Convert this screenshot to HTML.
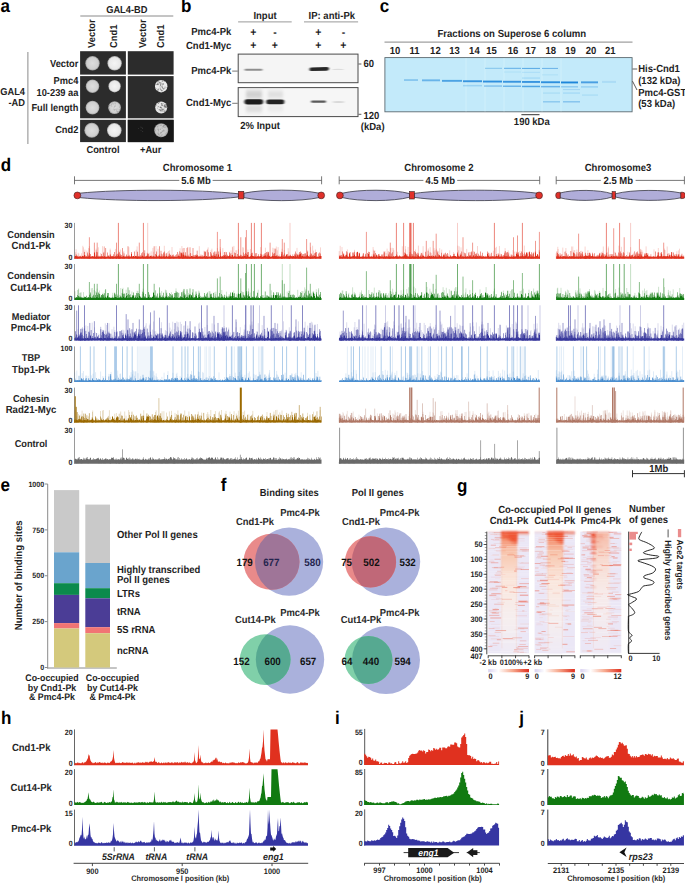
<!DOCTYPE html>
<html><head><meta charset="utf-8"><style>
html,body{margin:0;padding:0;background:#fff;width:685px;height:883px;overflow:hidden}
svg{display:block;text-rendering:geometricPrecision}
</style></head><body>
<svg width="685" height="883" viewBox="0 0 685 883" font-family="'Liberation Sans', sans-serif" font-weight="bold" font-size="9.5" fill="#1e1e1e">
<defs><radialGradient id="col"><stop offset="0" stop-color="#dedede"/><stop offset="0.8" stop-color="#cfcfcf"/><stop offset="1" stop-color="#9a9a9a"/></radialGradient>
<radialGradient id="colw"><stop offset="0" stop-color="#f4f4f4"/><stop offset="0.8" stop-color="#e8e8e8"/><stop offset="1" stop-color="#a8a8a8"/></radialGradient>
<radialGradient id="colg"><stop offset="0" stop-color="#d4d4d4"/><stop offset="0.85" stop-color="#c4c4c4"/><stop offset="1" stop-color="#8a8a8a"/></radialGradient>
<filter id="blur1" x="-20%" y="-200%" width="140%" height="500%"><feGaussianBlur stdDeviation="0.7"/></filter>
<filter id="blur2" x="-20%" y="-200%" width="140%" height="500%"><feGaussianBlur stdDeviation="1.2"/></filter>
<filter id="bb" x="-30%" y="-300%" width="160%" height="700%"><feGaussianBlur stdDeviation="1.2 0.75"/></filter>
<filter id="bb2" x="-30%" y="-100%" width="160%" height="300%"><feGaussianBlur stdDeviation="1.5 2.2"/></filter>
<filter id="blur05" x="-5%" y="-100%" width="110%" height="300%"><feGaussianBlur stdDeviation="0.45"/></filter>
<clipPath id="v1"><circle cx="271.5" cy="561.8" r="28"/></clipPath>
<clipPath id="v2"><circle cx="370.5" cy="561.9" r="25.6"/></clipPath>
<clipPath id="v3"><circle cx="265.2" cy="659.6" r="25.4"/></clipPath>
<clipPath id="v4"><circle cx="368.5" cy="660" r="24"/></clipPath>
<linearGradient id="midg" x1="0" y1="0" x2="0" y2="1"><stop offset="0" stop-color="#f26a4a"/><stop offset="0.06" stop-color="#f4906f"/><stop offset="0.18" stop-color="#f8c8b0"/><stop offset="0.4" stop-color="#fae6dc"/><stop offset="0.7" stop-color="#f6eeee"/><stop offset="1" stop-color="#efeaf5"/></linearGradient>
<linearGradient id="midg3" x1="0" y1="0" x2="0" y2="1"><stop offset="0" stop-color="#f6b8a4"/><stop offset="0.2" stop-color="#f8d8cc"/><stop offset="0.5" stop-color="#f7ebea"/><stop offset="1" stop-color="#efeaf5"/></linearGradient>
<linearGradient id="cbar" x1="0" y1="0" x2="1" y2="0"><stop offset="0" stop-color="#d9d2f0"/><stop offset="0.25" stop-color="#ffffff"/><stop offset="0.6" stop-color="#f7a98e"/><stop offset="1" stop-color="#df2d1c"/></linearGradient>
<filter id="hb" x="-10%" y="-10%" width="120%" height="120%"><feGaussianBlur stdDeviation="1.1 0.9"/></filter>
<filter id="hs" x="-10%" y="-100%" width="120%" height="300%"><feGaussianBlur stdDeviation="0.6 0.3"/></filter>
<linearGradient id="midg" x1="0" y1="0" x2="0" y2="1"><stop offset="0" stop-color="#f6b8a0"/><stop offset="0.08" stop-color="#f8cfbd"/><stop offset="0.18" stop-color="#fadfd3"/><stop offset="0.35" stop-color="#fbf0ec"/><stop offset="0.6" stop-color="#f8f3f5"/><stop offset="0.8" stop-color="#f0edf7"/><stop offset="1" stop-color="#ece9f6"/></linearGradient>
<linearGradient id="midg3" x1="0" y1="0" x2="0" y2="1"><stop offset="0" stop-color="#f9dcd0"/><stop offset="0.3" stop-color="#faeae4"/><stop offset="0.6" stop-color="#f7f0f2"/><stop offset="1" stop-color="#eeebf7"/></linearGradient></defs>
<text transform="translate(0.4,12.2) scale(1,1.08)" font-size="17" fill="#000">a</text>
<text transform="translate(180.9,12.2) scale(1,1.08)" font-size="17" fill="#000">b</text>
<text transform="translate(379.7,12.2) scale(1,1.08)" font-size="17" fill="#000">c</text>
<text transform="translate(0.7,170.7) scale(1,1.08)" font-size="17" fill="#000">d</text>
<text transform="translate(0.6,491.3) scale(1,1.08)" font-size="17" fill="#000">e</text>
<text transform="translate(220.8,491.1) scale(1,1.08)" font-size="17" fill="#000">f</text>
<text transform="translate(457,491.5) scale(1,1.08)" font-size="17" fill="#000">g</text>
<text transform="translate(1,723.9) scale(1,1.08)" font-size="17" fill="#000">h</text>
<text transform="translate(335,723.6) scale(1,1.08)" font-size="17" fill="#000">i</text>
<text transform="translate(519.2,723.6) scale(1,1.08)" font-size="17" fill="#000">j</text>
<text transform="translate(126.8,12.8) scale(1,1.08)" text-anchor="middle" font-size="9.3">GAL4-BD</text>
<line x1="80.3" y1="16" x2="173.3" y2="16" stroke="#8a8a8a" stroke-width="1"/>
<text transform="translate(95,47.9) rotate(-90) scale(1,1.08)" font-size="9.3">Vector</text>
<text transform="translate(117,47.9) rotate(-90) scale(1,1.08)" font-size="9.3">Cnd1</text>
<text transform="translate(145.7,47.9) rotate(-90) scale(1,1.08)" font-size="9.3">Vector</text>
<text transform="translate(163.8,47.9) rotate(-90) scale(1,1.08)" font-size="9.3">Cnd1</text>
<rect x="80.1" y="51.2" width="45.8" height="23.4" fill="#2c2c2c"/>
<rect x="80.1" y="76.1" width="45.8" height="42.2" fill="#2c2c2c"/>
<rect x="80.1" y="119.8" width="45.8" height="22.3" fill="#2c2c2c"/>
<rect x="127.8" y="51.2" width="45.8" height="23.4" fill="#2c2c2c"/>
<rect x="127.8" y="76.1" width="45.8" height="42.2" fill="#2c2c2c"/>
<rect x="127.8" y="119.8" width="45.8" height="22.3" fill="#2c2c2c"/>
<rect x="127.8" y="119.8" width="45.8" height="22.3" fill="#171717"/>
<circle cx="92.5" cy="63.3" r="7.2" fill="url(#col)"/>
<circle cx="114.6" cy="63.3" r="7.2" fill="url(#colw)"/>
<circle cx="92.5" cy="86.2" r="6.7" fill="url(#col)"/>
<circle cx="114.6" cy="86.2" r="6.2" fill="url(#colw)"/>
<circle cx="92.5" cy="107.6" r="6.9" fill="url(#col)"/>
<circle cx="114.6" cy="107.6" r="6.4" fill="url(#col)"/>
<circle cx="91.8" cy="130.3" r="7.5" fill="url(#col)"/>
<circle cx="114.3" cy="130.3" r="7.3" fill="url(#colw)"/>
<circle cx="161.2" cy="130.3" r="7" fill="url(#colg)"/>
<circle cx="161.2" cy="86.2" r="6.2" fill="#ececec"/>
<circle cx="160.21" cy="88.18" r="0.64" fill="#5a5a5a" fill-opacity="0.55"/>
<circle cx="164.95" cy="88.04" r="0.51" fill="#5a5a5a" fill-opacity="0.55"/>
<circle cx="165" cy="87.65" r="0.37" fill="#5a5a5a" fill-opacity="0.55"/>
<circle cx="159.82" cy="86.81" r="0.39" fill="#5a5a5a" fill-opacity="0.55"/>
<circle cx="156.59" cy="88.57" r="0.41" fill="#5a5a5a" fill-opacity="0.55"/>
<circle cx="161.96" cy="90.65" r="0.78" fill="#5a5a5a" fill-opacity="0.55"/>
<circle cx="158.02" cy="84.53" r="0.79" fill="#5a5a5a" fill-opacity="0.55"/>
<circle cx="166.26" cy="87.72" r="0.48" fill="#5a5a5a" fill-opacity="0.55"/>
<circle cx="162.41" cy="87.74" r="0.49" fill="#5a5a5a" fill-opacity="0.55"/>
<circle cx="162.18" cy="83.98" r="0.61" fill="#5a5a5a" fill-opacity="0.55"/>
<circle cx="158.96" cy="83.53" r="0.6" fill="#5a5a5a" fill-opacity="0.55"/>
<circle cx="162.49" cy="86.74" r="0.44" fill="#5a5a5a" fill-opacity="0.55"/>
<circle cx="159.62" cy="82.82" r="0.49" fill="#5a5a5a" fill-opacity="0.55"/>
<circle cx="157.9" cy="84.23" r="0.48" fill="#5a5a5a" fill-opacity="0.55"/>
<circle cx="162.51" cy="81.62" r="0.46" fill="#5a5a5a" fill-opacity="0.55"/>
<circle cx="157.51" cy="84.34" r="0.74" fill="#5a5a5a" fill-opacity="0.55"/>
<circle cx="160.81" cy="83.16" r="0.79" fill="#5a5a5a" fill-opacity="0.55"/>
<circle cx="163.92" cy="88.69" r="0.69" fill="#5a5a5a" fill-opacity="0.55"/>
<circle cx="163.5" cy="89.46" r="0.37" fill="#5a5a5a" fill-opacity="0.55"/>
<circle cx="158.75" cy="81.86" r="0.61" fill="#5a5a5a" fill-opacity="0.55"/>
<circle cx="163.47" cy="83.95" r="0.66" fill="#5a5a5a" fill-opacity="0.55"/>
<circle cx="157.6" cy="83.77" r="0.56" fill="#5a5a5a" fill-opacity="0.55"/>
<circle cx="164.17" cy="81.52" r="0.56" fill="#5a5a5a" fill-opacity="0.55"/>
<circle cx="160.48" cy="84.99" r="0.67" fill="#5a5a5a" fill-opacity="0.55"/>
<circle cx="157.78" cy="81.66" r="0.72" fill="#5a5a5a" fill-opacity="0.55"/>
<circle cx="160.44" cy="89.66" r="0.65" fill="#5a5a5a" fill-opacity="0.55"/>
<circle cx="165.04" cy="86.75" r="0.43" fill="#5a5a5a" fill-opacity="0.55"/>
<circle cx="162.23" cy="87.13" r="0.7" fill="#5a5a5a" fill-opacity="0.55"/>
<circle cx="163.15" cy="88.26" r="0.53" fill="#5a5a5a" fill-opacity="0.55"/>
<circle cx="162.32" cy="85.03" r="0.55" fill="#5a5a5a" fill-opacity="0.55"/>
<circle cx="156.1" cy="84.56" r="0.72" fill="#5a5a5a" fill-opacity="0.55"/>
<circle cx="163.18" cy="83.93" r="0.54" fill="#5a5a5a" fill-opacity="0.55"/>
<circle cx="157.81" cy="90.36" r="0.78" fill="#5a5a5a" fill-opacity="0.55"/>
<circle cx="162.6" cy="88.15" r="0.45" fill="#5a5a5a" fill-opacity="0.55"/>
<circle cx="161.62" cy="90.15" r="0.62" fill="#5a5a5a" fill-opacity="0.55"/>
<circle cx="161.17" cy="86.56" r="0.54" fill="#5a5a5a" fill-opacity="0.55"/>
<circle cx="158.28" cy="89.34" r="0.78" fill="#5a5a5a" fill-opacity="0.55"/>
<circle cx="159.7" cy="82.39" r="0.63" fill="#5a5a5a" fill-opacity="0.55"/>
<circle cx="160.61" cy="85.01" r="0.75" fill="#5a5a5a" fill-opacity="0.55"/>
<circle cx="162.2" cy="80.96" r="0.71" fill="#5a5a5a" fill-opacity="0.55"/>
<circle cx="161.2" cy="107.6" r="6" fill="#e6e6e6"/>
<circle cx="158.48" cy="109.78" r="0.4" fill="#4a4a4a" fill-opacity="0.55"/>
<circle cx="160.28" cy="106.57" r="0.38" fill="#4a4a4a" fill-opacity="0.55"/>
<circle cx="161.77" cy="109.75" r="0.5" fill="#4a4a4a" fill-opacity="0.55"/>
<circle cx="161.28" cy="107.63" r="0.42" fill="#4a4a4a" fill-opacity="0.55"/>
<circle cx="163.87" cy="109.58" r="0.36" fill="#4a4a4a" fill-opacity="0.55"/>
<circle cx="164.25" cy="104.53" r="0.42" fill="#4a4a4a" fill-opacity="0.55"/>
<circle cx="161.15" cy="110.85" r="0.51" fill="#4a4a4a" fill-opacity="0.55"/>
<circle cx="164.84" cy="111.15" r="0.8" fill="#4a4a4a" fill-opacity="0.55"/>
<circle cx="157.45" cy="108.41" r="0.39" fill="#4a4a4a" fill-opacity="0.55"/>
<circle cx="163.79" cy="109.53" r="0.47" fill="#4a4a4a" fill-opacity="0.55"/>
<circle cx="162.25" cy="105.65" r="0.36" fill="#4a4a4a" fill-opacity="0.55"/>
<circle cx="165.02" cy="106.38" r="0.42" fill="#4a4a4a" fill-opacity="0.55"/>
<circle cx="160.33" cy="107.36" r="0.59" fill="#4a4a4a" fill-opacity="0.55"/>
<circle cx="166.28" cy="106.91" r="0.66" fill="#4a4a4a" fill-opacity="0.55"/>
<circle cx="160.97" cy="110.93" r="0.43" fill="#4a4a4a" fill-opacity="0.55"/>
<circle cx="161.75" cy="103.61" r="0.7" fill="#4a4a4a" fill-opacity="0.55"/>
<circle cx="159.95" cy="109.89" r="0.72" fill="#4a4a4a" fill-opacity="0.55"/>
<circle cx="166.27" cy="107.12" r="0.71" fill="#4a4a4a" fill-opacity="0.55"/>
<circle cx="163.18" cy="103.28" r="0.45" fill="#4a4a4a" fill-opacity="0.55"/>
<circle cx="157.93" cy="107.24" r="0.36" fill="#4a4a4a" fill-opacity="0.55"/>
<circle cx="164.07" cy="108.11" r="0.47" fill="#4a4a4a" fill-opacity="0.55"/>
<circle cx="159.29" cy="102.55" r="0.55" fill="#4a4a4a" fill-opacity="0.55"/>
<circle cx="166.26" cy="105.48" r="0.78" fill="#4a4a4a" fill-opacity="0.55"/>
<circle cx="159.49" cy="109.55" r="0.45" fill="#4a4a4a" fill-opacity="0.55"/>
<circle cx="162.02" cy="109.96" r="0.63" fill="#4a4a4a" fill-opacity="0.55"/>
<circle cx="165.3" cy="104.63" r="0.57" fill="#4a4a4a" fill-opacity="0.55"/>
<circle cx="158.37" cy="103.55" r="0.39" fill="#4a4a4a" fill-opacity="0.55"/>
<circle cx="158.39" cy="103.14" r="0.7" fill="#4a4a4a" fill-opacity="0.55"/>
<circle cx="161.2" cy="103.78" r="0.43" fill="#4a4a4a" fill-opacity="0.55"/>
<circle cx="161.97" cy="104.51" r="0.71" fill="#4a4a4a" fill-opacity="0.55"/>
<circle cx="164.62" cy="106.98" r="0.53" fill="#4a4a4a" fill-opacity="0.55"/>
<circle cx="165.64" cy="106.06" r="0.43" fill="#4a4a4a" fill-opacity="0.55"/>
<circle cx="162.7" cy="109.14" r="0.76" fill="#4a4a4a" fill-opacity="0.55"/>
<circle cx="161.93" cy="105.62" r="0.72" fill="#4a4a4a" fill-opacity="0.55"/>
<circle cx="165.64" cy="107.05" r="0.51" fill="#4a4a4a" fill-opacity="0.55"/>
<circle cx="159.29" cy="107" r="0.36" fill="#4a4a4a" fill-opacity="0.55"/>
<circle cx="165.57" cy="106.79" r="0.59" fill="#4a4a4a" fill-opacity="0.55"/>
<circle cx="164.52" cy="106.13" r="0.74" fill="#4a4a4a" fill-opacity="0.55"/>
<circle cx="162.37" cy="105.35" r="0.46" fill="#4a4a4a" fill-opacity="0.55"/>
<circle cx="160.48" cy="110.21" r="0.61" fill="#4a4a4a" fill-opacity="0.55"/>
<circle cx="160.99" cy="111.17" r="0.41" fill="#4a4a4a" fill-opacity="0.55"/>
<circle cx="163.97" cy="105.84" r="0.56" fill="#4a4a4a" fill-opacity="0.55"/>
<circle cx="156.65" cy="104.98" r="0.54" fill="#4a4a4a" fill-opacity="0.55"/>
<circle cx="164.6" cy="105.67" r="0.59" fill="#4a4a4a" fill-opacity="0.55"/>
<circle cx="160.45" cy="107.49" r="0.55" fill="#4a4a4a" fill-opacity="0.55"/>
<circle cx="161.34" cy="107.92" r="0.71" fill="#4a4a4a" fill-opacity="0.55"/>
<circle cx="162.98" cy="110.96" r="0.68" fill="#4a4a4a" fill-opacity="0.55"/>
<circle cx="158.24" cy="106.51" r="0.58" fill="#4a4a4a" fill-opacity="0.55"/>
<circle cx="109.7" cy="105.82" r="0.4" fill="#9a9a9a" fill-opacity="0.55"/>
<circle cx="111.87" cy="106.51" r="0.47" fill="#9a9a9a" fill-opacity="0.55"/>
<circle cx="115.18" cy="103.45" r="0.6" fill="#9a9a9a" fill-opacity="0.55"/>
<circle cx="114.95" cy="101.99" r="0.55" fill="#9a9a9a" fill-opacity="0.55"/>
<circle cx="111.42" cy="104.88" r="0.58" fill="#9a9a9a" fill-opacity="0.55"/>
<circle cx="113.21" cy="103.89" r="0.59" fill="#9a9a9a" fill-opacity="0.55"/>
<circle cx="108.94" cy="108.39" r="0.66" fill="#9a9a9a" fill-opacity="0.55"/>
<circle cx="118.68" cy="103.6" r="0.47" fill="#9a9a9a" fill-opacity="0.55"/>
<circle cx="109.28" cy="105.51" r="0.73" fill="#9a9a9a" fill-opacity="0.55"/>
<circle cx="115.94" cy="109.16" r="0.55" fill="#9a9a9a" fill-opacity="0.55"/>
<circle cx="117.19" cy="108.87" r="0.38" fill="#9a9a9a" fill-opacity="0.55"/>
<circle cx="112.07" cy="103.04" r="0.75" fill="#9a9a9a" fill-opacity="0.55"/>
<circle cx="117.42" cy="111.71" r="0.65" fill="#9a9a9a" fill-opacity="0.55"/>
<circle cx="118.05" cy="111.93" r="0.79" fill="#9a9a9a" fill-opacity="0.55"/>
<circle cx="115.69" cy="113.24" r="0.53" fill="#9a9a9a" fill-opacity="0.55"/>
<circle cx="108.76" cy="108.07" r="0.72" fill="#9a9a9a" fill-opacity="0.55"/>
<circle cx="116.64" cy="110.88" r="0.58" fill="#9a9a9a" fill-opacity="0.55"/>
<circle cx="113.22" cy="109.81" r="0.49" fill="#9a9a9a" fill-opacity="0.55"/>
<circle cx="114.46" cy="106.79" r="0.6" fill="#9a9a9a" fill-opacity="0.55"/>
<circle cx="113.86" cy="107.89" r="0.5" fill="#9a9a9a" fill-opacity="0.55"/>
<circle cx="111.6" cy="104.64" r="0.38" fill="#9a9a9a" fill-opacity="0.55"/>
<circle cx="119.8" cy="107.11" r="0.79" fill="#9a9a9a" fill-opacity="0.55"/>
<circle cx="117" cy="109.46" r="0.37" fill="#9a9a9a" fill-opacity="0.55"/>
<circle cx="115.15" cy="104.59" r="0.41" fill="#9a9a9a" fill-opacity="0.55"/>
<circle cx="109.64" cy="110.24" r="0.72" fill="#9a9a9a" fill-opacity="0.55"/>
<circle cx="114.48" cy="109.87" r="0.76" fill="#9a9a9a" fill-opacity="0.55"/>
<circle cx="110.15" cy="105.49" r="0.39" fill="#9a9a9a" fill-opacity="0.55"/>
<circle cx="119.17" cy="109.33" r="0.54" fill="#9a9a9a" fill-opacity="0.55"/>
<circle cx="119.72" cy="110.11" r="0.64" fill="#9a9a9a" fill-opacity="0.55"/>
<circle cx="115.14" cy="105.98" r="0.74" fill="#9a9a9a" fill-opacity="0.55"/>
<circle cx="166.67" cy="132.73" r="0.55" fill="#8a8a8a" fill-opacity="0.55"/>
<circle cx="158.66" cy="134.36" r="0.77" fill="#8a8a8a" fill-opacity="0.55"/>
<circle cx="160.94" cy="132.6" r="0.59" fill="#8a8a8a" fill-opacity="0.55"/>
<circle cx="161.35" cy="132.42" r="0.42" fill="#8a8a8a" fill-opacity="0.55"/>
<circle cx="163.95" cy="131.2" r="0.49" fill="#8a8a8a" fill-opacity="0.55"/>
<circle cx="159.3" cy="135.58" r="0.48" fill="#8a8a8a" fill-opacity="0.55"/>
<circle cx="158.48" cy="130.3" r="0.51" fill="#8a8a8a" fill-opacity="0.55"/>
<circle cx="164.4" cy="130.67" r="0.36" fill="#8a8a8a" fill-opacity="0.55"/>
<circle cx="160.69" cy="125.55" r="0.44" fill="#8a8a8a" fill-opacity="0.55"/>
<circle cx="155.05" cy="131.28" r="0.4" fill="#8a8a8a" fill-opacity="0.55"/>
<circle cx="162.98" cy="126.46" r="0.57" fill="#8a8a8a" fill-opacity="0.55"/>
<circle cx="163.25" cy="126.82" r="0.58" fill="#8a8a8a" fill-opacity="0.55"/>
<circle cx="158.77" cy="124.4" r="0.5" fill="#8a8a8a" fill-opacity="0.55"/>
<circle cx="163.88" cy="125.59" r="0.64" fill="#8a8a8a" fill-opacity="0.55"/>
<circle cx="158.06" cy="132.44" r="0.37" fill="#8a8a8a" fill-opacity="0.55"/>
<circle cx="162.37" cy="131.55" r="0.68" fill="#8a8a8a" fill-opacity="0.55"/>
<circle cx="161.11" cy="132.9" r="0.39" fill="#8a8a8a" fill-opacity="0.55"/>
<circle cx="164.46" cy="125.25" r="0.65" fill="#8a8a8a" fill-opacity="0.55"/>
<circle cx="160.57" cy="133.41" r="0.48" fill="#8a8a8a" fill-opacity="0.55"/>
<circle cx="158.73" cy="130.94" r="0.55" fill="#8a8a8a" fill-opacity="0.55"/>
<circle cx="160.68" cy="136.59" r="0.79" fill="#8a8a8a" fill-opacity="0.55"/>
<circle cx="158.15" cy="129.37" r="0.78" fill="#8a8a8a" fill-opacity="0.55"/>
<circle cx="159.79" cy="133.88" r="0.35" fill="#8a8a8a" fill-opacity="0.55"/>
<circle cx="157.94" cy="133.3" r="0.58" fill="#8a8a8a" fill-opacity="0.55"/>
<circle cx="162.59" cy="134.66" r="0.35" fill="#8a8a8a" fill-opacity="0.55"/>
<circle cx="161.03" cy="132.22" r="0.53" fill="#8a8a8a" fill-opacity="0.55"/>
<circle cx="162.13" cy="130.55" r="0.49" fill="#8a8a8a" fill-opacity="0.55"/>
<circle cx="161.73" cy="135.2" r="0.59" fill="#8a8a8a" fill-opacity="0.55"/>
<circle cx="161.22" cy="125.08" r="0.67" fill="#8a8a8a" fill-opacity="0.55"/>
<circle cx="164.11" cy="127.53" r="0.5" fill="#8a8a8a" fill-opacity="0.55"/>
<circle cx="163.68" cy="130.06" r="0.68" fill="#8a8a8a" fill-opacity="0.55"/>
<circle cx="160.36" cy="129.24" r="0.73" fill="#8a8a8a" fill-opacity="0.55"/>
<circle cx="165.17" cy="127.1" r="0.68" fill="#8a8a8a" fill-opacity="0.55"/>
<circle cx="162.12" cy="128.08" r="0.59" fill="#8a8a8a" fill-opacity="0.55"/>
<circle cx="155.32" cy="130.14" r="0.71" fill="#8a8a8a" fill-opacity="0.55"/>
<circle cx="163.47" cy="125.93" r="0.75" fill="#8a8a8a" fill-opacity="0.55"/>
<circle cx="159" cy="125.41" r="0.45" fill="#8a8a8a" fill-opacity="0.55"/>
<circle cx="163.5" cy="130.76" r="0.51" fill="#8a8a8a" fill-opacity="0.55"/>
<circle cx="165.85" cy="133.91" r="0.6" fill="#8a8a8a" fill-opacity="0.55"/>
<circle cx="157.66" cy="126.63" r="0.66" fill="#8a8a8a" fill-opacity="0.55"/>
<circle cx="140.94" cy="127.02" r="0.4" fill="#555"/>
<circle cx="142.79" cy="131.49" r="0.4" fill="#555"/>
<circle cx="141.02" cy="130.21" r="0.4" fill="#555"/>
<circle cx="141.96" cy="127.4" r="0.4" fill="#555"/>
<circle cx="142.42" cy="128.51" r="0.4" fill="#555"/>
<circle cx="138.45" cy="128.59" r="0.4" fill="#555"/>
<text transform="translate(78.4,66.8) scale(1,1.08)" text-anchor="end" font-size="9.3">Vector</text>
<text transform="translate(78.4,84.2) scale(1,1.08)" text-anchor="end" font-size="9.3">Pmc4</text>
<text transform="translate(78.4,95.8) scale(1,1.08)" text-anchor="end" font-size="9.3">10-239 aa</text>
<text transform="translate(78.4,111) scale(1,1.08)" text-anchor="end" font-size="9.3">Full length</text>
<text transform="translate(78.4,133.4) scale(1,1.08)" text-anchor="end" font-size="9.3">Cnd2</text>
<text transform="translate(25,94.9) scale(1,1.08)" text-anchor="end" font-size="9.3">GAL4</text>
<text transform="translate(25,106.3) scale(1,1.08)" text-anchor="end" font-size="9.3">-AD</text>
<line x1="27.9" y1="52" x2="27.9" y2="144" stroke="#8a8a8a" stroke-width="1"/>
<text transform="translate(103,152.6) scale(1,1.08)" text-anchor="middle" font-size="9.3">Control</text>
<text transform="translate(150.7,152.6) scale(1,1.08)" text-anchor="middle" font-size="9.3">+Aur</text>
<text transform="translate(265,18.8) scale(1,1.08)" text-anchor="middle">Input</text>
<text transform="translate(331.8,18.9) scale(1,1.08)" text-anchor="middle">IP: anti-Pk</text>
<line x1="238.1" y1="21.9" x2="291.7" y2="21.9" stroke="#999" stroke-width="1"/>
<line x1="304" y1="21.9" x2="358.1" y2="21.9" stroke="#999" stroke-width="1"/>
<text transform="translate(231.4,34.9) scale(1,1.08)" text-anchor="end">Pmc4-Pk</text>
<text transform="translate(231.4,48.9) scale(1,1.08)" text-anchor="end">Cnd1-Myc</text>
<text transform="translate(253.4,35.5) scale(1,1.08)" text-anchor="middle" font-size="10.5">+</text>
<text transform="translate(253.4,49.3) scale(1,1.08)" text-anchor="middle" font-size="10.5">+</text>
<text transform="translate(274.9,35.5) scale(1,1.08)" text-anchor="middle" font-size="10.5">-</text>
<text transform="translate(274.9,49.3) scale(1,1.08)" text-anchor="middle" font-size="10.5">+</text>
<text transform="translate(318.2,35.5) scale(1,1.08)" text-anchor="middle" font-size="10.5">+</text>
<text transform="translate(318.2,49.3) scale(1,1.08)" text-anchor="middle" font-size="10.5">+</text>
<text transform="translate(343.4,35.5) scale(1,1.08)" text-anchor="middle" font-size="10.5">-</text>
<text transform="translate(343.4,49.3) scale(1,1.08)" text-anchor="middle" font-size="10.5">+</text>
<rect x="238.2" y="54.1" width="119.8" height="28.6" fill="#f5f5f5" stroke="#4a4a4a" stroke-width="1"/>
<rect x="238.2" y="87.6" width="119.8" height="29" fill="#f6f6f6" stroke="#4a4a4a" stroke-width="1"/>
<g filter="url(#bb2)">
<rect x="246" y="90.5" width="16" height="8" fill="#cfcfcf"/>
<rect x="246" y="105" width="16" height="7" fill="#dadada"/>
<rect x="268" y="91" width="15" height="7" fill="#dedede"/>
<rect x="268" y="105" width="15" height="6" fill="#e8e8e8"/>
</g>
<g filter="url(#bb)">
<rect x="244.5" y="68.7" width="18" height="2" rx="1" fill="#8e8e8e"/>
<path d="M309.5,68.9 Q309.5,67.6 311,67.5 L327,66.9 Q329,66.9 329,68.6 Q329,70.6 327,70.7 L311,71 Q309.5,71 309.5,69.5Z" fill="#262626"/>
<ellipse cx="338" cy="69.4" rx="6" ry="0.7" fill="#dcdcdc"/>
<rect x="244.4" y="99.3" width="18.8" height="5.2" rx="2.4" fill="#1c1c1c"/>
<rect x="266.2" y="99.4" width="18.2" height="4.8" rx="2.3" fill="#222"/>
<rect x="311" y="100.6" width="15" height="2.1" rx="1" fill="#5a5a5a"/>
<ellipse cx="338.5" cy="102" rx="6.5" ry="0.8" fill="#cfcfcf"/>
</g>
<text transform="translate(231.4,73.9) scale(1,1.08)" text-anchor="end">Pmc4-Pk</text>
<line x1="232.2" y1="71.1" x2="237.7" y2="71.1" stroke="#555" stroke-width="0.8"/>
<text transform="translate(231.4,106.1) scale(1,1.08)" text-anchor="end">Cnd1-Myc</text>
<line x1="232.2" y1="103.3" x2="237.7" y2="103.3" stroke="#555" stroke-width="0.8"/>
<line x1="358.5" y1="64" x2="361.4" y2="64" stroke="#333" stroke-width="0.8"/>
<line x1="358.5" y1="114.3" x2="361.4" y2="114.3" stroke="#333" stroke-width="0.8"/>
<text transform="translate(363.4,67.2) scale(1,1.08)">60</text>
<text transform="translate(363.4,118.6) scale(1,1.08)">120</text>
<text transform="translate(360.8,129.6) scale(1,1.08)">(kDa)</text>
<text transform="translate(240.3,128.5) scale(1,1.08)">2% Input</text>
<text transform="translate(437.4,37.2) scale(1,1.08)" font-size="9.6">Fractions on Superose 6 column</text>
<line x1="384.5" y1="42.1" x2="632.5" y2="42.1" stroke="#888" stroke-width="1"/>
<text transform="translate(395.1,54.2) scale(1,1.08)" text-anchor="middle">10</text>
<text transform="translate(414.4,54.2) scale(1,1.08)" text-anchor="middle">11</text>
<text transform="translate(435.4,54.2) scale(1,1.08)" text-anchor="middle">12</text>
<text transform="translate(454.6,54.2) scale(1,1.08)" text-anchor="middle">13</text>
<text transform="translate(474.4,54.2) scale(1,1.08)" text-anchor="middle">14</text>
<text transform="translate(491.5,54.2) scale(1,1.08)" text-anchor="middle">15</text>
<text transform="translate(513,54.2) scale(1,1.08)" text-anchor="middle">16</text>
<text transform="translate(530.8,54.2) scale(1,1.08)" text-anchor="middle">17</text>
<text transform="translate(550.7,54.2) scale(1,1.08)" text-anchor="middle">18</text>
<text transform="translate(570.5,54.2) scale(1,1.08)" text-anchor="middle">19</text>
<text transform="translate(591.1,54.2) scale(1,1.08)" text-anchor="middle">20</text>
<text transform="translate(610.3,54.2) scale(1,1.08)" text-anchor="middle">21</text>
<rect x="384.9" y="57.6" width="247.2" height="54.2" fill="#c3eafa" stroke="#5d6a70" stroke-width="0.9"/>
<rect x="465.4" y="58" width="1.3" height="53.5" fill="#e2f5fd" opacity="0.35"/>
<rect x="484.4" y="58" width="1.3" height="53.5" fill="#e2f5fd" opacity="0.35"/>
<rect x="503.4" y="58" width="1.3" height="53.5" fill="#e2f5fd" opacity="0.35"/>
<rect x="522.4" y="58" width="1.3" height="53.5" fill="#e2f5fd" opacity="0.35"/>
<rect x="541.4" y="58" width="1.3" height="53.5" fill="#e2f5fd" opacity="0.35"/>
<rect x="560.4" y="58" width="1.3" height="53.5" fill="#e2f5fd" opacity="0.35"/>
<g filter="url(#blur05)">
<rect x="404" y="79.1" width="14" height="1.9" fill="#1f86da" opacity="0.35"/>
<rect x="422" y="79.4" width="18" height="1.9" fill="#1f86da" opacity="0.55"/>
<rect x="442" y="79.9" width="20" height="1.9" fill="#1f86da" opacity="0.7"/>
<rect x="463" y="80.3" width="19" height="1.9" fill="#1f86da" opacity="0.85"/>
<rect x="483" y="80.6" width="19" height="1.9" fill="#1f86da" opacity="0.9"/>
<rect x="503" y="80.8" width="18" height="1.9" fill="#1f86da" opacity="0.85"/>
<rect x="522" y="81" width="18" height="1.9" fill="#1f86da" opacity="0.85"/>
<rect x="541" y="81.3" width="19" height="1.9" fill="#1f86da" opacity="0.9"/>
<rect x="561" y="81.5" width="17" height="1.9" fill="#1f86da" opacity="1"/>
<rect x="581" y="81.4" width="17" height="1.9" fill="#1f86da" opacity="0.75"/>
<rect x="602" y="80.9" width="14" height="1.9" fill="#1f86da" opacity="0.15"/>
<rect x="463" y="84.9" width="19" height="1.5" fill="#1f86da" opacity="0.25"/>
<rect x="484" y="85.3" width="18" height="1.5" fill="#1f86da" opacity="0.4"/>
<rect x="503" y="85.5" width="18" height="1.5" fill="#1f86da" opacity="0.55"/>
<rect x="522" y="85.7" width="18" height="1.5" fill="#1f86da" opacity="0.7"/>
<rect x="541" y="85.9" width="19" height="1.5" fill="#1f86da" opacity="0.55"/>
<rect x="561" y="86" width="17" height="1.5" fill="#1f86da" opacity="0.3"/>
<rect x="581" y="86.1" width="17" height="1.5" fill="#1f86da" opacity="0.25"/>
<rect x="485" y="67.8" width="17" height="1.1" fill="#1f86da" opacity="0.35"/>
<rect x="504" y="67.8" width="17" height="1.1" fill="#1f86da" opacity="0.55"/>
<rect x="522" y="67.9" width="18" height="1.1" fill="#1f86da" opacity="0.6"/>
<rect x="542" y="67.9" width="16" height="1.1" fill="#1f86da" opacity="0.5"/>
<rect x="504" y="71.5" width="17" height="1.1" fill="#1f86da" opacity="0.1"/>
<rect x="522" y="71.8" width="18" height="1.1" fill="#1f86da" opacity="0.12"/>
<rect x="542" y="74.3" width="16" height="1.1" fill="#1f86da" opacity="0.1"/>
<rect x="543" y="101.3" width="17" height="1.1" fill="#1f86da" opacity="0.45"/>
<rect x="563" y="101.3" width="17" height="1.1" fill="#1f86da" opacity="0.5"/>
<rect x="563" y="92.5" width="17" height="1.1" fill="#1f86da" opacity="0.2"/>
<rect x="543" y="92.5" width="17" height="1.1" fill="#1f86da" opacity="0.15"/>
<rect x="582" y="94.5" width="16" height="1.1" fill="#1f86da" opacity="0.15"/>
<rect x="563" y="89" width="17" height="1.1" fill="#1f86da" opacity="0.2"/>
<rect x="522" y="77.5" width="18" height="1.1" fill="#1f86da" opacity="0.2"/>
</g>
<line x1="632.5" y1="69" x2="637.2" y2="69" stroke="#333" stroke-width="0.8"/>
<line x1="632.5" y1="81.2" x2="637" y2="90" stroke="#333" stroke-width="0.8"/>
<text transform="translate(638.2,72.3) scale(1,1.08)">His-Cnd1</text>
<text transform="translate(638.2,83.9) scale(1,1.08)">(132 kDa)</text>
<text transform="translate(638.2,95.6) scale(1,1.08)">Pmc4-GST</text>
<text transform="translate(638.2,107.3) scale(1,1.08)">(53 kDa)</text>
<line x1="521.4" y1="114.7" x2="539.5" y2="114.7" stroke="#333" stroke-width="1"/>
<text transform="translate(531.8,125) scale(1,1.08)" text-anchor="middle">190 kDa</text>
<text transform="translate(197.4,170.5) scale(1,1.08)" text-anchor="middle">Chromosome 1</text>
<text transform="translate(438.9,170.5) scale(1,1.08)" text-anchor="middle">Chromosome 2</text>
<text transform="translate(618,170.5) scale(1,1.08)" text-anchor="middle">Chromosome3</text>
<line x1="74.5" y1="180.4" x2="179.3" y2="180.4" stroke="#555" stroke-width="0.8"/>
<line x1="212.6" y1="180.4" x2="321.6" y2="180.4" stroke="#555" stroke-width="0.8"/>
<line x1="74.5" y1="176.3" x2="74.5" y2="184.3" stroke="#555" stroke-width="0.8"/>
<line x1="321.6" y1="176.3" x2="321.6" y2="184.3" stroke="#555" stroke-width="0.8"/>
<text transform="translate(196,183.7) scale(1,1.08)" text-anchor="middle">5.6 Mb</text>
<line x1="339.2" y1="180.4" x2="423.4" y2="180.4" stroke="#555" stroke-width="0.8"/>
<line x1="457.2" y1="180.4" x2="539.7" y2="180.4" stroke="#555" stroke-width="0.8"/>
<line x1="339.2" y1="176.3" x2="339.2" y2="184.3" stroke="#555" stroke-width="0.8"/>
<line x1="539.7" y1="176.3" x2="539.7" y2="184.3" stroke="#555" stroke-width="0.8"/>
<text transform="translate(440.2,183.7) scale(1,1.08)" text-anchor="middle">4.5 Mb</text>
<line x1="556.2" y1="180.4" x2="600.8" y2="180.4" stroke="#555" stroke-width="0.8"/>
<line x1="635.6" y1="180.4" x2="684.4" y2="180.4" stroke="#555" stroke-width="0.8"/>
<line x1="556.2" y1="176.3" x2="556.2" y2="184.3" stroke="#555" stroke-width="0.8"/>
<line x1="684.4" y1="176.3" x2="684.4" y2="184.3" stroke="#555" stroke-width="0.8"/>
<text transform="translate(618.3,183.7) scale(1,1.08)" text-anchor="middle">2.5 Mb</text>
<path d="M79.5,193.2 C119.22,189.14 198.68,189.14 238.4,193.8 L238.4,197 C198.68,201.66 119.22,201.66 79.5,197.6Z" fill="#b0add9" stroke="#2e2e3a" stroke-width="0.75"/>
<path d="M243.9,193.2 C262.68,189.14 300.23,189.14 319,193.2 L319,197.6 C300.23,201.66 262.68,201.66 243.9,197.6Z" fill="#b0add9" stroke="#2e2e3a" stroke-width="0.75"/>
<circle cx="77.35" cy="195.4" r="3.4" fill="#e0302a" stroke="#3a2020" stroke-width="0.6"/>
<circle cx="321.2" cy="195.4" r="3.4" fill="#e0302a" stroke="#3a2020" stroke-width="0.6"/>
<rect x="238.3" y="191.3" width="5.5" height="7.6" fill="#e0302a" stroke="#3a2020" stroke-width="0.6"/>
<path d="M342.5,193.2 C359.27,189.14 392.83,189.14 409.6,193.6 L409.6,197.2 C392.83,201.66 359.27,201.66 342.5,197.6Z" fill="#b0add9" stroke="#2e2e3a" stroke-width="0.75"/>
<path d="M414.2,193.4 C444.9,189.14 506.3,189.14 537,193.2 L537,197.6 C506.3,201.66 444.9,201.66 414.2,197.4Z" fill="#b0add9" stroke="#2e2e3a" stroke-width="0.75"/>
<circle cx="339.9" cy="195.4" r="3.4" fill="#e0302a" stroke="#3a2020" stroke-width="0.6"/>
<circle cx="539.1" cy="195.4" r="3.4" fill="#e0302a" stroke="#3a2020" stroke-width="0.6"/>
<rect x="409.5" y="191.6" width="4.8" height="7.4" fill="#e0302a" stroke="#3a2020" stroke-width="0.6"/>
<path d="M560,193 C573.05,189.42 599.15,189.42 612.2,193.8 L612.2,197 C599.15,201.38 573.05,201.38 560,197.8Z" fill="#b0add9" stroke="#2e2e3a" stroke-width="0.75"/>
<path d="M615.3,193.8 C631.72,189.42 664.58,189.42 681,193 L681,197.8 C664.58,201.38 631.72,201.38 615.3,197Z" fill="#b0add9" stroke="#2e2e3a" stroke-width="0.75"/>
<path d="M560.2,192.2 L558,192.3 A2.3,3.1 0 0 0 558,198.5 L560.2,198.6Z" fill="#e0302a" stroke="#3a2020" stroke-width="0.6"/>
<path d="M680.8,192.2 L683,192.3 A2.3,3.1 0 0 1 683,198.5 L680.8,198.6Z" fill="#e0302a" stroke="#3a2020" stroke-width="0.6"/>
<rect x="612.1" y="191.6" width="3.3" height="7.4" fill="#e0302a" stroke="#3a2020" stroke-width="0.6"/>
<text transform="translate(31,238.1) scale(1,1.08)" text-anchor="middle" font-size="9.2" fill="#262626">Condensin</text>
<text transform="translate(31,249.3) scale(1,1.08)" text-anchor="middle" font-size="9.6" fill="#262626">Cnd1-Pk</text>
<text transform="translate(72.4,227.9) scale(1,1.08)" text-anchor="end" font-size="7.1">30</text>
<text transform="translate(72.4,259.6) scale(1,1.08)" text-anchor="end" font-size="7.1">0</text>
<text transform="translate(31,279.3) scale(1,1.08)" text-anchor="middle" font-size="9.2" fill="#262626">Condensin</text>
<text transform="translate(31,290.5) scale(1,1.08)" text-anchor="middle" font-size="9.6" fill="#262626">Cut14-Pk</text>
<text transform="translate(72.4,269) scale(1,1.08)" text-anchor="end" font-size="7.1">30</text>
<text transform="translate(72.4,300.8) scale(1,1.08)" text-anchor="end" font-size="7.1">0</text>
<text transform="translate(31,319.9) scale(1,1.08)" text-anchor="middle" font-size="9.2" fill="#262626">Mediator</text>
<text transform="translate(31,331.1) scale(1,1.08)" text-anchor="middle" font-size="9.6" fill="#262626">Pmc4-Pk</text>
<text transform="translate(72.4,310.3) scale(1,1.08)" text-anchor="end" font-size="7.1">30</text>
<text transform="translate(72.4,341.4) scale(1,1.08)" text-anchor="end" font-size="7.1">0</text>
<text transform="translate(31,361.3) scale(1,1.08)" text-anchor="middle" font-size="9.2" fill="#262626">TBP</text>
<text transform="translate(31,372.5) scale(1,1.08)" text-anchor="middle" font-size="9.6" fill="#262626">Tbp1-Pk</text>
<text transform="translate(72.4,351.4) scale(1,1.08)" text-anchor="end" font-size="7.1">100</text>
<text transform="translate(72.4,382.8) scale(1,1.08)" text-anchor="end" font-size="7.1">0</text>
<text transform="translate(31,401.9) scale(1,1.08)" text-anchor="middle" font-size="9.2" fill="#262626">Cohesin</text>
<text transform="translate(31,413.1) scale(1,1.08)" text-anchor="middle" font-size="9.6" fill="#262626">Rad21-Myc</text>
<text transform="translate(72.4,392.6) scale(1,1.08)" text-anchor="end" font-size="7.1">30</text>
<text transform="translate(72.4,423.4) scale(1,1.08)" text-anchor="end" font-size="7.1">0</text>
<text transform="translate(31,446.5) scale(1,1.08)" text-anchor="middle" font-size="9.2" fill="#262626">Control</text>
<text transform="translate(72.4,432.7) scale(1,1.08)" text-anchor="end" font-size="7.1">30</text>
<text transform="translate(72.4,464.5) scale(1,1.08)" text-anchor="end" font-size="7.1">0</text>
<line x1="74.5" y1="222.9" x2="74.5" y2="258.8" stroke="#9a9a9a" stroke-width="1"/>
<path d="M74.5 258.8V256.6h.5V256.0h.5V256.1h.5V254.4h.5V256.3h.5V256.8h.5V256.5h.5V256.6h.5V256.8h.5V256.5h.5V256.2h.5V256.6h.5V255.8h.5V256.7h.5V256.6h.5V256.1h.5V255.8h.5V256.0h.5V256.5h.5V251.9h.5V255.1h.5V255.5h.5V256.7h.5V256.4h.5V256.2h.5V252.5h.5V256.8h.5V255.6h.5V256.4h.5V256.3h.5V253.0h.5V253.9h.5V256.7h.5V256.2h.5V256.6h.5V256.1h.5V256.3h.5V255.9h.5V256.8h.5V253.1h.5V252.0h.5V256.5h.5V256.7h.5V251.8h.5V256.2h.5V252.3h.5V256.4h.5V256.8h.5V256.4h.5V256.3h.5V256.8h.5V256.7h.5V256.3h.5V254.0h.5V256.6h.5V256.6h.5V256.1h.5V256.7h.5V252.4h.5V256.6h.5V256.0h.5V256.7h.5V256.8h.5V256.8h.5V256.5h.5V252.6h.5V256.5h.5V255.5h.5V256.3h.5V256.5h.5V256.7h.5V254.8h.5V256.6h.5V256.5h.5V255.9h.5V256.1h.5V256.8h.5V254.2h.5V256.4h.5V256.8h.5V252.1h.5V256.1h.5V256.6h.5V256.7h.5V254.4h.5V256.2h.5V253.8h.5V255.3h.5V253.6h.5V252.2h.5V256.4h.5V256.5h.5V254.3h.5V256.8h.5V255.1h.5V256.6h.5V256.8h.5V255.8h.5V256.3h.5V256.4h.5V256.5h.5V256.2h.5V256.8h.5V254.5h.5V256.5h.5V256.1h.5V256.8h.5V256.0h.5V256.6h.5V256.2h.5V256.6h.5V256.6h.5V256.6h.5V253.8h.5V251.9h.5V256.7h.5V256.0h.5V256.0h.5V256.1h.5V251.6h.5V256.8h.5V256.1h.5V256.1h.5V256.0h.5V256.5h.5V252.0h.5V256.8h.5V256.5h.5V256.3h.5V256.8h.5V256.2h.5V256.7h.5V256.6h.5V253.2h.5V256.5h.5V255.7h.5V252.2h.5V256.2h.5V256.8h.5V253.3h.5V256.8h.5V256.8h.5V256.6h.5V256.1h.5V256.5h.5V256.3h.5V254.2h.5V256.5h.5V253.8h.5V256.3h.5V256.8h.5V255.7h.5V256.0h.5V256.5h.5V255.6h.5V256.7h.5V256.2h.5V256.2h.5V256.3h.5V256.2h.5V256.7h.5V253.9h.5V256.8h.5V255.3h.5V251.5h.5V256.0h.5V256.8h.5V255.6h.5V256.4h.5V256.0h.5V254.5h.5V256.1h.5V256.7h.5V256.6h.5V256.2h.5V256.6h.5V256.6h.5V252.6h.5V256.3h.5V251.4h.5V256.6h.5V256.3h.5V256.7h.5V253.3h.5V256.1h.5V256.4h.5V256.7h.5V256.3h.5V256.5h.5V256.4h.5V253.6h.5V256.7h.5V254.9h.5V256.2h.5V256.6h.5V255.0h.5V256.6h.5V256.3h.5V256.7h.5V256.6h.5V256.4h.5V256.8h.5V255.3h.5V256.8h.5V254.3h.5V256.5h.5V251.9h.5V255.2h.5V256.0h.5V256.0h.5V256.6h.5V256.6h.5V252.4h.5V253.2h.5V252.6h.5V256.7h.5V255.3h.5V252.3h.5V254.9h.5V255.6h.5V256.5h.5V252.2h.5V255.7h.5V256.0h.5V256.7h.5V256.0h.5V256.8h.5V256.5h.5V256.3h.5V256.7h.5V256.6h.5V253.0h.5V256.7h.5V256.1h.5V256.1h.5V256.5h.5V256.1h.5V255.2h.5V256.8h.5V256.7h.5V255.3h.5V256.4h.5V255.1h.5V254.6h.5V255.9h.5V254.9h.5V256.6h.5V256.2h.5V256.7h.5V256.8h.5V255.9h.5V255.9h.5V256.8h.5V256.8h.5V256.2h.5V256.8h.5V256.2h.5V256.7h.5V256.0h.5V256.1h.5V251.5h.5V251.8h.5V256.7h.5V256.1h.5V256.3h.5V256.7h.5V256.6h.5V256.7h.5V252.2h.5V256.5h.5V256.4h.5V256.7h.5V252.0h.5V256.1h.5V253.6h.5V255.4h.5V256.2h.5V256.4h.5V252.6h.5V251.4h.5V256.1h.5V256.6h.5V256.3h.5V253.8h.5V256.7h.5V256.8h.5V256.6h.5V251.5h.5V254.6h.5V256.8h.5V256.7h.5V255.9h.5V252.5h.5V256.6h.5V256.8h.5V256.2h.5V256.2h.5V255.1h.5V256.6h.5V255.7h.5V252.0h.5V256.7h.5V254.8h.5V256.2h.5V256.5h.5V254.7h.5V256.3h.5V255.9h.5V256.2h.5V252.4h.5V255.4h.5V256.6h.5V253.6h.5V255.3h.5V256.7h.5V255.0h.5V254.7h.5V256.7h.5V256.4h.5V252.6h.5V256.2h.5V253.0h.5V256.4h.5V256.4h.5V256.8h.5V256.8h.5V253.9h.5V256.1h.5V256.6h.5V255.9h.5V256.4h.5V254.7h.5V256.6h.5V256.8h.5V256.6h.5V256.0h.5V256.5h.5V256.5h.5V252.4h.5V254.3h.5V256.0h.5V253.1h.5V256.1h.5V254.1h.5V256.4h.5V254.9h.5V252.3h.5V256.8h.5V252.1h.5V256.7h.5V256.8h.5V256.3h.5V256.2h.5V255.1h.5V253.3h.5V256.1h.5V252.8h.5V256.0h.5V256.6h.5V256.8h.5V256.2h.5V253.2h.5V256.4h.5V256.8h.5V256.6h.5V256.0h.5V256.5h.5V254.2h.5V256.3h.5V256.4h.5V256.3h.5V256.0h.5V253.7h.5V254.3h.5V256.6h.5V256.7h.5V256.7h.5V256.6h.5V256.0h.5V255.7h.5V253.5h.5V255.6h.5V253.1h.5V252.0h.5V256.6h.5V256.4h.5V254.8h.5V253.5h.5V256.2h.5V256.2h.5V256.1h.5V256.7h.5V256.8h.5V256.5h.5V256.4h.5V252.6h.5V255.8h.5V253.8h.5V256.3h.5V256.3h.5V253.0h.5V256.2h.5V255.9h.5V256.3h.5V255.8h.5V256.6h.5V256.4h.5V256.1h.5V256.7h.5V256.3h.5V256.7h.5V256.7h.5V256.2h.5V251.7h.5V256.1h.5V256.2h.5V256.5h.5V254.8h.5V256.6h.5V256.8h.5V253.5h.5V256.4h.5V255.8h.5V255.0h.5V254.0h.5V256.5h.5V253.9h.5V256.6h.5V256.1h.5V256.2h.5V256.3h.5V255.8h.5V254.8h.5V256.0h.5V256.2h.5V256.5h.5V255.8h.5V256.0h.5V256.1h.5V254.6h.5V256.5h.5V251.6h.5V255.4h.5V253.6h.5V256.4h.5V255.2h.5V254.2h.5V254.7h.5V256.4h.5V251.9h.5V254.4h.5V253.8h.5V251.5h.5V256.8h.5V256.1h.5V256.0h.5V254.3h.5V256.5h.5V254.0h.5V256.4h.5V253.4h.5V256.6h.5V253.6h.5V256.3h.5V255.3h.5V251.7h.5V254.7h.5V256.1h.5V256.4h.5V256.7h.5V256.5h.5V256.6h.5V256.5h.5V256.7h.5V254.1h.5V256.6h.5V255.7h.5V254.8h.5V256.5h.5V256.1h.5V253.2h.5V256.2h.5V253.1h.5V256.8h.5V251.9h.5V256.6h.5V256.7h.5V253.6h.5V256.7h.5V256.2h.5V252.5h.5V253.6h.5V256.1h.5V256.1h.5V258.8Z" fill="#e0311f"/>
<path d="M123.2 258.8V252.1M205.3 258.8V251.2M182.6 258.8V248.4M211.3 258.8V256.5M132.2 258.8V256.9M196.0 258.8V257.0M189.6 258.8V256.9M195.6 258.8V254.7M207.5 258.8V248.8M76.1 258.8V249.3M189.9 258.8V253.9M238.5 258.8V249.3M166.9 258.8V255.5M311.3 258.8V257.0M231.5 258.8V252.9M81.5 258.8V253.3M242.8 258.8V247.2M156.0 258.8V246.0M200.4 258.8V254.8M295.7 258.8V257.0M251.5 258.8V253.1M158.0 258.8V248.8M164.8 258.8V254.9M204.0 258.8V250.7M126.4 258.8V255.3M178.6 258.8V254.1M278.3 258.8V256.3M278.5 258.8V255.6M198.7 258.8V256.4M199.3 258.8V246.2M235.8 258.8V250.3M156.1 258.8V256.2M148.3 258.8V253.6M231.0 258.8V250.4M84.4 258.8V251.6M292.8 258.8V254.2M86.8 258.8V256.3M76.0 258.8V256.8M301.6 258.8V253.3M236.7 258.8V250.3M298.8 258.8V253.3M226.5 258.8V253.1M246.2 258.8V253.5M242.4 258.8V256.7M238.9 258.8V255.1M262.5 258.8V256.9M119.2 258.8V257.0M265.4 258.8V247.7M236.1 258.8V255.8M277.3 258.8V250.4M213.1 258.8V256.5M149.0 258.8V255.4M153.0 258.8V255.4M232.7 258.8V247.2M88.0 258.8V253.9M84.2 258.8V256.9M274.2 258.8V253.8M300.9 258.8V255.2M78.0 258.8V255.7M220.4 258.8V247.1M316.3 258.8V254.9M176.2 258.8V256.9M233.4 258.8V256.7M111.9 258.8V257.0M75.7 258.8V252.2M104.5 258.8V246.4M96.2 258.8V248.7M106.3 258.8V257.0M251.8 258.8V256.6M255.3 258.8V256.8M86.9 258.8V250.6M250.4 258.8V249.0M254.4 258.8V257.0M229.5 258.8V251.8M188.0 258.8V247.2M137.1 258.8V246.4M251.3 258.8V257.0M78.1 258.8V252.7M276.0 258.8V257.0M151.2 258.8V251.4M115.4 258.8V248.9M194.4 258.8V257.0M165.1 258.8V253.8M182.6 258.8V252.3M110.2 258.8V250.2M164.0 258.8V252.8M229.7 258.8V255.5M169.6 258.8V250.4M307.4 258.8V250.4M214.2 258.8V256.3M89.4 258.8V246.2M247.9 258.8V249.6M156.3 258.8V253.4M315.4 258.8V249.5M222.7 258.8V256.2M180.1 258.8V248.3M167.4 258.8V252.2M222.8 258.8V248.1M273.5 258.8V256.4M74.9 258.8V256.5M178.6 258.8V253.6M275.6 258.8V248.3M84.9 258.8V249.5M274.6 258.8V248.7M215.5 258.8V256.4M284.3 258.8V250.0M243.3 258.8V247.7M160.0 258.8V257.0M211.0 258.8V250.2M123.9 258.8V251.1M304.2 258.8V256.6M224.1 258.8V252.3M189.2 258.8V256.7M137.3 258.8V251.1M269.6 258.8V255.1M96.1 258.8V250.0M264.8 258.8V256.6M217.4 258.8V248.1M292.7 258.8V254.4M192.0 258.8V253.6M121.1 258.8V256.7M119.0 258.8V251.9M163.9 258.8V253.9M173.7 258.8V254.5M111.2 258.8V257.0M320.3 258.8V255.8M100.7 258.8V253.0M268.6 258.8V256.8M221.7 258.8V256.0M202.5 258.8V257.0M82.8 258.8V245.8M288.0 258.8V254.8M214.3 258.8V256.5M266.6 258.8V255.4M307.8 258.8V250.8M276.3 258.8V246.5M137.1 258.8V257.0M124.0 258.8V256.8M95.1 258.8V257.0M211.9 258.8V248.7M187.5 258.8V246.9M298.8 258.8V257.0M221.9 258.8V255.6M104.1 258.8V246.6M137.9 258.8V253.9M232.4 258.8V246.6M239.6 258.8V255.7M185.0 258.8V256.8M312.6 258.8V245.7M129.2 258.8V257.0M137.6 258.8V256.0M297.0 258.8V247.9M280.9 258.8V257.0M268.3 258.8V251.8M233.9 258.8V245.9M88.2 258.8V256.9M260.6 258.8V247.1M241.4 258.8V256.3M220.3 258.8V250.9M100.5 258.8V256.1M137.9 258.8V256.9M193.1 258.8V256.8M133.3 258.8V256.9M241.5 258.8V257.0M251.3 258.8V256.7M83.4 258.8V247.3M128.9 258.8V247.2M288.2 258.8V248.2M109.0 258.8V255.2M98.4 258.8V247.3M282.1 258.8V253.1M186.0 258.8V256.0M277.4 258.8V254.9M229.3 258.8V256.9M129.1 258.8V257.0M250.4 258.8V254.1M110.2 258.8V248.6M140.2 258.8V255.5M112.9 258.8V256.4M281.5 258.8V256.1M115.9 258.8V254.8M152.9 258.8V247.9M102.6 258.8V246.1M88.5 258.8V248.1M239.2 258.8V256.7M192.2 258.8V256.4M138.0 258.8V256.7M164.3 258.8V245.8M320.5 258.8V247.4M98.5 258.8V256.3M295.4 258.8V257.0M253.6 258.8V256.3M315.7 258.8V257.0M273.4 258.8V256.0M109.0 258.8V257.0M279.6 258.8V254.4M120.3 258.8V255.3M299.3 258.8V256.7M215.3 258.8V256.9M118.9 258.8V250.7M249.9 258.8V256.7M94.0 258.8V257.0M224.5 258.8V254.7M142.0 258.8V256.7M225.5 258.8V251.8M274.6 258.8V253.7M124.4 258.8V257.0M255.1 258.8V255.5M252.4 258.8V257.0M274.3 258.8V256.1M282.0 258.8V248.8M196.0 258.8V257.0M298.9 258.8V254.9M289.5 258.8V256.5M120.4 258.8V249.5M165.0 258.8V256.8M166.0 258.8V253.5M75.6 258.8V254.5M184.4 258.8V254.5M104.3 258.8V251.7M275.8 258.8V248.8M153.6 258.8V251.8M168.5 258.8V251.1M89.6 258.8V248.6M309.7 258.8V254.7M201.0 258.8V254.3M207.0 258.8V257.0M313.0 258.8V256.6M119.5 258.8V256.9M136.2 258.8V249.8M81.9 258.8V257.0M246.8 258.8V256.7M78.9 258.8V253.5M216.6 258.8V254.4M247.7 258.8V256.9M288.8 258.8V251.7M85.6 258.8V256.9M196.2 258.8V254.7M143.4 258.8V256.9M174.5 258.8V256.9M220.4 258.8V248.9M110.8 258.8V253.8M258.5 258.8V256.8M278.1 258.8V247.1M170.3 258.8V255.4M281.5 258.8V254.4M172.0 258.8V247.0M266.0 258.8V256.1M133.8 258.8V256.1M181.9 258.8V246.0M272.8 258.8V247.7M275.4 258.8V249.2M87.7 258.8V254.5M310.6 258.8V247.2M135.9 258.8V255.4M230.5 258.8V255.9M205.3 258.8V257.0M181.2 258.8V254.6M79.6 258.8V256.9M313.5 258.8V250.6M305.5 258.8V253.0M274.0 258.8V248.3M292.6 258.8V257.0M232.6 258.8V256.5M241.7 258.8V256.4M208.2 258.8V247.4M227.6 258.8V256.5M202.8 258.8V255.3M308.9 258.8V256.4M149.8 258.8V252.8M104.2 258.8V253.5" stroke="#e0311f" stroke-width="0.6" stroke-opacity="0.35"/>
<path d="M310.2 258.8V254.9M140.7 258.8V255.2M206.1 258.8V256.5M105.0 258.8V256.5M146.9 258.8V255.6M145.6 258.8V256.3M96.2 258.8V254.7M281.5 258.8V254.2M215.0 258.8V253.9M124.1 258.8V253.4M188.1 258.8V254.7M225.6 258.8V255.2M151.0 258.8V256.3M129.1 258.8V254.9M169.0 258.8V254.4M77.4 258.8V255.8M286.9 258.8V256.3M211.7 258.8V255.1M144.7 258.8V250.3M147.3 258.8V252.8M113.6 258.8V256.6M289.3 258.8V255.4M89.8 258.8V255.7M182.9 258.8V253.2M101.4 258.8V256.3M311.0 258.8V253.1M112.6 258.8V255.9M161.4 258.8V253.7M226.4 258.8V252.0M276.9 258.8V254.9M256.6 258.8V253.1M261.8 258.8V255.2M268.0 258.8V253.4M300.0 258.8V256.5M289.2 258.8V256.6M263.2 258.8V254.4M197.2 258.8V250.7M215.5 258.8V255.5M267.7 258.8V251.7M224.2 258.8V255.7M186.0 258.8V255.3M252.7 258.8V256.1M170.8 258.8V254.7M169.3 258.8V256.0M268.5 258.8V252.0M197.6 258.8V255.4M119.9 258.8V256.0M110.2 258.8V254.5M217.9 258.8V256.6M301.3 258.8V256.0M282.4 258.8V252.1M310.8 258.8V256.4M179.6 258.8V251.3M77.1 258.8V256.6M213.8 258.8V255.0M301.4 258.8V252.8M207.2 258.8V250.2M202.1 258.8V254.9M243.4 258.8V255.7M162.7 258.8V254.4M161.0 258.8V250.8M241.3 258.8V254.9M98.9 258.8V255.7M173.3 258.8V254.6M216.0 258.8V251.6M312.2 258.8V255.1M183.0 258.8V254.1M320.0 258.8V255.9M205.2 258.8V252.3M116.6 258.8V256.0M315.7 258.8V252.2M200.9 258.8V256.6M295.0 258.8V253.6" stroke="#e0311f" stroke-width="0.6" stroke-opacity="0.85"/>
<path d="M118.4 258.8V222.9" stroke="#e0311f" stroke-width="0.7" stroke-opacity="0.85"/>
<path d="M143.4 258.8V222.9" stroke="#e0311f" stroke-width="0.7" stroke-opacity="0.85"/>
<path d="M238.4 258.8V222.9" stroke="#e0311f" stroke-width="0.7" stroke-opacity="0.85"/>
<path d="M251.4 258.8V222.9" stroke="#e0311f" stroke-width="0.7" stroke-opacity="0.85"/>
<path d="M254.4 258.8V222.9" stroke="#e0311f" stroke-width="0.7" stroke-opacity="0.85"/>
<path d="M261.4 258.8V222.9" stroke="#e0311f" stroke-width="0.7" stroke-opacity="0.85"/>
<path d="M147.7 258.8V222.9" stroke="#e0311f" stroke-width="0.7" stroke-opacity="0.35"/>
<path d="M290 258.8V222.9" stroke="#e0311f" stroke-width="0.7" stroke-opacity="0.35"/>
<path d="M89.4 258.8V237.26" stroke="#e0311f" stroke-width="0.7" stroke-opacity="0.7"/>
<path d="M94.4 258.8V242.65" stroke="#e0311f" stroke-width="0.7" stroke-opacity="0.7"/>
<path d="M97.2 258.8V242.65" stroke="#e0311f" stroke-width="0.7" stroke-opacity="0.7"/>
<path d="M105.6 258.8V248.03" stroke="#e0311f" stroke-width="0.7" stroke-opacity="0.7"/>
<path d="M116.5 258.8V242.65" stroke="#e0311f" stroke-width="0.7" stroke-opacity="0.7"/>
<path d="M122.5 258.8V248.03" stroke="#e0311f" stroke-width="0.7" stroke-opacity="0.7"/>
<path d="M128 258.8V246.24" stroke="#e0311f" stroke-width="0.7" stroke-opacity="0.7"/>
<path d="M139.3 258.8V242.65" stroke="#e0311f" stroke-width="0.7" stroke-opacity="0.7"/>
<path d="M154.2 258.8V246.24" stroke="#e0311f" stroke-width="0.7" stroke-opacity="0.7"/>
<path d="M159.5 258.8V246.24" stroke="#e0311f" stroke-width="0.7" stroke-opacity="0.7"/>
<path d="M184 258.8V248.03" stroke="#e0311f" stroke-width="0.7" stroke-opacity="0.7"/>
<path d="M187 258.8V248.03" stroke="#e0311f" stroke-width="0.7" stroke-opacity="0.7"/>
<path d="M190 258.8V247.31" stroke="#e0311f" stroke-width="0.7" stroke-opacity="0.7"/>
<path d="M193 258.8V248.03" stroke="#e0311f" stroke-width="0.7" stroke-opacity="0.7"/>
<path d="M217.4 258.8V231.88" stroke="#e0311f" stroke-width="0.7" stroke-opacity="0.7"/>
<path d="M220.2 258.8V239.06" stroke="#e0311f" stroke-width="0.7" stroke-opacity="0.7"/>
<path d="M240.8 258.8V237.26" stroke="#e0311f" stroke-width="0.7" stroke-opacity="0.7"/>
<path d="M245.5 258.8V237.26" stroke="#e0311f" stroke-width="0.7" stroke-opacity="0.7"/>
<path d="M246.4 258.8V230.08" stroke="#e0311f" stroke-width="0.7" stroke-opacity="0.7"/>
<path d="M270.1 258.8V242.65" stroke="#e0311f" stroke-width="0.7" stroke-opacity="0.7"/>
<path d="M282.3 258.8V239.06" stroke="#e0311f" stroke-width="0.7" stroke-opacity="0.7"/>
<path d="M284.3 258.8V242.65" stroke="#e0311f" stroke-width="0.7" stroke-opacity="0.7"/>
<path d="M306.6 258.8V239.06" stroke="#e0311f" stroke-width="0.7" stroke-opacity="0.7"/>
<path d="M310.3 258.8V242.65" stroke="#e0311f" stroke-width="0.7" stroke-opacity="0.7"/>
<path d="M339 258.8V256.0h.5V256.5h.5V256.4h.5V255.6h.5V256.7h.5V255.0h.5V251.4h.5V256.8h.5V253.5h.5V254.4h.5V256.4h.5V256.3h.5V256.6h.5V255.3h.5V254.7h.5V251.3h.5V256.0h.5V256.7h.5V256.7h.5V256.7h.5V253.2h.5V253.4h.5V256.8h.5V256.5h.5V256.5h.5V256.5h.5V252.4h.5V256.3h.5V256.1h.5V252.5h.5V251.8h.5V254.9h.5V256.8h.5V256.1h.5V252.4h.5V256.6h.5V251.8h.5V251.9h.5V256.1h.5V256.6h.5V252.7h.5V253.5h.5V256.7h.5V256.7h.5V256.6h.5V256.8h.5V256.1h.5V256.8h.5V253.2h.5V256.6h.5V256.5h.5V256.8h.5V256.5h.5V254.2h.5V256.5h.5V256.7h.5V253.1h.5V256.7h.5V254.1h.5V251.8h.5V251.9h.5V256.6h.5V256.7h.5V256.6h.5V256.3h.5V256.5h.5V256.6h.5V256.7h.5V255.4h.5V253.7h.5V254.6h.5V256.4h.5V256.8h.5V252.9h.5V254.6h.5V255.3h.5V255.6h.5V256.8h.5V256.6h.5V254.2h.5V256.1h.5V256.2h.5V256.1h.5V256.5h.5V254.4h.5V256.5h.5V254.6h.5V256.6h.5V256.5h.5V256.7h.5V252.3h.5V256.2h.5V256.8h.5V256.6h.5V256.1h.5V256.4h.5V256.7h.5V256.3h.5V256.6h.5V254.4h.5V256.8h.5V256.2h.5V256.8h.5V256.3h.5V256.6h.5V253.5h.5V252.3h.5V256.7h.5V256.5h.5V256.1h.5V256.8h.5V256.5h.5V256.2h.5V256.1h.5V255.8h.5V254.3h.5V255.5h.5V256.7h.5V256.8h.5V256.2h.5V255.3h.5V256.3h.5V256.5h.5V256.2h.5V256.6h.5V256.7h.5V256.3h.5V256.6h.5V255.9h.5V256.5h.5V252.6h.5V255.2h.5V253.3h.5V253.8h.5V254.5h.5V255.8h.5V256.1h.5V256.4h.5V256.6h.5V256.5h.5V254.3h.5V256.8h.5V255.8h.5V256.7h.5V256.8h.5V256.2h.5V254.2h.5V256.3h.5V255.7h.5V256.7h.5V256.8h.5V256.3h.5V252.1h.5V256.6h.5V256.7h.5V253.7h.5V256.6h.5V254.8h.5V256.1h.5V253.6h.5V256.2h.5V256.7h.5V256.5h.5V255.3h.5V253.1h.5V256.8h.5V254.8h.5V256.2h.5V256.0h.5V255.6h.5V256.4h.5V256.8h.5V256.7h.5V251.7h.5V256.8h.5V256.7h.5V256.8h.5V256.1h.5V256.5h.5V254.6h.5V256.0h.5V255.9h.5V256.1h.5V256.7h.5V255.9h.5V256.3h.5V256.8h.5V255.8h.5V256.1h.5V256.0h.5V256.3h.5V256.8h.5V256.3h.5V255.2h.5V256.4h.5V256.4h.5V252.6h.5V256.7h.5V256.4h.5V254.6h.5V255.1h.5V255.4h.5V256.1h.5V256.7h.5V256.4h.5V252.8h.5V256.8h.5V256.5h.5V255.3h.5V255.2h.5V255.5h.5V256.8h.5V256.8h.5V252.8h.5V254.2h.5V256.7h.5V256.2h.5V253.1h.5V256.7h.5V256.3h.5V256.7h.5V256.8h.5V256.2h.5V255.0h.5V256.4h.5V256.5h.5V256.3h.5V256.3h.5V256.1h.5V253.9h.5V253.8h.5V256.1h.5V256.2h.5V256.0h.5V256.8h.5V256.8h.5V253.4h.5V252.2h.5V256.6h.5V255.9h.5V256.3h.5V256.8h.5V253.4h.5V255.3h.5V254.4h.5V256.7h.5V256.4h.5V256.2h.5V256.8h.5V256.7h.5V252.7h.5V256.8h.5V253.3h.5V256.5h.5V256.7h.5V256.5h.5V256.3h.5V256.3h.5V252.5h.5V256.8h.5V256.2h.5V255.2h.5V256.2h.5V255.1h.5V256.8h.5V251.5h.5V256.7h.5V256.6h.5V255.6h.5V255.2h.5V251.8h.5V256.8h.5V253.7h.5V256.2h.5V254.8h.5V256.5h.5V256.1h.5V256.3h.5V253.8h.5V256.4h.5V256.3h.5V256.0h.5V256.3h.5V251.4h.5V256.2h.5V256.6h.5V256.7h.5V252.7h.5V255.9h.5V256.4h.5V256.8h.5V256.4h.5V256.4h.5V256.5h.5V256.3h.5V256.7h.5V251.5h.5V253.7h.5V252.8h.5V255.7h.5V256.6h.5V256.8h.5V256.5h.5V256.6h.5V256.6h.5V252.8h.5V256.6h.5V256.0h.5V256.8h.5V256.1h.5V256.7h.5V255.4h.5V256.3h.5V256.6h.5V253.9h.5V256.0h.5V256.5h.5V256.0h.5V254.8h.5V255.6h.5V256.5h.5V256.8h.5V256.3h.5V256.8h.5V254.1h.5V256.8h.5V256.7h.5V256.7h.5V256.5h.5V255.1h.5V254.6h.5V256.3h.5V256.6h.5V256.2h.5V256.6h.5V256.0h.5V256.5h.5V252.0h.5V256.8h.5V254.6h.5V256.5h.5V256.6h.5V256.7h.5V256.7h.5V255.6h.5V256.7h.5V256.5h.5V256.7h.5V256.1h.5V256.8h.5V256.6h.5V256.4h.5V256.3h.5V256.4h.5V252.4h.5V254.0h.5V254.7h.5V252.8h.5V255.2h.5V252.2h.5V256.3h.5V256.5h.5V255.9h.5V256.6h.5V256.3h.5V251.4h.5V255.2h.5V252.8h.5V256.6h.5V256.1h.5V256.3h.5V252.5h.5V254.4h.5V255.8h.5V252.6h.5V252.6h.5V253.6h.5V256.7h.5V256.0h.5V256.8h.5V251.6h.5V252.3h.5V254.0h.5V256.7h.5V256.7h.5V252.2h.5V256.1h.5V256.8h.5V253.5h.5V256.8h.5V256.6h.5V256.8h.5V251.4h.5V252.7h.5V255.7h.5V255.9h.5V254.4h.5V254.0h.5V256.8h.5V255.6h.5V256.5h.5V251.7h.5V258.8Z" fill="#e0311f"/>
<path d="M516.2 258.8V251.4M393.8 258.8V256.8M392.1 258.8V257.0M347.7 258.8V254.6M420.9 258.8V254.0M411.8 258.8V257.0M477.1 258.8V252.7M448.2 258.8V254.1M477.5 258.8V246.0M514.4 258.8V251.6M419.1 258.8V256.2M423.1 258.8V246.2M416.7 258.8V255.7M421.3 258.8V256.9M539.4 258.8V257.0M461.0 258.8V247.4M390.1 258.8V253.3M414.7 258.8V256.6M378.8 258.8V256.9M508.2 258.8V250.4M521.3 258.8V257.0M478.3 258.8V256.1M468.7 258.8V254.1M402.3 258.8V246.3M339.2 258.8V251.1M510.3 258.8V254.6M457.9 258.8V245.7M386.1 258.8V253.0M488.2 258.8V255.8M481.9 258.8V255.7M444.6 258.8V253.3M474.9 258.8V256.2M465.2 258.8V254.2M383.8 258.8V253.3M392.2 258.8V247.8M434.0 258.8V251.6M443.8 258.8V254.9M383.4 258.8V256.9M525.1 258.8V254.4M444.2 258.8V254.4M502.2 258.8V256.6M373.6 258.8V249.7M431.4 258.8V252.9M505.1 258.8V248.1M513.2 258.8V257.0M415.5 258.8V249.5M503.1 258.8V256.9M369.9 258.8V256.5M359.6 258.8V255.9M500.2 258.8V254.4M429.9 258.8V257.0M418.4 258.8V245.6M478.5 258.8V255.2M435.0 258.8V250.2M491.3 258.8V256.9M475.5 258.8V255.9M443.5 258.8V256.6M413.4 258.8V256.0M415.5 258.8V257.0M379.3 258.8V253.8M350.6 258.8V256.8M483.1 258.8V256.4M404.0 258.8V256.6M506.4 258.8V257.0M466.7 258.8V248.9M379.5 258.8V255.4M498.0 258.8V253.2M413.6 258.8V257.0M427.8 258.8V255.9M482.0 258.8V256.3M420.9 258.8V252.8M501.7 258.8V256.0M416.3 258.8V253.7M524.6 258.8V256.7M534.0 258.8V251.7M413.7 258.8V252.5M405.1 258.8V257.0M490.7 258.8V255.8M444.5 258.8V254.7M519.9 258.8V250.9M344.1 258.8V253.6M431.8 258.8V255.1M507.5 258.8V255.5M434.1 258.8V248.2M427.3 258.8V254.8M441.7 258.8V249.6M473.5 258.8V251.2M419.6 258.8V257.0M475.4 258.8V254.1M493.4 258.8V250.7M362.7 258.8V256.6M354.5 258.8V249.8M359.4 258.8V257.0M490.2 258.8V253.9M350.0 258.8V252.3M481.7 258.8V254.9M350.0 258.8V252.1M422.9 258.8V253.7M539.3 258.8V249.8M514.0 258.8V256.9M406.1 258.8V254.5M340.2 258.8V245.8M394.1 258.8V256.5M401.8 258.8V256.5M511.4 258.8V254.0M441.6 258.8V255.4M349.3 258.8V256.3M513.0 258.8V250.1M510.9 258.8V256.5M379.5 258.8V257.0M446.7 258.8V255.8M432.2 258.8V254.8M456.2 258.8V255.9M499.9 258.8V256.7M523.5 258.8V254.0M349.3 258.8V256.2M446.0 258.8V255.5M452.4 258.8V256.1M393.9 258.8V250.2M397.5 258.8V251.8M500.1 258.8V253.6M430.2 258.8V247.2M428.3 258.8V248.5M350.6 258.8V255.3M467.3 258.8V257.0M512.1 258.8V257.0M458.7 258.8V256.8M524.1 258.8V254.0M499.7 258.8V254.7M474.2 258.8V252.4M398.2 258.8V256.7M507.2 258.8V256.9M523.2 258.8V256.7M359.2 258.8V257.0M496.4 258.8V246.8M422.2 258.8V252.6M390.7 258.8V247.9M476.7 258.8V256.8M350.4 258.8V252.0M347.4 258.8V249.4M397.9 258.8V256.6M455.8 258.8V256.2M451.5 258.8V256.8M522.0 258.8V256.1M507.8 258.8V256.9M499.4 258.8V246.0M417.6 258.8V257.0M415.3 258.8V252.9M383.8 258.8V254.2M357.8 258.8V255.0M485.2 258.8V255.4M475.3 258.8V256.9M505.3 258.8V256.9M524.3 258.8V245.6M527.5 258.8V254.4M397.4 258.8V256.0M489.6 258.8V254.7M525.6 258.8V257.0M436.3 258.8V248.8M459.0 258.8V254.2M356.7 258.8V256.9M393.4 258.8V248.1M508.7 258.8V256.6M524.6 258.8V257.0M459.2 258.8V246.4M408.1 258.8V246.9M470.8 258.8V257.0M405.9 258.8V255.2M388.7 258.8V251.2M374.9 258.8V250.4M398.9 258.8V257.0M451.2 258.8V257.0M449.7 258.8V250.4M458.5 258.8V255.1M345.8 258.8V254.5M358.5 258.8V252.8M365.5 258.8V253.7M409.8 258.8V255.8M472.1 258.8V256.8M373.1 258.8V247.0M405.6 258.8V249.3M514.3 258.8V254.9M368.9 258.8V257.0M515.4 258.8V256.9M438.6 258.8V254.3M362.6 258.8V255.0M371.9 258.8V254.3M440.7 258.8V255.9M378.7 258.8V255.6M379.8 258.8V256.9M387.1 258.8V248.6M439.7 258.8V248.2M342.0 258.8V247.0M437.0 258.8V250.3M453.5 258.8V252.1M385.0 258.8V251.1M369.8 258.8V256.5M345.2 258.8V255.7M443.0 258.8V256.3M517.7 258.8V257.0M455.1 258.8V256.6M458.5 258.8V250.4M481.7 258.8V257.0M388.3 258.8V253.5M536.3 258.8V257.0M463.1 258.8V252.1M502.5 258.8V256.0M501.7 258.8V255.1M523.8 258.8V257.0M527.7 258.8V255.5M420.7 258.8V257.0M388.1 258.8V251.4M475.2 258.8V256.9M408.1 258.8V256.9M378.8 258.8V256.7M405.4 258.8V246.1M539.2 258.8V250.3M435.3 258.8V254.7M495.4 258.8V247.8M489.8 258.8V252.9" stroke="#e0311f" stroke-width="0.6" stroke-opacity="0.35"/>
<path d="M378.9 258.8V254.1M508.7 258.8V252.6M357.5 258.8V253.3M409.1 258.8V256.5M532.8 258.8V253.7M488.6 258.8V256.5M505.3 258.8V251.0M520.6 258.8V253.1M506.1 258.8V252.5M457.5 258.8V255.4M504.6 258.8V252.7M513.8 258.8V256.1M531.9 258.8V254.8M528.8 258.8V256.6M533.4 258.8V252.6M389.6 258.8V252.1M385.6 258.8V256.4M430.9 258.8V256.3M437.9 258.8V251.3M476.5 258.8V253.4M417.7 258.8V252.7M498.3 258.8V253.6M528.0 258.8V252.2M420.5 258.8V256.6M470.0 258.8V252.1M407.2 258.8V254.4M506.8 258.8V252.6M339.9 258.8V255.1M342.3 258.8V256.6M502.0 258.8V255.5M460.4 258.8V255.3M406.3 258.8V256.4M410.0 258.8V252.0M463.3 258.8V256.1M356.7 258.8V256.2M479.7 258.8V255.4M471.7 258.8V252.4M363.2 258.8V253.6M347.3 258.8V252.3M376.0 258.8V256.2M531.2 258.8V255.8M384.0 258.8V251.5M461.5 258.8V251.5M418.1 258.8V255.0M530.8 258.8V255.0M537.4 258.8V256.4M505.7 258.8V256.5M444.8 258.8V256.6M374.2 258.8V250.9M430.2 258.8V252.4M389.3 258.8V255.8M359.3 258.8V254.7M512.1 258.8V254.9M414.6 258.8V251.1M518.4 258.8V253.8M354.2 258.8V254.1M428.1 258.8V250.7M411.6 258.8V253.8M465.8 258.8V255.7M443.8 258.8V253.7" stroke="#e0311f" stroke-width="0.6" stroke-opacity="0.85"/>
<path d="M396.4 258.8V222.9" stroke="#e0311f" stroke-width="0.7" stroke-opacity="0.85"/>
<path d="M403.6 258.8V222.9" stroke="#e0311f" stroke-width="0.7" stroke-opacity="0.85"/>
<path d="M409.6 258.8V222.9" stroke="#e0311f" stroke-width="0.7" stroke-opacity="0.85"/>
<path d="M410.5 258.8V222.9" stroke="#e0311f" stroke-width="0.7" stroke-opacity="0.85"/>
<path d="M411.1 258.8V222.9" stroke="#e0311f" stroke-width="0.7" stroke-opacity="0.85"/>
<path d="M413.4 258.8V222.9" stroke="#e0311f" stroke-width="0.7" stroke-opacity="0.85"/>
<path d="M494.4 258.8V222.9" stroke="#e0311f" stroke-width="0.7" stroke-opacity="0.85"/>
<path d="M522.4 258.8V222.9" stroke="#e0311f" stroke-width="0.7" stroke-opacity="0.85"/>
<path d="M457.5 258.8V222.9" stroke="#e0311f" stroke-width="0.7" stroke-opacity="0.35"/>
<path d="M366.4 258.8V231.88" stroke="#e0311f" stroke-width="0.7" stroke-opacity="0.7"/>
<path d="M390.3 258.8V242.65" stroke="#e0311f" stroke-width="0.7" stroke-opacity="0.7"/>
<path d="M426.3 258.8V240.85" stroke="#e0311f" stroke-width="0.7" stroke-opacity="0.7"/>
<path d="M433.2 258.8V240.85" stroke="#e0311f" stroke-width="0.7" stroke-opacity="0.7"/>
<path d="M436.2 258.8V233.67" stroke="#e0311f" stroke-width="0.7" stroke-opacity="0.7"/>
<path d="M463 258.8V237.26" stroke="#e0311f" stroke-width="0.7" stroke-opacity="0.7"/>
<path d="M472.6 258.8V242.65" stroke="#e0311f" stroke-width="0.7" stroke-opacity="0.7"/>
<path d="M513.5 258.8V237.26" stroke="#e0311f" stroke-width="0.7" stroke-opacity="0.7"/>
<path d="M517.5 258.8V235.47" stroke="#e0311f" stroke-width="0.7" stroke-opacity="0.7"/>
<path d="M535.5 258.8V240.85" stroke="#e0311f" stroke-width="0.7" stroke-opacity="0.7"/>
<path d="M539.4 258.8V231.88" stroke="#e0311f" stroke-width="0.7" stroke-opacity="0.7"/>
<path d="M556.2 258.8V256.4h.5V251.6h.5V253.1h.5V256.4h.5V253.9h.5V256.2h.5V256.8h.5V256.7h.5V256.1h.5V255.1h.5V256.8h.5V253.9h.5V256.5h.5V256.6h.5V256.0h.5V256.3h.5V256.3h.5V251.7h.5V256.2h.5V256.7h.5V253.2h.5V256.5h.5V255.5h.5V256.7h.5V256.7h.5V256.8h.5V256.1h.5V256.0h.5V256.4h.5V256.6h.5V255.9h.5V256.5h.5V256.1h.5V256.6h.5V252.3h.5V253.1h.5V253.6h.5V256.7h.5V256.4h.5V254.5h.5V256.6h.5V252.2h.5V256.4h.5V256.5h.5V256.8h.5V256.3h.5V252.0h.5V256.6h.5V255.3h.5V256.3h.5V253.4h.5V256.4h.5V251.7h.5V254.4h.5V256.5h.5V256.2h.5V256.1h.5V256.5h.5V252.7h.5V255.5h.5V256.1h.5V256.3h.5V256.0h.5V252.9h.5V256.3h.5V255.2h.5V253.0h.5V256.1h.5V254.5h.5V256.4h.5V256.1h.5V256.1h.5V252.7h.5V254.3h.5V256.3h.5V256.8h.5V253.2h.5V256.6h.5V256.8h.5V256.0h.5V256.5h.5V256.7h.5V256.5h.5V254.8h.5V256.5h.5V255.9h.5V253.4h.5V253.2h.5V256.6h.5V256.3h.5V255.2h.5V253.5h.5V253.1h.5V256.4h.5V253.6h.5V255.6h.5V256.8h.5V254.1h.5V256.1h.5V255.1h.5V252.8h.5V256.2h.5V256.5h.5V256.7h.5V256.7h.5V254.4h.5V256.4h.5V256.7h.5V256.5h.5V254.0h.5V255.9h.5V254.3h.5V256.5h.5V254.3h.5V256.2h.5V256.1h.5V256.2h.5V256.6h.5V252.8h.5V256.3h.5V256.2h.5V254.8h.5V256.6h.5V256.7h.5V252.4h.5V256.4h.5V256.8h.5V253.6h.5V251.4h.5V256.2h.5V253.2h.5V256.8h.5V255.6h.5V256.5h.5V252.3h.5V256.0h.5V256.5h.5V256.5h.5V256.1h.5V256.8h.5V255.1h.5V256.8h.5V256.2h.5V256.8h.5V256.4h.5V256.3h.5V252.6h.5V254.7h.5V256.6h.5V256.5h.5V255.1h.5V256.6h.5V255.1h.5V254.2h.5V256.8h.5V256.8h.5V256.1h.5V256.2h.5V254.7h.5V256.4h.5V252.3h.5V256.8h.5V251.5h.5V256.1h.5V256.1h.5V254.0h.5V256.8h.5V256.2h.5V256.8h.5V252.1h.5V254.5h.5V256.3h.5V256.6h.5V256.8h.5V256.7h.5V256.2h.5V253.4h.5V255.5h.5V253.6h.5V256.1h.5V252.9h.5V253.2h.5V254.9h.5V253.4h.5V256.8h.5V256.4h.5V256.8h.5V256.8h.5V256.2h.5V256.7h.5V256.6h.5V256.8h.5V256.4h.5V256.8h.5V256.1h.5V256.7h.5V256.4h.5V256.7h.5V251.6h.5V256.8h.5V256.8h.5V256.3h.5V255.8h.5V254.9h.5V252.3h.5V256.2h.5V256.1h.5V256.8h.5V256.1h.5V252.7h.5V252.0h.5V254.2h.5V256.4h.5V256.3h.5V255.9h.5V256.3h.5V256.2h.5V256.0h.5V256.6h.5V256.0h.5V256.6h.5V256.1h.5V253.7h.5V256.1h.5V256.4h.5V253.2h.5V254.8h.5V255.4h.5V256.7h.5V254.7h.5V252.0h.5V252.3h.5V256.0h.5V256.6h.5V252.4h.5V256.5h.5V256.0h.5V255.9h.5V256.2h.5V256.2h.5V256.5h.5V254.4h.5V256.5h.5V256.3h.5V254.6h.5V254.3h.5V256.8h.5V256.8h.5V256.7h.5V255.6h.5V256.2h.5V253.7h.5V256.8h.5V256.0h.5V256.4h.5V256.7h.5V258.8Z" fill="#e0311f"/>
<path d="M675.1 258.8V256.0M662.3 258.8V257.0M661.9 258.8V256.6M665.2 258.8V250.1M641.7 258.8V256.4M557.5 258.8V256.8M671.6 258.8V256.8M640.3 258.8V253.6M640.5 258.8V256.8M574.5 258.8V257.0M681.5 258.8V255.7M639.4 258.8V253.9M584.7 258.8V257.0M558.1 258.8V249.0M572.8 258.8V246.5M602.6 258.8V251.6M573.8 258.8V250.4M588.3 258.8V255.9M622.9 258.8V256.9M587.9 258.8V250.2M592.6 258.8V255.8M653.7 258.8V256.6M580.9 258.8V256.7M605.2 258.8V255.9M638.0 258.8V255.0M667.1 258.8V257.0M640.8 258.8V249.4M586.1 258.8V257.0M612.1 258.8V256.9M614.8 258.8V251.8M568.2 258.8V256.9M617.3 258.8V256.8M585.6 258.8V255.3M571.3 258.8V257.0M602.2 258.8V255.0M675.6 258.8V254.0M565.3 258.8V256.6M651.1 258.8V253.9M667.2 258.8V246.5M665.6 258.8V256.9M676.5 258.8V254.4M586.8 258.8V256.8M666.4 258.8V256.7M566.8 258.8V256.5M674.0 258.8V255.1M649.4 258.8V257.0M614.0 258.8V256.2M582.4 258.8V252.5M602.3 258.8V256.9M681.7 258.8V254.9M579.1 258.8V257.0M639.5 258.8V254.5M559.3 258.8V255.0M650.6 258.8V254.3M586.0 258.8V254.7M633.3 258.8V252.7M574.7 258.8V250.1M676.8 258.8V251.3M665.5 258.8V255.9M671.3 258.8V256.8M585.1 258.8V253.5M671.2 258.8V257.0M583.9 258.8V257.0M612.2 258.8V256.9M580.6 258.8V251.1M630.6 258.8V247.1M607.5 258.8V252.3M557.8 258.8V246.8M585.9 258.8V254.9M621.4 258.8V246.8M618.9 258.8V245.7M635.4 258.8V256.7M662.5 258.8V256.7M683.6 258.8V255.1M585.1 258.8V246.5M597.2 258.8V255.6M600.0 258.8V252.5M559.1 258.8V255.8M576.9 258.8V249.6M556.2 258.8V253.4M589.1 258.8V255.1M627.8 258.8V251.7M573.8 258.8V256.6M571.6 258.8V246.5M575.2 258.8V256.9M622.8 258.8V253.7M669.2 258.8V257.0M586.1 258.8V256.8M630.9 258.8V255.2M608.3 258.8V248.3M640.6 258.8V248.9M678.2 258.8V256.4M676.3 258.8V255.5M562.8 258.8V247.6M569.5 258.8V257.0M593.1 258.8V256.3M679.5 258.8V248.7M609.8 258.8V254.3M664.4 258.8V250.0M639.5 258.8V254.5M571.1 258.8V256.6M640.1 258.8V253.6M658.3 258.8V248.0M678.9 258.8V256.7M565.9 258.8V248.0M628.9 258.8V256.8M644.4 258.8V256.5M586.4 258.8V255.9M623.0 258.8V252.3M565.6 258.8V251.2M635.8 258.8V255.0M641.9 258.8V250.1M557.4 258.8V254.9M642.6 258.8V251.8M638.8 258.8V256.8M678.4 258.8V250.4M585.9 258.8V255.4M678.3 258.8V256.7M608.4 258.8V246.5M671.0 258.8V256.6M649.9 258.8V255.9M640.8 258.8V250.8M572.5 258.8V256.6M583.6 258.8V256.5M560.7 258.8V256.9M608.0 258.8V255.4M566.1 258.8V253.7M676.4 258.8V253.8M601.5 258.8V251.9M611.9 258.8V256.8M617.6 258.8V257.0M642.4 258.8V256.8M603.3 258.8V246.5M654.0 258.8V249.4M638.1 258.8V253.0M646.1 258.8V246.4M581.2 258.8V250.8M594.6 258.8V256.5M661.0 258.8V253.4M664.5 258.8V248.6" stroke="#e0311f" stroke-width="0.6" stroke-opacity="0.35"/>
<path d="M631.3 258.8V256.4M558.1 258.8V254.8M648.7 258.8V256.2M565.1 258.8V256.6M578.3 258.8V253.5M556.7 258.8V256.3M590.0 258.8V253.4M682.1 258.8V256.6M570.8 258.8V251.0M679.9 258.8V256.5M599.0 258.8V254.9M597.0 258.8V255.5M617.3 258.8V256.2M563.2 258.8V256.6M576.9 258.8V256.6M635.8 258.8V253.5M589.7 258.8V252.6M649.1 258.8V255.9M618.9 258.8V256.4M674.6 258.8V254.6M562.7 258.8V256.5M644.5 258.8V255.7M647.6 258.8V256.3M657.8 258.8V252.5M568.2 258.8V254.4M580.6 258.8V253.4M658.7 258.8V252.6M585.7 258.8V256.6M640.8 258.8V254.6M573.8 258.8V256.4M630.5 258.8V256.6M637.0 258.8V256.3M589.2 258.8V255.5M624.2 258.8V253.3M560.1 258.8V253.3M584.4 258.8V256.1M637.8 258.8V253.6M634.6 258.8V251.4" stroke="#e0311f" stroke-width="0.6" stroke-opacity="0.85"/>
<path d="M606.4 258.8V222.9" stroke="#e0311f" stroke-width="0.7" stroke-opacity="0.85"/>
<path d="M619.6 258.8V222.9" stroke="#e0311f" stroke-width="0.7" stroke-opacity="0.85"/>
<path d="M630.6 258.8V222.9" stroke="#e0311f" stroke-width="0.7" stroke-opacity="0.35"/>
<path d="M613.7 258.8V228.28" stroke="#e0311f" stroke-width="0.7" stroke-opacity="0.7"/>
<path d="M578.6 258.8V233.67" stroke="#e0311f" stroke-width="0.7" stroke-opacity="0.7"/>
<path d="M624.2 258.8V237.26" stroke="#e0311f" stroke-width="0.7" stroke-opacity="0.7"/>
<path d="M639.4 258.8V239.06" stroke="#e0311f" stroke-width="0.7" stroke-opacity="0.7"/>
<path d="M663.7 258.8V242.65" stroke="#e0311f" stroke-width="0.7" stroke-opacity="0.7"/>
<line x1="74.5" y1="264" x2="74.5" y2="300" stroke="#9a9a9a" stroke-width="1"/>
<path d="M74.5 300V297.5h.5V297.8h.5V297.8h.5V297.3h.5V297.2h.5V297.8h.5V295.1h.5V296.0h.5V298.0h.5V297.9h.5V297.3h.5V297.8h.5V296.7h.5V297.4h.5V297.6h.5V297.9h.5V297.3h.5V297.7h.5V297.8h.5V296.8h.5V297.4h.5V297.0h.5V297.3h.5V298.0h.5V295.8h.5V298.0h.5V297.3h.5V296.9h.5V297.6h.5V294.8h.5V297.7h.5V297.2h.5V292.5h.5V297.6h.5V297.9h.5V298.0h.5V296.5h.5V297.9h.5V294.7h.5V297.4h.5V297.7h.5V297.9h.5V294.9h.5V297.3h.5V292.6h.5V297.6h.5V295.1h.5V297.9h.5V292.5h.5V294.2h.5V297.7h.5V296.9h.5V297.9h.5V297.7h.5V294.9h.5V297.8h.5V294.1h.5V297.5h.5V294.7h.5V293.2h.5V297.7h.5V297.3h.5V297.3h.5V297.4h.5V298.0h.5V293.1h.5V295.8h.5V297.4h.5V293.0h.5V297.2h.5V297.4h.5V297.8h.5V297.7h.5V297.9h.5V297.5h.5V297.7h.5V297.3h.5V297.9h.5V297.4h.5V297.5h.5V293.6h.5V296.9h.5V294.5h.5V297.3h.5V297.4h.5V298.0h.5V298.0h.5V297.8h.5V298.0h.5V297.8h.5V297.2h.5V297.2h.5V295.8h.5V297.6h.5V297.4h.5V293.5h.5V298.0h.5V294.0h.5V296.8h.5V293.5h.5V297.8h.5V297.4h.5V297.4h.5V293.1h.5V296.1h.5V295.1h.5V298.0h.5V294.1h.5V297.7h.5V294.9h.5V297.8h.5V297.2h.5V297.3h.5V297.3h.5V297.6h.5V295.0h.5V296.4h.5V295.5h.5V292.6h.5V297.6h.5V297.9h.5V297.6h.5V297.3h.5V293.0h.5V298.0h.5V293.3h.5V297.2h.5V292.9h.5V297.9h.5V294.3h.5V296.0h.5V297.6h.5V296.6h.5V298.0h.5V297.4h.5V297.4h.5V297.7h.5V297.9h.5V293.2h.5V296.2h.5V297.4h.5V297.4h.5V293.9h.5V298.0h.5V297.6h.5V298.0h.5V297.5h.5V296.9h.5V292.0h.5V294.7h.5V297.8h.5V297.2h.5V297.6h.5V297.8h.5V297.8h.5V296.7h.5V296.8h.5V292.4h.5V292.7h.5V297.8h.5V297.9h.5V298.0h.5V297.2h.5V297.4h.5V297.4h.5V297.7h.5V293.6h.5V298.0h.5V297.4h.5V295.8h.5V297.7h.5V297.6h.5V295.6h.5V297.2h.5V297.3h.5V297.4h.5V295.5h.5V292.7h.5V297.2h.5V297.9h.5V297.4h.5V297.5h.5V296.7h.5V293.3h.5V296.5h.5V297.5h.5V297.5h.5V296.0h.5V297.8h.5V297.3h.5V293.1h.5V297.6h.5V294.1h.5V295.3h.5V297.8h.5V294.3h.5V297.8h.5V297.7h.5V297.4h.5V297.2h.5V293.0h.5V292.9h.5V297.8h.5V297.3h.5V298.0h.5V297.4h.5V292.3h.5V298.0h.5V298.0h.5V297.5h.5V297.9h.5V296.0h.5V297.2h.5V292.3h.5V297.2h.5V297.8h.5V297.2h.5V297.9h.5V297.9h.5V294.9h.5V296.5h.5V298.0h.5V294.4h.5V297.0h.5V297.5h.5V297.2h.5V297.3h.5V297.6h.5V297.9h.5V295.3h.5V294.3h.5V297.6h.5V294.3h.5V295.5h.5V295.0h.5V292.5h.5V297.3h.5V297.5h.5V297.7h.5V297.4h.5V297.3h.5V297.4h.5V294.7h.5V296.0h.5V293.7h.5V297.6h.5V297.9h.5V297.4h.5V294.7h.5V293.2h.5V297.1h.5V297.9h.5V297.9h.5V297.9h.5V297.6h.5V297.8h.5V297.5h.5V296.7h.5V297.8h.5V297.8h.5V293.0h.5V297.2h.5V296.2h.5V297.4h.5V293.7h.5V292.6h.5V297.9h.5V297.9h.5V298.0h.5V297.6h.5V297.9h.5V297.3h.5V294.2h.5V296.8h.5V293.8h.5V298.0h.5V296.9h.5V297.4h.5V292.9h.5V297.9h.5V297.9h.5V296.7h.5V297.9h.5V297.6h.5V297.8h.5V297.8h.5V297.5h.5V297.4h.5V296.5h.5V297.6h.5V293.1h.5V297.5h.5V297.8h.5V294.1h.5V297.3h.5V295.4h.5V297.2h.5V297.9h.5V296.7h.5V297.3h.5V294.7h.5V297.9h.5V297.7h.5V297.2h.5V296.2h.5V297.7h.5V297.5h.5V297.8h.5V297.6h.5V296.3h.5V297.5h.5V292.6h.5V296.4h.5V297.5h.5V296.0h.5V292.4h.5V292.4h.5V298.0h.5V297.8h.5V297.9h.5V297.5h.5V297.3h.5V297.5h.5V298.0h.5V297.1h.5V297.7h.5V298.0h.5V293.2h.5V294.1h.5V297.8h.5V294.0h.5V292.9h.5V293.5h.5V297.5h.5V297.7h.5V297.9h.5V297.2h.5V294.8h.5V297.9h.5V295.6h.5V297.2h.5V297.5h.5V297.9h.5V297.6h.5V293.2h.5V297.9h.5V297.9h.5V294.3h.5V296.7h.5V296.3h.5V296.4h.5V298.0h.5V297.7h.5V297.8h.5V297.8h.5V296.8h.5V297.5h.5V297.8h.5V297.3h.5V296.7h.5V297.5h.5V298.0h.5V297.5h.5V295.7h.5V297.5h.5V292.8h.5V297.9h.5V297.5h.5V297.4h.5V297.9h.5V297.9h.5V297.5h.5V295.9h.5V296.7h.5V298.0h.5V297.4h.5V297.9h.5V297.7h.5V297.9h.5V298.0h.5V297.2h.5V298.0h.5V297.2h.5V297.7h.5V297.8h.5V295.4h.5V297.9h.5V296.4h.5V297.3h.5V296.7h.5V297.8h.5V297.6h.5V297.8h.5V297.3h.5V297.9h.5V297.9h.5V297.4h.5V292.3h.5V295.1h.5V297.9h.5V298.0h.5V295.1h.5V295.3h.5V295.2h.5V292.3h.5V298.0h.5V295.0h.5V297.5h.5V293.6h.5V297.9h.5V295.5h.5V298.0h.5V293.5h.5V297.7h.5V297.4h.5V297.5h.5V297.5h.5V297.5h.5V296.6h.5V297.5h.5V296.6h.5V297.8h.5V296.7h.5V297.1h.5V297.9h.5V297.6h.5V297.4h.5V297.6h.5V292.9h.5V297.3h.5V297.2h.5V297.3h.5V295.0h.5V297.0h.5V297.6h.5V294.8h.5V297.8h.5V294.5h.5V297.5h.5V295.3h.5V298.0h.5V298.0h.5V297.6h.5V297.2h.5V297.8h.5V298.0h.5V297.4h.5V297.3h.5V296.8h.5V297.3h.5V297.3h.5V297.1h.5V292.3h.5V297.9h.5V293.0h.5V297.7h.5V297.3h.5V297.8h.5V297.7h.5V293.2h.5V297.2h.5V297.7h.5V297.2h.5V298.0h.5V294.7h.5V295.4h.5V297.8h.5V295.5h.5V297.6h.5V293.7h.5V297.8h.5V296.2h.5V298.0h.5V295.7h.5V296.6h.5V297.8h.5V297.1h.5V293.2h.5V292.2h.5V293.7h.5V296.1h.5V298.0h.5V297.4h.5V294.6h.5V292.2h.5V297.3h.5V295.9h.5V297.3h.5V297.3h.5V297.9h.5V294.8h.5V292.1h.5V296.9h.5V298.0h.5V300Z" fill="#117a11"/>
<path d="M97.5 300.0V298.2M165.4 300.0V296.5M199.7 300.0V297.5M247.5 300.0V295.7M316.5 300.0V298.0M200.4 300.0V295.9M166.2 300.0V290.0M126.1 300.0V289.7M162.7 300.0V297.3M226.1 300.0V295.1M144.5 300.0V298.2M310.0 300.0V297.0M102.7 300.0V293.8M205.6 300.0V297.3M155.5 300.0V290.4M158.0 300.0V296.7M310.4 300.0V297.1M173.6 300.0V298.0M237.8 300.0V293.7M184.5 300.0V296.8M131.9 300.0V291.5M187.2 300.0V290.7M166.9 300.0V292.6M81.6 300.0V297.8M311.3 300.0V293.4M241.1 300.0V295.9M190.9 300.0V297.9M117.1 300.0V294.0M245.5 300.0V297.7M233.4 300.0V298.1M225.6 300.0V298.0M200.1 300.0V297.4M210.2 300.0V298.1M193.7 300.0V294.4M107.7 300.0V297.4M241.8 300.0V295.3M226.5 300.0V291.7M215.4 300.0V297.8M183.6 300.0V290.7M214.2 300.0V292.2M164.2 300.0V296.4M313.6 300.0V290.9M235.4 300.0V298.1M225.3 300.0V298.2M304.7 300.0V287.4M254.0 300.0V297.6M283.0 300.0V298.0M278.6 300.0V295.6M78.4 300.0V289.4M183.0 300.0V290.7M244.2 300.0V295.5M287.1 300.0V297.9M296.0 300.0V297.2M80.9 300.0V297.3M90.8 300.0V298.2M228.4 300.0V298.1M113.9 300.0V297.5M143.2 300.0V288.7M297.7 300.0V289.8M318.5 300.0V296.5M270.7 300.0V297.6M302.9 300.0V291.1M255.0 300.0V297.8M97.1 300.0V288.6M210.6 300.0V294.5M287.0 300.0V298.1M246.9 300.0V296.2M268.3 300.0V296.3M123.0 300.0V287.8M143.8 300.0V292.3M279.4 300.0V297.7M245.8 300.0V296.8M129.7 300.0V297.9M309.7 300.0V297.0M200.2 300.0V295.8M81.0 300.0V292.2M258.2 300.0V289.7M162.5 300.0V297.9M160.1 300.0V292.6M236.7 300.0V296.8M203.8 300.0V298.0M300.9 300.0V296.2M199.4 300.0V291.6M123.3 300.0V292.7M161.6 300.0V291.1M97.8 300.0V297.6M231.2 300.0V296.0M167.4 300.0V294.9M128.2 300.0V296.5M75.0 300.0V291.3M137.1 300.0V290.7M210.6 300.0V294.6M228.8 300.0V298.1M266.1 300.0V297.5M287.2 300.0V291.6M241.7 300.0V291.0M182.1 300.0V293.6M309.4 300.0V298.0M99.3 300.0V296.7M200.1 300.0V298.1M129.0 300.0V289.9M170.1 300.0V298.1M119.6 300.0V294.9M121.3 300.0V296.1M207.0 300.0V296.5M198.7 300.0V290.6M78.6 300.0V288.5M123.6 300.0V298.2M263.7 300.0V295.0M207.1 300.0V297.9M267.0 300.0V297.4M253.7 300.0V297.8M215.7 300.0V293.9M166.1 300.0V296.1M90.6 300.0V294.0M244.9 300.0V298.0M210.2 300.0V292.6M99.4 300.0V290.5M289.1 300.0V298.2M135.7 300.0V298.2M136.8 300.0V298.2M195.1 300.0V297.7M148.5 300.0V296.3M166.1 300.0V291.5M252.6 300.0V298.1M129.6 300.0V298.2M155.7 300.0V298.1M246.4 300.0V291.7M320.0 300.0V297.9M83.5 300.0V292.1M176.0 300.0V288.4M171.2 300.0V297.4M92.4 300.0V288.0M200.7 300.0V296.5M182.2 300.0V291.9M279.3 300.0V296.1M118.4 300.0V296.7M294.2 300.0V296.7M237.4 300.0V295.2M188.2 300.0V295.0M134.9 300.0V295.2M287.7 300.0V298.2M165.4 300.0V289.6M315.6 300.0V298.2M229.1 300.0V294.2M282.3 300.0V296.2M106.8 300.0V297.5M250.2 300.0V292.6M124.9 300.0V294.0M236.4 300.0V293.8M79.9 300.0V296.4M154.6 300.0V294.7M157.5 300.0V298.1M239.7 300.0V297.5M269.4 300.0V297.4M209.1 300.0V291.1M103.0 300.0V292.6M91.3 300.0V288.3M80.7 300.0V292.7M165.4 300.0V298.0M171.9 300.0V295.8M176.8 300.0V298.1M203.4 300.0V297.5M312.9 300.0V296.9M181.8 300.0V297.8M313.3 300.0V297.4M233.8 300.0V290.6M171.4 300.0V292.2M143.2 300.0V298.1M84.9 300.0V296.4M289.9 300.0V297.9M183.1 300.0V292.0M142.6 300.0V298.0M202.5 300.0V296.6M305.8 300.0V289.2M133.2 300.0V295.2M177.1 300.0V298.2M184.0 300.0V288.8M149.1 300.0V294.8M249.6 300.0V298.2M302.3 300.0V298.1M148.8 300.0V292.9M79.3 300.0V297.0M105.7 300.0V296.1M78.4 300.0V298.1M129.3 300.0V298.2M96.8 300.0V297.9M202.1 300.0V298.1M276.9 300.0V296.7M136.6 300.0V297.8M281.5 300.0V298.2M257.5 300.0V298.1M307.3 300.0V296.7M221.8 300.0V290.0M99.3 300.0V298.2M245.5 300.0V294.8M252.2 300.0V297.6M197.0 300.0V298.0M182.2 300.0V297.6M218.9 300.0V297.5M142.2 300.0V294.0M95.6 300.0V291.3M196.7 300.0V297.8M102.8 300.0V295.8M198.7 300.0V292.8M166.7 300.0V296.7M294.5 300.0V297.6M316.3 300.0V289.3M318.6 300.0V288.1M137.9 300.0V291.0M225.3 300.0V297.9M320.4 300.0V294.0M274.1 300.0V295.2M94.1 300.0V290.0M117.7 300.0V297.7M226.4 300.0V297.9M188.5 300.0V292.9M98.2 300.0V293.8M100.3 300.0V296.1M234.6 300.0V293.3M85.1 300.0V297.9M311.2 300.0V296.9M179.2 300.0V297.0M246.1 300.0V292.4M234.8 300.0V296.8M214.9 300.0V295.7M120.8 300.0V288.0M312.3 300.0V291.7M319.2 300.0V296.2M281.3 300.0V297.8M257.6 300.0V292.9M305.9 300.0V290.6M291.3 300.0V297.6M268.6 300.0V296.1M151.5 300.0V297.0M271.4 300.0V290.4M282.7 300.0V293.6M116.5 300.0V298.0M214.5 300.0V297.9M157.5 300.0V298.1M112.7 300.0V292.8M129.6 300.0V290.3M155.6 300.0V290.3M149.1 300.0V297.6M171.8 300.0V298.2M181.9 300.0V297.0M77.6 300.0V290.0M167.0 300.0V298.2M311.2 300.0V297.8M136.9 300.0V298.2M99.0 300.0V293.0M218.0 300.0V295.8M135.2 300.0V297.5M313.6 300.0V297.0M318.4 300.0V289.5M105.2 300.0V290.3M79.7 300.0V292.9M274.1 300.0V293.2M210.0 300.0V291.0M112.6 300.0V295.4M140.0 300.0V296.8M121.7 300.0V293.0M215.8 300.0V291.7M229.4 300.0V294.7M301.8 300.0V291.1M214.2 300.0V297.3M303.2 300.0V297.0M99.7 300.0V297.3M248.6 300.0V288.4M233.7 300.0V293.7M305.5 300.0V291.7" stroke="#117a11" stroke-width="0.6" stroke-opacity="0.35"/>
<path d="M184.3 300.0V296.3M261.8 300.0V297.1M101.6 300.0V295.1M273.9 300.0V297.4M243.0 300.0V292.1M106.0 300.0V297.7M196.0 300.0V297.0M308.5 300.0V290.7M184.3 300.0V293.3M230.2 300.0V297.6M314.0 300.0V297.6M93.2 300.0V296.4M78.9 300.0V296.2M176.1 300.0V291.3M176.5 300.0V292.6M266.7 300.0V295.4M133.1 300.0V297.2M195.7 300.0V296.7M233.6 300.0V296.0M154.1 300.0V295.2M320.1 300.0V297.5M157.2 300.0V297.8M97.6 300.0V297.8M178.7 300.0V292.8M246.5 300.0V291.1M280.8 300.0V295.4M217.6 300.0V297.8M169.0 300.0V297.3M227.5 300.0V297.8M208.2 300.0V296.8M195.8 300.0V296.7M99.7 300.0V294.0M271.8 300.0V295.3M103.0 300.0V295.3M289.2 300.0V290.8M261.5 300.0V297.8M291.0 300.0V294.7M142.7 300.0V291.7M278.1 300.0V292.1M135.5 300.0V295.4M167.9 300.0V297.2M262.1 300.0V295.1M156.3 300.0V295.7M303.3 300.0V295.5M299.7 300.0V295.5M319.1 300.0V297.8M187.9 300.0V295.6M253.7 300.0V291.1M228.1 300.0V296.2M230.8 300.0V295.8M248.3 300.0V291.4M77.9 300.0V297.1M290.5 300.0V297.8M269.3 300.0V297.8M234.3 300.0V293.2M133.2 300.0V296.8M130.3 300.0V294.3M204.8 300.0V295.2M154.7 300.0V295.4M309.8 300.0V293.5M309.1 300.0V297.4M201.7 300.0V296.8M159.8 300.0V293.2M117.6 300.0V295.6M265.3 300.0V291.5M79.1 300.0V297.3M196.0 300.0V291.5M114.7 300.0V292.7M172.4 300.0V295.7M303.3 300.0V297.8M155.7 300.0V297.7M107.5 300.0V297.2M247.2 300.0V295.4" stroke="#117a11" stroke-width="0.6" stroke-opacity="0.85"/>
<path d="M118.4 300V264" stroke="#117a11" stroke-width="0.7" stroke-opacity="0.85"/>
<path d="M143.4 300V264" stroke="#117a11" stroke-width="0.7" stroke-opacity="0.85"/>
<path d="M147.7 300V264" stroke="#117a11" stroke-width="0.7" stroke-opacity="0.85"/>
<path d="M238.4 300V264" stroke="#117a11" stroke-width="0.7" stroke-opacity="0.85"/>
<path d="M246.4 300V264" stroke="#117a11" stroke-width="0.7" stroke-opacity="0.85"/>
<path d="M251.4 300V264" stroke="#117a11" stroke-width="0.7" stroke-opacity="0.85"/>
<path d="M254.4 300V264" stroke="#117a11" stroke-width="0.7" stroke-opacity="0.85"/>
<path d="M261.4 300V264" stroke="#117a11" stroke-width="0.7" stroke-opacity="0.85"/>
<path d="M290 300V264" stroke="#117a11" stroke-width="0.7" stroke-opacity="0.35"/>
<path d="M282.3 300V264" stroke="#117a11" stroke-width="0.7" stroke-opacity="0.35"/>
<path d="M89.4 300V282" stroke="#117a11" stroke-width="0.7" stroke-opacity="0.7"/>
<path d="M94.4 300V283.8" stroke="#117a11" stroke-width="0.7" stroke-opacity="0.7"/>
<path d="M97.2 300V283.8" stroke="#117a11" stroke-width="0.7" stroke-opacity="0.7"/>
<path d="M105.6 300V289.2" stroke="#117a11" stroke-width="0.7" stroke-opacity="0.7"/>
<path d="M116.5 300V283.8" stroke="#117a11" stroke-width="0.7" stroke-opacity="0.7"/>
<path d="M122.5 300V289.2" stroke="#117a11" stroke-width="0.7" stroke-opacity="0.7"/>
<path d="M128 300V287.4" stroke="#117a11" stroke-width="0.7" stroke-opacity="0.7"/>
<path d="M139.3 300V283.8" stroke="#117a11" stroke-width="0.7" stroke-opacity="0.7"/>
<path d="M154.2 300V283.8" stroke="#117a11" stroke-width="0.7" stroke-opacity="0.7"/>
<path d="M159.5 300V287.4" stroke="#117a11" stroke-width="0.7" stroke-opacity="0.7"/>
<path d="M184 300V289.2" stroke="#117a11" stroke-width="0.7" stroke-opacity="0.7"/>
<path d="M187 300V289.2" stroke="#117a11" stroke-width="0.7" stroke-opacity="0.7"/>
<path d="M190 300V288.48" stroke="#117a11" stroke-width="0.7" stroke-opacity="0.7"/>
<path d="M193 300V289.2" stroke="#117a11" stroke-width="0.7" stroke-opacity="0.7"/>
<path d="M217.4 300V278.4" stroke="#117a11" stroke-width="0.7" stroke-opacity="0.7"/>
<path d="M220.2 300V276.6" stroke="#117a11" stroke-width="0.7" stroke-opacity="0.7"/>
<path d="M240.8 300V278.4" stroke="#117a11" stroke-width="0.7" stroke-opacity="0.7"/>
<path d="M245.5 300V273" stroke="#117a11" stroke-width="0.7" stroke-opacity="0.7"/>
<path d="M270.1 300V283.8" stroke="#117a11" stroke-width="0.7" stroke-opacity="0.7"/>
<path d="M282.3 300V280.2" stroke="#117a11" stroke-width="0.7" stroke-opacity="0.7"/>
<path d="M284.3 300V283.8" stroke="#117a11" stroke-width="0.7" stroke-opacity="0.7"/>
<path d="M306.6 300V267.6" stroke="#117a11" stroke-width="0.7" stroke-opacity="0.7"/>
<path d="M310.3 300V283.8" stroke="#117a11" stroke-width="0.7" stroke-opacity="0.7"/>
<path d="M339 300V294.3h.5V297.9h.5V297.3h.5V292.8h.5V297.8h.5V293.6h.5V297.9h.5V297.4h.5V294.0h.5V297.7h.5V297.3h.5V295.4h.5V297.3h.5V297.6h.5V296.4h.5V293.7h.5V297.8h.5V297.5h.5V294.5h.5V297.8h.5V297.6h.5V297.6h.5V297.9h.5V297.4h.5V297.9h.5V294.8h.5V295.5h.5V297.7h.5V297.3h.5V297.0h.5V297.4h.5V294.4h.5V297.4h.5V295.3h.5V297.3h.5V297.6h.5V297.8h.5V297.6h.5V297.5h.5V297.3h.5V297.2h.5V296.3h.5V297.8h.5V298.0h.5V294.6h.5V297.1h.5V297.6h.5V293.9h.5V297.7h.5V295.8h.5V297.3h.5V297.8h.5V297.6h.5V296.9h.5V297.3h.5V297.6h.5V297.9h.5V297.5h.5V297.7h.5V298.0h.5V297.3h.5V294.0h.5V294.8h.5V297.2h.5V294.3h.5V297.9h.5V297.8h.5V297.1h.5V293.4h.5V297.5h.5V298.0h.5V296.6h.5V297.0h.5V297.7h.5V297.1h.5V292.8h.5V296.4h.5V297.7h.5V296.7h.5V292.3h.5V297.8h.5V297.9h.5V294.5h.5V297.8h.5V297.6h.5V296.5h.5V298.0h.5V297.4h.5V293.0h.5V297.8h.5V296.4h.5V297.8h.5V296.8h.5V294.9h.5V297.6h.5V297.8h.5V297.9h.5V297.6h.5V297.7h.5V297.5h.5V297.7h.5V297.8h.5V297.5h.5V295.8h.5V297.5h.5V293.9h.5V297.0h.5V297.4h.5V297.8h.5V295.2h.5V295.1h.5V294.7h.5V294.2h.5V297.7h.5V298.0h.5V298.0h.5V297.3h.5V297.7h.5V294.5h.5V294.8h.5V298.0h.5V297.8h.5V298.0h.5V295.5h.5V297.5h.5V295.0h.5V297.8h.5V296.1h.5V297.8h.5V297.4h.5V297.4h.5V297.5h.5V295.0h.5V294.8h.5V298.0h.5V296.6h.5V293.4h.5V297.8h.5V297.4h.5V297.7h.5V297.2h.5V297.5h.5V297.8h.5V293.3h.5V294.0h.5V298.0h.5V297.8h.5V297.9h.5V297.9h.5V297.7h.5V297.0h.5V296.5h.5V297.4h.5V293.0h.5V297.6h.5V297.5h.5V293.4h.5V298.0h.5V297.3h.5V295.3h.5V296.5h.5V297.7h.5V295.6h.5V295.9h.5V292.2h.5V295.2h.5V297.7h.5V297.9h.5V297.9h.5V297.9h.5V293.7h.5V297.8h.5V297.6h.5V297.7h.5V292.5h.5V292.4h.5V297.8h.5V292.7h.5V293.8h.5V297.4h.5V298.0h.5V297.9h.5V297.4h.5V295.4h.5V294.8h.5V292.8h.5V294.3h.5V294.2h.5V296.4h.5V296.8h.5V293.7h.5V297.7h.5V297.2h.5V297.9h.5V297.4h.5V298.0h.5V297.6h.5V294.2h.5V298.0h.5V297.8h.5V297.9h.5V297.4h.5V297.9h.5V297.5h.5V297.9h.5V292.7h.5V297.1h.5V292.0h.5V292.6h.5V297.4h.5V295.3h.5V296.7h.5V296.6h.5V297.9h.5V297.7h.5V297.7h.5V295.7h.5V293.4h.5V296.6h.5V297.8h.5V297.5h.5V297.9h.5V298.0h.5V297.6h.5V297.4h.5V297.4h.5V295.0h.5V296.4h.5V294.6h.5V297.4h.5V297.4h.5V297.9h.5V298.0h.5V297.4h.5V294.5h.5V296.3h.5V297.5h.5V297.5h.5V294.7h.5V297.9h.5V297.1h.5V296.3h.5V297.2h.5V297.3h.5V297.9h.5V295.1h.5V297.0h.5V297.3h.5V298.0h.5V297.2h.5V296.9h.5V298.0h.5V297.3h.5V297.7h.5V297.4h.5V297.3h.5V294.3h.5V297.3h.5V296.1h.5V297.4h.5V297.9h.5V295.0h.5V294.2h.5V297.6h.5V297.3h.5V298.0h.5V297.1h.5V292.9h.5V297.9h.5V297.4h.5V297.5h.5V294.2h.5V295.1h.5V292.7h.5V297.7h.5V298.0h.5V295.9h.5V297.4h.5V297.9h.5V297.9h.5V295.9h.5V297.6h.5V296.1h.5V294.5h.5V297.7h.5V293.1h.5V297.8h.5V297.8h.5V297.2h.5V297.7h.5V297.2h.5V297.3h.5V293.0h.5V292.3h.5V295.4h.5V297.7h.5V293.4h.5V295.3h.5V296.5h.5V297.9h.5V295.4h.5V298.0h.5V297.7h.5V297.7h.5V294.1h.5V297.5h.5V297.6h.5V297.4h.5V297.4h.5V297.3h.5V297.9h.5V297.9h.5V296.5h.5V297.5h.5V297.7h.5V297.4h.5V298.0h.5V297.8h.5V297.9h.5V297.7h.5V297.8h.5V297.8h.5V297.2h.5V295.4h.5V297.7h.5V292.2h.5V296.0h.5V297.9h.5V292.9h.5V297.9h.5V295.6h.5V297.9h.5V297.9h.5V297.7h.5V296.8h.5V295.0h.5V297.6h.5V294.0h.5V297.5h.5V296.0h.5V297.9h.5V293.8h.5V297.9h.5V297.4h.5V297.9h.5V297.7h.5V297.9h.5V297.9h.5V296.4h.5V297.2h.5V297.9h.5V292.8h.5V297.3h.5V297.6h.5V297.5h.5V297.7h.5V293.5h.5V297.2h.5V298.0h.5V297.4h.5V297.3h.5V297.9h.5V297.4h.5V297.4h.5V294.0h.5V294.2h.5V297.5h.5V294.9h.5V297.7h.5V297.7h.5V297.4h.5V297.4h.5V293.4h.5V297.8h.5V297.8h.5V298.0h.5V297.6h.5V296.5h.5V296.3h.5V293.0h.5V297.9h.5V297.5h.5V297.4h.5V298.0h.5V297.7h.5V297.9h.5V294.6h.5V296.5h.5V297.4h.5V296.8h.5V292.5h.5V297.5h.5V295.0h.5V294.3h.5V293.5h.5V297.6h.5V294.3h.5V292.5h.5V293.3h.5V297.6h.5V297.9h.5V295.1h.5V300Z" fill="#117a11"/>
<path d="M504.3 300.0V297.0M538.5 300.0V293.9M348.1 300.0V298.1M354.3 300.0V295.0M403.6 300.0V297.7M428.8 300.0V298.2M521.4 300.0V290.5M451.1 300.0V296.4M400.9 300.0V294.6M408.6 300.0V287.3M530.9 300.0V292.7M504.8 300.0V298.2M363.8 300.0V297.2M364.3 300.0V296.6M536.9 300.0V290.6M531.4 300.0V297.8M383.5 300.0V298.2M393.9 300.0V298.2M445.0 300.0V297.5M474.2 300.0V295.2M458.9 300.0V297.5M486.5 300.0V293.3M482.4 300.0V296.2M432.1 300.0V297.6M347.0 300.0V296.2M462.7 300.0V298.0M511.6 300.0V289.6M510.3 300.0V291.0M437.0 300.0V298.0M393.4 300.0V292.5M536.6 300.0V298.1M340.3 300.0V297.1M409.1 300.0V294.7M361.5 300.0V290.4M406.8 300.0V289.0M405.1 300.0V297.4M374.3 300.0V287.6M457.3 300.0V290.8M351.7 300.0V295.4M486.1 300.0V287.1M527.0 300.0V298.1M413.9 300.0V286.7M446.3 300.0V287.8M389.9 300.0V298.2M528.9 300.0V297.7M451.5 300.0V297.1M454.9 300.0V288.4M529.0 300.0V289.7M390.5 300.0V290.9M342.7 300.0V296.7M528.5 300.0V297.7M412.7 300.0V294.9M386.5 300.0V293.0M470.0 300.0V298.1M523.7 300.0V298.2M478.8 300.0V297.2M367.8 300.0V298.2M539.2 300.0V291.3M431.1 300.0V291.4M533.6 300.0V288.5M445.9 300.0V297.6M443.1 300.0V287.2M485.6 300.0V293.6M508.2 300.0V296.7M451.2 300.0V290.3M379.0 300.0V290.1M343.9 300.0V295.4M454.4 300.0V298.1M524.0 300.0V296.5M376.1 300.0V296.7M457.7 300.0V296.6M339.6 300.0V298.2M482.1 300.0V298.1M390.3 300.0V291.2M511.9 300.0V289.6M374.0 300.0V298.2M490.4 300.0V294.7M412.2 300.0V298.2M425.6 300.0V297.8M457.0 300.0V287.2M381.0 300.0V298.2M478.4 300.0V298.1M383.7 300.0V296.5M536.9 300.0V297.3M402.4 300.0V296.1M371.6 300.0V296.8M479.5 300.0V297.3M498.8 300.0V298.0M359.4 300.0V294.3M429.9 300.0V288.7M360.1 300.0V292.3M473.4 300.0V297.0M364.8 300.0V294.5M491.2 300.0V296.1M433.8 300.0V293.4M461.3 300.0V296.6M376.3 300.0V296.2M449.3 300.0V289.2M538.7 300.0V295.2M404.9 300.0V297.8M465.5 300.0V292.5M388.7 300.0V293.3M539.5 300.0V296.9M527.4 300.0V296.5M469.9 300.0V289.9M379.8 300.0V297.2M536.5 300.0V298.2M400.5 300.0V296.1M488.5 300.0V294.2M525.6 300.0V293.6M339.3 300.0V298.2M346.3 300.0V296.5M344.4 300.0V295.6M466.0 300.0V297.9M510.8 300.0V296.7M531.7 300.0V297.1M463.4 300.0V295.4M391.8 300.0V291.7M339.8 300.0V297.7M403.4 300.0V289.6M439.5 300.0V298.2M399.0 300.0V294.5M501.3 300.0V298.1M495.4 300.0V296.9M444.2 300.0V296.6M427.0 300.0V286.9M523.5 300.0V288.7M486.7 300.0V293.1M367.4 300.0V298.2M505.8 300.0V293.6M465.6 300.0V297.4M392.6 300.0V288.7M445.8 300.0V298.2M407.3 300.0V297.2M352.6 300.0V287.3M520.2 300.0V291.0M339.9 300.0V296.7M361.4 300.0V292.7M501.4 300.0V291.5M497.9 300.0V298.1M341.7 300.0V298.2M508.1 300.0V290.7M442.6 300.0V297.8M511.0 300.0V298.1M404.2 300.0V298.2M536.3 300.0V296.7M493.8 300.0V291.3M455.6 300.0V287.0M494.4 300.0V288.5M532.4 300.0V298.2M489.6 300.0V297.8M404.1 300.0V297.2M537.4 300.0V298.2M426.3 300.0V298.1M539.2 300.0V295.9M479.9 300.0V295.6M493.0 300.0V297.3M422.0 300.0V292.4M480.0 300.0V289.4M401.1 300.0V290.3M487.0 300.0V295.0M420.9 300.0V295.1M354.4 300.0V298.1M401.5 300.0V298.1M348.8 300.0V292.8M485.8 300.0V294.4M380.3 300.0V292.8M504.7 300.0V294.4M384.6 300.0V295.1M418.2 300.0V297.6M368.8 300.0V290.0M465.9 300.0V288.4M373.5 300.0V297.7M441.2 300.0V298.2M399.7 300.0V295.4M435.7 300.0V288.9M454.9 300.0V294.1M456.4 300.0V291.6M412.5 300.0V298.2M535.8 300.0V291.5M364.4 300.0V298.1M383.6 300.0V293.8M365.3 300.0V298.2M438.2 300.0V298.2M391.0 300.0V296.9M380.2 300.0V298.2M391.2 300.0V297.8M404.1 300.0V296.7M411.2 300.0V297.3M342.8 300.0V290.5M487.2 300.0V295.9M339.6 300.0V297.8M519.7 300.0V296.3M380.2 300.0V290.9M517.9 300.0V298.1M439.6 300.0V295.1M362.5 300.0V297.4M463.1 300.0V293.6M465.1 300.0V294.4M414.9 300.0V298.2M342.2 300.0V290.5M512.6 300.0V289.0M354.3 300.0V291.9M373.5 300.0V297.2M379.2 300.0V290.1M503.4 300.0V290.6M415.6 300.0V288.3M391.2 300.0V295.0M474.1 300.0V297.8M415.6 300.0V298.1M498.9 300.0V298.0M366.3 300.0V297.6M467.5 300.0V294.1M444.3 300.0V290.2M490.0 300.0V297.9M446.3 300.0V298.0M387.5 300.0V298.1M354.5 300.0V297.2M516.9 300.0V293.8M356.6 300.0V297.8" stroke="#117a11" stroke-width="0.6" stroke-opacity="0.35"/>
<path d="M457.7 300.0V295.8M344.3 300.0V297.8M452.6 300.0V295.2M355.1 300.0V293.5M387.2 300.0V295.3M445.3 300.0V297.0M528.9 300.0V296.7M423.9 300.0V295.7M507.5 300.0V290.8M493.5 300.0V295.8M482.9 300.0V294.9M531.5 300.0V291.1M491.5 300.0V297.5M453.1 300.0V296.4M385.4 300.0V293.4M383.4 300.0V294.2M437.2 300.0V296.5M480.8 300.0V294.1M537.6 300.0V290.7M499.5 300.0V297.3M473.3 300.0V296.1M527.7 300.0V296.4M410.7 300.0V297.8M433.4 300.0V295.8M400.9 300.0V297.8M436.1 300.0V297.8M373.5 300.0V296.4M408.9 300.0V296.0M445.4 300.0V296.8M365.8 300.0V297.8M451.3 300.0V291.1M395.5 300.0V296.9M403.1 300.0V293.9M438.0 300.0V293.3M340.0 300.0V297.7M380.4 300.0V296.9M419.2 300.0V296.8M532.8 300.0V296.5M454.5 300.0V291.2M467.8 300.0V295.3M505.2 300.0V297.0M346.2 300.0V291.2M446.2 300.0V295.4M352.4 300.0V293.8M414.0 300.0V294.9M395.9 300.0V291.8M413.0 300.0V297.3M518.4 300.0V297.5M393.4 300.0V296.1M535.9 300.0V297.7M381.2 300.0V293.3M354.1 300.0V296.6M496.2 300.0V294.2M498.2 300.0V297.7M517.6 300.0V296.9M502.4 300.0V296.2M517.9 300.0V296.2M390.7 300.0V297.7M438.6 300.0V297.8M371.9 300.0V292.3" stroke="#117a11" stroke-width="0.6" stroke-opacity="0.85"/>
<path d="M396.4 300V264" stroke="#117a11" stroke-width="0.7" stroke-opacity="0.85"/>
<path d="M403.6 300V264" stroke="#117a11" stroke-width="0.7" stroke-opacity="0.85"/>
<path d="M409.6 300V264" stroke="#117a11" stroke-width="0.7" stroke-opacity="0.85"/>
<path d="M410.5 300V264" stroke="#117a11" stroke-width="0.7" stroke-opacity="0.85"/>
<path d="M411.1 300V264" stroke="#117a11" stroke-width="0.7" stroke-opacity="0.85"/>
<path d="M413.4 300V264" stroke="#117a11" stroke-width="0.7" stroke-opacity="0.85"/>
<path d="M457.5 300V264" stroke="#117a11" stroke-width="0.7" stroke-opacity="0.85"/>
<path d="M494.4 300V264" stroke="#117a11" stroke-width="0.7" stroke-opacity="0.85"/>
<path d="M539.4 300V264" stroke="#117a11" stroke-width="0.7" stroke-opacity="0.85"/>
<path d="M366.4 300V271.2" stroke="#117a11" stroke-width="0.7" stroke-opacity="0.7"/>
<path d="M390.3 300V280.2" stroke="#117a11" stroke-width="0.7" stroke-opacity="0.7"/>
<path d="M426.3 300V282" stroke="#117a11" stroke-width="0.7" stroke-opacity="0.7"/>
<path d="M433.2 300V283.8" stroke="#117a11" stroke-width="0.7" stroke-opacity="0.7"/>
<path d="M436.2 300V274.8" stroke="#117a11" stroke-width="0.7" stroke-opacity="0.7"/>
<path d="M463 300V276.6" stroke="#117a11" stroke-width="0.7" stroke-opacity="0.7"/>
<path d="M472.6 300V280.2" stroke="#117a11" stroke-width="0.7" stroke-opacity="0.7"/>
<path d="M513.5 300V280.2" stroke="#117a11" stroke-width="0.7" stroke-opacity="0.7"/>
<path d="M522.4 300V273" stroke="#117a11" stroke-width="0.7" stroke-opacity="0.7"/>
<path d="M556.2 300V293.7h.5V296.8h.5V298.0h.5V293.0h.5V297.6h.5V293.7h.5V297.5h.5V293.6h.5V297.7h.5V296.6h.5V296.9h.5V297.9h.5V297.6h.5V294.0h.5V297.3h.5V297.9h.5V297.0h.5V294.9h.5V297.9h.5V292.4h.5V297.6h.5V296.9h.5V294.5h.5V297.6h.5V298.0h.5V298.0h.5V297.7h.5V297.8h.5V297.8h.5V298.0h.5V297.2h.5V297.7h.5V298.0h.5V296.5h.5V296.2h.5V297.5h.5V297.4h.5V298.0h.5V297.7h.5V292.4h.5V297.3h.5V294.4h.5V297.6h.5V297.5h.5V297.8h.5V296.0h.5V293.7h.5V298.0h.5V297.8h.5V293.6h.5V294.4h.5V297.6h.5V298.0h.5V295.9h.5V297.6h.5V297.8h.5V297.9h.5V297.7h.5V297.6h.5V292.5h.5V297.7h.5V293.7h.5V297.0h.5V292.2h.5V297.9h.5V297.5h.5V295.1h.5V296.7h.5V296.1h.5V297.6h.5V297.6h.5V296.6h.5V297.8h.5V297.6h.5V297.7h.5V297.3h.5V297.8h.5V295.8h.5V293.7h.5V297.7h.5V295.4h.5V297.3h.5V297.5h.5V298.0h.5V297.7h.5V295.8h.5V293.0h.5V293.0h.5V296.6h.5V296.9h.5V297.6h.5V297.4h.5V295.9h.5V296.8h.5V297.4h.5V298.0h.5V297.5h.5V297.6h.5V297.0h.5V297.5h.5V297.9h.5V297.6h.5V295.2h.5V297.3h.5V294.3h.5V296.9h.5V297.7h.5V293.6h.5V298.0h.5V296.3h.5V297.5h.5V297.9h.5V297.9h.5V297.9h.5V298.0h.5V297.5h.5V297.4h.5V293.6h.5V292.8h.5V298.0h.5V297.9h.5V297.6h.5V297.6h.5V295.6h.5V297.6h.5V297.1h.5V297.8h.5V296.8h.5V297.9h.5V292.4h.5V294.6h.5V298.0h.5V293.6h.5V298.0h.5V297.5h.5V295.6h.5V297.9h.5V297.9h.5V293.8h.5V296.6h.5V297.6h.5V296.4h.5V297.4h.5V292.1h.5V297.5h.5V293.7h.5V294.3h.5V297.5h.5V297.8h.5V297.6h.5V297.3h.5V297.2h.5V298.0h.5V297.5h.5V296.4h.5V297.9h.5V295.4h.5V296.7h.5V297.8h.5V297.7h.5V297.3h.5V297.8h.5V298.0h.5V298.0h.5V292.6h.5V297.7h.5V292.9h.5V293.9h.5V297.9h.5V297.5h.5V297.1h.5V296.5h.5V297.3h.5V298.0h.5V297.5h.5V297.9h.5V293.3h.5V296.8h.5V297.8h.5V298.0h.5V294.9h.5V294.7h.5V297.3h.5V297.2h.5V297.6h.5V297.4h.5V295.5h.5V297.4h.5V293.7h.5V297.8h.5V298.0h.5V297.5h.5V292.6h.5V297.3h.5V297.6h.5V297.0h.5V292.6h.5V296.5h.5V297.9h.5V296.7h.5V297.7h.5V292.8h.5V293.4h.5V295.7h.5V297.7h.5V294.8h.5V297.1h.5V296.6h.5V292.6h.5V297.9h.5V297.4h.5V298.0h.5V297.7h.5V297.8h.5V297.5h.5V297.6h.5V297.7h.5V297.8h.5V296.3h.5V297.5h.5V298.0h.5V297.9h.5V297.9h.5V297.7h.5V297.8h.5V297.9h.5V295.4h.5V297.7h.5V297.5h.5V296.0h.5V297.6h.5V297.3h.5V297.7h.5V298.0h.5V297.3h.5V297.3h.5V297.7h.5V297.9h.5V297.6h.5V297.2h.5V297.2h.5V298.0h.5V292.3h.5V297.5h.5V297.0h.5V297.9h.5V297.7h.5V293.6h.5V293.5h.5V296.2h.5V294.0h.5V295.7h.5V297.5h.5V296.8h.5V294.1h.5V297.9h.5V300Z" fill="#117a11"/>
<path d="M595.1 300.0V291.3M585.8 300.0V294.2M560.3 300.0V298.2M646.5 300.0V295.9M570.6 300.0V296.1M676.1 300.0V296.9M627.2 300.0V296.6M620.6 300.0V298.2M668.8 300.0V294.9M600.5 300.0V297.6M580.0 300.0V288.4M663.4 300.0V297.0M633.1 300.0V295.3M581.7 300.0V298.2M650.0 300.0V298.0M628.2 300.0V298.2M559.0 300.0V298.0M639.5 300.0V294.5M682.6 300.0V293.8M622.8 300.0V298.2M678.3 300.0V296.0M665.6 300.0V298.2M662.7 300.0V296.1M583.8 300.0V296.8M565.8 300.0V294.9M584.1 300.0V293.1M578.3 300.0V293.3M634.9 300.0V292.9M677.4 300.0V297.5M643.3 300.0V296.8M670.2 300.0V290.8M653.6 300.0V294.6M589.5 300.0V289.0M679.7 300.0V288.0M599.3 300.0V290.9M642.8 300.0V290.5M658.5 300.0V296.3M606.6 300.0V291.4M639.7 300.0V295.4M667.6 300.0V298.2M557.9 300.0V296.2M568.6 300.0V290.4M567.4 300.0V289.6M584.9 300.0V298.1M652.3 300.0V293.5M608.5 300.0V294.7M626.7 300.0V288.0M620.9 300.0V295.4M615.1 300.0V296.7M644.2 300.0V298.1M644.5 300.0V288.5M653.2 300.0V295.4M601.3 300.0V298.1M568.0 300.0V295.4M668.4 300.0V289.9M579.6 300.0V292.3M659.1 300.0V296.1M665.6 300.0V298.0M599.0 300.0V295.7M648.9 300.0V296.4M594.7 300.0V289.9M606.2 300.0V296.6M584.7 300.0V296.0M646.2 300.0V297.1M640.6 300.0V295.9M557.7 300.0V287.7M592.9 300.0V295.3M678.5 300.0V297.9M564.4 300.0V297.9M575.7 300.0V290.2M622.1 300.0V298.2M590.8 300.0V295.7M578.4 300.0V297.4M671.5 300.0V296.4M585.9 300.0V294.7M570.6 300.0V295.6M638.8 300.0V298.2M626.1 300.0V297.4M651.1 300.0V294.4M672.2 300.0V294.5M579.5 300.0V298.0M645.9 300.0V291.1M564.2 300.0V296.7M592.3 300.0V296.2M667.4 300.0V295.2M651.1 300.0V292.0M591.6 300.0V294.4M604.0 300.0V296.1M623.8 300.0V293.7M577.7 300.0V290.5M576.7 300.0V297.4M664.5 300.0V287.1M603.0 300.0V287.9M561.0 300.0V287.8M581.8 300.0V298.2M653.4 300.0V298.0M652.1 300.0V298.2M572.0 300.0V297.1M567.0 300.0V296.2M600.3 300.0V292.5M619.0 300.0V287.6M663.7 300.0V298.0M673.2 300.0V289.3M628.2 300.0V295.6M577.9 300.0V297.4M584.3 300.0V297.9M634.5 300.0V297.3M654.1 300.0V295.0M661.7 300.0V298.2M664.2 300.0V295.8M636.8 300.0V297.8M644.9 300.0V296.8M648.2 300.0V294.9M574.1 300.0V297.5M652.1 300.0V298.2M636.8 300.0V295.3M647.3 300.0V297.3M617.0 300.0V296.1M651.7 300.0V298.2M621.3 300.0V297.7M631.3 300.0V297.7M582.5 300.0V297.8M670.3 300.0V297.1M668.4 300.0V292.5M590.5 300.0V295.2M557.3 300.0V288.4M636.6 300.0V298.1M622.4 300.0V295.9M641.7 300.0V297.5M672.2 300.0V294.3M565.5 300.0V290.9M669.0 300.0V297.5M646.9 300.0V290.1M668.6 300.0V298.2M662.9 300.0V297.7M658.4 300.0V293.3M615.6 300.0V289.1M658.6 300.0V286.8M678.4 300.0V295.0M649.9 300.0V293.6" stroke="#117a11" stroke-width="0.6" stroke-opacity="0.35"/>
<path d="M607.2 300.0V296.0M620.9 300.0V297.5M589.5 300.0V292.7M664.1 300.0V294.3M644.0 300.0V296.0M629.3 300.0V294.6M557.1 300.0V296.4M679.8 300.0V297.5M615.8 300.0V297.8M588.7 300.0V293.0M560.4 300.0V293.2M657.9 300.0V292.4M589.0 300.0V291.6M603.6 300.0V296.4M677.4 300.0V295.7M643.0 300.0V297.8M556.8 300.0V297.3M569.7 300.0V293.0M588.0 300.0V291.2M642.7 300.0V297.6M646.8 300.0V297.1M623.4 300.0V297.8M662.4 300.0V293.4M630.3 300.0V294.4M599.5 300.0V297.7M597.7 300.0V293.9M628.0 300.0V297.7M586.9 300.0V296.2M558.0 300.0V297.8M613.6 300.0V297.7M669.5 300.0V297.7M651.7 300.0V293.3M596.4 300.0V295.7M682.7 300.0V295.1M605.6 300.0V291.0M589.3 300.0V291.3M595.7 300.0V296.6M596.4 300.0V294.8" stroke="#117a11" stroke-width="0.6" stroke-opacity="0.85"/>
<path d="M606.4 300V264" stroke="#117a11" stroke-width="0.7" stroke-opacity="0.85"/>
<path d="M613.7 300V264" stroke="#117a11" stroke-width="0.7" stroke-opacity="0.85"/>
<path d="M619.6 300V264" stroke="#117a11" stroke-width="0.7" stroke-opacity="0.85"/>
<path d="M624.2 300V264" stroke="#117a11" stroke-width="0.7" stroke-opacity="0.85"/>
<path d="M630.6 300V264" stroke="#117a11" stroke-width="0.7" stroke-opacity="0.35"/>
<path d="M578.6 300V276.6" stroke="#117a11" stroke-width="0.7" stroke-opacity="0.7"/>
<path d="M639.4 300V282" stroke="#117a11" stroke-width="0.7" stroke-opacity="0.7"/>
<path d="M663.7 300V278.4" stroke="#117a11" stroke-width="0.7" stroke-opacity="0.7"/>
<line x1="74.5" y1="305.3" x2="74.5" y2="340.6" stroke="#9a9a9a" stroke-width="1"/>
<path d="M74.5 340.6V338.0h.5V331.3h.5V338.2h.5V338.5h.5V334.2h.5V338.1h.5V337.1h.5V336.1h.5V337.3h.5V336.3h.5V338.4h.5V338.4h.5V333.4h.5V338.5h.5V332.6h.5V337.8h.5V338.4h.5V338.2h.5V338.6h.5V337.2h.5V338.5h.5V337.9h.5V338.5h.5V334.0h.5V338.6h.5V337.9h.5V338.1h.5V338.5h.5V331.8h.5V332.4h.5V338.6h.5V335.7h.5V335.5h.5V338.3h.5V338.4h.5V338.1h.5V336.0h.5V332.9h.5V338.2h.5V337.0h.5V338.2h.5V336.8h.5V338.6h.5V333.1h.5V338.4h.5V336.3h.5V337.2h.5V335.3h.5V338.2h.5V338.1h.5V338.2h.5V337.8h.5V338.1h.5V338.0h.5V335.2h.5V338.5h.5V331.8h.5V333.0h.5V338.3h.5V333.9h.5V337.9h.5V334.9h.5V337.9h.5V338.5h.5V338.6h.5V337.9h.5V337.1h.5V335.7h.5V338.3h.5V338.0h.5V333.5h.5V337.9h.5V338.2h.5V338.5h.5V338.1h.5V338.6h.5V337.5h.5V338.5h.5V338.6h.5V338.0h.5V338.0h.5V338.3h.5V336.6h.5V338.4h.5V332.4h.5V338.4h.5V338.5h.5V337.7h.5V338.5h.5V338.2h.5V338.3h.5V338.6h.5V338.2h.5V338.4h.5V338.4h.5V338.0h.5V334.9h.5V337.2h.5V334.4h.5V338.1h.5V338.6h.5V335.2h.5V333.5h.5V338.3h.5V335.7h.5V338.1h.5V334.4h.5V338.6h.5V337.5h.5V337.6h.5V338.0h.5V337.9h.5V333.4h.5V336.9h.5V338.0h.5V338.5h.5V338.1h.5V337.9h.5V336.4h.5V332.8h.5V334.6h.5V334.6h.5V331.2h.5V336.2h.5V338.6h.5V338.0h.5V338.2h.5V334.4h.5V332.5h.5V334.3h.5V335.9h.5V338.6h.5V335.5h.5V338.5h.5V334.1h.5V332.8h.5V338.3h.5V338.5h.5V337.5h.5V337.9h.5V331.9h.5V335.6h.5V337.5h.5V338.5h.5V338.5h.5V336.8h.5V338.6h.5V335.4h.5V338.6h.5V337.7h.5V338.6h.5V338.6h.5V331.7h.5V338.5h.5V337.8h.5V338.0h.5V338.2h.5V336.8h.5V336.5h.5V337.5h.5V338.3h.5V334.6h.5V338.0h.5V335.1h.5V336.0h.5V338.4h.5V337.8h.5V338.6h.5V338.5h.5V337.8h.5V333.5h.5V338.2h.5V338.6h.5V338.1h.5V338.5h.5V336.8h.5V335.3h.5V336.4h.5V338.4h.5V337.8h.5V337.4h.5V337.2h.5V338.6h.5V338.4h.5V338.3h.5V338.1h.5V337.9h.5V338.2h.5V336.5h.5V333.6h.5V335.8h.5V337.5h.5V331.4h.5V338.3h.5V337.8h.5V336.5h.5V334.1h.5V334.5h.5V338.1h.5V336.6h.5V337.2h.5V338.4h.5V338.3h.5V337.4h.5V336.1h.5V338.3h.5V332.3h.5V335.0h.5V337.1h.5V338.6h.5V336.8h.5V331.2h.5V333.4h.5V338.0h.5V337.0h.5V338.5h.5V338.6h.5V337.3h.5V337.9h.5V337.0h.5V334.6h.5V338.5h.5V338.6h.5V337.1h.5V338.5h.5V334.1h.5V332.2h.5V338.3h.5V333.4h.5V335.5h.5V337.8h.5V338.6h.5V338.3h.5V338.3h.5V338.1h.5V338.1h.5V332.3h.5V338.2h.5V337.8h.5V338.2h.5V335.9h.5V336.8h.5V338.2h.5V335.5h.5V338.6h.5V338.5h.5V338.3h.5V338.1h.5V338.1h.5V331.5h.5V338.3h.5V332.3h.5V332.3h.5V338.1h.5V338.1h.5V338.1h.5V338.6h.5V338.2h.5V336.5h.5V338.2h.5V338.1h.5V337.9h.5V337.3h.5V337.8h.5V337.9h.5V335.1h.5V338.6h.5V334.3h.5V331.2h.5V338.3h.5V337.9h.5V332.5h.5V338.2h.5V336.8h.5V338.1h.5V335.9h.5V338.0h.5V333.2h.5V338.5h.5V336.6h.5V338.3h.5V338.6h.5V331.7h.5V338.5h.5V336.9h.5V333.5h.5V332.0h.5V332.4h.5V333.7h.5V332.3h.5V337.8h.5V338.3h.5V334.2h.5V336.7h.5V335.0h.5V336.1h.5V338.3h.5V332.6h.5V336.8h.5V333.5h.5V338.1h.5V335.7h.5V331.5h.5V334.8h.5V338.6h.5V336.4h.5V331.4h.5V337.2h.5V338.3h.5V335.7h.5V337.1h.5V336.5h.5V336.8h.5V338.1h.5V335.6h.5V334.5h.5V338.3h.5V338.4h.5V338.6h.5V338.2h.5V337.0h.5V338.3h.5V335.9h.5V338.2h.5V338.4h.5V336.4h.5V331.9h.5V338.5h.5V338.4h.5V338.1h.5V332.9h.5V338.6h.5V338.0h.5V337.4h.5V334.9h.5V337.8h.5V335.8h.5V336.1h.5V337.9h.5V338.5h.5V338.0h.5V338.5h.5V338.6h.5V338.0h.5V338.6h.5V337.8h.5V337.8h.5V333.9h.5V338.3h.5V331.2h.5V337.4h.5V334.9h.5V338.2h.5V338.3h.5V334.0h.5V338.0h.5V337.9h.5V337.8h.5V337.7h.5V336.8h.5V338.6h.5V338.4h.5V338.6h.5V334.2h.5V335.5h.5V338.6h.5V338.0h.5V336.5h.5V338.2h.5V337.1h.5V338.0h.5V334.3h.5V335.5h.5V332.7h.5V338.0h.5V337.8h.5V336.1h.5V336.6h.5V338.5h.5V338.1h.5V338.0h.5V338.0h.5V338.5h.5V337.9h.5V338.4h.5V336.9h.5V337.0h.5V331.4h.5V331.5h.5V338.5h.5V338.3h.5V336.5h.5V338.4h.5V337.8h.5V338.2h.5V331.2h.5V338.6h.5V338.2h.5V333.6h.5V338.3h.5V338.3h.5V337.9h.5V337.5h.5V337.9h.5V333.4h.5V331.3h.5V338.2h.5V338.1h.5V337.9h.5V337.0h.5V338.2h.5V338.1h.5V335.8h.5V338.6h.5V336.4h.5V336.7h.5V338.2h.5V338.3h.5V338.0h.5V338.6h.5V338.2h.5V335.3h.5V332.5h.5V331.6h.5V337.6h.5V337.9h.5V338.6h.5V337.5h.5V333.6h.5V333.4h.5V338.2h.5V338.5h.5V336.8h.5V338.5h.5V337.7h.5V337.8h.5V338.5h.5V336.3h.5V338.5h.5V335.5h.5V332.3h.5V338.5h.5V338.6h.5V337.8h.5V337.9h.5V338.1h.5V336.9h.5V337.0h.5V333.5h.5V337.6h.5V331.7h.5V337.4h.5V338.4h.5V334.1h.5V337.1h.5V336.4h.5V338.5h.5V338.4h.5V335.4h.5V338.3h.5V338.0h.5V337.9h.5V338.3h.5V338.4h.5V331.9h.5V337.6h.5V333.4h.5V337.1h.5V335.3h.5V334.0h.5V338.0h.5V338.2h.5V338.6h.5V338.0h.5V337.8h.5V336.6h.5V338.5h.5V335.3h.5V334.1h.5V331.4h.5V338.3h.5V336.3h.5V333.8h.5V337.9h.5V336.9h.5V336.3h.5V333.9h.5V338.5h.5V338.2h.5V338.0h.5V332.4h.5V337.9h.5V335.8h.5V338.6h.5V340.6Z" fill="#37379d"/>
<path d="M108.1 340.6V338.5M207.7 340.6V335.9M189.0 340.6V338.8M204.7 340.6V338.1M97.0 340.6V338.8M111.7 340.6V336.7M115.6 340.6V335.8M114.8 340.6V330.1M290.4 340.6V337.5M92.2 340.6V322.6M95.2 340.6V332.3M261.0 340.6V335.5M294.2 340.6V338.6M252.1 340.6V324.7M295.6 340.6V326.7M182.1 340.6V335.1M283.7 340.6V336.9M137.4 340.6V338.8M124.8 340.6V338.6M303.6 340.6V337.6M161.4 340.6V322.2M244.8 340.6V336.2M100.5 340.6V337.1M146.2 340.6V323.2M178.2 340.6V322.3M141.1 340.6V338.8M296.2 340.6V338.8M268.8 340.6V333.5M144.5 340.6V327.2M180.3 340.6V321.8M212.1 340.6V323.4M303.9 340.6V337.0M244.9 340.6V330.3M236.0 340.6V338.8M244.1 340.6V329.4M122.2 340.6V338.8M91.1 340.6V334.5M100.7 340.6V326.8M176.9 340.6V321.4M255.4 340.6V336.3M119.5 340.6V336.3M224.2 340.6V326.3M294.4 340.6V337.5M80.3 340.6V331.9M243.9 340.6V332.3M272.5 340.6V327.9M228.7 340.6V327.6M105.3 340.6V323.3M238.8 340.6V338.8M116.0 340.6V332.5M149.9 340.6V323.6M143.3 340.6V335.5M198.6 340.6V323.5M149.4 340.6V325.3M252.8 340.6V334.0M307.7 340.6V325.6M259.2 340.6V334.5M85.3 340.6V338.3M234.9 340.6V338.7M233.0 340.6V337.3M170.0 340.6V327.6M281.7 340.6V329.8M184.6 340.6V334.6M317.4 340.6V324.0M224.3 340.6V338.8M296.8 340.6V338.8M103.4 340.6V332.1M122.9 340.6V329.6M243.7 340.6V338.6M298.4 340.6V321.3M236.4 340.6V321.9M272.0 340.6V335.7M277.7 340.6V323.6M246.1 340.6V338.8M166.3 340.6V331.0M164.7 340.6V338.5M187.0 340.6V338.6M191.4 340.6V338.7M253.6 340.6V338.3M305.2 340.6V338.7M230.1 340.6V332.4M123.5 340.6V332.8M209.9 340.6V333.0M120.1 340.6V335.6M280.6 340.6V333.0M134.6 340.6V337.4M291.2 340.6V338.8M192.3 340.6V335.0M180.5 340.6V338.8M100.7 340.6V326.9M186.7 340.6V337.8M185.8 340.6V338.8M94.5 340.6V327.4M261.8 340.6V338.4M152.8 340.6V338.8M152.9 340.6V334.9M260.0 340.6V335.2M283.5 340.6V321.3M214.4 340.6V338.8M107.6 340.6V331.7M106.6 340.6V325.0M87.9 340.6V338.8M320.0 340.6V336.6M211.3 340.6V333.5M103.7 340.6V337.4M165.4 340.6V330.1M267.3 340.6V331.2M119.1 340.6V335.9M300.2 340.6V338.5M160.5 340.6V333.0M319.8 340.6V338.8M244.9 340.6V335.9M204.9 340.6V327.0M98.1 340.6V333.4M152.6 340.6V329.6M250.6 340.6V336.5M112.0 340.6V329.3M247.3 340.6V334.1M258.3 340.6V323.2M134.8 340.6V331.3M273.4 340.6V338.0M297.1 340.6V337.6M310.2 340.6V333.7M314.3 340.6V325.5M267.2 340.6V337.0M187.5 340.6V333.6M273.0 340.6V336.5M296.1 340.6V338.3M202.9 340.6V338.6M116.6 340.6V337.8M86.2 340.6V334.0M227.4 340.6V336.7M271.1 340.6V334.5M242.9 340.6V338.8M155.8 340.6V338.8M113.9 340.6V326.7M107.9 340.6V333.5M167.6 340.6V331.7M289.3 340.6V327.3M312.3 340.6V322.5M172.7 340.6V321.7M262.5 340.6V337.9M155.4 340.6V334.9M282.9 340.6V338.7M294.2 340.6V331.8M220.7 340.6V336.6M168.6 340.6V336.6M250.9 340.6V336.1M250.4 340.6V325.8M95.9 340.6V338.8M306.5 340.6V338.4M275.2 340.6V336.6M129.9 340.6V338.8M180.1 340.6V333.4M87.9 340.6V338.8M145.3 340.6V325.6M259.4 340.6V338.1M173.9 340.6V336.5M249.2 340.6V337.9M162.0 340.6V335.2M132.9 340.6V336.3M258.8 340.6V335.2M88.3 340.6V337.3M215.1 340.6V338.2M170.1 340.6V334.2M164.3 340.6V338.5M290.2 340.6V338.8M297.9 340.6V338.8M211.1 340.6V334.5M175.4 340.6V332.8M292.3 340.6V337.6M89.3 340.6V338.4M291.0 340.6V333.4M260.4 340.6V336.8M154.3 340.6V331.3M214.5 340.6V324.5M114.1 340.6V337.3M244.9 340.6V324.7M189.5 340.6V328.6M101.5 340.6V332.5M155.7 340.6V331.2M147.8 340.6V338.5M140.8 340.6V330.4M250.1 340.6V324.5M176.5 340.6V338.8M273.8 340.6V338.1M251.5 340.6V335.4M184.0 340.6V338.8M130.4 340.6V329.8M187.8 340.6V325.6M273.4 340.6V334.7M316.8 340.6V338.8M173.3 340.6V334.7M87.8 340.6V326.0M111.4 340.6V333.8M141.3 340.6V336.9M189.2 340.6V337.8M116.7 340.6V331.9M228.9 340.6V338.8M314.4 340.6V338.7M129.5 340.6V337.9M164.3 340.6V335.4M297.1 340.6V338.7M216.0 340.6V332.9M138.0 340.6V337.2M184.2 340.6V325.4M266.0 340.6V335.6M91.5 340.6V337.2M275.8 340.6V336.2M170.8 340.6V332.5M84.5 340.6V332.3M243.5 340.6V338.7M177.3 340.6V326.5M139.2 340.6V334.7M159.7 340.6V334.3M170.9 340.6V337.3M302.4 340.6V331.2M320.7 340.6V337.4M189.5 340.6V337.1M288.2 340.6V337.1M242.1 340.6V338.5M208.2 340.6V338.0M299.7 340.6V337.1M309.4 340.6V334.1M158.6 340.6V334.4M304.0 340.6V331.2M277.7 340.6V334.1M226.9 340.6V338.6M279.5 340.6V332.5M234.3 340.6V337.7M262.6 340.6V334.8M153.5 340.6V321.5M264.9 340.6V331.6M281.5 340.6V331.2M169.3 340.6V322.9M297.8 340.6V331.8M181.7 340.6V335.2M85.8 340.6V325.4M279.3 340.6V333.5M189.4 340.6V328.2M79.8 340.6V336.7M136.3 340.6V333.2M161.8 340.6V333.2M295.7 340.6V336.6M102.8 340.6V338.8M280.4 340.6V335.8M183.3 340.6V338.8M99.9 340.6V338.8M295.3 340.6V338.8M153.8 340.6V335.7M215.8 340.6V338.3M233.7 340.6V332.5M317.2 340.6V338.8M147.4 340.6V338.7M145.9 340.6V338.3M82.0 340.6V328.0M142.4 340.6V329.9M275.1 340.6V328.4M80.7 340.6V333.7M284.3 340.6V332.7M223.4 340.6V336.4M277.3 340.6V334.7M161.2 340.6V335.3M190.7 340.6V338.5M240.3 340.6V327.2M235.6 340.6V338.8M174.3 340.6V329.3M106.8 340.6V335.2M242.9 340.6V334.7M156.0 340.6V338.8M248.0 340.6V338.5M222.7 340.6V334.8M252.7 340.6V338.7M314.5 340.6V329.8M289.6 340.6V338.5M252.0 340.6V336.9M247.1 340.6V331.1M175.3 340.6V323.2M182.5 340.6V335.8M250.8 340.6V338.6M295.3 340.6V337.4M293.3 340.6V338.6M105.0 340.6V333.6M133.8 340.6V336.2M123.9 340.6V330.4M256.3 340.6V331.4M107.6 340.6V338.8M218.2 340.6V338.8M251.0 340.6V334.4M304.3 340.6V327.7M236.0 340.6V327.4M199.6 340.6V337.8M89.6 340.6V331.0M238.6 340.6V332.7M200.7 340.6V335.9M301.1 340.6V337.0M109.0 340.6V323.1M262.2 340.6V325.1M317.4 340.6V336.2M112.8 340.6V335.4M195.3 340.6V336.8M268.3 340.6V338.1M313.7 340.6V338.3M144.5 340.6V327.3M132.2 340.6V330.4M142.0 340.6V336.6M190.3 340.6V338.1M277.4 340.6V323.5M302.5 340.6V338.6M80.8 340.6V336.2M257.0 340.6V334.4M311.3 340.6V321.7M242.8 340.6V338.0M173.5 340.6V338.8M171.6 340.6V329.7M152.5 340.6V338.5M207.3 340.6V325.1M233.7 340.6V338.7M180.9 340.6V338.2M274.7 340.6V336.5M183.8 340.6V325.8M147.7 340.6V336.0M316.2 340.6V337.7M207.5 340.6V332.3M157.0 340.6V332.8M178.4 340.6V327.3M211.7 340.6V330.4M215.8 340.6V331.1M170.6 340.6V338.6M164.1 340.6V337.5M78.0 340.6V329.2M203.9 340.6V335.6M248.1 340.6V338.8M105.5 340.6V330.6M84.5 340.6V326.1M199.7 340.6V322.5M286.3 340.6V336.6M159.2 340.6V336.2M264.2 340.6V335.8M252.0 340.6V321.5M259.1 340.6V335.0M257.4 340.6V335.3M217.7 340.6V336.4M305.1 340.6V321.7M214.5 340.6V334.2M99.9 340.6V334.1M303.6 340.6V338.2M265.5 340.6V338.1M250.4 340.6V337.9M221.3 340.6V329.0M82.5 340.6V327.0M203.6 340.6V338.1M150.2 340.6V334.3M257.2 340.6V338.5M91.8 340.6V338.2M230.9 340.6V336.7M262.5 340.6V330.4M165.2 340.6V333.6M110.4 340.6V333.2M234.0 340.6V338.2M238.8 340.6V338.6M314.1 340.6V334.4M301.8 340.6V331.8M127.4 340.6V330.2M226.0 340.6V336.9M245.3 340.6V329.4M242.1 340.6V338.3M312.5 340.6V324.6M181.5 340.6V324.0" stroke="#37379d" stroke-width="0.6" stroke-opacity="0.3"/>
<path d="M319.4 340.6V337.1M121.6 340.6V337.8M195.2 340.6V338.2M133.0 340.6V332.4M79.1 340.6V334.3M175.0 340.6V332.8M138.3 340.6V335.9M127.0 340.6V338.5M287.6 340.6V337.0M147.3 340.6V328.6M165.7 340.6V335.2M109.2 340.6V336.6M290.3 340.6V330.8M276.1 340.6V329.0M131.4 340.6V338.5M106.6 340.6V333.7M209.0 340.6V336.9M250.0 340.6V337.9M224.4 340.6V336.5M108.9 340.6V331.7M119.9 340.6V331.2M262.1 340.6V336.3M186.3 340.6V338.0M108.9 340.6V333.0M165.9 340.6V334.9M165.2 340.6V337.7M114.7 340.6V331.9M181.2 340.6V338.2M289.8 340.6V338.2M131.0 340.6V338.2M212.4 340.6V331.7M82.1 340.6V328.8M247.7 340.6V330.7M178.5 340.6V336.3M97.6 340.6V337.7M289.2 340.6V337.6M296.6 340.6V330.6M301.4 340.6V338.3M178.7 340.6V330.6M151.2 340.6V337.8M79.6 340.6V335.3M210.1 340.6V338.0M138.3 340.6V334.0M117.1 340.6V331.5M289.5 340.6V336.5M106.6 340.6V334.8M147.3 340.6V338.4M249.3 340.6V334.9M141.4 340.6V337.8M252.9 340.6V329.0M161.2 340.6V334.6M128.9 340.6V336.0M217.6 340.6V337.4M223.6 340.6V335.2M85.2 340.6V338.3M176.6 340.6V338.2M209.2 340.6V334.5M228.6 340.6V329.6M224.4 340.6V331.8M103.0 340.6V329.9M303.7 340.6V334.5M278.5 340.6V335.1M181.6 340.6V338.2M193.0 340.6V332.7M270.3 340.6V329.5M202.2 340.6V328.4M166.2 340.6V338.5M179.6 340.6V335.2M265.0 340.6V337.9M80.7 340.6V332.6M121.6 340.6V330.3M214.0 340.6V338.3M202.9 340.6V331.7M129.6 340.6V328.2M88.4 340.6V338.2M221.0 340.6V333.3M222.9 340.6V328.9M124.1 340.6V338.5M207.0 340.6V337.1M172.2 340.6V336.7M292.0 340.6V337.6M245.1 340.6V334.8M144.6 340.6V329.1M137.5 340.6V337.5M122.0 340.6V332.9M245.4 340.6V337.0M103.5 340.6V334.5M157.7 340.6V335.1M236.1 340.6V338.5M85.8 340.6V330.9M288.4 340.6V338.4M129.5 340.6V336.4M279.8 340.6V337.4M310.3 340.6V338.4M297.7 340.6V338.4M222.8 340.6V327.8M252.4 340.6V329.1M161.1 340.6V328.2M297.2 340.6V337.6M264.7 340.6V329.0M127.2 340.6V336.8M264.4 340.6V334.8M300.7 340.6V336.4M184.9 340.6V338.2M142.1 340.6V329.8M138.9 340.6V329.4M272.4 340.6V334.8M148.9 340.6V338.5M103.6 340.6V330.7M310.8 340.6V328.0M143.6 340.6V328.6M183.0 340.6V337.0M298.5 340.6V330.9M241.8 340.6V337.6M100.9 340.6V338.1M139.4 340.6V338.1M215.2 340.6V337.4M127.6 340.6V329.8M165.3 340.6V338.5M76.8 340.6V335.0M81.8 340.6V335.0M80.8 340.6V336.0M227.0 340.6V335.2M127.8 340.6V330.5M314.2 340.6V331.0M304.2 340.6V327.8M165.2 340.6V335.1M176.5 340.6V331.5M115.9 340.6V337.9M185.7 340.6V335.1M318.7 340.6V337.2M75.5 340.6V336.8M290.6 340.6V338.4M202.3 340.6V334.4M281.3 340.6V337.3M224.2 340.6V328.2M314.2 340.6V334.9M157.9 340.6V333.7M254.5 340.6V333.3M240.9 340.6V336.8M251.0 340.6V337.1M131.8 340.6V338.4M210.9 340.6V338.2M144.0 340.6V337.5M166.2 340.6V336.5M314.8 340.6V335.4M209.9 340.6V336.7M209.5 340.6V331.0M203.3 340.6V335.5M161.0 340.6V338.1M127.0 340.6V338.4M144.6 340.6V338.5M177.0 340.6V334.8M102.8 340.6V332.0M185.9 340.6V334.1M180.5 340.6V331.4M242.0 340.6V338.3M209.8 340.6V337.7M258.6 340.6V336.9M129.7 340.6V338.5M317.6 340.6V338.3M136.5 340.6V328.7M87.0 340.6V336.6M181.2 340.6V333.3M267.4 340.6V327.8M153.1 340.6V338.4M127.6 340.6V338.5M140.8 340.6V334.1M294.9 340.6V338.4M140.6 340.6V329.5M219.2 340.6V336.7M92.3 340.6V338.4M128.1 340.6V334.2M88.8 340.6V335.6M276.1 340.6V338.5M145.4 340.6V336.6M224.8 340.6V332.4M241.8 340.6V336.4M157.8 340.6V334.1M187.8 340.6V328.7M204.9 340.6V334.6M238.7 340.6V335.9M195.8 340.6V333.5M222.3 340.6V327.2M149.7 340.6V335.7M314.7 340.6V331.0M211.1 340.6V337.4M118.5 340.6V336.5M179.6 340.6V336.4M137.6 340.6V335.9M215.9 340.6V338.4M236.9 340.6V332.8M122.6 340.6V337.8M83.9 340.6V336.0M240.9 340.6V336.6M219.7 340.6V334.3M85.4 340.6V338.4M199.5 340.6V328.8M248.5 340.6V336.2M138.5 340.6V338.3M233.8 340.6V331.9M171.3 340.6V338.4M142.8 340.6V332.8M264.5 340.6V336.7M293.2 340.6V336.8M80.3 340.6V338.0M293.9 340.6V332.9M95.9 340.6V337.6M171.8 340.6V335.9M80.7 340.6V328.9M205.4 340.6V337.7M82.3 340.6V334.8M304.4 340.6V332.6M286.2 340.6V329.9M238.5 340.6V338.4M151.2 340.6V334.7M177.1 340.6V337.9M91.2 340.6V330.0M238.9 340.6V337.5M190.4 340.6V329.9M110.0 340.6V334.0M131.9 340.6V329.2M271.8 340.6V328.3M168.9 340.6V335.6M153.7 340.6V337.1M309.5 340.6V327.9M319.6 340.6V329.2M195.1 340.6V333.6M298.3 340.6V336.4M301.0 340.6V331.3M144.5 340.6V337.0M244.7 340.6V338.2M137.6 340.6V338.1M100.8 340.6V329.2M320.4 340.6V330.9M198.7 340.6V332.2M243.9 340.6V336.3M202.8 340.6V338.3M134.1 340.6V337.1M162.5 340.6V333.6M134.1 340.6V337.8M290.1 340.6V331.6M304.3 340.6V331.6M122.6 340.6V335.8M280.1 340.6V331.1M130.7 340.6V335.9M219.7 340.6V338.5M134.5 340.6V332.3M238.8 340.6V336.2M215.3 340.6V335.3M159.7 340.6V338.4M257.4 340.6V331.7M181.7 340.6V331.8M278.5 340.6V333.1M273.7 340.6V327.9M84.3 340.6V328.5M186.0 340.6V331.6M256.2 340.6V338.4M219.1 340.6V338.4M254.9 340.6V337.2M167.3 340.6V337.6M274.1 340.6V333.8M148.1 340.6V332.3M120.2 340.6V331.2M223.5 340.6V331.9M226.4 340.6V327.5M245.8 340.6V336.1M220.1 340.6V334.9M144.8 340.6V337.4M271.4 340.6V330.9M312.4 340.6V333.2" stroke="#37379d" stroke-width="0.6" stroke-opacity="0.85"/>
<path d="M78.5 340.6V305.3" stroke="#37379d" stroke-width="0.7" stroke-opacity="0.85"/>
<path d="M84.5 340.6V305.3" stroke="#37379d" stroke-width="0.7" stroke-opacity="0.85"/>
<path d="M116.5 340.6V305.3" stroke="#37379d" stroke-width="0.7" stroke-opacity="0.85"/>
<path d="M143.4 340.6V305.3" stroke="#37379d" stroke-width="0.7" stroke-opacity="0.85"/>
<path d="M167.3 340.6V305.3" stroke="#37379d" stroke-width="0.7" stroke-opacity="0.85"/>
<path d="M201.5 340.6V305.3" stroke="#37379d" stroke-width="0.7" stroke-opacity="0.85"/>
<path d="M207.1 340.6V305.3" stroke="#37379d" stroke-width="0.7" stroke-opacity="0.85"/>
<path d="M232.4 340.6V305.3" stroke="#37379d" stroke-width="0.7" stroke-opacity="0.85"/>
<path d="M245.5 340.6V305.3" stroke="#37379d" stroke-width="0.7" stroke-opacity="0.85"/>
<path d="M251 340.6V305.3" stroke="#37379d" stroke-width="0.7" stroke-opacity="0.85"/>
<path d="M253.3 340.6V305.3" stroke="#37379d" stroke-width="0.7" stroke-opacity="0.85"/>
<path d="M271.3 340.6V305.3" stroke="#37379d" stroke-width="0.7" stroke-opacity="0.85"/>
<path d="M291.3 340.6V305.3" stroke="#37379d" stroke-width="0.7" stroke-opacity="0.85"/>
<path d="M302.5 340.6V305.3" stroke="#37379d" stroke-width="0.7" stroke-opacity="0.85"/>
<path d="M224 340.6V305.3" stroke="#37379d" stroke-width="0.7" stroke-opacity="0.35"/>
<path d="M246.4 340.6V305.3" stroke="#37379d" stroke-width="0.7" stroke-opacity="0.35"/>
<path d="M259.5 340.6V305.3" stroke="#37379d" stroke-width="0.7" stroke-opacity="0.35"/>
<path d="M282.5 340.6V305.3" stroke="#37379d" stroke-width="0.7" stroke-opacity="0.35"/>
<path d="M76.7 340.6V310.6" stroke="#37379d" stroke-width="0.7" stroke-opacity="0.7"/>
<path d="M89.8 340.6V322.95" stroke="#37379d" stroke-width="0.7" stroke-opacity="0.7"/>
<path d="M94.4 340.6V321.19" stroke="#37379d" stroke-width="0.7" stroke-opacity="0.7"/>
<path d="M107.5 340.6V322.95" stroke="#37379d" stroke-width="0.7" stroke-opacity="0.7"/>
<path d="M126.2 340.6V314.12" stroke="#37379d" stroke-width="0.7" stroke-opacity="0.7"/>
<path d="M128 340.6V319.42" stroke="#37379d" stroke-width="0.7" stroke-opacity="0.7"/>
<path d="M133 340.6V322.95" stroke="#37379d" stroke-width="0.7" stroke-opacity="0.7"/>
<path d="M139.3 340.6V319.42" stroke="#37379d" stroke-width="0.7" stroke-opacity="0.7"/>
<path d="M150.5 340.6V312.36" stroke="#37379d" stroke-width="0.7" stroke-opacity="0.7"/>
<path d="M154.2 340.6V310.6" stroke="#37379d" stroke-width="0.7" stroke-opacity="0.7"/>
<path d="M159.5 340.6V317.66" stroke="#37379d" stroke-width="0.7" stroke-opacity="0.7"/>
<path d="M175 340.6V322.95" stroke="#37379d" stroke-width="0.7" stroke-opacity="0.7"/>
<path d="M185.6 340.6V321.19" stroke="#37379d" stroke-width="0.7" stroke-opacity="0.7"/>
<path d="M190.1 340.6V321.19" stroke="#37379d" stroke-width="0.7" stroke-opacity="0.7"/>
<path d="M195 340.6V326.48" stroke="#37379d" stroke-width="0.7" stroke-opacity="0.7"/>
<path d="M214 340.6V315.89" stroke="#37379d" stroke-width="0.7" stroke-opacity="0.7"/>
<path d="M218 340.6V322.95" stroke="#37379d" stroke-width="0.7" stroke-opacity="0.7"/>
<path d="M236 340.6V319.42" stroke="#37379d" stroke-width="0.7" stroke-opacity="0.7"/>
<path d="M264 340.6V315.89" stroke="#37379d" stroke-width="0.7" stroke-opacity="0.7"/>
<path d="M275 340.6V322.95" stroke="#37379d" stroke-width="0.7" stroke-opacity="0.7"/>
<path d="M296 340.6V319.42" stroke="#37379d" stroke-width="0.7" stroke-opacity="0.7"/>
<path d="M310 340.6V322.95" stroke="#37379d" stroke-width="0.7" stroke-opacity="0.7"/>
<path d="M315 340.6V324.72" stroke="#37379d" stroke-width="0.7" stroke-opacity="0.7"/>
<path d="M339 340.6V337.6h.5V338.1h.5V338.0h.5V338.1h.5V334.3h.5V337.6h.5V337.0h.5V338.4h.5V338.0h.5V336.2h.5V335.4h.5V331.6h.5V337.8h.5V338.1h.5V335.7h.5V338.4h.5V338.2h.5V338.4h.5V338.3h.5V338.1h.5V337.7h.5V338.4h.5V338.0h.5V337.7h.5V331.3h.5V337.6h.5V338.0h.5V337.6h.5V338.5h.5V335.8h.5V337.1h.5V336.1h.5V335.5h.5V338.3h.5V338.6h.5V336.0h.5V338.5h.5V337.9h.5V336.7h.5V337.9h.5V334.9h.5V337.4h.5V338.5h.5V338.1h.5V336.8h.5V338.2h.5V335.5h.5V331.4h.5V338.6h.5V335.2h.5V337.6h.5V338.3h.5V337.9h.5V336.5h.5V338.5h.5V338.2h.5V337.9h.5V338.4h.5V333.9h.5V335.3h.5V335.1h.5V338.6h.5V338.2h.5V331.6h.5V338.4h.5V338.3h.5V338.0h.5V338.1h.5V338.4h.5V338.3h.5V333.9h.5V338.5h.5V337.9h.5V338.3h.5V338.1h.5V337.7h.5V336.6h.5V338.0h.5V337.8h.5V332.5h.5V334.0h.5V337.0h.5V338.6h.5V334.2h.5V338.3h.5V338.2h.5V338.0h.5V338.4h.5V337.3h.5V338.0h.5V335.5h.5V338.6h.5V335.8h.5V338.6h.5V338.5h.5V338.6h.5V338.1h.5V335.6h.5V336.9h.5V336.3h.5V335.9h.5V332.3h.5V336.6h.5V337.3h.5V335.8h.5V337.9h.5V338.2h.5V337.8h.5V336.9h.5V338.6h.5V338.3h.5V338.2h.5V338.2h.5V337.3h.5V338.6h.5V338.5h.5V335.5h.5V332.2h.5V331.7h.5V336.3h.5V338.6h.5V334.6h.5V338.0h.5V338.5h.5V336.9h.5V334.4h.5V336.5h.5V338.5h.5V338.1h.5V338.1h.5V333.0h.5V337.7h.5V336.2h.5V332.3h.5V338.2h.5V338.0h.5V337.7h.5V338.5h.5V338.4h.5V338.5h.5V337.9h.5V338.5h.5V337.9h.5V334.0h.5V338.3h.5V337.5h.5V333.3h.5V338.4h.5V335.4h.5V338.2h.5V331.9h.5V338.2h.5V331.3h.5V338.6h.5V338.5h.5V338.5h.5V331.2h.5V338.3h.5V338.0h.5V332.6h.5V331.4h.5V332.7h.5V336.9h.5V337.1h.5V338.2h.5V338.2h.5V338.5h.5V338.1h.5V338.3h.5V333.8h.5V337.8h.5V338.1h.5V338.6h.5V338.3h.5V337.7h.5V333.5h.5V337.8h.5V338.5h.5V331.2h.5V337.9h.5V338.4h.5V336.0h.5V333.1h.5V338.4h.5V336.8h.5V337.0h.5V337.8h.5V338.6h.5V333.5h.5V338.5h.5V338.6h.5V338.6h.5V338.4h.5V338.5h.5V338.5h.5V333.9h.5V336.3h.5V333.8h.5V338.6h.5V338.5h.5V338.4h.5V335.6h.5V338.3h.5V337.3h.5V338.2h.5V334.4h.5V331.9h.5V338.0h.5V338.5h.5V335.1h.5V333.2h.5V338.3h.5V335.6h.5V337.0h.5V337.6h.5V335.9h.5V338.6h.5V338.0h.5V338.1h.5V332.8h.5V338.1h.5V338.6h.5V337.9h.5V338.4h.5V333.5h.5V338.5h.5V338.4h.5V338.4h.5V338.3h.5V337.5h.5V332.9h.5V337.5h.5V338.6h.5V331.3h.5V338.3h.5V337.9h.5V338.0h.5V336.9h.5V338.1h.5V338.5h.5V338.0h.5V333.4h.5V337.6h.5V331.6h.5V333.4h.5V332.4h.5V335.6h.5V337.9h.5V333.5h.5V336.6h.5V336.8h.5V337.8h.5V338.1h.5V333.5h.5V334.4h.5V337.9h.5V338.5h.5V338.2h.5V338.5h.5V338.2h.5V338.3h.5V338.6h.5V338.1h.5V338.0h.5V334.7h.5V338.4h.5V338.1h.5V338.6h.5V338.6h.5V338.6h.5V334.6h.5V331.3h.5V334.0h.5V338.1h.5V338.5h.5V337.9h.5V338.4h.5V338.2h.5V338.3h.5V336.8h.5V334.1h.5V338.4h.5V332.7h.5V338.0h.5V331.8h.5V338.6h.5V338.0h.5V332.8h.5V335.8h.5V338.3h.5V338.6h.5V338.6h.5V338.5h.5V338.2h.5V337.9h.5V338.4h.5V334.1h.5V332.1h.5V335.9h.5V334.9h.5V337.5h.5V337.9h.5V338.4h.5V334.4h.5V335.0h.5V338.4h.5V338.6h.5V336.2h.5V334.1h.5V337.4h.5V338.3h.5V337.6h.5V338.5h.5V333.7h.5V333.2h.5V334.3h.5V338.1h.5V338.5h.5V338.6h.5V337.6h.5V336.5h.5V338.4h.5V337.9h.5V336.3h.5V338.6h.5V338.4h.5V338.6h.5V337.9h.5V338.5h.5V333.3h.5V337.9h.5V338.2h.5V338.5h.5V335.0h.5V338.6h.5V336.8h.5V337.0h.5V338.2h.5V337.5h.5V338.5h.5V333.9h.5V337.9h.5V338.0h.5V338.4h.5V337.3h.5V338.1h.5V336.9h.5V338.3h.5V338.4h.5V338.6h.5V338.2h.5V338.2h.5V338.3h.5V338.3h.5V334.7h.5V337.8h.5V337.5h.5V338.3h.5V337.1h.5V338.2h.5V338.3h.5V338.1h.5V334.2h.5V338.0h.5V338.4h.5V333.6h.5V338.1h.5V338.4h.5V333.4h.5V338.2h.5V335.2h.5V333.1h.5V338.4h.5V338.5h.5V338.5h.5V338.1h.5V338.6h.5V338.4h.5V338.4h.5V338.5h.5V338.1h.5V335.0h.5V338.5h.5V337.6h.5V337.8h.5V338.5h.5V338.1h.5V335.8h.5V338.4h.5V338.2h.5V338.2h.5V331.4h.5V334.0h.5V336.2h.5V338.3h.5V337.6h.5V337.6h.5V338.5h.5V338.3h.5V338.3h.5V332.7h.5V334.9h.5V340.6Z" fill="#37379d"/>
<path d="M443.9 340.6V330.8M531.0 340.6V330.0M533.5 340.6V337.3M398.8 340.6V325.6M506.4 340.6V325.4M426.4 340.6V336.5M529.1 340.6V338.4M372.4 340.6V338.5M399.7 340.6V336.5M415.9 340.6V335.9M346.1 340.6V337.3M441.0 340.6V338.8M435.6 340.6V324.8M470.1 340.6V323.3M511.6 340.6V335.4M343.2 340.6V338.8M454.6 340.6V326.9M405.6 340.6V338.7M491.3 340.6V334.6M432.9 340.6V338.7M450.2 340.6V333.9M481.6 340.6V324.9M354.2 340.6V327.3M403.5 340.6V336.5M408.0 340.6V328.0M427.5 340.6V338.8M434.1 340.6V338.6M342.2 340.6V338.8M415.4 340.6V336.0M339.1 340.6V338.7M520.0 340.6V334.5M535.7 340.6V334.5M530.5 340.6V331.3M416.7 340.6V338.8M368.6 340.6V328.5M471.9 340.6V337.8M371.8 340.6V332.5M525.6 340.6V338.1M539.1 340.6V334.7M380.8 340.6V338.5M481.8 340.6V324.0M379.8 340.6V338.2M367.7 340.6V338.4M384.3 340.6V336.5M386.7 340.6V332.0M387.1 340.6V338.0M423.0 340.6V338.5M349.3 340.6V338.8M340.0 340.6V331.7M348.9 340.6V335.6M517.4 340.6V333.1M400.5 340.6V336.7M424.8 340.6V337.5M349.8 340.6V338.6M367.7 340.6V338.4M405.4 340.6V338.7M462.6 340.6V338.4M441.4 340.6V331.2M438.8 340.6V330.0M495.6 340.6V336.1M381.6 340.6V338.8M478.1 340.6V337.1M397.4 340.6V338.8M375.1 340.6V325.3M433.7 340.6V326.8M508.5 340.6V338.1M384.4 340.6V325.4M386.5 340.6V333.4M527.0 340.6V335.8M424.2 340.6V322.9M512.2 340.6V324.0M480.9 340.6V338.3M348.6 340.6V338.8M524.3 340.6V334.5M516.3 340.6V322.9M386.6 340.6V322.4M394.0 340.6V338.5M393.6 340.6V321.4M527.6 340.6V337.2M435.7 340.6V327.5M500.4 340.6V325.1M411.7 340.6V338.2M441.9 340.6V323.7M462.1 340.6V326.0M378.4 340.6V335.1M523.1 340.6V334.0M498.3 340.6V328.0M427.9 340.6V331.3M477.9 340.6V336.2M443.4 340.6V328.0M515.9 340.6V321.7M412.7 340.6V331.7M449.5 340.6V326.6M387.2 340.6V335.8M390.4 340.6V328.2M481.6 340.6V338.8M360.8 340.6V338.6M457.7 340.6V329.0M408.0 340.6V338.8M456.5 340.6V333.1M425.4 340.6V338.0M408.6 340.6V338.2M502.1 340.6V336.9M482.2 340.6V334.4M385.0 340.6V337.9M473.6 340.6V326.3M523.1 340.6V338.6M391.0 340.6V338.7M377.0 340.6V336.9M483.1 340.6V324.4M457.6 340.6V338.6M414.5 340.6V338.6M395.1 340.6V333.9M439.7 340.6V338.5M394.4 340.6V325.1M465.5 340.6V333.4M403.6 340.6V337.7M491.8 340.6V338.8M470.2 340.6V322.9M466.5 340.6V338.8M345.8 340.6V328.7M376.2 340.6V336.4M469.8 340.6V331.7M396.8 340.6V331.5M522.4 340.6V335.8M418.5 340.6V331.4M514.3 340.6V331.4M525.1 340.6V328.8M531.0 340.6V338.1M474.1 340.6V338.4M362.6 340.6V337.3M528.8 340.6V337.8M401.0 340.6V324.0M536.1 340.6V329.5M409.8 340.6V327.5M352.1 340.6V338.8M351.7 340.6V337.4M387.4 340.6V326.4M428.7 340.6V326.7M436.9 340.6V337.0M407.1 340.6V338.8M430.3 340.6V323.1M534.0 340.6V323.8M358.6 340.6V336.1M506.4 340.6V338.6M352.1 340.6V338.4M355.9 340.6V330.0M482.0 340.6V321.7M349.1 340.6V331.0M498.3 340.6V338.5M354.9 340.6V322.0M497.7 340.6V338.8M376.6 340.6V332.1M373.3 340.6V336.2M369.1 340.6V338.8M436.2 340.6V334.5M509.0 340.6V338.8M410.2 340.6V338.8M449.9 340.6V338.6M405.5 340.6V322.4M469.3 340.6V331.8M460.6 340.6V338.4M476.4 340.6V322.4M356.9 340.6V327.0M408.0 340.6V338.4M470.5 340.6V326.7M372.5 340.6V338.4M439.5 340.6V338.4M440.7 340.6V321.6M344.2 340.6V336.3M379.6 340.6V338.5M457.2 340.6V323.2M433.3 340.6V334.2M479.3 340.6V326.4M533.0 340.6V337.4M374.6 340.6V324.4M460.5 340.6V325.6M368.4 340.6V328.6M362.7 340.6V338.7M363.3 340.6V337.1M422.4 340.6V332.1M527.2 340.6V336.3M455.1 340.6V336.6M415.8 340.6V338.0M340.0 340.6V338.1M484.1 340.6V328.3M476.7 340.6V336.2M421.5 340.6V338.5M387.7 340.6V321.3M456.9 340.6V336.6M446.4 340.6V335.4M398.0 340.6V336.5M425.4 340.6V325.0M517.8 340.6V337.8M430.4 340.6V338.3M530.2 340.6V338.7M435.6 340.6V338.8M431.5 340.6V335.9M341.9 340.6V338.6M439.3 340.6V335.7M399.9 340.6V338.8M404.1 340.6V337.3M359.8 340.6V333.4M383.1 340.6V334.7M481.5 340.6V338.8M438.9 340.6V332.6M518.5 340.6V331.3M507.1 340.6V332.0M384.0 340.6V327.9M490.7 340.6V335.5M524.7 340.6V338.8M521.2 340.6V337.2M447.9 340.6V328.4M372.5 340.6V335.3M342.0 340.6V338.8M530.9 340.6V338.3M424.7 340.6V338.7M526.1 340.6V335.1M510.6 340.6V338.0M432.0 340.6V338.1M457.3 340.6V330.9M454.1 340.6V333.7M401.2 340.6V323.1M342.9 340.6V338.5M472.9 340.6V322.3M509.1 340.6V338.1M528.3 340.6V335.9M453.6 340.6V332.3M462.9 340.6V325.7M519.4 340.6V337.6M518.1 340.6V337.6M476.2 340.6V338.6M467.0 340.6V337.7M538.6 340.6V331.9M416.7 340.6V322.7M362.2 340.6V329.8M469.2 340.6V338.8M431.3 340.6V338.7M539.7 340.6V338.7M466.6 340.6V334.5M364.1 340.6V323.7M454.2 340.6V333.0M391.9 340.6V338.6M404.4 340.6V338.8M379.4 340.6V335.3M417.4 340.6V329.4M367.5 340.6V338.4M444.0 340.6V331.4M402.1 340.6V338.4M364.1 340.6V337.1M415.1 340.6V328.4M387.2 340.6V337.4M488.6 340.6V338.4M346.7 340.6V322.3M522.5 340.6V337.6M395.9 340.6V335.9M381.2 340.6V328.7M516.6 340.6V330.8M419.2 340.6V327.0M526.9 340.6V338.5M473.1 340.6V338.5M536.9 340.6V328.4M421.2 340.6V330.0M397.8 340.6V338.8M442.1 340.6V338.8M430.7 340.6V326.6M454.8 340.6V338.0M381.6 340.6V334.2M441.2 340.6V324.9M373.4 340.6V335.8M428.9 340.6V337.0M376.4 340.6V336.9M448.0 340.6V338.4M403.3 340.6V334.8M527.7 340.6V335.5M408.5 340.6V338.8M443.0 340.6V337.3M362.2 340.6V335.7M462.7 340.6V337.2M486.5 340.6V332.7M351.6 340.6V338.8M444.5 340.6V333.3M450.8 340.6V338.2M408.1 340.6V330.6M418.6 340.6V334.8M384.8 340.6V332.8M435.2 340.6V338.8M490.4 340.6V328.2M537.1 340.6V323.4M479.9 340.6V335.8M392.3 340.6V331.0M423.1 340.6V337.5M362.5 340.6V333.3M481.6 340.6V329.2M369.6 340.6V338.4M466.9 340.6V338.7M516.9 340.6V324.0M465.6 340.6V338.0M451.9 340.6V329.3M408.2 340.6V332.3M459.7 340.6V324.7" stroke="#37379d" stroke-width="0.6" stroke-opacity="0.3"/>
<path d="M494.8 340.6V333.4M448.4 340.6V329.5M460.0 340.6V333.1M401.3 340.6V338.4M451.0 340.6V337.9M533.6 340.6V337.9M518.7 340.6V337.2M377.5 340.6V334.7M403.7 340.6V327.3M463.0 340.6V338.4M401.2 340.6V338.3M438.1 340.6V335.3M402.4 340.6V333.4M428.3 340.6V330.9M475.3 340.6V337.7M505.6 340.6V338.5M386.2 340.6V338.5M530.0 340.6V335.2M507.9 340.6V327.4M357.4 340.6V329.3M343.2 340.6V332.9M498.2 340.6V336.8M517.6 340.6V331.8M438.9 340.6V337.6M371.0 340.6V338.4M447.7 340.6V335.4M376.7 340.6V335.3M354.9 340.6V337.5M473.3 340.6V338.2M444.0 340.6V338.3M516.0 340.6V338.0M525.9 340.6V329.0M532.6 340.6V337.6M475.8 340.6V338.4M534.1 340.6V333.1M346.4 340.6V338.3M360.2 340.6V337.1M527.1 340.6V331.4M404.4 340.6V331.1M341.1 340.6V335.1M417.1 340.6V338.4M523.5 340.6V333.6M538.8 340.6V333.9M463.6 340.6V338.3M434.6 340.6V329.4M451.1 340.6V333.9M431.3 340.6V337.0M341.4 340.6V337.9M376.4 340.6V338.4M349.9 340.6V332.0M538.8 340.6V333.0M505.7 340.6V338.0M509.5 340.6V336.8M510.5 340.6V337.8M399.0 340.6V335.3M383.9 340.6V337.7M484.8 340.6V331.4M536.3 340.6V333.6M409.4 340.6V336.0M456.6 340.6V334.5M523.1 340.6V334.8M532.0 340.6V335.9M428.6 340.6V338.5M404.1 340.6V335.8M341.3 340.6V336.3M362.3 340.6V337.7M516.4 340.6V329.0M362.0 340.6V334.6M436.6 340.6V338.4M398.7 340.6V335.3M424.4 340.6V334.8M352.3 340.6V334.2M461.7 340.6V338.1M452.8 340.6V328.6M517.8 340.6V334.2M443.5 340.6V332.1M430.1 340.6V332.8M413.8 340.6V335.0M486.3 340.6V334.6M460.0 340.6V336.8M409.3 340.6V333.6M428.5 340.6V336.3M415.0 340.6V337.5M464.6 340.6V329.8M378.1 340.6V333.7M445.7 340.6V333.9M472.1 340.6V336.7M341.1 340.6V337.0M443.6 340.6V334.0M525.0 340.6V333.6M470.1 340.6V337.1M498.4 340.6V338.3M516.7 340.6V335.8M430.0 340.6V333.1M447.9 340.6V327.3M363.2 340.6V338.4M458.4 340.6V337.9M384.6 340.6V327.2M445.2 340.6V337.5M412.2 340.6V337.9M389.6 340.6V338.3M535.0 340.6V332.4M411.2 340.6V338.3M534.8 340.6V329.5M358.1 340.6V329.9M449.7 340.6V327.5M427.4 340.6V336.3M340.7 340.6V334.7M386.9 340.6V329.7M383.9 340.6V329.7M405.9 340.6V331.1M482.3 340.6V328.6M454.4 340.6V337.0M391.8 340.6V337.9M359.7 340.6V337.5M402.6 340.6V330.8M340.4 340.6V335.6M440.9 340.6V338.2M478.2 340.6V338.0M488.1 340.6V338.2M515.3 340.6V337.4M357.9 340.6V338.2M380.0 340.6V338.3M402.0 340.6V327.8M414.2 340.6V336.7M490.1 340.6V338.4M356.6 340.6V329.9M404.6 340.6V338.1M375.9 340.6V332.2M535.2 340.6V336.7M481.8 340.6V336.1M379.9 340.6V337.4M407.1 340.6V337.8M498.3 340.6V338.4M416.5 340.6V332.4M345.6 340.6V328.0M462.4 340.6V333.7M377.6 340.6V338.0M508.2 340.6V327.7M342.0 340.6V330.9M379.1 340.6V338.4M458.8 340.6V338.4M507.7 340.6V330.4M396.4 340.6V338.2M442.0 340.6V332.1M346.6 340.6V332.9M363.8 340.6V336.9M372.1 340.6V338.4M446.3 340.6V337.5M521.9 340.6V329.3M484.8 340.6V335.5M468.8 340.6V337.2M433.1 340.6V335.1M423.5 340.6V336.2M510.0 340.6V327.4M486.7 340.6V330.2M400.2 340.6V338.4M383.7 340.6V335.7M492.5 340.6V332.4M522.6 340.6V331.6M399.0 340.6V338.4M435.8 340.6V337.3M513.6 340.6V329.2M447.0 340.6V331.7M484.9 340.6V335.4M427.7 340.6V328.2M499.1 340.6V334.8M537.1 340.6V338.2M493.4 340.6V335.1M403.5 340.6V338.3M455.6 340.6V330.0M374.3 340.6V329.4M537.1 340.6V338.1M449.9 340.6V335.8M406.4 340.6V338.3M392.7 340.6V328.5M507.6 340.6V328.3M439.1 340.6V335.7M351.4 340.6V336.4M455.7 340.6V327.3M351.9 340.6V333.6M348.4 340.6V327.8M379.5 340.6V333.0M466.3 340.6V338.0M431.7 340.6V336.5M374.9 340.6V336.7M351.7 340.6V332.8M533.9 340.6V335.2M419.2 340.6V335.5M367.9 340.6V332.3M477.7 340.6V338.4M414.8 340.6V338.3M479.7 340.6V338.5M513.7 340.6V338.4M506.7 340.6V338.1M445.2 340.6V332.8M527.4 340.6V329.8M369.6 340.6V332.7M425.3 340.6V338.2M431.7 340.6V328.5M342.9 340.6V333.0M447.9 340.6V329.7M434.4 340.6V337.8M509.8 340.6V338.3M477.2 340.6V337.5M349.8 340.6V338.2M509.6 340.6V338.2M523.3 340.6V338.2M525.3 340.6V338.5M471.3 340.6V335.3M458.7 340.6V328.8M384.5 340.6V327.3M453.4 340.6V331.1M389.3 340.6V327.2M483.6 340.6V336.0M382.6 340.6V329.8M451.4 340.6V327.4M516.4 340.6V332.1M483.9 340.6V338.2M505.6 340.6V332.7" stroke="#37379d" stroke-width="0.6" stroke-opacity="0.85"/>
<path d="M362.6 340.6V305.3" stroke="#37379d" stroke-width="0.7" stroke-opacity="0.85"/>
<path d="M375.8 340.6V305.3" stroke="#37379d" stroke-width="0.7" stroke-opacity="0.85"/>
<path d="M394.4 340.6V305.3" stroke="#37379d" stroke-width="0.7" stroke-opacity="0.85"/>
<path d="M399 340.6V305.3" stroke="#37379d" stroke-width="0.7" stroke-opacity="0.85"/>
<path d="M403.6 340.6V305.3" stroke="#37379d" stroke-width="0.7" stroke-opacity="0.85"/>
<path d="M413.4 340.6V305.3" stroke="#37379d" stroke-width="0.7" stroke-opacity="0.85"/>
<path d="M436.2 340.6V305.3" stroke="#37379d" stroke-width="0.7" stroke-opacity="0.85"/>
<path d="M463 340.6V305.3" stroke="#37379d" stroke-width="0.7" stroke-opacity="0.85"/>
<path d="M472.6 340.6V305.3" stroke="#37379d" stroke-width="0.7" stroke-opacity="0.85"/>
<path d="M482.1 340.6V305.3" stroke="#37379d" stroke-width="0.7" stroke-opacity="0.85"/>
<path d="M494.4 340.6V305.3" stroke="#37379d" stroke-width="0.7" stroke-opacity="0.85"/>
<path d="M509.5 340.6V305.3" stroke="#37379d" stroke-width="0.7" stroke-opacity="0.85"/>
<path d="M513.7 340.6V305.3" stroke="#37379d" stroke-width="0.7" stroke-opacity="0.85"/>
<path d="M517.5 340.6V305.3" stroke="#37379d" stroke-width="0.7" stroke-opacity="0.85"/>
<path d="M522 340.6V305.3" stroke="#37379d" stroke-width="0.7" stroke-opacity="0.85"/>
<path d="M366.4 340.6V305.3" stroke="#37379d" stroke-width="0.7" stroke-opacity="0.35"/>
<path d="M385.5 340.6V305.3" stroke="#37379d" stroke-width="0.7" stroke-opacity="0.35"/>
<path d="M415 340.6V305.3" stroke="#37379d" stroke-width="0.7" stroke-opacity="0.35"/>
<path d="M455 340.6V305.3" stroke="#37379d" stroke-width="0.7" stroke-opacity="0.35"/>
<path d="M528 340.6V305.3" stroke="#37379d" stroke-width="0.7" stroke-opacity="0.35"/>
<path d="M540 340.6V305.3" stroke="#37379d" stroke-width="0.7" stroke-opacity="0.35"/>
<path d="M343.3 340.6V310.6" stroke="#37379d" stroke-width="0.7" stroke-opacity="0.7"/>
<path d="M440 340.6V310.6" stroke="#37379d" stroke-width="0.7" stroke-opacity="0.7"/>
<path d="M450.6 340.6V315.89" stroke="#37379d" stroke-width="0.7" stroke-opacity="0.7"/>
<path d="M535.5 340.6V315.89" stroke="#37379d" stroke-width="0.7" stroke-opacity="0.7"/>
<path d="M359 340.6V319.42" stroke="#37379d" stroke-width="0.7" stroke-opacity="0.7"/>
<path d="M385 340.6V322.95" stroke="#37379d" stroke-width="0.7" stroke-opacity="0.7"/>
<path d="M406 340.6V315.89" stroke="#37379d" stroke-width="0.7" stroke-opacity="0.7"/>
<path d="M409 340.6V319.42" stroke="#37379d" stroke-width="0.7" stroke-opacity="0.7"/>
<path d="M420 340.6V322.95" stroke="#37379d" stroke-width="0.7" stroke-opacity="0.7"/>
<path d="M430 340.6V326.48" stroke="#37379d" stroke-width="0.7" stroke-opacity="0.7"/>
<path d="M488 340.6V322.95" stroke="#37379d" stroke-width="0.7" stroke-opacity="0.7"/>
<path d="M500 340.6V324.72" stroke="#37379d" stroke-width="0.7" stroke-opacity="0.7"/>
<path d="M556.2 340.6V338.6h.5V338.3h.5V338.0h.5V337.8h.5V338.5h.5V337.4h.5V334.8h.5V338.0h.5V336.3h.5V336.6h.5V338.5h.5V338.0h.5V338.5h.5V334.6h.5V338.1h.5V338.3h.5V337.1h.5V337.7h.5V338.3h.5V338.1h.5V336.9h.5V338.1h.5V338.1h.5V338.6h.5V338.4h.5V338.4h.5V335.6h.5V336.0h.5V338.2h.5V335.9h.5V335.1h.5V338.6h.5V337.9h.5V337.8h.5V338.1h.5V336.7h.5V337.8h.5V338.4h.5V337.5h.5V337.9h.5V338.6h.5V338.5h.5V333.8h.5V337.2h.5V332.2h.5V338.2h.5V335.4h.5V337.6h.5V338.2h.5V335.7h.5V337.4h.5V338.2h.5V338.2h.5V335.5h.5V334.7h.5V334.4h.5V338.2h.5V335.9h.5V337.8h.5V337.9h.5V338.3h.5V333.2h.5V337.1h.5V338.6h.5V338.4h.5V338.0h.5V338.5h.5V338.5h.5V338.1h.5V338.0h.5V334.4h.5V338.6h.5V338.4h.5V336.8h.5V336.4h.5V333.3h.5V338.6h.5V338.4h.5V335.0h.5V338.5h.5V331.6h.5V338.4h.5V338.3h.5V335.6h.5V338.5h.5V331.6h.5V334.6h.5V338.6h.5V338.6h.5V337.9h.5V338.5h.5V337.6h.5V338.4h.5V338.5h.5V338.5h.5V338.5h.5V331.3h.5V337.3h.5V331.1h.5V338.5h.5V335.4h.5V337.7h.5V338.5h.5V336.6h.5V338.0h.5V337.7h.5V337.7h.5V331.2h.5V338.5h.5V338.6h.5V338.5h.5V332.0h.5V338.1h.5V335.5h.5V338.4h.5V337.5h.5V332.8h.5V338.2h.5V338.5h.5V338.6h.5V336.4h.5V336.6h.5V338.4h.5V337.6h.5V332.4h.5V334.7h.5V337.0h.5V338.4h.5V337.7h.5V332.1h.5V338.1h.5V337.8h.5V338.2h.5V338.1h.5V337.4h.5V338.2h.5V338.3h.5V338.6h.5V335.9h.5V337.2h.5V337.5h.5V338.6h.5V331.5h.5V337.9h.5V331.5h.5V337.5h.5V337.9h.5V335.5h.5V337.8h.5V338.3h.5V338.2h.5V338.5h.5V338.6h.5V337.9h.5V337.2h.5V338.3h.5V338.5h.5V338.0h.5V334.9h.5V338.1h.5V335.7h.5V338.2h.5V335.7h.5V338.3h.5V331.2h.5V335.5h.5V338.6h.5V338.0h.5V338.5h.5V336.0h.5V337.8h.5V338.4h.5V336.1h.5V336.2h.5V338.3h.5V333.0h.5V335.6h.5V338.4h.5V333.7h.5V338.6h.5V333.8h.5V337.6h.5V338.2h.5V336.2h.5V338.2h.5V338.0h.5V336.0h.5V338.6h.5V338.6h.5V333.4h.5V338.4h.5V337.8h.5V338.5h.5V338.5h.5V338.2h.5V338.5h.5V333.4h.5V338.4h.5V333.5h.5V338.3h.5V338.5h.5V334.8h.5V338.6h.5V338.4h.5V337.9h.5V338.6h.5V338.4h.5V337.9h.5V338.0h.5V337.9h.5V334.9h.5V335.2h.5V331.4h.5V338.2h.5V338.1h.5V338.6h.5V338.2h.5V337.9h.5V334.5h.5V338.5h.5V336.3h.5V338.3h.5V337.9h.5V338.5h.5V336.3h.5V332.2h.5V334.8h.5V332.1h.5V338.6h.5V337.7h.5V338.1h.5V335.6h.5V338.0h.5V335.7h.5V338.6h.5V337.4h.5V336.8h.5V338.1h.5V338.0h.5V336.2h.5V338.1h.5V338.4h.5V338.0h.5V338.5h.5V337.0h.5V338.0h.5V334.4h.5V338.2h.5V333.2h.5V338.2h.5V334.1h.5V337.9h.5V337.9h.5V338.6h.5V338.5h.5V338.5h.5V340.6Z" fill="#37379d"/>
<path d="M596.9 340.6V338.8M593.8 340.6V326.5M587.0 340.6V335.1M664.7 340.6V338.8M648.9 340.6V334.5M560.1 340.6V325.3M657.6 340.6V338.7M678.8 340.6V333.9M637.2 340.6V338.3M560.1 340.6V330.9M647.1 340.6V338.5M560.5 340.6V333.9M595.5 340.6V337.3M666.9 340.6V334.1M571.2 340.6V331.1M648.1 340.6V334.0M677.8 340.6V335.6M639.1 340.6V338.8M594.6 340.6V337.7M611.0 340.6V335.1M570.8 340.6V331.3M563.1 340.6V338.1M630.8 340.6V338.8M598.1 340.6V328.0M649.5 340.6V337.0M577.5 340.6V329.7M667.0 340.6V338.8M609.5 340.6V334.4M644.6 340.6V338.4M661.0 340.6V333.2M658.0 340.6V323.2M643.3 340.6V331.8M594.1 340.6V337.9M603.8 340.6V327.9M632.2 340.6V337.9M671.3 340.6V335.0M681.0 340.6V332.2M649.9 340.6V337.3M682.6 340.6V335.6M642.1 340.6V336.6M622.9 340.6V338.5M603.2 340.6V336.5M650.9 340.6V338.6M581.4 340.6V332.4M616.6 340.6V325.6M558.7 340.6V336.1M662.2 340.6V329.6M601.2 340.6V335.0M606.8 340.6V338.8M566.6 340.6V338.2M667.4 340.6V338.4M592.6 340.6V334.2M645.1 340.6V332.3M595.6 340.6V337.3M557.8 340.6V328.4M604.3 340.6V337.8M582.6 340.6V335.4M575.3 340.6V337.5M569.6 340.6V338.4M623.4 340.6V337.5M569.9 340.6V326.0M563.8 340.6V336.5M593.6 340.6V338.8M593.9 340.6V336.1M644.1 340.6V338.0M604.6 340.6V325.0M637.1 340.6V336.1M583.3 340.6V328.7M674.8 340.6V338.2M664.7 340.6V337.0M617.2 340.6V338.8M587.1 340.6V338.2M582.0 340.6V327.5M677.4 340.6V337.6M658.5 340.6V337.7M630.3 340.6V338.4M672.1 340.6V335.0M631.5 340.6V328.4M623.0 340.6V335.4M646.9 340.6V335.7M629.7 340.6V337.7M575.7 340.6V338.3M680.0 340.6V333.6M558.5 340.6V338.5M630.6 340.6V335.1M682.3 340.6V324.9M565.3 340.6V328.1M681.5 340.6V329.8M677.7 340.6V336.9M636.4 340.6V331.4M657.8 340.6V330.6M660.8 340.6V337.4M657.6 340.6V333.4M678.7 340.6V337.5M635.2 340.6V326.3M653.1 340.6V331.1M574.8 340.6V338.6M596.7 340.6V332.2M560.4 340.6V332.1M571.5 340.6V338.4M591.6 340.6V334.4M647.8 340.6V323.3M585.3 340.6V338.8M665.6 340.6V333.6M673.4 340.6V330.7M572.8 340.6V337.1M584.2 340.6V336.0M592.6 340.6V326.3M670.4 340.6V338.5M683.7 340.6V322.7M605.3 340.6V325.9M676.8 340.6V330.2M602.5 340.6V332.7M654.0 340.6V337.4M616.8 340.6V338.8M576.1 340.6V328.4M595.5 340.6V331.0M610.9 340.6V330.8M592.6 340.6V338.8M641.3 340.6V338.1M582.3 340.6V335.8M619.5 340.6V325.3M645.1 340.6V336.2M612.4 340.6V333.4M572.7 340.6V337.7M633.2 340.6V323.5M632.8 340.6V338.3M679.6 340.6V328.4M584.6 340.6V337.1M560.5 340.6V329.4M584.0 340.6V327.4M647.7 340.6V329.0M628.2 340.6V338.2M560.8 340.6V333.5M557.9 340.6V334.9M654.9 340.6V338.6M611.9 340.6V334.5M575.4 340.6V338.4M634.0 340.6V338.5M575.6 340.6V338.3M675.7 340.6V325.1M570.4 340.6V333.9M608.6 340.6V338.8M588.2 340.6V332.3M558.7 340.6V322.8M592.6 340.6V337.3M677.2 340.6V338.6M572.9 340.6V335.7M596.1 340.6V337.6M630.5 340.6V323.1M609.1 340.6V338.8M603.8 340.6V326.6M611.4 340.6V338.8M588.0 340.6V338.3M600.9 340.6V337.6M641.7 340.6V330.6M561.9 340.6V338.6M661.0 340.6V325.8M656.7 340.6V338.5M644.5 340.6V338.8M642.3 340.6V338.3M663.3 340.6V326.9M615.8 340.6V330.4M676.6 340.6V325.2M638.7 340.6V333.0M601.7 340.6V331.5M574.1 340.6V335.9M567.1 340.6V338.8M641.3 340.6V336.4M582.7 340.6V323.2M593.2 340.6V334.6M618.7 340.6V338.5M682.9 340.6V329.5M669.9 340.6V337.7M672.3 340.6V324.6M676.3 340.6V338.5M576.1 340.6V338.8M567.7 340.6V331.0M562.7 340.6V335.8M601.5 340.6V330.3M562.1 340.6V330.5M678.4 340.6V337.8M607.7 340.6V330.0M595.1 340.6V326.8M683.2 340.6V338.3M616.2 340.6V338.6M627.3 340.6V336.8M680.2 340.6V330.4M682.7 340.6V328.0M661.4 340.6V336.9M641.0 340.6V338.7" stroke="#37379d" stroke-width="0.6" stroke-opacity="0.3"/>
<path d="M600.6 340.6V328.9M681.1 340.6V338.1M619.3 340.6V336.6M635.3 340.6V334.5M589.5 340.6V329.7M613.6 340.6V331.7M648.3 340.6V327.6M621.9 340.6V334.6M654.6 340.6V337.9M561.9 340.6V331.0M644.7 340.6V332.1M658.2 340.6V338.0M668.1 340.6V333.9M676.6 340.6V335.0M666.5 340.6V338.4M577.3 340.6V335.0M641.3 340.6V336.8M565.4 340.6V329.6M565.3 340.6V329.6M585.9 340.6V332.9M631.8 340.6V337.9M598.1 340.6V337.8M624.2 340.6V337.6M625.5 340.6V337.6M571.5 340.6V333.0M589.6 340.6V328.3M607.9 340.6V337.7M647.8 340.6V329.3M603.4 340.6V332.4M598.5 340.6V327.3M594.5 340.6V338.5M556.7 340.6V335.2M635.8 340.6V337.6M609.0 340.6V336.6M602.5 340.6V338.1M625.6 340.6V333.5M559.7 340.6V329.7M589.3 340.6V335.9M584.0 340.6V333.4M608.0 340.6V334.7M608.2 340.6V335.6M567.2 340.6V327.6M610.5 340.6V337.2M664.2 340.6V337.5M657.1 340.6V336.4M571.1 340.6V334.8M591.9 340.6V338.0M682.4 340.6V328.6M616.3 340.6V331.1M641.6 340.6V337.4M572.7 340.6V334.7M580.5 340.6V332.0M632.0 340.6V337.9M655.2 340.6V327.9M617.4 340.6V327.9M613.5 340.6V338.5M615.1 340.6V337.1M673.2 340.6V335.4M678.7 340.6V338.2M605.1 340.6V338.5M562.8 340.6V332.8M560.4 340.6V337.9M611.6 340.6V328.9M586.3 340.6V338.5M645.6 340.6V333.0M573.9 340.6V328.8M666.5 340.6V328.6M661.2 340.6V335.1M645.6 340.6V338.3M638.3 340.6V337.1M599.0 340.6V337.4M566.5 340.6V331.1M653.7 340.6V338.5M621.6 340.6V338.5M625.7 340.6V338.2M678.7 340.6V337.3M622.9 340.6V337.7M671.5 340.6V338.5M594.8 340.6V337.9M651.4 340.6V336.9M666.1 340.6V337.3M572.3 340.6V336.1M567.2 340.6V338.2M622.9 340.6V334.8M583.4 340.6V338.1M622.7 340.6V336.2M617.6 340.6V333.4M574.2 340.6V338.5M564.5 340.6V331.3M645.8 340.6V338.2M598.3 340.6V337.4M673.9 340.6V336.6M647.3 340.6V338.4M561.5 340.6V337.9M638.0 340.6V336.2M667.4 340.6V330.8M640.9 340.6V327.2M678.6 340.6V329.7M567.6 340.6V336.7M574.7 340.6V334.3M620.6 340.6V338.4M566.3 340.6V336.0M635.9 340.6V336.6M616.4 340.6V333.9M645.2 340.6V332.8M609.1 340.6V338.1M667.1 340.6V338.5M582.4 340.6V338.1M632.0 340.6V334.1M568.9 340.6V335.5M629.5 340.6V333.2M565.6 340.6V332.5M590.6 340.6V336.8M572.1 340.6V330.5M635.0 340.6V331.0M621.8 340.6V338.3M607.4 340.6V338.4M568.8 340.6V331.1M556.2 340.6V336.8M561.5 340.6V331.9M682.5 340.6V338.5M602.6 340.6V327.7M588.2 340.6V337.4M682.1 340.6V328.9M605.5 340.6V333.4M657.4 340.6V337.1M556.5 340.6V336.9M644.5 340.6V328.0M612.5 340.6V336.6M604.7 340.6V334.3M559.0 340.6V329.1M677.8 340.6V338.5M557.0 340.6V337.4M574.8 340.6V331.8M667.1 340.6V335.1M676.6 340.6V337.9M581.2 340.6V336.8M613.7 340.6V338.0M673.6 340.6V332.1M592.9 340.6V337.9" stroke="#37379d" stroke-width="0.6" stroke-opacity="0.85"/>
<path d="M568.5 340.6V305.3" stroke="#37379d" stroke-width="0.7" stroke-opacity="0.85"/>
<path d="M570.4 340.6V305.3" stroke="#37379d" stroke-width="0.7" stroke-opacity="0.85"/>
<path d="M585.4 340.6V305.3" stroke="#37379d" stroke-width="0.7" stroke-opacity="0.85"/>
<path d="M629.7 340.6V305.3" stroke="#37379d" stroke-width="0.7" stroke-opacity="0.85"/>
<path d="M663.7 340.6V305.3" stroke="#37379d" stroke-width="0.7" stroke-opacity="0.85"/>
<path d="M578 340.6V305.3" stroke="#37379d" stroke-width="0.7" stroke-opacity="0.35"/>
<path d="M620 340.6V305.3" stroke="#37379d" stroke-width="0.7" stroke-opacity="0.35"/>
<path d="M640.5 340.6V305.3" stroke="#37379d" stroke-width="0.7" stroke-opacity="0.35"/>
<path d="M563 340.6V322.95" stroke="#37379d" stroke-width="0.7" stroke-opacity="0.7"/>
<path d="M575 340.6V319.42" stroke="#37379d" stroke-width="0.7" stroke-opacity="0.7"/>
<path d="M590 340.6V322.95" stroke="#37379d" stroke-width="0.7" stroke-opacity="0.7"/>
<path d="M596 340.6V324.72" stroke="#37379d" stroke-width="0.7" stroke-opacity="0.7"/>
<path d="M600 340.6V321.19" stroke="#37379d" stroke-width="0.7" stroke-opacity="0.7"/>
<path d="M604 340.6V319.42" stroke="#37379d" stroke-width="0.7" stroke-opacity="0.7"/>
<path d="M610 340.6V322.95" stroke="#37379d" stroke-width="0.7" stroke-opacity="0.7"/>
<path d="M622 340.6V322.95" stroke="#37379d" stroke-width="0.7" stroke-opacity="0.7"/>
<path d="M640 340.6V326.48" stroke="#37379d" stroke-width="0.7" stroke-opacity="0.7"/>
<path d="M650 340.6V328.25" stroke="#37379d" stroke-width="0.7" stroke-opacity="0.7"/>
<path d="M675 340.6V326.48" stroke="#37379d" stroke-width="0.7" stroke-opacity="0.7"/>
<line x1="74.5" y1="346.4" x2="74.5" y2="382" stroke="#9a9a9a" stroke-width="1"/>
<path d="M74.5 382V380.1h.5V380.0h.5V380.5h.5V380.2h.5V380.2h.5V379.9h.5V380.2h.5V380.1h.5V380.4h.5V380.2h.5V380.1h.5V379.9h.5V380.4h.5V378.3h.5V378.6h.5V380.3h.5V378.9h.5V378.2h.5V380.3h.5V380.2h.5V380.4h.5V380.4h.5V378.4h.5V380.4h.5V377.9h.5V380.4h.5V380.6h.5V380.3h.5V380.6h.5V379.9h.5V380.1h.5V380.5h.5V379.9h.5V380.3h.5V380.4h.5V378.0h.5V379.3h.5V379.9h.5V380.0h.5V380.6h.5V380.0h.5V380.5h.5V379.9h.5V377.9h.5V380.4h.5V380.0h.5V379.6h.5V378.8h.5V380.3h.5V380.0h.5V378.9h.5V379.8h.5V380.3h.5V380.6h.5V380.2h.5V379.8h.5V379.9h.5V380.6h.5V377.9h.5V380.0h.5V380.3h.5V380.6h.5V378.6h.5V380.0h.5V380.5h.5V380.1h.5V380.3h.5V380.6h.5V380.6h.5V380.6h.5V380.0h.5V380.2h.5V380.5h.5V379.8h.5V380.4h.5V380.0h.5V380.4h.5V380.6h.5V379.8h.5V380.3h.5V380.4h.5V380.6h.5V378.5h.5V380.5h.5V379.7h.5V380.0h.5V380.2h.5V380.0h.5V377.7h.5V380.2h.5V379.2h.5V380.0h.5V380.1h.5V380.1h.5V379.4h.5V380.1h.5V380.5h.5V379.9h.5V380.2h.5V379.5h.5V379.8h.5V379.8h.5V380.5h.5V379.4h.5V380.5h.5V379.9h.5V380.6h.5V378.9h.5V380.5h.5V378.7h.5V379.7h.5V380.0h.5V380.2h.5V380.5h.5V380.2h.5V380.4h.5V380.4h.5V380.6h.5V379.9h.5V380.5h.5V380.6h.5V378.2h.5V380.2h.5V380.4h.5V380.4h.5V380.2h.5V379.9h.5V379.9h.5V379.9h.5V379.8h.5V380.4h.5V380.2h.5V379.8h.5V379.3h.5V380.0h.5V379.7h.5V378.3h.5V378.4h.5V377.4h.5V380.6h.5V380.4h.5V380.2h.5V379.5h.5V380.4h.5V380.5h.5V380.5h.5V380.0h.5V380.2h.5V380.1h.5V378.1h.5V380.4h.5V377.8h.5V380.3h.5V380.2h.5V379.9h.5V380.4h.5V377.4h.5V380.2h.5V380.2h.5V380.3h.5V379.9h.5V380.0h.5V380.4h.5V380.0h.5V380.6h.5V380.0h.5V380.3h.5V380.4h.5V380.5h.5V380.6h.5V380.3h.5V380.4h.5V379.5h.5V380.3h.5V380.1h.5V380.0h.5V380.6h.5V380.6h.5V380.5h.5V380.3h.5V379.0h.5V380.2h.5V379.3h.5V379.2h.5V379.8h.5V380.3h.5V380.3h.5V380.2h.5V379.9h.5V379.9h.5V379.0h.5V380.2h.5V380.4h.5V378.1h.5V379.8h.5V380.4h.5V377.8h.5V380.5h.5V378.9h.5V380.6h.5V380.1h.5V377.7h.5V378.6h.5V380.3h.5V380.1h.5V380.0h.5V378.1h.5V380.4h.5V379.8h.5V380.1h.5V380.3h.5V380.6h.5V380.6h.5V377.9h.5V377.5h.5V379.8h.5V380.1h.5V380.3h.5V380.2h.5V378.2h.5V380.6h.5V380.0h.5V380.1h.5V380.5h.5V380.5h.5V380.0h.5V378.5h.5V379.2h.5V378.6h.5V379.8h.5V380.1h.5V380.4h.5V379.9h.5V378.9h.5V380.4h.5V378.6h.5V380.3h.5V380.0h.5V378.1h.5V379.3h.5V380.4h.5V379.0h.5V380.2h.5V380.0h.5V378.2h.5V378.9h.5V380.6h.5V380.6h.5V380.5h.5V380.6h.5V380.4h.5V379.4h.5V380.5h.5V380.3h.5V380.1h.5V380.3h.5V380.4h.5V379.9h.5V380.6h.5V379.7h.5V380.5h.5V380.5h.5V380.1h.5V380.3h.5V380.1h.5V379.9h.5V380.0h.5V378.5h.5V380.6h.5V380.6h.5V380.5h.5V380.3h.5V378.2h.5V377.8h.5V379.6h.5V378.7h.5V379.8h.5V380.3h.5V380.4h.5V379.1h.5V380.5h.5V380.1h.5V378.1h.5V380.1h.5V380.2h.5V380.6h.5V380.0h.5V379.9h.5V380.6h.5V380.2h.5V380.0h.5V379.5h.5V380.5h.5V380.4h.5V380.5h.5V379.5h.5V380.0h.5V380.6h.5V380.3h.5V380.1h.5V380.1h.5V380.6h.5V379.0h.5V380.0h.5V377.2h.5V378.6h.5V377.6h.5V380.0h.5V379.3h.5V380.1h.5V380.3h.5V379.7h.5V380.4h.5V380.4h.5V379.9h.5V379.9h.5V380.4h.5V377.1h.5V380.3h.5V380.5h.5V378.1h.5V378.1h.5V378.6h.5V379.8h.5V380.2h.5V380.6h.5V379.9h.5V380.5h.5V380.3h.5V378.6h.5V379.9h.5V380.6h.5V379.7h.5V379.4h.5V378.6h.5V379.1h.5V377.1h.5V379.8h.5V380.4h.5V380.4h.5V380.4h.5V379.5h.5V377.8h.5V380.0h.5V380.6h.5V379.9h.5V380.1h.5V377.6h.5V378.3h.5V379.5h.5V380.3h.5V380.6h.5V380.3h.5V380.3h.5V380.6h.5V380.5h.5V380.2h.5V380.0h.5V378.2h.5V380.3h.5V380.1h.5V379.9h.5V380.1h.5V380.2h.5V380.6h.5V380.2h.5V379.8h.5V380.5h.5V380.6h.5V380.6h.5V380.0h.5V379.1h.5V379.9h.5V378.7h.5V380.0h.5V379.6h.5V380.4h.5V380.6h.5V380.5h.5V380.5h.5V377.9h.5V377.4h.5V380.1h.5V379.2h.5V380.4h.5V380.4h.5V380.5h.5V379.9h.5V380.5h.5V380.3h.5V377.9h.5V379.9h.5V380.5h.5V380.0h.5V380.3h.5V380.1h.5V380.6h.5V380.5h.5V377.4h.5V379.9h.5V378.6h.5V380.1h.5V380.4h.5V380.0h.5V380.5h.5V380.6h.5V380.6h.5V380.6h.5V380.4h.5V379.6h.5V379.7h.5V380.4h.5V380.0h.5V380.3h.5V379.2h.5V378.8h.5V380.0h.5V380.5h.5V380.4h.5V380.6h.5V380.5h.5V380.5h.5V380.5h.5V378.8h.5V380.3h.5V379.9h.5V380.3h.5V379.1h.5V379.2h.5V380.5h.5V380.3h.5V380.5h.5V380.3h.5V380.1h.5V380.3h.5V380.4h.5V377.1h.5V379.2h.5V377.2h.5V380.6h.5V380.0h.5V380.5h.5V379.9h.5V380.6h.5V380.6h.5V380.6h.5V380.6h.5V380.1h.5V378.4h.5V380.1h.5V380.6h.5V379.9h.5V380.6h.5V380.0h.5V380.3h.5V380.2h.5V380.3h.5V380.2h.5V379.5h.5V380.2h.5V379.7h.5V380.5h.5V380.3h.5V379.8h.5V380.5h.5V379.9h.5V380.0h.5V380.5h.5V377.9h.5V380.4h.5V380.2h.5V380.0h.5V380.0h.5V380.6h.5V380.2h.5V378.3h.5V379.7h.5V379.9h.5V380.2h.5V380.2h.5V378.6h.5V380.5h.5V379.9h.5V380.3h.5V379.7h.5V377.3h.5V379.9h.5V380.5h.5V380.3h.5V379.5h.5V380.5h.5V380.5h.5V380.2h.5V380.0h.5V382Z" fill="#4b8fd0"/>
<path d="M186.4 382.0V378.9M108.9 382.0V373.9M261.3 382.0V379.9M239.4 382.0V372.0M163.1 382.0V379.9M258.0 382.0V376.6M171.8 382.0V380.2M154.3 382.0V375.4M120.6 382.0V378.2M264.4 382.0V379.3M105.4 382.0V375.9M243.4 382.0V376.8M298.2 382.0V379.1M200.2 382.0V378.5M285.4 382.0V379.4M133.9 382.0V379.1M277.6 382.0V374.8M120.6 382.0V373.5M317.9 382.0V379.3M269.1 382.0V375.6M226.4 382.0V379.8M74.7 382.0V372.5M156.2 382.0V373.4M285.1 382.0V372.7M255.2 382.0V375.1M276.6 382.0V370.9M301.2 382.0V372.3M153.8 382.0V371.4M97.1 382.0V380.0M288.2 382.0V377.6M309.6 382.0V379.4M90.8 382.0V380.1M292.2 382.0V373.7M180.1 382.0V376.2M83.4 382.0V371.0M144.3 382.0V380.0M194.4 382.0V378.3M194.7 382.0V375.2M119.9 382.0V373.9M154.7 382.0V378.9M295.6 382.0V374.9M254.0 382.0V373.9M178.8 382.0V379.3M203.3 382.0V372.9M117.4 382.0V375.5M191.5 382.0V370.9M249.4 382.0V371.4M176.4 382.0V378.4M136.0 382.0V379.9M151.6 382.0V379.9M228.8 382.0V377.3M256.2 382.0V374.7M313.7 382.0V377.8M226.3 382.0V377.7M192.2 382.0V379.3M150.9 382.0V379.4M199.9 382.0V378.6M209.4 382.0V376.0M317.9 382.0V377.1M318.8 382.0V379.5M224.5 382.0V377.1M185.6 382.0V378.4M132.8 382.0V370.0M93.0 382.0V373.7M192.6 382.0V379.3M150.2 382.0V370.8M157.2 382.0V377.2M177.0 382.0V376.1M211.9 382.0V377.7M100.6 382.0V380.2M234.8 382.0V380.2M202.4 382.0V379.7M257.2 382.0V379.4M86.5 382.0V380.1M156.1 382.0V376.3M248.2 382.0V373.2M310.1 382.0V377.4M85.9 382.0V376.0M161.9 382.0V376.8M117.6 382.0V378.9M134.6 382.0V375.8M308.0 382.0V379.1M198.7 382.0V376.4M262.8 382.0V379.2M140.6 382.0V376.2M151.0 382.0V378.1M229.6 382.0V377.5M314.4 382.0V379.3M127.4 382.0V378.9M295.8 382.0V372.8M89.3 382.0V380.0M132.6 382.0V374.2M245.0 382.0V380.0M269.3 382.0V372.6M275.4 382.0V379.3M276.4 382.0V379.7M304.2 382.0V380.1M171.5 382.0V379.5M276.8 382.0V374.5M205.5 382.0V377.7M146.6 382.0V377.1M86.1 382.0V375.2M310.0 382.0V378.5M188.8 382.0V377.1M168.0 382.0V371.2M127.3 382.0V378.2M244.9 382.0V374.8M150.1 382.0V380.1M244.5 382.0V380.1M277.7 382.0V380.2M291.6 382.0V373.5M199.3 382.0V372.0M266.6 382.0V375.9M138.5 382.0V380.2M103.2 382.0V380.2M240.9 382.0V375.5M307.6 382.0V379.0M164.1 382.0V372.7M269.6 382.0V370.0M76.8 382.0V370.6M176.3 382.0V373.9M125.7 382.0V377.6M260.0 382.0V375.2M245.8 382.0V380.2M300.0 382.0V380.2M276.6 382.0V377.3M227.8 382.0V379.9M268.9 382.0V374.5M135.9 382.0V371.2M177.0 382.0V372.7M131.8 382.0V379.1M126.8 382.0V380.2M109.5 382.0V380.1M201.9 382.0V378.2M100.6 382.0V371.5M231.0 382.0V377.9M142.0 382.0V378.8M298.9 382.0V378.7M198.4 382.0V371.3M172.9 382.0V372.8M91.3 382.0V375.4M104.3 382.0V379.7M95.6 382.0V372.2M294.7 382.0V373.9M197.5 382.0V380.2M202.7 382.0V371.9M252.3 382.0V380.2M317.9 382.0V370.8M219.5 382.0V380.2M250.4 382.0V376.6M75.5 382.0V378.6M78.8 382.0V380.2M241.8 382.0V374.4M154.7 382.0V380.1M142.0 382.0V379.9M211.7 382.0V379.7M299.4 382.0V380.2M131.2 382.0V376.6M184.9 382.0V380.2M169.9 382.0V379.6M271.3 382.0V379.8M232.1 382.0V375.9M177.3 382.0V380.2M206.4 382.0V380.2M133.8 382.0V371.3M117.7 382.0V370.6M113.8 382.0V380.2M82.2 382.0V373.1M295.4 382.0V379.7M159.6 382.0V379.3M230.7 382.0V379.5M189.9 382.0V376.2M142.3 382.0V380.1M235.6 382.0V376.2M75.4 382.0V378.7M283.1 382.0V377.0M240.9 382.0V370.1M124.5 382.0V379.0M111.0 382.0V371.9M219.0 382.0V372.4M236.5 382.0V379.3M249.5 382.0V379.7M198.8 382.0V376.6M265.9 382.0V379.8M260.5 382.0V377.6M229.2 382.0V380.2M204.2 382.0V380.2M229.8 382.0V374.0M169.1 382.0V378.7M228.4 382.0V377.4M316.0 382.0V373.0M243.5 382.0V379.3M88.1 382.0V375.9M129.7 382.0V375.5M235.3 382.0V372.7M89.2 382.0V378.2M158.4 382.0V379.3M138.0 382.0V373.2M186.8 382.0V377.5M103.5 382.0V377.5M230.6 382.0V380.1M158.0 382.0V379.7M210.7 382.0V380.2M316.8 382.0V379.0M302.7 382.0V380.2M259.6 382.0V371.8M182.9 382.0V379.1M227.9 382.0V379.5M135.2 382.0V371.5M233.1 382.0V378.1M187.8 382.0V373.9M256.8 382.0V379.6M151.5 382.0V378.8M88.2 382.0V378.8M102.9 382.0V376.0M156.5 382.0V379.4M128.3 382.0V379.8M131.1 382.0V372.1M186.6 382.0V377.6M153.2 382.0V370.7M222.1 382.0V380.0" stroke="#4b8fd0" stroke-width="0.6" stroke-opacity="0.3"/>
<path d="M242.2 382.0V379.9M319.8 382.0V376.7M127.2 382.0V378.8M298.7 382.0V376.5M268.2 382.0V377.9M123.1 382.0V377.4M217.1 382.0V379.7M88.5 382.0V378.3M300.6 382.0V379.3M231.7 382.0V379.8M291.0 382.0V375.4M148.6 382.0V376.9M256.9 382.0V378.8M291.6 382.0V379.9M145.5 382.0V379.8M278.3 382.0V376.8M131.0 382.0V377.4M200.6 382.0V378.0M177.2 382.0V378.0M212.6 382.0V379.3M164.9 382.0V379.7M230.0 382.0V376.0M130.8 382.0V377.9M170.7 382.0V379.7M90.0 382.0V379.9M257.8 382.0V379.8M144.0 382.0V378.4M123.2 382.0V377.9M191.3 382.0V379.6M241.8 382.0V377.5M308.9 382.0V379.2M265.8 382.0V377.6M215.4 382.0V379.9M150.4 382.0V378.8M85.8 382.0V379.8M277.6 382.0V379.8M212.6 382.0V379.5M204.3 382.0V379.0M140.1 382.0V378.7M143.0 382.0V374.8M187.9 382.0V379.8M257.4 382.0V379.7M257.9 382.0V376.4M302.0 382.0V378.3M258.7 382.0V376.3M275.4 382.0V377.8M294.9 382.0V376.7M168.7 382.0V379.1M281.5 382.0V375.0M167.5 382.0V375.0M270.2 382.0V377.1M157.9 382.0V379.4M146.0 382.0V377.2M188.6 382.0V379.6M110.6 382.0V376.1M121.5 382.0V379.7M205.5 382.0V379.8M174.2 382.0V379.6M286.2 382.0V378.1M196.2 382.0V378.6M79.0 382.0V375.8M307.4 382.0V379.9M213.8 382.0V376.3M283.3 382.0V374.6M297.4 382.0V375.4M110.7 382.0V374.2M317.2 382.0V377.5M290.9 382.0V379.5M181.0 382.0V379.8M190.7 382.0V374.3M248.4 382.0V378.7M152.2 382.0V379.6M180.5 382.0V379.4M195.0 382.0V378.0M174.4 382.0V377.9M176.5 382.0V378.5M194.3 382.0V375.8M295.0 382.0V377.9M261.4 382.0V379.3M114.6 382.0V379.3M108.8 382.0V376.5M300.4 382.0V377.5M128.4 382.0V379.8M264.6 382.0V378.0M110.4 382.0V374.2M260.1 382.0V374.6M316.9 382.0V376.4M303.5 382.0V374.8M113.8 382.0V379.2M206.9 382.0V377.5M111.8 382.0V379.4M264.9 382.0V374.5M191.7 382.0V374.9M290.2 382.0V375.2M121.1 382.0V379.0M238.1 382.0V376.1M279.5 382.0V379.8M241.5 382.0V379.9" stroke="#4b8fd0" stroke-width="0.6" stroke-opacity="0.85"/>
<path d="M80.4 382V346.4" stroke="#4b8fd0" stroke-width="0.6" stroke-opacity="0.75"/>
<path d="M90.3 382V346.4" stroke="#4b8fd0" stroke-width="0.6" stroke-opacity="0.75"/>
<path d="M94 382V346.4" stroke="#4b8fd0" stroke-width="0.6" stroke-opacity="0.75"/>
<path d="M105.6 382V346.4" stroke="#4b8fd0" stroke-width="0.6" stroke-opacity="0.75"/>
<path d="M114.6 382V346.4" stroke="#4b8fd0" stroke-width="0.6" stroke-opacity="0.75"/>
<path d="M115.5 382V346.4" stroke="#4b8fd0" stroke-width="0.6" stroke-opacity="0.75"/>
<path d="M116.5 382V346.4" stroke="#4b8fd0" stroke-width="0.6" stroke-opacity="0.75"/>
<path d="M122.5 382V346.4" stroke="#4b8fd0" stroke-width="0.6" stroke-opacity="0.75"/>
<path d="M127.1 382V346.4" stroke="#4b8fd0" stroke-width="0.6" stroke-opacity="0.75"/>
<path d="M132.2 382V346.4" stroke="#4b8fd0" stroke-width="0.6" stroke-opacity="0.75"/>
<path d="M150.5 382V346.4" stroke="#4b8fd0" stroke-width="0.6" stroke-opacity="0.75"/>
<path d="M151.5 382V346.4" stroke="#4b8fd0" stroke-width="0.6" stroke-opacity="0.75"/>
<path d="M152.4 382V346.4" stroke="#4b8fd0" stroke-width="0.6" stroke-opacity="0.75"/>
<path d="M173 382V346.4" stroke="#4b8fd0" stroke-width="0.6" stroke-opacity="0.75"/>
<path d="M181.9 382V346.4" stroke="#4b8fd0" stroke-width="0.6" stroke-opacity="0.75"/>
<path d="M185.1 382V346.4" stroke="#4b8fd0" stroke-width="0.6" stroke-opacity="0.75"/>
<path d="M187.9 382V346.4" stroke="#4b8fd0" stroke-width="0.6" stroke-opacity="0.75"/>
<path d="M193.5 382V346.4" stroke="#4b8fd0" stroke-width="0.6" stroke-opacity="0.75"/>
<path d="M198.4 382V346.4" stroke="#4b8fd0" stroke-width="0.6" stroke-opacity="0.75"/>
<path d="M200.2 382V346.4" stroke="#4b8fd0" stroke-width="0.6" stroke-opacity="0.75"/>
<path d="M214.3 382V346.4" stroke="#4b8fd0" stroke-width="0.6" stroke-opacity="0.75"/>
<path d="M226.4 382V346.4" stroke="#4b8fd0" stroke-width="0.6" stroke-opacity="0.75"/>
<path d="M231.4 382V346.4" stroke="#4b8fd0" stroke-width="0.6" stroke-opacity="0.75"/>
<path d="M238 382V346.4" stroke="#4b8fd0" stroke-width="0.6" stroke-opacity="0.75"/>
<path d="M239 382V346.4" stroke="#4b8fd0" stroke-width="0.6" stroke-opacity="0.75"/>
<path d="M240 382V346.4" stroke="#4b8fd0" stroke-width="0.6" stroke-opacity="0.75"/>
<path d="M241 382V346.4" stroke="#4b8fd0" stroke-width="0.6" stroke-opacity="0.75"/>
<path d="M241.7 382V346.4" stroke="#4b8fd0" stroke-width="0.6" stroke-opacity="0.75"/>
<path d="M246.4 382V346.4" stroke="#4b8fd0" stroke-width="0.6" stroke-opacity="0.75"/>
<path d="M253.3 382V346.4" stroke="#4b8fd0" stroke-width="0.6" stroke-opacity="0.75"/>
<path d="M262 382V346.4" stroke="#4b8fd0" stroke-width="0.6" stroke-opacity="0.75"/>
<path d="M274.4 382V346.4" stroke="#4b8fd0" stroke-width="0.6" stroke-opacity="0.75"/>
<path d="M282.5 382V346.4" stroke="#4b8fd0" stroke-width="0.6" stroke-opacity="0.75"/>
<path d="M286.6 382V346.4" stroke="#4b8fd0" stroke-width="0.6" stroke-opacity="0.75"/>
<path d="M297.4 382V346.4" stroke="#4b8fd0" stroke-width="0.6" stroke-opacity="0.75"/>
<path d="M305.7 382V346.4" stroke="#4b8fd0" stroke-width="0.6" stroke-opacity="0.75"/>
<path d="M314.6 382V346.4" stroke="#4b8fd0" stroke-width="0.6" stroke-opacity="0.75"/>
<path d="M137.4 382V346.4" stroke="#4b8fd0" stroke-width="0.5" stroke-opacity="0.3"/>
<path d="M139 382V346.4" stroke="#4b8fd0" stroke-width="0.5" stroke-opacity="0.3"/>
<path d="M141 382V346.4" stroke="#4b8fd0" stroke-width="0.5" stroke-opacity="0.3"/>
<path d="M143 382V346.4" stroke="#4b8fd0" stroke-width="0.5" stroke-opacity="0.3"/>
<path d="M145 382V346.4" stroke="#4b8fd0" stroke-width="0.5" stroke-opacity="0.3"/>
<path d="M147 382V346.4" stroke="#4b8fd0" stroke-width="0.5" stroke-opacity="0.3"/>
<path d="M149 382V346.4" stroke="#4b8fd0" stroke-width="0.5" stroke-opacity="0.3"/>
<path d="M205 382V346.4" stroke="#4b8fd0" stroke-width="0.5" stroke-opacity="0.3"/>
<path d="M206.6 382V346.4" stroke="#4b8fd0" stroke-width="0.5" stroke-opacity="0.3"/>
<path d="M209 382V346.4" stroke="#4b8fd0" stroke-width="0.5" stroke-opacity="0.3"/>
<path d="M210.3 382V346.4" stroke="#4b8fd0" stroke-width="0.5" stroke-opacity="0.3"/>
<path d="M232.5 382V346.4" stroke="#4b8fd0" stroke-width="0.5" stroke-opacity="0.3"/>
<path d="M234.3 382V346.4" stroke="#4b8fd0" stroke-width="0.5" stroke-opacity="0.3"/>
<path d="M258.6 382V346.4" stroke="#4b8fd0" stroke-width="0.5" stroke-opacity="0.3"/>
<path d="M260 382V346.4" stroke="#4b8fd0" stroke-width="0.5" stroke-opacity="0.3"/>
<path d="M263.2 382V346.4" stroke="#4b8fd0" stroke-width="0.5" stroke-opacity="0.3"/>
<path d="M339 382V380.6h.5V380.6h.5V380.3h.5V380.3h.5V380.5h.5V379.8h.5V378.2h.5V380.5h.5V380.0h.5V380.1h.5V380.2h.5V380.2h.5V380.2h.5V380.0h.5V380.4h.5V378.1h.5V380.6h.5V380.1h.5V377.6h.5V380.4h.5V379.7h.5V380.4h.5V380.3h.5V379.8h.5V378.4h.5V380.3h.5V377.8h.5V379.6h.5V380.6h.5V380.5h.5V380.6h.5V380.4h.5V380.1h.5V379.9h.5V380.5h.5V379.9h.5V380.3h.5V379.8h.5V380.6h.5V380.2h.5V380.5h.5V380.6h.5V380.2h.5V380.6h.5V380.2h.5V380.4h.5V380.3h.5V379.9h.5V380.6h.5V377.7h.5V380.1h.5V380.5h.5V380.6h.5V380.4h.5V378.2h.5V379.8h.5V380.6h.5V380.0h.5V380.3h.5V380.5h.5V380.0h.5V380.1h.5V380.1h.5V379.4h.5V380.3h.5V380.3h.5V379.0h.5V378.0h.5V380.5h.5V380.3h.5V379.9h.5V380.1h.5V377.5h.5V380.6h.5V380.0h.5V380.3h.5V380.4h.5V377.5h.5V379.8h.5V380.0h.5V380.1h.5V380.0h.5V380.5h.5V377.7h.5V379.9h.5V380.4h.5V380.5h.5V380.6h.5V380.5h.5V379.1h.5V379.9h.5V380.4h.5V380.1h.5V378.2h.5V380.1h.5V380.4h.5V378.7h.5V377.2h.5V380.5h.5V379.9h.5V377.5h.5V380.6h.5V380.5h.5V380.1h.5V379.9h.5V380.1h.5V379.9h.5V380.2h.5V379.8h.5V380.5h.5V380.2h.5V379.8h.5V380.1h.5V380.0h.5V380.5h.5V379.9h.5V380.4h.5V380.4h.5V378.2h.5V378.2h.5V380.6h.5V379.7h.5V380.2h.5V379.9h.5V380.3h.5V380.4h.5V380.5h.5V380.0h.5V380.6h.5V380.5h.5V380.4h.5V380.5h.5V380.2h.5V377.7h.5V380.0h.5V380.5h.5V379.9h.5V380.0h.5V380.0h.5V379.7h.5V380.1h.5V380.3h.5V380.1h.5V380.5h.5V379.9h.5V380.4h.5V380.1h.5V379.9h.5V379.9h.5V379.3h.5V380.5h.5V379.3h.5V380.6h.5V379.9h.5V380.5h.5V379.7h.5V380.5h.5V380.2h.5V380.1h.5V380.5h.5V380.0h.5V380.6h.5V380.0h.5V377.6h.5V380.2h.5V379.9h.5V380.0h.5V378.2h.5V380.6h.5V378.2h.5V380.3h.5V379.8h.5V380.6h.5V380.6h.5V380.0h.5V379.2h.5V379.8h.5V380.0h.5V380.2h.5V380.0h.5V379.6h.5V380.4h.5V378.6h.5V379.9h.5V377.6h.5V380.3h.5V380.0h.5V378.8h.5V380.6h.5V380.6h.5V380.1h.5V379.9h.5V380.1h.5V379.9h.5V379.2h.5V380.5h.5V380.1h.5V379.5h.5V380.3h.5V380.0h.5V380.3h.5V380.6h.5V380.1h.5V380.5h.5V380.4h.5V380.0h.5V377.3h.5V380.6h.5V380.2h.5V380.6h.5V380.0h.5V380.5h.5V380.6h.5V380.6h.5V377.2h.5V380.2h.5V380.1h.5V379.9h.5V379.8h.5V377.5h.5V380.6h.5V380.6h.5V379.8h.5V380.4h.5V380.6h.5V378.3h.5V380.5h.5V380.2h.5V380.3h.5V379.3h.5V379.4h.5V377.8h.5V380.2h.5V378.1h.5V380.1h.5V380.6h.5V380.6h.5V380.0h.5V380.5h.5V380.2h.5V380.1h.5V380.1h.5V380.6h.5V380.6h.5V380.5h.5V379.5h.5V380.0h.5V380.2h.5V380.1h.5V380.2h.5V379.1h.5V380.0h.5V377.3h.5V380.6h.5V380.3h.5V379.0h.5V380.6h.5V380.5h.5V379.8h.5V378.7h.5V380.5h.5V380.0h.5V380.4h.5V378.5h.5V380.3h.5V380.2h.5V379.7h.5V378.9h.5V380.5h.5V379.5h.5V380.0h.5V378.7h.5V378.6h.5V379.6h.5V380.5h.5V380.3h.5V378.6h.5V380.5h.5V378.6h.5V380.3h.5V380.2h.5V380.6h.5V377.4h.5V379.0h.5V380.2h.5V380.0h.5V380.0h.5V380.5h.5V378.5h.5V380.6h.5V377.9h.5V379.6h.5V379.7h.5V380.3h.5V380.0h.5V380.6h.5V380.5h.5V378.5h.5V380.1h.5V379.7h.5V380.3h.5V377.3h.5V377.4h.5V380.3h.5V377.6h.5V380.1h.5V380.3h.5V380.6h.5V379.9h.5V379.8h.5V379.9h.5V380.4h.5V379.9h.5V380.4h.5V378.1h.5V379.8h.5V380.1h.5V380.3h.5V380.1h.5V380.0h.5V380.5h.5V380.3h.5V377.4h.5V377.9h.5V379.9h.5V380.6h.5V379.0h.5V380.4h.5V380.0h.5V380.0h.5V378.6h.5V379.9h.5V380.5h.5V380.2h.5V379.9h.5V380.6h.5V379.9h.5V380.0h.5V380.1h.5V377.1h.5V380.2h.5V377.4h.5V380.4h.5V379.9h.5V377.5h.5V379.0h.5V380.4h.5V379.9h.5V380.4h.5V380.6h.5V378.1h.5V378.0h.5V379.9h.5V380.0h.5V380.3h.5V378.7h.5V380.0h.5V378.1h.5V380.1h.5V378.9h.5V378.8h.5V378.7h.5V380.3h.5V379.8h.5V380.4h.5V380.4h.5V380.2h.5V380.5h.5V380.1h.5V380.3h.5V379.9h.5V379.8h.5V379.8h.5V380.3h.5V379.2h.5V379.8h.5V380.2h.5V379.8h.5V379.9h.5V380.2h.5V380.3h.5V380.3h.5V378.3h.5V380.1h.5V380.4h.5V380.1h.5V379.9h.5V378.5h.5V380.5h.5V378.1h.5V379.7h.5V380.4h.5V380.6h.5V379.9h.5V378.5h.5V378.4h.5V380.0h.5V380.4h.5V379.9h.5V379.1h.5V379.5h.5V380.5h.5V382Z" fill="#4b8fd0"/>
<path d="M513.8 382.0V377.5M403.5 382.0V379.6M406.6 382.0V377.9M370.6 382.0V378.5M409.3 382.0V379.0M412.4 382.0V380.2M516.6 382.0V379.5M489.1 382.0V370.8M415.4 382.0V379.3M474.8 382.0V370.9M446.0 382.0V376.3M360.7 382.0V379.5M430.2 382.0V376.2M415.6 382.0V374.9M507.2 382.0V379.8M444.7 382.0V380.2M403.3 382.0V377.2M505.3 382.0V380.0M499.6 382.0V376.1M504.1 382.0V380.2M442.7 382.0V380.1M494.5 382.0V375.9M385.3 382.0V369.8M518.9 382.0V379.0M382.5 382.0V374.3M407.0 382.0V372.6M394.8 382.0V372.8M409.9 382.0V377.1M402.2 382.0V376.7M350.8 382.0V379.2M409.9 382.0V377.0M500.0 382.0V378.1M530.1 382.0V380.1M486.1 382.0V378.9M381.6 382.0V379.4M414.1 382.0V378.2M437.3 382.0V374.0M498.1 382.0V378.9M493.3 382.0V377.0M345.9 382.0V373.3M516.5 382.0V376.4M440.6 382.0V371.6M535.7 382.0V377.1M350.0 382.0V377.9M379.7 382.0V378.4M459.8 382.0V379.9M352.1 382.0V378.1M475.6 382.0V377.8M502.7 382.0V369.6M534.3 382.0V379.4M429.1 382.0V377.2M382.8 382.0V371.0M493.1 382.0V370.4M416.5 382.0V378.0M443.6 382.0V380.2M390.8 382.0V376.2M524.9 382.0V380.2M406.3 382.0V378.0M421.2 382.0V379.7M373.5 382.0V379.5M350.5 382.0V379.6M351.7 382.0V372.3M468.5 382.0V378.1M403.7 382.0V375.8M407.7 382.0V373.1M508.8 382.0V379.8M442.8 382.0V379.2M536.3 382.0V379.8M346.8 382.0V379.9M528.0 382.0V376.7M486.2 382.0V378.2M480.5 382.0V378.7M444.4 382.0V376.2M498.4 382.0V370.9M467.1 382.0V373.4M371.4 382.0V379.9M522.1 382.0V380.2M431.2 382.0V379.8M448.4 382.0V379.5M520.7 382.0V380.2M504.7 382.0V370.6M420.3 382.0V373.7M462.9 382.0V379.9M443.3 382.0V380.1M401.0 382.0V380.2M375.2 382.0V372.2M441.2 382.0V372.6M431.3 382.0V379.5M437.1 382.0V379.2M534.7 382.0V380.2M378.8 382.0V379.9M441.0 382.0V379.0M363.3 382.0V376.8M516.1 382.0V377.6M406.9 382.0V378.1M388.4 382.0V380.2M400.0 382.0V379.0M494.8 382.0V378.9M514.4 382.0V380.1M401.9 382.0V380.0M497.2 382.0V380.0M452.0 382.0V378.0M486.3 382.0V377.8M396.8 382.0V370.8M436.1 382.0V380.1M448.3 382.0V377.9M358.2 382.0V380.2M438.7 382.0V375.3M411.3 382.0V376.3M391.0 382.0V375.1M498.5 382.0V377.7M523.5 382.0V378.9M414.8 382.0V380.2M414.6 382.0V374.5M493.9 382.0V378.7M428.2 382.0V376.8M350.0 382.0V377.8M508.9 382.0V380.1M354.6 382.0V378.1M461.5 382.0V379.1M422.6 382.0V371.1M538.3 382.0V370.0M373.5 382.0V379.4M392.1 382.0V371.7M462.7 382.0V377.4M356.5 382.0V373.9M534.9 382.0V379.9M397.4 382.0V380.2M508.2 382.0V379.8M373.0 382.0V372.5M474.4 382.0V378.6M387.6 382.0V370.6M407.8 382.0V374.9M467.5 382.0V379.0M534.4 382.0V378.8M390.8 382.0V379.9M346.1 382.0V378.5M525.8 382.0V375.1M408.7 382.0V379.5M500.3 382.0V373.4M401.7 382.0V379.8M391.7 382.0V373.6M434.9 382.0V375.9M474.9 382.0V373.8M447.7 382.0V380.2M471.9 382.0V379.8M510.5 382.0V377.1M477.0 382.0V375.7M509.9 382.0V373.5M523.2 382.0V373.4M390.0 382.0V374.8M409.6 382.0V374.7M450.8 382.0V377.2M357.7 382.0V380.0M364.7 382.0V380.2M513.2 382.0V371.6M409.2 382.0V378.5M454.2 382.0V375.6M356.1 382.0V370.2M345.1 382.0V380.1M484.0 382.0V379.4M467.3 382.0V377.4M435.5 382.0V377.9M502.5 382.0V378.9M492.6 382.0V377.1M516.6 382.0V380.2M398.5 382.0V380.2M344.8 382.0V377.6M430.5 382.0V380.0M370.2 382.0V380.0M517.8 382.0V377.4M422.7 382.0V377.3M426.0 382.0V378.1M353.7 382.0V369.9M456.4 382.0V375.1M519.6 382.0V380.2M351.1 382.0V379.9M373.2 382.0V380.0M417.9 382.0V373.3M457.9 382.0V375.2" stroke="#4b8fd0" stroke-width="0.6" stroke-opacity="0.3"/>
<path d="M439.1 382.0V375.0M515.5 382.0V379.8M474.3 382.0V374.7M503.4 382.0V378.1M418.6 382.0V379.8M393.6 382.0V379.8M353.0 382.0V376.4M440.2 382.0V379.1M481.7 382.0V379.3M522.5 382.0V379.6M378.8 382.0V379.6M530.4 382.0V375.4M379.5 382.0V374.9M345.8 382.0V377.1M431.1 382.0V379.6M458.6 382.0V379.6M444.6 382.0V376.7M423.6 382.0V375.2M518.5 382.0V379.7M381.2 382.0V379.9M409.7 382.0V379.8M399.7 382.0V379.8M435.5 382.0V379.5M524.9 382.0V376.2M410.3 382.0V378.2M356.0 382.0V379.8M503.4 382.0V379.8M412.8 382.0V379.5M381.2 382.0V379.6M383.2 382.0V374.9M387.2 382.0V377.5M387.1 382.0V374.9M518.4 382.0V378.4M528.7 382.0V376.9M519.0 382.0V378.3M354.8 382.0V379.8M507.6 382.0V374.6M423.0 382.0V375.4M520.9 382.0V379.3M491.4 382.0V376.4M473.2 382.0V379.6M349.5 382.0V379.2M392.9 382.0V378.3M409.9 382.0V378.9M402.1 382.0V379.8M395.1 382.0V377.3M395.4 382.0V375.3M513.9 382.0V378.7M398.4 382.0V377.4M517.4 382.0V376.1M381.4 382.0V379.6M348.8 382.0V374.8M395.0 382.0V379.0M492.8 382.0V379.4M483.9 382.0V379.9M420.6 382.0V379.9M503.6 382.0V379.4M502.3 382.0V376.6M361.3 382.0V379.4M498.3 382.0V377.2M423.3 382.0V379.8M372.8 382.0V379.2M437.8 382.0V377.4M513.4 382.0V377.1M450.5 382.0V378.3M462.0 382.0V379.8M347.7 382.0V378.2M425.4 382.0V375.6M385.6 382.0V379.2M389.5 382.0V377.4M500.0 382.0V379.8M416.4 382.0V377.2M487.2 382.0V376.5M372.0 382.0V376.9M429.5 382.0V375.4M378.3 382.0V375.9M522.8 382.0V377.8M373.0 382.0V379.2M413.0 382.0V375.4M373.6 382.0V378.9" stroke="#4b8fd0" stroke-width="0.6" stroke-opacity="0.85"/>
<path d="M351.2 382V346.4" stroke="#4b8fd0" stroke-width="0.6" stroke-opacity="0.75"/>
<path d="M353.5 382V346.4" stroke="#4b8fd0" stroke-width="0.6" stroke-opacity="0.75"/>
<path d="M359.5 382V346.4" stroke="#4b8fd0" stroke-width="0.6" stroke-opacity="0.75"/>
<path d="M381.2 382V346.4" stroke="#4b8fd0" stroke-width="0.6" stroke-opacity="0.75"/>
<path d="M390.3 382V346.4" stroke="#4b8fd0" stroke-width="0.6" stroke-opacity="0.75"/>
<path d="M401.3 382V346.4" stroke="#4b8fd0" stroke-width="0.6" stroke-opacity="0.75"/>
<path d="M405.5 382V346.4" stroke="#4b8fd0" stroke-width="0.6" stroke-opacity="0.75"/>
<path d="M409.6 382V346.4" stroke="#4b8fd0" stroke-width="0.6" stroke-opacity="0.75"/>
<path d="M410.6 382V346.4" stroke="#4b8fd0" stroke-width="0.6" stroke-opacity="0.75"/>
<path d="M411.6 382V346.4" stroke="#4b8fd0" stroke-width="0.6" stroke-opacity="0.75"/>
<path d="M417.2 382V346.4" stroke="#4b8fd0" stroke-width="0.6" stroke-opacity="0.75"/>
<path d="M421.8 382V346.4" stroke="#4b8fd0" stroke-width="0.6" stroke-opacity="0.75"/>
<path d="M430.4 382V346.4" stroke="#4b8fd0" stroke-width="0.6" stroke-opacity="0.75"/>
<path d="M441.6 382V346.4" stroke="#4b8fd0" stroke-width="0.6" stroke-opacity="0.75"/>
<path d="M446.3 382V346.4" stroke="#4b8fd0" stroke-width="0.6" stroke-opacity="0.75"/>
<path d="M452.4 382V346.4" stroke="#4b8fd0" stroke-width="0.6" stroke-opacity="0.75"/>
<path d="M461.5 382V346.4" stroke="#4b8fd0" stroke-width="0.6" stroke-opacity="0.75"/>
<path d="M462.3 382V346.4" stroke="#4b8fd0" stroke-width="0.6" stroke-opacity="0.75"/>
<path d="M468.6 382V346.4" stroke="#4b8fd0" stroke-width="0.6" stroke-opacity="0.75"/>
<path d="M480.6 382V346.4" stroke="#4b8fd0" stroke-width="0.6" stroke-opacity="0.75"/>
<path d="M487.2 382V346.4" stroke="#4b8fd0" stroke-width="0.6" stroke-opacity="0.75"/>
<path d="M507.3 382V346.4" stroke="#4b8fd0" stroke-width="0.6" stroke-opacity="0.75"/>
<path d="M512 382V346.4" stroke="#4b8fd0" stroke-width="0.6" stroke-opacity="0.75"/>
<path d="M513.7 382V346.4" stroke="#4b8fd0" stroke-width="0.6" stroke-opacity="0.75"/>
<path d="M520.3 382V346.4" stroke="#4b8fd0" stroke-width="0.6" stroke-opacity="0.75"/>
<path d="M525.1 382V346.4" stroke="#4b8fd0" stroke-width="0.6" stroke-opacity="0.75"/>
<path d="M347.4 382V346.4" stroke="#4b8fd0" stroke-width="0.5" stroke-opacity="0.3"/>
<path d="M362.6 382V346.4" stroke="#4b8fd0" stroke-width="0.5" stroke-opacity="0.3"/>
<path d="M365 382V346.4" stroke="#4b8fd0" stroke-width="0.5" stroke-opacity="0.3"/>
<path d="M368 382V346.4" stroke="#4b8fd0" stroke-width="0.5" stroke-opacity="0.3"/>
<path d="M371 382V346.4" stroke="#4b8fd0" stroke-width="0.5" stroke-opacity="0.3"/>
<path d="M373 382V346.4" stroke="#4b8fd0" stroke-width="0.5" stroke-opacity="0.3"/>
<path d="M375.5 382V346.4" stroke="#4b8fd0" stroke-width="0.5" stroke-opacity="0.3"/>
<path d="M392.5 382V346.4" stroke="#4b8fd0" stroke-width="0.5" stroke-opacity="0.3"/>
<path d="M419 382V346.4" stroke="#4b8fd0" stroke-width="0.5" stroke-opacity="0.3"/>
<path d="M428.3 382V346.4" stroke="#4b8fd0" stroke-width="0.5" stroke-opacity="0.3"/>
<path d="M438.4 382V346.4" stroke="#4b8fd0" stroke-width="0.5" stroke-opacity="0.3"/>
<path d="M517.2 382V346.4" stroke="#4b8fd0" stroke-width="0.5" stroke-opacity="0.3"/>
<path d="M522 382V346.4" stroke="#4b8fd0" stroke-width="0.5" stroke-opacity="0.3"/>
<path d="M524 382V346.4" stroke="#4b8fd0" stroke-width="0.5" stroke-opacity="0.3"/>
<path d="M556.2 382V379.7h.5V380.6h.5V380.6h.5V379.3h.5V380.0h.5V377.2h.5V380.5h.5V380.1h.5V379.1h.5V380.3h.5V380.1h.5V378.9h.5V379.5h.5V379.9h.5V380.5h.5V380.6h.5V380.4h.5V379.8h.5V379.8h.5V378.9h.5V377.8h.5V380.5h.5V380.0h.5V379.9h.5V380.1h.5V380.2h.5V379.4h.5V378.7h.5V380.0h.5V379.7h.5V380.6h.5V380.6h.5V380.4h.5V378.1h.5V379.1h.5V380.1h.5V380.5h.5V380.3h.5V379.9h.5V378.9h.5V379.8h.5V379.1h.5V379.9h.5V377.4h.5V379.6h.5V380.5h.5V379.8h.5V380.2h.5V377.3h.5V380.5h.5V377.3h.5V380.1h.5V380.4h.5V380.5h.5V379.8h.5V380.4h.5V378.4h.5V377.6h.5V380.6h.5V380.0h.5V380.6h.5V379.9h.5V380.5h.5V380.3h.5V380.2h.5V379.9h.5V380.6h.5V380.4h.5V380.2h.5V380.2h.5V380.4h.5V380.5h.5V378.9h.5V380.4h.5V378.9h.5V378.4h.5V380.5h.5V380.4h.5V379.9h.5V379.9h.5V380.4h.5V380.2h.5V380.4h.5V379.4h.5V380.5h.5V379.1h.5V380.4h.5V380.2h.5V380.3h.5V378.6h.5V380.6h.5V379.0h.5V377.6h.5V378.9h.5V380.4h.5V380.3h.5V380.0h.5V380.6h.5V380.3h.5V380.6h.5V380.5h.5V379.7h.5V379.9h.5V378.4h.5V380.6h.5V380.5h.5V380.0h.5V380.4h.5V379.3h.5V377.5h.5V380.4h.5V379.8h.5V378.5h.5V378.0h.5V380.3h.5V380.3h.5V379.8h.5V379.8h.5V378.6h.5V380.4h.5V377.7h.5V380.4h.5V380.5h.5V379.6h.5V380.6h.5V380.1h.5V380.5h.5V380.6h.5V380.6h.5V379.8h.5V379.1h.5V379.8h.5V380.5h.5V379.9h.5V380.4h.5V379.0h.5V380.3h.5V378.4h.5V380.1h.5V380.2h.5V380.2h.5V380.6h.5V377.8h.5V379.0h.5V377.6h.5V380.4h.5V378.0h.5V380.4h.5V380.4h.5V380.0h.5V378.3h.5V379.8h.5V380.0h.5V380.6h.5V380.4h.5V377.3h.5V380.6h.5V380.3h.5V380.4h.5V380.5h.5V380.2h.5V380.0h.5V380.1h.5V380.5h.5V378.2h.5V378.6h.5V380.0h.5V380.6h.5V380.4h.5V379.5h.5V379.9h.5V380.1h.5V377.6h.5V380.0h.5V379.6h.5V380.2h.5V380.6h.5V380.6h.5V380.1h.5V380.1h.5V380.4h.5V380.1h.5V380.2h.5V380.1h.5V380.1h.5V379.8h.5V377.4h.5V380.0h.5V379.9h.5V380.3h.5V379.9h.5V380.4h.5V377.6h.5V377.7h.5V380.5h.5V380.2h.5V380.6h.5V380.2h.5V379.8h.5V379.9h.5V380.5h.5V379.5h.5V377.1h.5V380.6h.5V379.0h.5V380.4h.5V378.2h.5V380.4h.5V380.4h.5V378.3h.5V380.3h.5V377.6h.5V379.0h.5V380.4h.5V380.3h.5V380.5h.5V379.0h.5V380.0h.5V380.5h.5V379.4h.5V380.0h.5V379.3h.5V380.6h.5V379.9h.5V378.5h.5V377.8h.5V380.0h.5V380.3h.5V377.9h.5V380.0h.5V380.3h.5V379.9h.5V380.1h.5V380.1h.5V379.9h.5V380.2h.5V379.9h.5V380.0h.5V379.3h.5V380.5h.5V380.5h.5V380.6h.5V378.8h.5V377.5h.5V380.5h.5V380.4h.5V380.6h.5V380.3h.5V380.5h.5V380.2h.5V380.1h.5V380.6h.5V380.3h.5V379.9h.5V380.1h.5V380.2h.5V382Z" fill="#4b8fd0"/>
<path d="M659.2 382.0V378.2M597.5 382.0V369.6M574.1 382.0V370.7M651.0 382.0V380.0M669.5 382.0V380.2M647.9 382.0V370.4M653.5 382.0V371.4M645.1 382.0V375.0M671.8 382.0V371.2M603.1 382.0V380.0M604.6 382.0V380.2M671.5 382.0V378.7M680.8 382.0V380.2M614.5 382.0V376.9M603.4 382.0V375.4M589.9 382.0V380.2M669.4 382.0V377.7M597.7 382.0V374.1M569.3 382.0V379.5M619.1 382.0V372.7M630.9 382.0V378.4M636.1 382.0V371.1M603.9 382.0V380.0M624.9 382.0V380.1M587.4 382.0V376.1M613.6 382.0V380.0M556.4 382.0V370.2M663.6 382.0V376.4M627.4 382.0V378.3M679.7 382.0V369.8M677.0 382.0V376.3M640.0 382.0V371.3M585.7 382.0V378.1M628.7 382.0V379.4M631.4 382.0V377.1M674.0 382.0V378.4M608.2 382.0V377.5M556.6 382.0V380.2M559.8 382.0V372.3M666.8 382.0V374.6M589.3 382.0V376.7M575.4 382.0V377.6M623.2 382.0V375.9M571.7 382.0V371.3M631.3 382.0V369.6M568.0 382.0V375.1M660.5 382.0V369.7M586.3 382.0V379.4M670.0 382.0V375.5M570.4 382.0V376.8M594.2 382.0V373.8M569.6 382.0V375.2M607.3 382.0V380.1M588.5 382.0V373.8M676.9 382.0V370.4M561.2 382.0V372.2M636.1 382.0V379.0M561.1 382.0V375.3M624.5 382.0V379.9M624.4 382.0V380.2M676.5 382.0V372.9M649.7 382.0V369.7M578.9 382.0V378.2M677.9 382.0V371.8M637.9 382.0V380.2M619.3 382.0V377.5M624.7 382.0V379.6M584.5 382.0V379.5M587.6 382.0V370.4M577.7 382.0V379.9M681.4 382.0V380.1M560.4 382.0V379.0M627.2 382.0V376.1M666.9 382.0V371.5M558.0 382.0V373.8M584.2 382.0V376.8M661.3 382.0V380.1M625.3 382.0V371.2M608.4 382.0V376.4M653.9 382.0V379.2M570.0 382.0V375.6M559.0 382.0V371.2M617.6 382.0V377.5M574.3 382.0V377.7M612.3 382.0V376.2M568.0 382.0V379.6M625.2 382.0V374.3M640.6 382.0V380.2M676.1 382.0V379.0M637.4 382.0V369.9M662.9 382.0V379.2M588.8 382.0V378.0M620.0 382.0V380.1M634.0 382.0V373.0M579.0 382.0V376.7M624.8 382.0V379.9M665.4 382.0V380.1M655.7 382.0V380.2M669.7 382.0V379.7M645.0 382.0V376.1M642.1 382.0V374.3M590.8 382.0V378.6M631.7 382.0V375.3M608.3 382.0V379.2M635.9 382.0V380.2M625.1 382.0V378.9M643.4 382.0V379.4M563.4 382.0V375.6M597.0 382.0V380.2M561.8 382.0V370.7M620.3 382.0V380.1M564.3 382.0V377.4M611.6 382.0V380.2M625.4 382.0V378.0" stroke="#4b8fd0" stroke-width="0.6" stroke-opacity="0.3"/>
<path d="M630.2 382.0V379.8M557.0 382.0V377.6M556.5 382.0V378.4M605.9 382.0V375.6M623.7 382.0V379.7M574.7 382.0V376.0M585.6 382.0V377.8M601.0 382.0V379.3M603.0 382.0V377.7M602.2 382.0V379.2M602.0 382.0V375.8M680.7 382.0V376.6M653.2 382.0V379.0M649.1 382.0V377.3M682.1 382.0V379.5M556.5 382.0V378.4M646.4 382.0V379.3M680.2 382.0V379.6M638.1 382.0V375.7M681.8 382.0V379.0M649.3 382.0V379.7M620.0 382.0V379.8M655.2 382.0V378.2M563.5 382.0V374.4M619.1 382.0V375.7M673.2 382.0V377.9M612.1 382.0V377.2M619.7 382.0V379.7M556.4 382.0V376.5M673.0 382.0V377.0M624.1 382.0V375.9M598.4 382.0V379.4M656.3 382.0V375.4M627.4 382.0V378.3M634.6 382.0V379.0M610.4 382.0V379.8M631.1 382.0V376.2M601.2 382.0V377.1M649.5 382.0V377.2M578.4 382.0V378.7M633.0 382.0V375.4M558.9 382.0V379.8M580.7 382.0V376.3M576.2 382.0V378.2M594.8 382.0V377.1M610.6 382.0V379.4M623.9 382.0V375.3M666.2 382.0V378.2M647.5 382.0V375.0M646.6 382.0V377.7M654.4 382.0V379.8" stroke="#4b8fd0" stroke-width="0.6" stroke-opacity="0.85"/>
<path d="M556.9 382V346.4" stroke="#4b8fd0" stroke-width="0.6" stroke-opacity="0.75"/>
<path d="M573.4 382V346.4" stroke="#4b8fd0" stroke-width="0.6" stroke-opacity="0.75"/>
<path d="M583.5 382V346.4" stroke="#4b8fd0" stroke-width="0.6" stroke-opacity="0.75"/>
<path d="M586.6 382V346.4" stroke="#4b8fd0" stroke-width="0.6" stroke-opacity="0.75"/>
<path d="M598.6 382V346.4" stroke="#4b8fd0" stroke-width="0.6" stroke-opacity="0.75"/>
<path d="M604.8 382V346.4" stroke="#4b8fd0" stroke-width="0.6" stroke-opacity="0.75"/>
<path d="M612.5 382V346.4" stroke="#4b8fd0" stroke-width="0.6" stroke-opacity="0.75"/>
<path d="M613.5 382V346.4" stroke="#4b8fd0" stroke-width="0.6" stroke-opacity="0.75"/>
<path d="M614.1 382V346.4" stroke="#4b8fd0" stroke-width="0.6" stroke-opacity="0.75"/>
<path d="M619 382V346.4" stroke="#4b8fd0" stroke-width="0.6" stroke-opacity="0.75"/>
<path d="M622 382V346.4" stroke="#4b8fd0" stroke-width="0.6" stroke-opacity="0.75"/>
<path d="M627.3 382V346.4" stroke="#4b8fd0" stroke-width="0.6" stroke-opacity="0.75"/>
<path d="M644.2 382V346.4" stroke="#4b8fd0" stroke-width="0.6" stroke-opacity="0.75"/>
<path d="M663.5 382V346.4" stroke="#4b8fd0" stroke-width="0.6" stroke-opacity="0.75"/>
<path d="M664.6 382V346.4" stroke="#4b8fd0" stroke-width="0.6" stroke-opacity="0.75"/>
<path d="M676.3 382V346.4" stroke="#4b8fd0" stroke-width="0.6" stroke-opacity="0.75"/>
<path d="M559.8 382V346.4" stroke="#4b8fd0" stroke-width="0.5" stroke-opacity="0.3"/>
<path d="M561.5 382V346.4" stroke="#4b8fd0" stroke-width="0.5" stroke-opacity="0.3"/>
<path d="M563.6 382V346.4" stroke="#4b8fd0" stroke-width="0.5" stroke-opacity="0.3"/>
<path d="M580.7 382V346.4" stroke="#4b8fd0" stroke-width="0.5" stroke-opacity="0.3"/>
<path d="M582 382V346.4" stroke="#4b8fd0" stroke-width="0.5" stroke-opacity="0.3"/>
<path d="M600.5 382V346.4" stroke="#4b8fd0" stroke-width="0.5" stroke-opacity="0.3"/>
<path d="M611.2 382V346.4" stroke="#4b8fd0" stroke-width="0.5" stroke-opacity="0.3"/>
<path d="M620.5 382V346.4" stroke="#4b8fd0" stroke-width="0.5" stroke-opacity="0.3"/>
<path d="M633.2 382V346.4" stroke="#4b8fd0" stroke-width="0.5" stroke-opacity="0.3"/>
<path d="M649.1 382V346.4" stroke="#4b8fd0" stroke-width="0.5" stroke-opacity="0.3"/>
<path d="M662.7 382V346.4" stroke="#4b8fd0" stroke-width="0.5" stroke-opacity="0.3"/>
<path d="M682.5 382V346.4" stroke="#4b8fd0" stroke-width="0.5" stroke-opacity="0.3"/>
<line x1="74.5" y1="387.6" x2="74.5" y2="422.6" stroke="#9a9a9a" stroke-width="1"/>
<path d="M74.5 422.6V420.3h.5V420.6h.5V419.2h.5V419.8h.5V420.1h.5V420.3h.5V420.2h.5V418.9h.5V420.4h.5V415.4h.5V419.2h.5V420.0h.5V419.0h.5V420.3h.5V416.8h.5V420.6h.5V420.2h.5V420.6h.5V416.9h.5V420.1h.5V420.0h.5V419.8h.5V420.3h.5V420.0h.5V420.5h.5V419.5h.5V418.9h.5V419.3h.5V420.5h.5V420.0h.5V420.6h.5V419.7h.5V420.2h.5V420.0h.5V419.8h.5V419.3h.5V417.6h.5V420.1h.5V420.6h.5V420.3h.5V420.5h.5V416.3h.5V419.8h.5V420.6h.5V420.3h.5V420.6h.5V420.2h.5V420.4h.5V419.5h.5V420.1h.5V420.6h.5V420.5h.5V416.6h.5V418.9h.5V420.1h.5V419.9h.5V420.3h.5V420.3h.5V419.1h.5V420.6h.5V420.2h.5V420.1h.5V419.3h.5V420.0h.5V418.8h.5V417.5h.5V420.5h.5V418.4h.5V419.9h.5V420.1h.5V420.3h.5V419.9h.5V420.4h.5V419.8h.5V419.2h.5V416.6h.5V416.4h.5V419.2h.5V418.7h.5V420.0h.5V419.8h.5V419.5h.5V420.6h.5V417.9h.5V416.9h.5V416.0h.5V417.2h.5V420.3h.5V417.2h.5V420.1h.5V419.9h.5V420.4h.5V418.5h.5V420.6h.5V415.6h.5V420.5h.5V415.7h.5V420.6h.5V418.8h.5V419.3h.5V418.2h.5V420.4h.5V420.5h.5V419.8h.5V420.5h.5V420.2h.5V420.5h.5V419.2h.5V418.0h.5V415.0h.5V420.4h.5V417.0h.5V418.3h.5V415.1h.5V419.3h.5V420.5h.5V420.0h.5V414.7h.5V420.2h.5V420.3h.5V420.6h.5V419.9h.5V420.1h.5V420.2h.5V415.5h.5V417.7h.5V420.0h.5V420.5h.5V419.4h.5V419.3h.5V420.1h.5V420.6h.5V420.5h.5V416.1h.5V419.2h.5V420.6h.5V415.8h.5V415.6h.5V418.0h.5V420.5h.5V420.4h.5V420.5h.5V420.4h.5V416.4h.5V418.8h.5V417.0h.5V416.0h.5V414.7h.5V416.8h.5V416.1h.5V420.6h.5V420.3h.5V416.4h.5V420.4h.5V418.7h.5V419.2h.5V420.5h.5V420.3h.5V420.1h.5V414.9h.5V419.5h.5V419.8h.5V415.1h.5V420.5h.5V419.9h.5V415.4h.5V415.7h.5V420.1h.5V417.6h.5V420.5h.5V418.4h.5V415.9h.5V419.8h.5V419.7h.5V417.8h.5V420.6h.5V420.5h.5V419.9h.5V420.0h.5V420.4h.5V420.6h.5V420.2h.5V420.6h.5V419.3h.5V420.6h.5V416.4h.5V420.0h.5V420.5h.5V420.5h.5V420.0h.5V420.6h.5V418.8h.5V416.8h.5V415.1h.5V420.2h.5V420.5h.5V419.3h.5V420.2h.5V420.0h.5V420.2h.5V418.7h.5V420.3h.5V420.2h.5V420.0h.5V418.7h.5V420.5h.5V415.2h.5V420.5h.5V419.4h.5V420.5h.5V419.6h.5V419.4h.5V414.7h.5V420.6h.5V420.5h.5V417.4h.5V420.6h.5V420.4h.5V414.7h.5V419.8h.5V420.4h.5V417.8h.5V417.0h.5V420.1h.5V420.6h.5V417.0h.5V420.1h.5V420.6h.5V420.6h.5V417.3h.5V415.9h.5V420.0h.5V420.5h.5V420.1h.5V420.5h.5V415.8h.5V419.9h.5V420.5h.5V416.5h.5V420.2h.5V419.8h.5V420.0h.5V418.7h.5V420.5h.5V418.8h.5V419.2h.5V414.6h.5V419.1h.5V418.6h.5V419.7h.5V420.0h.5V418.5h.5V420.6h.5V420.3h.5V415.8h.5V420.0h.5V420.2h.5V420.5h.5V420.4h.5V420.4h.5V419.8h.5V420.2h.5V420.4h.5V419.1h.5V419.7h.5V420.5h.5V418.0h.5V417.7h.5V420.4h.5V420.5h.5V419.0h.5V416.2h.5V420.1h.5V419.6h.5V420.5h.5V417.3h.5V420.6h.5V419.9h.5V420.5h.5V420.5h.5V417.9h.5V417.1h.5V420.6h.5V418.3h.5V420.3h.5V420.3h.5V418.0h.5V418.3h.5V418.0h.5V420.0h.5V418.7h.5V414.7h.5V420.4h.5V417.4h.5V420.2h.5V420.5h.5V420.2h.5V420.4h.5V420.1h.5V420.6h.5V419.3h.5V418.4h.5V415.6h.5V420.6h.5V420.1h.5V419.9h.5V415.9h.5V416.8h.5V419.8h.5V416.7h.5V417.7h.5V420.3h.5V420.3h.5V420.3h.5V418.5h.5V420.6h.5V419.7h.5V415.1h.5V420.5h.5V420.5h.5V420.6h.5V420.0h.5V418.8h.5V420.6h.5V415.7h.5V417.8h.5V419.1h.5V420.6h.5V419.7h.5V420.5h.5V420.2h.5V420.4h.5V414.9h.5V416.6h.5V420.2h.5V419.0h.5V420.6h.5V419.9h.5V415.0h.5V418.6h.5V420.5h.5V416.7h.5V419.9h.5V419.9h.5V420.3h.5V420.0h.5V414.7h.5V420.1h.5V420.6h.5V419.8h.5V420.6h.5V416.2h.5V420.3h.5V415.5h.5V420.0h.5V418.0h.5V418.9h.5V420.1h.5V420.6h.5V420.2h.5V417.1h.5V418.1h.5V420.5h.5V420.6h.5V420.0h.5V420.0h.5V416.8h.5V420.3h.5V415.5h.5V420.3h.5V419.9h.5V417.8h.5V416.4h.5V415.9h.5V420.2h.5V417.0h.5V420.5h.5V420.5h.5V420.2h.5V418.3h.5V420.2h.5V420.4h.5V420.2h.5V420.3h.5V416.2h.5V419.8h.5V420.5h.5V418.5h.5V418.0h.5V420.1h.5V417.7h.5V420.6h.5V419.9h.5V420.5h.5V419.9h.5V420.2h.5V420.0h.5V418.2h.5V415.7h.5V419.9h.5V420.4h.5V420.5h.5V420.6h.5V416.2h.5V416.6h.5V420.1h.5V420.4h.5V418.3h.5V414.8h.5V419.2h.5V420.2h.5V414.7h.5V420.2h.5V420.6h.5V414.9h.5V420.5h.5V420.6h.5V415.2h.5V419.3h.5V420.5h.5V416.9h.5V420.2h.5V419.0h.5V414.9h.5V420.4h.5V419.3h.5V417.0h.5V420.4h.5V417.3h.5V420.6h.5V416.9h.5V420.4h.5V420.6h.5V420.4h.5V420.0h.5V417.2h.5V415.0h.5V420.3h.5V420.4h.5V417.3h.5V414.7h.5V420.3h.5V420.1h.5V420.2h.5V420.1h.5V420.1h.5V420.1h.5V420.1h.5V417.5h.5V418.6h.5V420.5h.5V420.2h.5V414.9h.5V416.7h.5V420.6h.5V419.3h.5V417.8h.5V419.4h.5V417.1h.5V419.9h.5V420.2h.5V420.5h.5V417.9h.5V420.6h.5V417.6h.5V420.2h.5V416.2h.5V419.9h.5V420.1h.5V419.9h.5V420.4h.5V420.6h.5V419.8h.5V420.6h.5V420.6h.5V419.6h.5V420.4h.5V420.6h.5V420.2h.5V416.9h.5V416.6h.5V418.9h.5V415.4h.5V418.3h.5V420.3h.5V417.3h.5V419.9h.5V420.0h.5V418.7h.5V416.6h.5V420.3h.5V420.0h.5V420.5h.5V416.4h.5V422.6Z" fill="#9c6a00"/>
<path d="M171.0 422.6V420.7M83.8 422.6V415.8M81.9 422.6V419.9M187.7 422.6V420.7M187.1 422.6V415.3M92.2 422.6V420.0M239.1 422.6V417.1M213.2 422.6V420.2M162.1 422.6V411.3M193.4 422.6V420.2M190.6 422.6V420.8M215.4 422.6V411.1M234.8 422.6V420.8M282.3 422.6V420.6M83.4 422.6V420.3M205.8 422.6V420.8M318.5 422.6V419.4M76.8 422.6V416.2M315.5 422.6V420.8M113.8 422.6V420.8M164.3 422.6V419.6M82.1 422.6V410.6M263.6 422.6V420.2M229.7 422.6V418.8M271.9 422.6V420.4M310.0 422.6V415.4M228.7 422.6V417.8M235.0 422.6V420.8M293.9 422.6V418.7M123.3 422.6V419.8M252.4 422.6V414.4M127.8 422.6V419.6M318.2 422.6V420.8M171.5 422.6V410.8M252.4 422.6V418.4M185.3 422.6V420.8M260.0 422.6V419.9M92.7 422.6V410.5M96.0 422.6V418.9M245.8 422.6V418.1M171.8 422.6V415.3M134.9 422.6V415.9M177.9 422.6V410.5M284.8 422.6V420.5M294.4 422.6V419.1M158.5 422.6V420.7M117.6 422.6V420.8M128.9 422.6V419.6M243.1 422.6V411.9M244.6 422.6V410.6M307.5 422.6V412.8M145.8 422.6V420.8M220.3 422.6V419.7M316.4 422.6V420.8M307.6 422.6V420.2M241.8 422.6V415.5M192.7 422.6V414.7M281.6 422.6V420.8M275.6 422.6V410.0M277.7 422.6V417.5M221.9 422.6V420.8M212.7 422.6V420.2M132.0 422.6V411.4M138.2 422.6V420.6M286.2 422.6V418.2M290.7 422.6V420.6M296.9 422.6V419.3M292.6 422.6V417.2M158.3 422.6V419.8M101.7 422.6V418.0M92.5 422.6V412.0M138.0 422.6V420.0M169.5 422.6V418.8M302.6 422.6V420.8M161.5 422.6V418.1M201.6 422.6V412.6M207.7 422.6V416.4M239.3 422.6V419.7M183.6 422.6V420.5M102.5 422.6V410.6M241.0 422.6V420.8M282.5 422.6V419.4M176.4 422.6V414.3M147.7 422.6V416.2M267.3 422.6V416.4M115.5 422.6V420.8M260.1 422.6V417.3M163.9 422.6V411.2M210.8 422.6V410.0M119.8 422.6V413.6M317.1 422.6V420.7M124.1 422.6V418.8M153.2 422.6V417.5M100.6 422.6V420.8M97.9 422.6V420.8M158.5 422.6V414.4M218.1 422.6V420.7M221.5 422.6V410.0M311.6 422.6V420.7M246.4 422.6V420.8M287.3 422.6V420.0M230.0 422.6V411.7M185.3 422.6V420.0M88.5 422.6V416.4M240.1 422.6V416.2M95.1 422.6V419.9M142.3 422.6V420.7M101.9 422.6V420.5M286.6 422.6V412.8M224.7 422.6V420.0M155.5 422.6V412.0M108.5 422.6V420.8M307.7 422.6V420.3M309.8 422.6V420.2M99.0 422.6V420.0M286.5 422.6V413.0M224.7 422.6V418.3M182.9 422.6V419.9M305.8 422.6V419.5M101.2 422.6V417.6M167.0 422.6V420.1M307.4 422.6V416.5M188.9 422.6V411.5M119.9 422.6V420.6M314.4 422.6V420.8M257.3 422.6V420.2M100.5 422.6V411.0M251.9 422.6V420.0M126.1 422.6V415.6M260.1 422.6V420.2M83.9 422.6V419.8M209.1 422.6V420.1M264.1 422.6V418.9M128.0 422.6V418.1M108.4 422.6V415.8M314.9 422.6V420.5M118.0 422.6V417.7M134.6 422.6V420.8M198.6 422.6V420.6M242.2 422.6V418.5M129.4 422.6V411.9M208.9 422.6V414.3M268.3 422.6V420.4M129.3 422.6V420.2M200.6 422.6V415.3M104.6 422.6V420.3M78.5 422.6V414.1M303.7 422.6V417.5M218.9 422.6V419.2M155.0 422.6V419.7M74.7 422.6V420.5M192.3 422.6V419.9M226.5 422.6V420.7M169.4 422.6V411.4M128.6 422.6V410.0M75.1 422.6V410.4M313.5 422.6V411.7M320.1 422.6V410.2M198.2 422.6V413.9M119.0 422.6V413.8M116.4 422.6V413.0M263.9 422.6V416.2M265.8 422.6V420.0M273.9 422.6V411.6M231.8 422.6V416.2M132.3 422.6V419.5M250.2 422.6V417.5M209.7 422.6V420.7M78.2 422.6V418.8M277.0 422.6V409.8M109.4 422.6V410.2M143.7 422.6V410.3M176.7 422.6V414.1M215.1 422.6V416.8M90.8 422.6V420.7M297.7 422.6V420.8M226.0 422.6V410.9M231.6 422.6V417.7M248.8 422.6V414.4M146.3 422.6V420.8M150.4 422.6V417.0M127.8 422.6V419.8M189.2 422.6V419.9M234.1 422.6V411.2M206.8 422.6V414.1M131.9 422.6V412.2M286.1 422.6V420.8M78.4 422.6V419.3M135.8 422.6V420.8M114.7 422.6V413.7M195.3 422.6V416.9M197.0 422.6V420.8M317.1 422.6V411.2M184.7 422.6V410.5M240.5 422.6V419.3M103.4 422.6V410.0M83.8 422.6V419.3M154.5 422.6V415.4M169.3 422.6V420.8M170.7 422.6V420.8M219.4 422.6V411.3M238.4 422.6V410.7M213.7 422.6V417.9M215.2 422.6V420.8M152.0 422.6V418.9M207.7 422.6V412.1M248.6 422.6V419.9M317.3 422.6V417.3M92.4 422.6V418.4M147.2 422.6V419.5M225.1 422.6V413.3M252.8 422.6V410.9M215.4 422.6V420.8M218.9 422.6V412.6M156.2 422.6V410.3M91.9 422.6V417.2M130.1 422.6V417.6M133.1 422.6V418.3M120.7 422.6V411.5M301.4 422.6V418.4M116.5 422.6V418.0M124.7 422.6V411.5M282.3 422.6V420.8M110.3 422.6V416.8M137.6 422.6V420.8M117.2 422.6V420.8M287.6 422.6V420.7M92.2 422.6V420.2M81.0 422.6V414.5M262.8 422.6V418.2M316.8 422.6V411.5M217.6 422.6V420.7M259.3 422.6V420.8M309.9 422.6V414.4M240.8 422.6V420.8M273.1 422.6V414.4M306.7 422.6V419.2M166.5 422.6V412.6M179.0 422.6V416.4M260.1 422.6V420.6M213.9 422.6V414.0M316.5 422.6V420.4M157.7 422.6V419.0M115.3 422.6V420.8M237.4 422.6V415.2M177.3 422.6V420.7M174.2 422.6V420.8M228.5 422.6V420.8M142.2 422.6V420.8M198.3 422.6V411.6M243.0 422.6V420.8M108.3 422.6V416.4M96.2 422.6V417.5M83.6 422.6V420.8M292.1 422.6V419.5M153.6 422.6V420.8M254.6 422.6V418.0M250.6 422.6V420.8M168.9 422.6V420.0M76.6 422.6V419.2M204.5 422.6V418.6M252.3 422.6V419.1M190.8 422.6V420.6M174.3 422.6V420.5M180.6 422.6V416.6M192.8 422.6V420.5M259.9 422.6V420.7M279.8 422.6V412.4M124.4 422.6V420.6M212.2 422.6V420.8M200.5 422.6V418.7M268.7 422.6V420.6M259.2 422.6V420.8M202.3 422.6V419.3M166.3 422.6V418.8M157.3 422.6V415.8M239.4 422.6V420.8M179.3 422.6V420.2M236.3 422.6V413.5M267.0 422.6V412.1M302.6 422.6V418.0M79.3 422.6V415.8M291.9 422.6V411.8M180.6 422.6V420.8M196.4 422.6V420.7M147.4 422.6V420.6M282.0 422.6V410.5M278.1 422.6V417.5M291.7 422.6V411.8M178.7 422.6V419.7M147.8 422.6V420.6M275.6 422.6V420.0M175.0 422.6V412.9M220.8 422.6V420.8M227.2 422.6V420.8" stroke="#9c6a00" stroke-width="0.6" stroke-opacity="0.35"/>
<path d="M197.6 422.6V420.0M266.5 422.6V418.0M186.1 422.6V416.1M297.6 422.6V419.2M246.5 422.6V420.3M308.8 422.6V420.5M234.9 422.6V419.3M99.0 422.6V420.4M172.6 422.6V420.3M203.7 422.6V412.9M262.4 422.6V414.6M186.5 422.6V420.2M84.6 422.6V418.0M175.2 422.6V417.0M150.9 422.6V419.9M231.5 422.6V414.1M185.5 422.6V415.9M80.7 422.6V418.5M289.6 422.6V420.5M265.9 422.6V419.0M95.6 422.6V417.4M315.6 422.6V419.4M107.0 422.6V418.3M89.4 422.6V413.2M230.0 422.6V418.7M92.8 422.6V419.4M74.5 422.6V420.4M193.6 422.6V419.8M191.9 422.6V416.9M85.5 422.6V413.7M229.0 422.6V418.2M83.8 422.6V413.5M167.9 422.6V420.0M247.2 422.6V418.7M125.1 422.6V420.4M290.5 422.6V415.4M313.4 422.6V416.9M181.2 422.6V414.0M91.9 422.6V418.9M287.9 422.6V418.3M271.0 422.6V415.9M146.9 422.6V413.4M82.2 422.6V416.0M77.3 422.6V420.4M83.6 422.6V420.2M213.1 422.6V419.2M214.6 422.6V414.2M156.6 422.6V420.5M296.4 422.6V413.1M312.5 422.6V414.2M208.9 422.6V420.4M302.8 422.6V413.5M163.0 422.6V420.3M87.6 422.6V419.2M131.5 422.6V419.6M159.5 422.6V415.6M175.7 422.6V420.3M221.2 422.6V418.7M92.9 422.6V418.8M146.4 422.6V420.0M295.9 422.6V412.8M195.3 422.6V414.4M178.4 422.6V414.8M200.1 422.6V419.8M152.3 422.6V414.3M288.3 422.6V413.8M302.3 422.6V420.0M81.8 422.6V416.9M219.3 422.6V419.6M135.1 422.6V416.4M265.6 422.6V420.3M155.3 422.6V419.7M143.6 422.6V416.0M78.9 422.6V419.6M270.1 422.6V420.5M181.0 422.6V413.2M314.9 422.6V416.7M267.4 422.6V417.5M175.5 422.6V420.5M194.1 422.6V420.5M97.0 422.6V418.5M295.5 422.6V419.3M200.7 422.6V420.4M226.1 422.6V414.1M317.0 422.6V420.5M133.4 422.6V418.8M191.5 422.6V414.0M252.2 422.6V417.8M117.7 422.6V417.0M197.7 422.6V416.9M74.6 422.6V419.4M154.7 422.6V419.2M199.6 422.6V415.7M204.3 422.6V420.2M193.8 422.6V418.0M86.5 422.6V417.9M213.0 422.6V417.3M240.4 422.6V416.1M95.7 422.6V419.7M141.4 422.6V417.4M293.7 422.6V419.5M267.5 422.6V420.5M136.6 422.6V418.2M295.5 422.6V416.4M294.5 422.6V413.4M140.7 422.6V413.7M114.1 422.6V417.9M124.6 422.6V420.4M153.7 422.6V416.7M245.1 422.6V420.3M160.7 422.6V413.3M221.0 422.6V415.4M320.9 422.6V420.4M86.9 422.6V415.3M275.3 422.6V419.7M273.9 422.6V416.8M157.0 422.6V416.8M268.7 422.6V418.5M207.3 422.6V420.2M92.9 422.6V420.5M270.3 422.6V412.9M274.3 422.6V414.7M189.5 422.6V420.4" stroke="#9c6a00" stroke-width="0.6" stroke-opacity="0.85"/>
<path d="M75.2 422.6V396.35" stroke="#9c6a00" stroke-width="1.2" stroke-opacity="0.9"/>
<path d="M76.2 422.6V406.85" stroke="#9c6a00" stroke-width="1" stroke-opacity="0.9"/>
<path d="M77.2 422.6V412.1" stroke="#9c6a00" stroke-width="0.7" stroke-opacity="0.9"/>
<path d="M158.9 422.6V398.1" stroke="#9c6a00" stroke-width="1" stroke-opacity="0.35"/>
<path d="M240.8 422.6V387.6" stroke="#9c6a00" stroke-width="2" stroke-opacity="1"/>
<path d="M299.3 422.6V405.1" stroke="#9c6a00" stroke-width="0.7" stroke-opacity="0.7"/>
<path d="M320.2 422.6V406.85" stroke="#9c6a00" stroke-width="0.7" stroke-opacity="0.7"/>
<path d="M339 422.6V420.2h.5V417.7h.5V415.4h.5V418.6h.5V418.9h.5V420.5h.5V417.9h.5V420.2h.5V420.2h.5V420.1h.5V419.9h.5V415.8h.5V420.4h.5V419.4h.5V419.6h.5V419.4h.5V420.3h.5V420.6h.5V416.7h.5V420.5h.5V418.9h.5V419.9h.5V420.5h.5V418.8h.5V420.4h.5V417.4h.5V420.4h.5V420.4h.5V418.3h.5V418.5h.5V420.6h.5V420.6h.5V417.1h.5V420.3h.5V419.0h.5V420.6h.5V420.0h.5V420.5h.5V420.5h.5V420.5h.5V419.2h.5V419.6h.5V420.2h.5V416.1h.5V419.1h.5V417.0h.5V418.9h.5V420.5h.5V419.3h.5V420.4h.5V415.3h.5V420.5h.5V420.3h.5V420.6h.5V419.8h.5V417.6h.5V420.5h.5V419.9h.5V420.3h.5V420.3h.5V420.6h.5V419.8h.5V417.5h.5V414.7h.5V419.4h.5V415.4h.5V420.0h.5V420.0h.5V420.0h.5V420.4h.5V419.5h.5V416.0h.5V417.6h.5V415.8h.5V420.4h.5V419.9h.5V420.1h.5V420.5h.5V420.0h.5V416.1h.5V417.8h.5V415.8h.5V420.6h.5V420.4h.5V420.5h.5V420.6h.5V420.6h.5V418.8h.5V420.6h.5V419.9h.5V416.4h.5V416.1h.5V420.6h.5V420.2h.5V417.5h.5V420.2h.5V420.3h.5V419.2h.5V419.0h.5V420.5h.5V420.2h.5V420.3h.5V415.6h.5V415.1h.5V420.0h.5V416.9h.5V420.5h.5V420.6h.5V420.2h.5V418.2h.5V420.4h.5V419.7h.5V420.1h.5V420.2h.5V420.2h.5V420.6h.5V415.6h.5V418.8h.5V420.5h.5V416.2h.5V420.6h.5V414.7h.5V420.2h.5V420.1h.5V420.4h.5V420.3h.5V419.8h.5V420.2h.5V420.5h.5V420.0h.5V416.4h.5V420.0h.5V419.5h.5V419.9h.5V420.2h.5V419.5h.5V420.0h.5V420.2h.5V420.6h.5V420.1h.5V416.5h.5V418.6h.5V418.3h.5V420.0h.5V417.0h.5V420.6h.5V419.1h.5V420.1h.5V416.4h.5V420.3h.5V419.8h.5V420.5h.5V420.5h.5V414.6h.5V420.4h.5V414.7h.5V417.2h.5V419.7h.5V420.1h.5V415.1h.5V419.8h.5V420.5h.5V420.5h.5V420.5h.5V417.2h.5V416.8h.5V420.2h.5V420.5h.5V420.5h.5V417.3h.5V420.5h.5V420.0h.5V420.3h.5V414.9h.5V420.6h.5V418.9h.5V419.1h.5V418.0h.5V418.1h.5V419.9h.5V417.3h.5V420.0h.5V417.1h.5V416.6h.5V416.7h.5V420.5h.5V420.0h.5V417.1h.5V420.6h.5V420.6h.5V415.5h.5V420.0h.5V420.5h.5V420.6h.5V420.0h.5V420.1h.5V419.9h.5V420.6h.5V420.1h.5V420.6h.5V420.5h.5V420.5h.5V419.9h.5V420.6h.5V420.1h.5V420.2h.5V419.7h.5V420.5h.5V418.4h.5V419.9h.5V420.1h.5V415.9h.5V418.6h.5V420.6h.5V415.8h.5V419.8h.5V420.2h.5V419.8h.5V418.5h.5V420.6h.5V420.0h.5V420.3h.5V414.9h.5V416.5h.5V420.0h.5V419.2h.5V420.3h.5V414.8h.5V418.6h.5V420.3h.5V420.5h.5V418.5h.5V420.5h.5V420.1h.5V420.1h.5V416.1h.5V416.0h.5V419.6h.5V420.5h.5V418.5h.5V420.4h.5V420.6h.5V418.3h.5V420.5h.5V418.4h.5V416.0h.5V418.5h.5V419.9h.5V419.8h.5V420.2h.5V419.9h.5V415.9h.5V419.6h.5V420.3h.5V420.4h.5V420.3h.5V420.4h.5V420.1h.5V419.7h.5V420.5h.5V420.5h.5V419.2h.5V420.5h.5V418.9h.5V420.3h.5V417.3h.5V420.5h.5V420.5h.5V420.3h.5V419.4h.5V420.5h.5V420.5h.5V416.9h.5V418.2h.5V418.3h.5V415.1h.5V419.8h.5V419.5h.5V416.9h.5V420.2h.5V420.4h.5V417.8h.5V418.6h.5V417.1h.5V419.6h.5V420.0h.5V418.1h.5V414.8h.5V418.5h.5V419.3h.5V419.7h.5V420.1h.5V420.4h.5V419.0h.5V419.7h.5V420.3h.5V418.5h.5V420.0h.5V420.6h.5V420.0h.5V420.6h.5V418.6h.5V417.7h.5V418.4h.5V418.4h.5V419.9h.5V420.6h.5V417.3h.5V418.5h.5V419.6h.5V417.4h.5V419.2h.5V419.0h.5V416.6h.5V420.2h.5V420.0h.5V420.5h.5V420.2h.5V417.4h.5V418.5h.5V418.1h.5V420.0h.5V417.1h.5V419.4h.5V420.2h.5V419.9h.5V420.6h.5V417.6h.5V417.7h.5V417.0h.5V419.8h.5V417.5h.5V420.4h.5V420.5h.5V420.6h.5V420.0h.5V420.1h.5V420.4h.5V420.1h.5V419.3h.5V420.2h.5V420.6h.5V420.4h.5V418.3h.5V415.3h.5V420.6h.5V418.7h.5V417.3h.5V420.4h.5V419.8h.5V420.5h.5V420.2h.5V420.5h.5V419.8h.5V420.3h.5V420.6h.5V419.9h.5V417.6h.5V419.1h.5V420.6h.5V418.0h.5V415.3h.5V420.6h.5V420.4h.5V420.5h.5V420.3h.5V419.9h.5V417.2h.5V420.1h.5V418.6h.5V418.4h.5V416.0h.5V420.2h.5V420.2h.5V420.5h.5V420.2h.5V417.6h.5V420.5h.5V420.3h.5V418.0h.5V419.9h.5V420.1h.5V420.6h.5V420.6h.5V420.4h.5V420.6h.5V420.4h.5V420.2h.5V418.7h.5V419.7h.5V420.5h.5V415.1h.5V418.2h.5V420.6h.5V420.0h.5V420.5h.5V418.2h.5V420.0h.5V418.1h.5V420.4h.5V417.9h.5V420.3h.5V422.6Z" fill="#b07866"/>
<path d="M488.1 422.6V419.9M414.2 422.6V420.8M394.7 422.6V415.0M342.0 422.6V418.4M397.0 422.6V416.7M387.9 422.6V418.8M469.8 422.6V411.3M366.7 422.6V418.5M463.0 422.6V420.8M366.0 422.6V420.5M421.8 422.6V420.8M382.0 422.6V419.1M498.5 422.6V410.6M519.1 422.6V420.8M357.7 422.6V417.8M443.2 422.6V420.8M440.7 422.6V411.4M435.3 422.6V419.1M406.0 422.6V417.1M531.8 422.6V417.6M408.4 422.6V416.0M446.8 422.6V417.3M420.0 422.6V420.8M491.8 422.6V420.1M352.1 422.6V419.7M382.4 422.6V415.7M343.5 422.6V413.5M457.0 422.6V420.8M486.1 422.6V419.4M458.6 422.6V420.2M369.3 422.6V419.9M457.2 422.6V410.1M472.4 422.6V418.5M489.1 422.6V415.0M415.4 422.6V420.8M514.5 422.6V420.7M372.6 422.6V420.1M479.0 422.6V419.3M422.2 422.6V420.7M495.1 422.6V415.3M465.0 422.6V412.1M346.4 422.6V413.8M494.7 422.6V418.8M415.3 422.6V410.1M497.7 422.6V410.9M346.6 422.6V415.2M394.1 422.6V420.8M503.6 422.6V412.3M496.9 422.6V418.1M453.3 422.6V420.8M472.4 422.6V420.2M503.6 422.6V420.8M378.0 422.6V420.3M445.8 422.6V420.1M415.2 422.6V418.7M369.1 422.6V418.2M342.9 422.6V419.2M459.4 422.6V418.3M342.6 422.6V418.3M520.6 422.6V419.7M392.9 422.6V413.6M507.9 422.6V414.1M432.5 422.6V420.5M362.4 422.6V417.0M369.4 422.6V416.6M366.9 422.6V419.1M469.0 422.6V416.7M401.5 422.6V417.5M518.9 422.6V414.9M429.5 422.6V420.8M355.7 422.6V420.6M344.7 422.6V416.3M465.5 422.6V420.8M533.0 422.6V419.0M519.5 422.6V420.6M473.1 422.6V411.2M478.0 422.6V420.3M526.7 422.6V420.0M418.3 422.6V418.7M395.7 422.6V412.5M433.3 422.6V420.8M404.4 422.6V415.0M519.8 422.6V420.8M488.1 422.6V412.9M339.5 422.6V418.1M520.5 422.6V417.0M526.7 422.6V415.8M388.6 422.6V413.1M437.1 422.6V420.8M418.0 422.6V420.8M516.8 422.6V420.8M515.8 422.6V420.7M354.0 422.6V416.4M452.6 422.6V418.2M399.7 422.6V419.6M423.0 422.6V411.8M448.7 422.6V412.7M450.9 422.6V419.9M366.3 422.6V418.5M473.2 422.6V420.8M411.6 422.6V416.4M395.0 422.6V410.4M451.6 422.6V415.0M377.4 422.6V413.4M408.8 422.6V420.7M428.2 422.6V420.6M430.0 422.6V411.8M417.7 422.6V420.6M485.1 422.6V419.8M456.8 422.6V414.1M391.1 422.6V420.5M361.5 422.6V416.6M353.2 422.6V411.5M352.1 422.6V413.1M495.7 422.6V415.0M535.7 422.6V419.7M480.2 422.6V417.6M339.1 422.6V418.1M472.9 422.6V420.1M395.3 422.6V420.8M345.3 422.6V420.7M349.7 422.6V420.8M400.6 422.6V418.5M481.8 422.6V420.7M524.3 422.6V413.2M430.6 422.6V420.8M451.7 422.6V420.8M364.5 422.6V417.3M409.3 422.6V411.6M461.6 422.6V416.1M509.2 422.6V418.6M420.2 422.6V416.7M359.7 422.6V420.6M359.0 422.6V414.6M463.8 422.6V420.6M515.6 422.6V420.7M379.7 422.6V420.0M495.7 422.6V417.3M538.7 422.6V415.3M496.5 422.6V415.6M488.6 422.6V418.3M530.9 422.6V415.3M441.8 422.6V417.2M436.8 422.6V419.9M473.0 422.6V413.5M470.3 422.6V420.8M417.0 422.6V419.4M536.7 422.6V420.2M396.5 422.6V420.8M345.4 422.6V419.8M423.0 422.6V417.9M347.3 422.6V410.9M507.0 422.6V420.7M429.2 422.6V415.5M360.0 422.6V420.5M385.2 422.6V418.1M487.6 422.6V414.1M410.5 422.6V420.8M358.9 422.6V419.7M357.5 422.6V420.2M497.9 422.6V418.8M399.1 422.6V419.4M507.7 422.6V409.9M478.5 422.6V420.8M503.2 422.6V412.5M428.9 422.6V420.7M475.1 422.6V413.9M535.8 422.6V413.7M385.9 422.6V420.7M528.9 422.6V412.8M475.0 422.6V420.8M363.5 422.6V417.7M531.5 422.6V415.4M454.0 422.6V417.5M433.6 422.6V413.3M432.9 422.6V412.3M427.2 422.6V418.9M537.5 422.6V416.5M428.6 422.6V420.8M423.4 422.6V420.5M421.4 422.6V420.8M421.2 422.6V419.7M501.7 422.6V420.0M487.7 422.6V417.6M459.8 422.6V414.3M515.7 422.6V420.7M395.4 422.6V420.8M455.9 422.6V420.8M397.7 422.6V412.0M419.4 422.6V419.5M393.8 422.6V414.4M441.6 422.6V418.7M511.7 422.6V420.7M342.9 422.6V412.2M497.3 422.6V415.2M500.4 422.6V418.3M357.8 422.6V420.6M481.6 422.6V420.7M459.6 422.6V419.5M524.9 422.6V414.8M410.4 422.6V420.8M448.3 422.6V416.9M346.0 422.6V418.8M368.0 422.6V420.0M488.9 422.6V411.6M359.4 422.6V419.9M442.0 422.6V411.1M518.3 422.6V414.2M370.5 422.6V415.0M474.7 422.6V420.8M421.8 422.6V418.5M376.5 422.6V420.7M421.0 422.6V420.8M406.2 422.6V418.4M393.3 422.6V418.4M518.2 422.6V418.9M416.2 422.6V416.2M516.5 422.6V420.8M505.1 422.6V411.9M522.5 422.6V420.6M518.9 422.6V420.0M409.4 422.6V420.2M497.6 422.6V416.9M368.6 422.6V420.1M455.4 422.6V413.5M461.1 422.6V416.5M400.9 422.6V413.1M462.6 422.6V417.4M395.8 422.6V417.8M402.9 422.6V419.5M528.0 422.6V419.1M377.2 422.6V419.4M384.8 422.6V415.8M381.5 422.6V415.8M432.1 422.6V419.4M455.8 422.6V410.2M458.1 422.6V420.5M403.3 422.6V420.7M466.2 422.6V411.9M351.3 422.6V420.3" stroke="#b07866" stroke-width="0.6" stroke-opacity="0.35"/>
<path d="M361.9 422.6V418.3M506.9 422.6V420.3M505.2 422.6V419.3M446.8 422.6V417.7M527.1 422.6V413.7M535.7 422.6V417.9M531.0 422.6V415.7M454.5 422.6V417.8M401.2 422.6V420.3M430.8 422.6V420.0M339.4 422.6V413.8M381.3 422.6V413.3M439.6 422.6V420.0M419.0 422.6V420.4M450.0 422.6V419.8M339.5 422.6V420.1M422.9 422.6V414.0M383.2 422.6V415.2M427.1 422.6V419.6M417.5 422.6V418.5M403.4 422.6V417.6M490.8 422.6V414.5M423.1 422.6V417.9M368.8 422.6V418.4M516.0 422.6V420.2M354.1 422.6V420.5M389.6 422.6V419.4M448.9 422.6V419.3M536.6 422.6V418.0M515.1 422.6V420.1M388.4 422.6V418.3M339.9 422.6V416.6M402.9 422.6V416.6M442.3 422.6V415.0M379.7 422.6V413.7M535.8 422.6V419.2M454.9 422.6V420.5M451.5 422.6V419.1M495.2 422.6V416.3M480.5 422.6V413.0M343.0 422.6V419.6M461.9 422.6V414.1M403.0 422.6V415.8M502.3 422.6V418.7M479.1 422.6V416.2M472.4 422.6V415.0M350.6 422.6V415.2M349.6 422.6V417.8M411.1 422.6V418.4M508.0 422.6V419.9M440.0 422.6V416.1M446.4 422.6V418.1M462.0 422.6V413.2M355.3 422.6V419.1M502.4 422.6V420.5M495.1 422.6V419.5M374.7 422.6V416.0M476.6 422.6V416.4M489.2 422.6V416.2M538.0 422.6V414.9M352.2 422.6V420.4M469.1 422.6V419.6M406.0 422.6V414.1M387.8 422.6V419.2M533.5 422.6V417.0M459.3 422.6V420.2M500.3 422.6V419.2M531.3 422.6V419.5M417.1 422.6V419.2M522.0 422.6V416.3M460.9 422.6V420.5M370.5 422.6V419.6M484.1 422.6V419.6M409.9 422.6V419.1M341.9 422.6V415.4M400.0 422.6V413.3M521.5 422.6V417.8M458.7 422.6V416.6M351.4 422.6V412.9M459.7 422.6V418.1M479.7 422.6V417.9M504.8 422.6V418.4M403.8 422.6V420.3M398.5 422.6V419.4M403.9 422.6V418.2M461.6 422.6V419.6M432.8 422.6V416.8M539.5 422.6V420.2M352.0 422.6V416.8M495.7 422.6V416.2M407.1 422.6V420.5M412.1 422.6V415.2M382.7 422.6V417.1M409.5 422.6V414.2M341.9 422.6V417.7M396.8 422.6V416.4M446.3 422.6V419.1M537.0 422.6V418.9M469.0 422.6V417.4M402.2 422.6V417.9" stroke="#b07866" stroke-width="0.6" stroke-opacity="0.85"/>
<path d="M409.8 422.6V387.6" stroke="#b07866" stroke-width="1.3" stroke-opacity="1"/>
<path d="M411.7 422.6V387.6" stroke="#b07866" stroke-width="1.3" stroke-opacity="1"/>
<path d="M410.75 422.6V387.6" stroke="#b07866" stroke-width="0.8" stroke-opacity="0.45"/>
<path d="M365.6 422.6V408.6" stroke="#b07866" stroke-width="0.7" stroke-opacity="0.5"/>
<path d="M374.7 422.6V408.6" stroke="#b07866" stroke-width="0.7" stroke-opacity="0.5"/>
<path d="M417.2 422.6V399.85" stroke="#b07866" stroke-width="0.7" stroke-opacity="0.6"/>
<path d="M422.5 422.6V403.35" stroke="#b07866" stroke-width="0.7" stroke-opacity="0.6"/>
<path d="M433.2 422.6V398.1" stroke="#b07866" stroke-width="0.7" stroke-opacity="0.6"/>
<path d="M435.4 422.6V401.6" stroke="#b07866" stroke-width="0.7" stroke-opacity="0.6"/>
<path d="M468.6 422.6V401.6" stroke="#b07866" stroke-width="0.7" stroke-opacity="0.5"/>
<path d="M487.2 422.6V403.35" stroke="#b07866" stroke-width="0.7" stroke-opacity="0.6"/>
<path d="M507.6 422.6V405.1" stroke="#b07866" stroke-width="0.7" stroke-opacity="0.5"/>
<path d="M539.2 422.6V387.6" stroke="#b07866" stroke-width="1" stroke-opacity="1"/>
<path d="M390 422.6V410.35" stroke="#b07866" stroke-width="0.7" stroke-opacity="0.6"/>
<path d="M340 422.6V413.85" stroke="#b07866" stroke-width="0.7" stroke-opacity="0.8"/>
<path d="M556.2 422.6V419.8h.5V418.5h.5V420.6h.5V418.8h.5V420.3h.5V420.1h.5V419.9h.5V419.9h.5V417.0h.5V416.1h.5V419.6h.5V420.4h.5V416.1h.5V420.4h.5V419.9h.5V420.6h.5V420.2h.5V420.1h.5V420.0h.5V420.2h.5V420.0h.5V417.3h.5V420.6h.5V420.5h.5V416.8h.5V416.7h.5V416.5h.5V420.2h.5V419.7h.5V418.7h.5V420.6h.5V420.3h.5V418.6h.5V420.0h.5V417.7h.5V419.8h.5V419.8h.5V418.5h.5V420.6h.5V415.6h.5V418.6h.5V420.5h.5V420.3h.5V420.1h.5V419.6h.5V418.9h.5V417.7h.5V420.6h.5V415.4h.5V419.9h.5V420.5h.5V420.4h.5V420.6h.5V420.6h.5V415.2h.5V419.9h.5V420.5h.5V420.0h.5V417.8h.5V420.6h.5V420.5h.5V420.1h.5V417.0h.5V420.2h.5V420.1h.5V416.4h.5V420.1h.5V418.2h.5V417.8h.5V415.5h.5V420.0h.5V418.7h.5V418.2h.5V419.3h.5V416.1h.5V416.2h.5V419.8h.5V420.2h.5V417.0h.5V420.4h.5V420.4h.5V420.6h.5V420.3h.5V420.2h.5V417.2h.5V420.6h.5V420.5h.5V419.0h.5V415.6h.5V419.0h.5V415.1h.5V420.2h.5V420.6h.5V420.4h.5V418.6h.5V419.2h.5V419.9h.5V419.9h.5V419.3h.5V415.0h.5V420.6h.5V420.0h.5V420.4h.5V418.8h.5V419.1h.5V420.3h.5V419.9h.5V420.6h.5V417.5h.5V417.6h.5V419.3h.5V420.3h.5V419.0h.5V419.2h.5V419.8h.5V420.0h.5V418.3h.5V419.8h.5V419.5h.5V417.6h.5V420.0h.5V420.0h.5V419.0h.5V420.6h.5V420.4h.5V420.3h.5V419.9h.5V420.5h.5V420.6h.5V419.7h.5V415.5h.5V420.6h.5V417.6h.5V420.6h.5V417.3h.5V420.5h.5V420.2h.5V420.6h.5V419.9h.5V419.7h.5V420.0h.5V420.1h.5V418.7h.5V415.8h.5V418.6h.5V420.0h.5V420.6h.5V419.1h.5V420.3h.5V420.5h.5V419.5h.5V416.7h.5V415.8h.5V419.2h.5V416.5h.5V418.4h.5V420.2h.5V417.8h.5V418.3h.5V419.9h.5V420.6h.5V420.3h.5V419.2h.5V418.8h.5V417.2h.5V419.9h.5V420.4h.5V419.7h.5V419.2h.5V416.3h.5V420.4h.5V417.7h.5V420.2h.5V418.8h.5V420.5h.5V420.3h.5V415.4h.5V420.4h.5V420.5h.5V420.3h.5V419.9h.5V420.4h.5V420.1h.5V415.6h.5V416.2h.5V415.4h.5V416.2h.5V420.6h.5V419.5h.5V420.0h.5V419.8h.5V420.0h.5V420.3h.5V420.5h.5V419.5h.5V416.5h.5V420.1h.5V420.0h.5V420.6h.5V420.0h.5V419.0h.5V420.1h.5V417.6h.5V420.6h.5V420.1h.5V420.4h.5V415.1h.5V420.2h.5V420.2h.5V419.3h.5V420.6h.5V420.2h.5V416.8h.5V420.6h.5V420.0h.5V417.1h.5V420.5h.5V414.7h.5V418.9h.5V419.8h.5V420.4h.5V419.8h.5V420.6h.5V420.4h.5V419.3h.5V420.5h.5V416.5h.5V415.5h.5V420.5h.5V417.6h.5V419.3h.5V420.6h.5V416.1h.5V420.2h.5V420.5h.5V418.1h.5V420.3h.5V414.6h.5V419.1h.5V420.4h.5V417.1h.5V415.4h.5V419.9h.5V420.0h.5V414.8h.5V419.5h.5V415.3h.5V418.0h.5V419.1h.5V416.2h.5V418.6h.5V417.2h.5V419.3h.5V420.4h.5V420.6h.5V416.8h.5V422.6Z" fill="#b07866"/>
<path d="M583.7 422.6V416.7M581.4 422.6V410.6M642.9 422.6V411.2M591.2 422.6V420.8M643.2 422.6V412.5M664.6 422.6V411.3M576.9 422.6V419.5M683.0 422.6V417.5M678.7 422.6V419.6M577.7 422.6V416.0M651.5 422.6V414.6M654.8 422.6V409.9M675.4 422.6V416.0M598.3 422.6V418.8M566.6 422.6V419.4M601.7 422.6V419.8M659.9 422.6V420.8M608.9 422.6V419.8M598.7 422.6V416.2M630.2 422.6V412.4M654.1 422.6V414.7M670.8 422.6V411.2M631.9 422.6V420.4M585.5 422.6V417.0M637.5 422.6V420.6M683.5 422.6V417.7M557.6 422.6V420.3M637.6 422.6V420.3M633.5 422.6V417.9M678.7 422.6V420.8M559.0 422.6V420.2M660.9 422.6V419.7M608.8 422.6V413.2M680.5 422.6V413.8M667.8 422.6V418.1M611.8 422.6V419.5M568.1 422.6V419.3M557.8 422.6V418.8M608.2 422.6V420.8M627.7 422.6V419.7M632.3 422.6V412.5M671.4 422.6V419.7M629.3 422.6V410.5M682.0 422.6V420.3M591.0 422.6V420.7M678.5 422.6V418.3M585.6 422.6V412.7M669.0 422.6V420.2M630.1 422.6V419.7M662.4 422.6V411.1M671.8 422.6V420.4M562.0 422.6V420.6M626.0 422.6V415.0M621.4 422.6V412.7M602.4 422.6V418.4M616.9 422.6V413.6M629.4 422.6V419.0M603.3 422.6V410.7M613.3 422.6V420.8M670.7 422.6V410.0M649.7 422.6V419.8M639.8 422.6V420.8M575.8 422.6V419.9M586.9 422.6V418.5M646.7 422.6V417.6M610.7 422.6V413.2M601.1 422.6V420.7M665.5 422.6V418.6M566.6 422.6V416.2M564.4 422.6V414.0M610.6 422.6V417.7M653.7 422.6V416.7M678.0 422.6V419.9M583.0 422.6V414.8M677.6 422.6V417.1M575.4 422.6V417.9M585.1 422.6V419.0M670.6 422.6V420.4M680.3 422.6V416.7M633.4 422.6V420.7M609.2 422.6V412.2M639.8 422.6V411.8M654.9 422.6V411.7M595.6 422.6V420.3M572.9 422.6V420.8M645.8 422.6V419.5M580.8 422.6V420.2M589.3 422.6V419.6M627.2 422.6V410.5M623.2 422.6V410.3M654.5 422.6V417.9M623.1 422.6V420.7M625.4 422.6V420.1M556.4 422.6V419.6M564.2 422.6V418.7M617.0 422.6V420.7M672.7 422.6V419.1M598.2 422.6V417.0M569.4 422.6V419.2M626.5 422.6V420.7M572.5 422.6V420.7M665.6 422.6V416.9M666.8 422.6V417.4M629.3 422.6V419.1M597.7 422.6V418.5M577.4 422.6V410.9M615.5 422.6V420.5M665.2 422.6V411.9M579.8 422.6V412.5M670.8 422.6V418.2M598.5 422.6V420.8M639.9 422.6V418.1M670.8 422.6V416.6M667.8 422.6V416.1M645.0 422.6V410.9M607.1 422.6V409.8M630.8 422.6V420.4M662.8 422.6V414.9M588.0 422.6V418.8M577.8 422.6V414.8M650.1 422.6V416.1M587.3 422.6V420.7M625.9 422.6V419.1M588.3 422.6V411.8M637.6 422.6V419.4M645.9 422.6V420.6M653.8 422.6V420.7M630.3 422.6V416.7M605.4 422.6V410.5M682.0 422.6V417.0M581.8 422.6V420.5M659.1 422.6V419.7M604.9 422.6V418.4M599.3 422.6V420.8M596.7 422.6V419.7M598.9 422.6V420.8M657.6 422.6V412.2M575.7 422.6V415.3M646.0 422.6V414.8M660.5 422.6V419.7M599.6 422.6V413.7M649.8 422.6V419.1M614.0 422.6V417.3M573.6 422.6V420.7M630.9 422.6V417.5M651.0 422.6V420.8M656.2 422.6V420.8M593.2 422.6V420.8M578.5 422.6V416.6M651.4 422.6V412.5M667.3 422.6V412.2M583.8 422.6V418.2M579.0 422.6V416.5" stroke="#b07866" stroke-width="0.6" stroke-opacity="0.35"/>
<path d="M587.9 422.6V414.0M658.3 422.6V415.8M675.4 422.6V419.9M672.1 422.6V417.9M663.8 422.6V416.7M627.4 422.6V420.5M671.3 422.6V417.4M582.2 422.6V418.6M605.6 422.6V413.6M595.9 422.6V420.5M683.1 422.6V414.8M577.4 422.6V417.1M570.2 422.6V415.0M608.5 422.6V420.1M634.3 422.6V415.1M636.2 422.6V420.4M639.0 422.6V419.5M670.4 422.6V414.2M660.0 422.6V417.6M659.3 422.6V419.6M637.6 422.6V413.2M572.6 422.6V415.9M631.4 422.6V420.5M656.3 422.6V416.4M583.8 422.6V412.9M646.5 422.6V415.8M619.8 422.6V420.3M591.7 422.6V415.6M668.7 422.6V419.7M661.7 422.6V420.4M597.7 422.6V415.8M646.0 422.6V420.3M679.7 422.6V417.1M659.2 422.6V413.0M663.0 422.6V417.8M596.3 422.6V419.3M665.1 422.6V413.0M679.1 422.6V417.5M596.8 422.6V418.6M647.4 422.6V420.3M636.3 422.6V420.5M597.0 422.6V418.4M673.5 422.6V415.0M624.1 422.6V420.2M617.5 422.6V420.0M682.5 422.6V420.5M612.0 422.6V419.9M626.0 422.6V417.8M614.3 422.6V420.5M679.1 422.6V419.7M612.0 422.6V418.9M591.7 422.6V419.9M571.3 422.6V413.9M651.4 422.6V419.3M669.3 422.6V420.5M642.7 422.6V415.9M669.3 422.6V416.8M572.5 422.6V417.0M611.7 422.6V419.2M650.7 422.6V417.1M615.8 422.6V420.2M670.4 422.6V418.4M592.2 422.6V419.0" stroke="#b07866" stroke-width="0.6" stroke-opacity="0.85"/>
<path d="M612.6 422.6V387.6" stroke="#b07866" stroke-width="1.2" stroke-opacity="1"/>
<path d="M614.4 422.6V387.6" stroke="#b07866" stroke-width="1.1" stroke-opacity="0.9"/>
<path d="M615.6 422.6V391.1" stroke="#b07866" stroke-width="0.9" stroke-opacity="0.8"/>
<path d="M613.5 422.6V387.6" stroke="#b07866" stroke-width="0.8" stroke-opacity="0.45"/>
<path d="M556.8 422.6V387.6" stroke="#b07866" stroke-width="1" stroke-opacity="1"/>
<path d="M683.2 422.6V387.6" stroke="#b07866" stroke-width="1" stroke-opacity="1"/>
<path d="M575 422.6V396.35" stroke="#b07866" stroke-width="0.7" stroke-opacity="0.35"/>
<path d="M592.4 422.6V405.1" stroke="#b07866" stroke-width="0.7" stroke-opacity="0.5"/>
<path d="M605 422.6V410.35" stroke="#b07866" stroke-width="0.7" stroke-opacity="0.6"/>
<path d="M664 422.6V412.1" stroke="#b07866" stroke-width="0.7" stroke-opacity="0.6"/>
<line x1="74.5" y1="427.7" x2="74.5" y2="463.7" stroke="#9a9a9a" stroke-width="1"/>
<path d="M74.5 463.7V459.5h.5V458.4h.5V459.1h.5V459.5h.5V458.9h.5V458.6h.5V459.4h.5V457.5h.5V458.6h.5V457.1h.5V459.6h.5V459.5h.5V459.0h.5V459.1h.5V459.1h.5V459.7h.5V459.4h.5V459.6h.5V457.7h.5V458.3h.5V459.4h.5V459.7h.5V458.5h.5V457.5h.5V458.4h.5V459.0h.5V457.1h.5V459.6h.5V458.9h.5V458.8h.5V459.4h.5V457.9h.5V457.5h.5V459.7h.5V459.7h.5V459.4h.5V459.4h.5V458.0h.5V459.5h.5V459.4h.5V458.9h.5V459.0h.5V459.6h.5V458.9h.5V458.5h.5V458.4h.5V457.9h.5V458.6h.5V457.7h.5V459.5h.5V459.4h.5V457.9h.5V459.1h.5V459.7h.5V459.4h.5V457.9h.5V459.7h.5V459.7h.5V459.6h.5V459.5h.5V459.1h.5V459.1h.5V458.1h.5V459.6h.5V458.4h.5V459.3h.5V459.1h.5V459.7h.5V459.6h.5V459.5h.5V459.1h.5V459.3h.5V459.3h.5V457.6h.5V458.3h.5V457.9h.5V457.8h.5V458.6h.5V457.1h.5V459.4h.5V459.6h.5V458.7h.5V459.7h.5V459.7h.5V458.4h.5V459.5h.5V459.4h.5V459.0h.5V459.6h.5V459.6h.5V459.6h.5V459.2h.5V457.7h.5V459.6h.5V457.4h.5V457.5h.5V459.1h.5V457.6h.5V458.1h.5V459.6h.5V457.9h.5V459.7h.5V459.7h.5V457.6h.5V457.9h.5V459.1h.5V458.7h.5V459.5h.5V458.3h.5V459.5h.5V457.6h.5V458.6h.5V459.7h.5V459.7h.5V458.9h.5V459.3h.5V458.1h.5V459.7h.5V458.8h.5V459.6h.5V459.4h.5V458.5h.5V459.0h.5V458.8h.5V459.4h.5V458.6h.5V459.5h.5V459.1h.5V459.6h.5V458.7h.5V459.7h.5V459.7h.5V459.6h.5V459.7h.5V459.7h.5V459.7h.5V458.8h.5V459.0h.5V457.3h.5V459.7h.5V459.7h.5V459.2h.5V458.8h.5V459.5h.5V459.4h.5V459.6h.5V459.7h.5V458.6h.5V459.4h.5V458.3h.5V459.7h.5V457.8h.5V457.2h.5V459.7h.5V459.3h.5V457.5h.5V459.5h.5V458.6h.5V459.1h.5V459.7h.5V459.4h.5V459.3h.5V459.6h.5V459.2h.5V459.7h.5V459.7h.5V459.2h.5V459.5h.5V458.5h.5V459.6h.5V458.0h.5V459.7h.5V459.3h.5V459.6h.5V459.3h.5V459.2h.5V459.3h.5V459.3h.5V458.9h.5V457.2h.5V459.1h.5V458.5h.5V459.7h.5V459.0h.5V458.6h.5V459.6h.5V459.5h.5V459.0h.5V458.7h.5V458.1h.5V459.4h.5V457.1h.5V457.3h.5V458.6h.5V457.3h.5V459.3h.5V459.4h.5V458.5h.5V457.1h.5V457.9h.5V458.6h.5V458.6h.5V459.5h.5V459.0h.5V459.7h.5V457.6h.5V459.6h.5V459.7h.5V457.1h.5V458.0h.5V459.7h.5V459.5h.5V459.7h.5V459.6h.5V458.3h.5V459.6h.5V459.5h.5V459.4h.5V459.2h.5V459.7h.5V458.1h.5V459.5h.5V459.3h.5V458.5h.5V458.4h.5V459.7h.5V459.4h.5V459.4h.5V459.6h.5V458.9h.5V459.6h.5V459.7h.5V459.4h.5V459.0h.5V457.4h.5V459.7h.5V457.6h.5V458.2h.5V459.5h.5V459.6h.5V459.4h.5V459.7h.5V459.0h.5V458.1h.5V459.4h.5V459.5h.5V457.8h.5V459.0h.5V459.7h.5V459.0h.5V458.1h.5V457.3h.5V458.6h.5V457.9h.5V458.2h.5V459.0h.5V458.6h.5V459.5h.5V459.6h.5V459.7h.5V459.6h.5V459.7h.5V459.6h.5V458.9h.5V457.7h.5V459.5h.5V458.0h.5V457.4h.5V458.1h.5V457.2h.5V457.6h.5V458.9h.5V458.3h.5V458.1h.5V457.2h.5V458.1h.5V457.5h.5V459.3h.5V459.2h.5V459.6h.5V458.8h.5V457.3h.5V457.7h.5V459.6h.5V459.2h.5V459.7h.5V457.2h.5V459.7h.5V458.8h.5V459.7h.5V459.3h.5V457.6h.5V458.7h.5V458.1h.5V457.3h.5V457.7h.5V459.5h.5V457.7h.5V458.4h.5V459.5h.5V458.9h.5V459.6h.5V459.3h.5V458.9h.5V458.3h.5V458.1h.5V458.5h.5V459.4h.5V458.1h.5V459.6h.5V459.6h.5V457.9h.5V459.3h.5V458.1h.5V459.7h.5V458.8h.5V459.7h.5V459.1h.5V459.6h.5V458.9h.5V458.6h.5V457.2h.5V459.2h.5V459.4h.5V459.4h.5V457.6h.5V459.7h.5V459.5h.5V459.7h.5V458.9h.5V459.2h.5V459.6h.5V459.1h.5V457.1h.5V458.8h.5V459.6h.5V459.6h.5V458.3h.5V459.4h.5V459.1h.5V459.4h.5V458.0h.5V459.3h.5V458.0h.5V457.3h.5V459.7h.5V459.7h.5V459.7h.5V459.4h.5V457.6h.5V458.0h.5V459.6h.5V458.1h.5V458.2h.5V457.9h.5V459.3h.5V457.8h.5V459.7h.5V459.6h.5V459.0h.5V459.3h.5V459.3h.5V459.7h.5V458.2h.5V459.5h.5V459.4h.5V459.6h.5V457.9h.5V457.4h.5V458.7h.5V459.2h.5V459.4h.5V457.4h.5V458.7h.5V459.4h.5V459.7h.5V459.4h.5V459.1h.5V458.2h.5V459.2h.5V459.1h.5V458.1h.5V459.7h.5V459.3h.5V459.6h.5V459.0h.5V458.9h.5V458.4h.5V459.6h.5V459.5h.5V458.1h.5V458.1h.5V457.7h.5V459.6h.5V459.6h.5V459.0h.5V459.7h.5V457.5h.5V457.6h.5V459.7h.5V457.8h.5V457.9h.5V459.7h.5V459.7h.5V458.1h.5V459.7h.5V459.7h.5V458.7h.5V459.4h.5V459.4h.5V457.2h.5V458.0h.5V458.7h.5V458.8h.5V459.7h.5V458.4h.5V459.6h.5V459.2h.5V459.1h.5V459.7h.5V458.9h.5V459.6h.5V459.0h.5V459.2h.5V458.6h.5V459.7h.5V459.6h.5V458.9h.5V459.4h.5V458.7h.5V459.6h.5V457.6h.5V459.4h.5V457.2h.5V459.3h.5V458.0h.5V459.5h.5V459.0h.5V457.2h.5V457.2h.5V459.5h.5V459.6h.5V459.6h.5V459.5h.5V458.7h.5V458.0h.5V458.2h.5V457.3h.5V458.8h.5V457.9h.5V458.0h.5V459.3h.5V459.7h.5V459.2h.5V459.6h.5V459.2h.5V459.6h.5V459.7h.5V459.6h.5V459.4h.5V459.6h.5V459.5h.5V459.7h.5V459.3h.5V459.6h.5V459.6h.5V457.7h.5V459.7h.5V458.2h.5V458.8h.5V459.5h.5V459.6h.5V459.7h.5V459.6h.5V457.8h.5V459.7h.5V459.5h.5V459.7h.5V459.7h.5V458.7h.5V459.3h.5V459.7h.5V459.7h.5V457.3h.5V459.3h.5V459.0h.5V459.4h.5V459.6h.5V457.1h.5V458.8h.5V457.8h.5V459.7h.5V457.4h.5V459.6h.5V463.7Z" fill="#6a6a6a"/>
<path d="M135.4 463.7V460.4M213.9 463.7V461.7M121.3 463.7V461.8M135.9 463.7V461.5M88.2 463.7V461.4M221.8 463.7V460.8M209.1 463.7V460.7M116.3 463.7V460.5M127.0 463.7V461.7M223.3 463.7V461.9M275.8 463.7V460.6M251.2 463.7V461.7M119.7 463.7V461.9M130.2 463.7V461.2M132.9 463.7V461.3M264.1 463.7V460.3M258.6 463.7V461.7M253.6 463.7V460.0M235.5 463.7V461.9M205.8 463.7V461.5M78.2 463.7V461.8M285.1 463.7V461.5M301.7 463.7V460.4M191.2 463.7V461.4M119.5 463.7V461.1M110.5 463.7V461.4M192.7 463.7V461.0M248.9 463.7V460.1M294.6 463.7V460.5M110.6 463.7V461.6M247.9 463.7V461.6M74.7 463.7V461.3M101.2 463.7V461.9M116.4 463.7V461.8M129.1 463.7V461.6M258.5 463.7V461.2M173.1 463.7V461.7M187.7 463.7V461.7M293.1 463.7V461.6M258.6 463.7V461.3M182.7 463.7V461.3M267.1 463.7V461.5M237.9 463.7V461.8M241.0 463.7V461.8M144.6 463.7V460.1M245.4 463.7V461.1M148.4 463.7V461.3M147.9 463.7V461.8M233.0 463.7V461.9M81.8 463.7V461.1M162.4 463.7V461.7M230.2 463.7V460.3M235.9 463.7V461.9M262.2 463.7V461.4M303.7 463.7V461.9M161.6 463.7V461.9M148.8 463.7V461.5M184.6 463.7V461.7M256.7 463.7V460.1M216.5 463.7V461.5M271.9 463.7V461.2M225.8 463.7V461.8M212.0 463.7V461.0M105.3 463.7V461.3M223.1 463.7V461.3M246.7 463.7V460.1M308.0 463.7V460.0M279.5 463.7V461.9M251.6 463.7V460.9M204.3 463.7V461.6M167.9 463.7V461.7M174.2 463.7V461.8M274.1 463.7V461.3M313.8 463.7V461.4M311.8 463.7V460.0M98.9 463.7V461.4M229.5 463.7V460.1M177.8 463.7V460.7M136.6 463.7V461.7M174.3 463.7V461.2M139.6 463.7V461.9M81.1 463.7V461.9M288.9 463.7V460.4M150.5 463.7V461.5M173.9 463.7V461.3M133.4 463.7V461.9M211.7 463.7V459.9M279.0 463.7V461.2M103.9 463.7V461.6M196.3 463.7V459.8M227.4 463.7V460.9M190.8 463.7V460.8M118.5 463.7V459.8M308.0 463.7V461.0M175.3 463.7V460.4M76.9 463.7V461.8M226.0 463.7V460.5M143.0 463.7V461.0M298.4 463.7V460.6M200.5 463.7V460.6M290.2 463.7V461.5M132.5 463.7V461.7M165.5 463.7V459.9M76.4 463.7V461.2M118.9 463.7V461.9M166.7 463.7V461.6M262.3 463.7V461.8M244.0 463.7V461.9M160.2 463.7V461.7M109.8 463.7V461.4" stroke="#6a6a6a" stroke-width="0.6" stroke-opacity="0.5"/>
<path d="M122.5 463.7V449.3" stroke="#6a6a6a" stroke-width="0.7" stroke-opacity="0.85"/>
<path d="M192.6 463.7V458.3" stroke="#6a6a6a" stroke-width="0.7" stroke-opacity="0.8"/>
<path d="M240.4 463.7V454.7" stroke="#6a6a6a" stroke-width="0.7" stroke-opacity="0.85"/>
<path d="M339 463.7V459.5h.5V458.2h.5V458.6h.5V458.0h.5V458.6h.5V459.5h.5V459.6h.5V459.7h.5V457.7h.5V458.6h.5V459.6h.5V459.5h.5V457.7h.5V459.1h.5V459.7h.5V459.1h.5V458.0h.5V458.2h.5V459.4h.5V459.7h.5V459.7h.5V458.4h.5V458.1h.5V459.7h.5V459.3h.5V459.5h.5V459.0h.5V459.6h.5V459.7h.5V458.3h.5V459.4h.5V459.4h.5V458.6h.5V459.7h.5V457.1h.5V459.3h.5V459.2h.5V458.4h.5V459.6h.5V459.2h.5V459.5h.5V459.7h.5V459.4h.5V459.0h.5V459.6h.5V459.6h.5V459.2h.5V459.7h.5V459.7h.5V459.7h.5V459.7h.5V458.8h.5V458.5h.5V459.0h.5V459.6h.5V457.9h.5V458.9h.5V459.7h.5V459.7h.5V458.4h.5V457.8h.5V458.6h.5V457.4h.5V459.4h.5V459.2h.5V459.6h.5V459.2h.5V458.1h.5V458.9h.5V458.2h.5V458.7h.5V458.8h.5V459.3h.5V458.1h.5V459.7h.5V458.3h.5V458.5h.5V459.1h.5V459.7h.5V459.7h.5V459.3h.5V457.9h.5V458.9h.5V458.6h.5V459.6h.5V459.7h.5V459.3h.5V457.7h.5V459.3h.5V459.2h.5V459.0h.5V459.0h.5V457.8h.5V459.6h.5V459.3h.5V458.9h.5V458.9h.5V459.5h.5V459.7h.5V458.3h.5V458.9h.5V459.4h.5V459.1h.5V458.7h.5V459.6h.5V459.3h.5V457.3h.5V458.9h.5V458.0h.5V457.5h.5V457.2h.5V459.5h.5V458.7h.5V458.8h.5V459.5h.5V458.3h.5V458.5h.5V458.6h.5V459.5h.5V457.8h.5V459.5h.5V459.4h.5V459.4h.5V457.9h.5V457.7h.5V459.7h.5V457.4h.5V458.1h.5V458.7h.5V457.7h.5V459.2h.5V459.6h.5V459.5h.5V459.6h.5V459.3h.5V459.7h.5V459.2h.5V458.7h.5V459.5h.5V458.7h.5V457.6h.5V459.5h.5V459.7h.5V458.3h.5V458.8h.5V458.0h.5V459.4h.5V459.5h.5V459.7h.5V459.1h.5V459.3h.5V459.4h.5V459.7h.5V459.0h.5V459.7h.5V459.2h.5V459.7h.5V457.7h.5V459.7h.5V459.3h.5V459.3h.5V458.6h.5V457.2h.5V459.6h.5V458.4h.5V457.9h.5V459.6h.5V458.9h.5V458.9h.5V459.6h.5V459.2h.5V459.6h.5V459.2h.5V457.5h.5V459.0h.5V458.1h.5V459.2h.5V459.7h.5V459.7h.5V459.6h.5V458.8h.5V459.7h.5V457.5h.5V459.4h.5V459.7h.5V458.3h.5V459.5h.5V459.2h.5V459.7h.5V459.5h.5V457.8h.5V459.7h.5V459.6h.5V458.8h.5V459.7h.5V459.6h.5V458.1h.5V459.6h.5V458.9h.5V458.8h.5V459.1h.5V457.1h.5V458.8h.5V459.4h.5V458.3h.5V458.7h.5V459.7h.5V458.9h.5V459.6h.5V459.5h.5V459.6h.5V459.6h.5V459.7h.5V459.4h.5V457.9h.5V458.9h.5V459.6h.5V457.3h.5V459.0h.5V459.0h.5V459.7h.5V457.5h.5V458.0h.5V459.7h.5V459.4h.5V459.3h.5V458.8h.5V459.4h.5V458.8h.5V458.5h.5V459.1h.5V459.7h.5V459.6h.5V459.7h.5V459.1h.5V458.6h.5V459.7h.5V459.6h.5V459.0h.5V458.8h.5V459.5h.5V459.6h.5V459.4h.5V459.7h.5V458.5h.5V459.7h.5V459.7h.5V459.2h.5V457.9h.5V459.3h.5V458.5h.5V457.4h.5V458.9h.5V459.7h.5V459.4h.5V459.5h.5V459.6h.5V459.7h.5V459.7h.5V458.8h.5V459.4h.5V459.7h.5V459.2h.5V457.9h.5V459.0h.5V459.2h.5V459.7h.5V458.4h.5V459.7h.5V458.0h.5V459.7h.5V459.7h.5V459.2h.5V459.5h.5V458.4h.5V459.3h.5V459.7h.5V459.5h.5V459.2h.5V459.7h.5V459.1h.5V459.4h.5V459.3h.5V457.2h.5V459.6h.5V459.7h.5V459.4h.5V459.4h.5V458.9h.5V459.2h.5V458.5h.5V459.7h.5V459.3h.5V459.7h.5V458.9h.5V457.9h.5V458.8h.5V459.7h.5V458.6h.5V458.0h.5V459.4h.5V457.9h.5V459.3h.5V459.5h.5V457.7h.5V457.5h.5V459.3h.5V457.8h.5V458.4h.5V458.4h.5V459.7h.5V459.6h.5V457.7h.5V459.6h.5V459.6h.5V458.5h.5V458.8h.5V458.7h.5V459.7h.5V459.5h.5V458.6h.5V458.9h.5V457.4h.5V458.7h.5V459.7h.5V458.8h.5V459.5h.5V459.6h.5V459.7h.5V459.4h.5V457.5h.5V459.2h.5V459.1h.5V459.5h.5V458.2h.5V459.6h.5V459.1h.5V459.2h.5V458.9h.5V457.6h.5V458.2h.5V459.7h.5V458.6h.5V459.7h.5V457.6h.5V457.1h.5V458.5h.5V459.7h.5V459.0h.5V459.7h.5V458.4h.5V458.6h.5V458.0h.5V459.4h.5V459.6h.5V459.5h.5V459.6h.5V459.7h.5V458.8h.5V459.4h.5V459.7h.5V458.5h.5V459.6h.5V459.2h.5V459.3h.5V458.9h.5V459.5h.5V458.3h.5V459.2h.5V459.6h.5V457.7h.5V459.5h.5V458.1h.5V459.7h.5V459.3h.5V459.0h.5V459.7h.5V459.1h.5V459.6h.5V458.8h.5V458.8h.5V459.4h.5V457.8h.5V459.7h.5V459.7h.5V458.6h.5V459.4h.5V457.5h.5V459.1h.5V459.7h.5V457.1h.5V457.5h.5V458.5h.5V459.7h.5V459.7h.5V459.7h.5V459.5h.5V459.4h.5V459.7h.5V458.2h.5V457.4h.5V457.9h.5V463.7Z" fill="#6a6a6a"/>
<path d="M506.1 463.7V460.5M441.6 463.7V461.9M489.6 463.7V460.6M384.1 463.7V460.7M345.2 463.7V461.2M339.1 463.7V461.9M431.7 463.7V460.2M508.5 463.7V460.8M349.0 463.7V460.0M378.0 463.7V461.1M442.3 463.7V461.7M421.5 463.7V460.7M382.4 463.7V460.2M524.1 463.7V461.8M444.4 463.7V460.4M444.2 463.7V461.9M457.1 463.7V461.9M497.0 463.7V461.9M447.8 463.7V461.8M470.4 463.7V459.9M487.6 463.7V461.7M442.4 463.7V461.1M388.9 463.7V461.5M440.8 463.7V461.9M479.3 463.7V461.9M469.8 463.7V460.1M456.1 463.7V460.3M455.7 463.7V461.6M435.2 463.7V460.6M498.2 463.7V461.4M456.7 463.7V461.8M373.8 463.7V461.4M366.3 463.7V461.8M354.3 463.7V461.2M377.7 463.7V461.9M344.0 463.7V461.7M523.9 463.7V461.5M440.7 463.7V461.6M380.7 463.7V460.4M483.2 463.7V461.6M454.1 463.7V460.4M466.8 463.7V461.9M340.8 463.7V461.9M397.2 463.7V460.0M453.3 463.7V461.9M454.1 463.7V461.2M494.3 463.7V460.8M476.0 463.7V461.8M386.3 463.7V461.9M393.6 463.7V461.7M422.7 463.7V461.9M472.3 463.7V460.6M448.2 463.7V461.6M380.7 463.7V460.6M370.5 463.7V461.8M405.0 463.7V460.6M445.9 463.7V461.8M352.9 463.7V460.3M531.1 463.7V460.2M499.3 463.7V461.4M505.8 463.7V461.8M350.8 463.7V461.2M446.2 463.7V460.7M436.4 463.7V461.8M512.1 463.7V461.0M401.2 463.7V461.8M453.1 463.7V461.7M408.5 463.7V461.5M508.2 463.7V461.3M370.3 463.7V460.6M415.9 463.7V461.9M366.6 463.7V461.8M340.4 463.7V460.2M421.1 463.7V461.9M487.7 463.7V460.7M349.1 463.7V461.7M464.5 463.7V461.5M436.4 463.7V461.0M354.0 463.7V461.9M531.2 463.7V461.7M438.0 463.7V461.5M361.6 463.7V460.4M389.4 463.7V460.6M456.4 463.7V461.6M395.4 463.7V460.4M436.3 463.7V459.8M491.3 463.7V461.8M496.0 463.7V460.4M496.7 463.7V461.7M428.8 463.7V461.8" stroke="#6a6a6a" stroke-width="0.6" stroke-opacity="0.5"/>
<path d="M339.6 463.7V427.7" stroke="#6a6a6a" stroke-width="0.8" stroke-opacity="0.9"/>
<path d="M480.6 463.7V440.3" stroke="#6a6a6a" stroke-width="0.7" stroke-opacity="0.85"/>
<path d="M494.6 463.7V443.9" stroke="#6a6a6a" stroke-width="0.7" stroke-opacity="0.85"/>
<path d="M517.5 463.7V440.3" stroke="#6a6a6a" stroke-width="0.7" stroke-opacity="0.85"/>
<path d="M539.3 463.7V451.1" stroke="#6a6a6a" stroke-width="0.7" stroke-opacity="0.9"/>
<path d="M410 463.7V457.22" stroke="#6a6a6a" stroke-width="0.7" stroke-opacity="0.7"/>
<path d="M556.2 463.7V459.7h.5V459.6h.5V459.0h.5V458.9h.5V457.5h.5V459.1h.5V459.5h.5V459.6h.5V458.7h.5V459.7h.5V459.7h.5V459.1h.5V459.7h.5V458.6h.5V459.6h.5V459.4h.5V459.6h.5V459.2h.5V458.5h.5V458.5h.5V458.0h.5V457.8h.5V459.3h.5V459.7h.5V457.5h.5V459.2h.5V457.3h.5V459.7h.5V457.7h.5V459.4h.5V459.7h.5V457.4h.5V459.3h.5V457.9h.5V459.4h.5V458.9h.5V459.6h.5V459.3h.5V459.6h.5V459.7h.5V459.5h.5V458.7h.5V458.7h.5V459.5h.5V459.6h.5V458.7h.5V458.7h.5V459.7h.5V458.6h.5V459.6h.5V459.4h.5V459.0h.5V459.7h.5V459.3h.5V458.9h.5V459.4h.5V459.5h.5V459.2h.5V459.6h.5V458.7h.5V459.7h.5V459.6h.5V459.0h.5V457.3h.5V458.7h.5V458.3h.5V458.5h.5V459.7h.5V458.7h.5V459.1h.5V457.9h.5V457.4h.5V457.2h.5V459.7h.5V459.7h.5V459.3h.5V457.4h.5V457.2h.5V459.7h.5V458.5h.5V459.7h.5V459.6h.5V459.4h.5V459.6h.5V459.6h.5V459.4h.5V457.6h.5V458.9h.5V459.7h.5V459.6h.5V458.5h.5V459.7h.5V459.5h.5V459.4h.5V459.2h.5V458.9h.5V459.7h.5V457.6h.5V458.2h.5V459.2h.5V459.3h.5V458.0h.5V459.6h.5V458.6h.5V457.6h.5V459.0h.5V458.7h.5V459.3h.5V459.2h.5V458.5h.5V459.0h.5V457.3h.5V459.4h.5V459.7h.5V459.1h.5V459.7h.5V458.3h.5V458.5h.5V459.0h.5V459.5h.5V459.6h.5V459.0h.5V459.1h.5V459.0h.5V459.7h.5V458.9h.5V459.7h.5V457.6h.5V459.5h.5V458.8h.5V459.7h.5V459.3h.5V457.3h.5V458.2h.5V459.2h.5V457.9h.5V458.8h.5V459.4h.5V458.9h.5V459.1h.5V459.7h.5V459.1h.5V459.5h.5V457.4h.5V459.6h.5V459.2h.5V459.2h.5V459.3h.5V458.4h.5V459.5h.5V457.3h.5V459.2h.5V459.3h.5V457.5h.5V459.5h.5V459.2h.5V459.5h.5V458.4h.5V459.2h.5V459.7h.5V459.2h.5V457.1h.5V458.8h.5V459.7h.5V458.9h.5V459.1h.5V459.7h.5V459.4h.5V459.6h.5V459.1h.5V459.5h.5V459.6h.5V459.6h.5V458.4h.5V458.1h.5V458.3h.5V459.6h.5V459.0h.5V459.6h.5V459.7h.5V457.8h.5V459.6h.5V458.2h.5V458.8h.5V459.5h.5V459.7h.5V459.7h.5V459.6h.5V458.5h.5V459.2h.5V459.0h.5V457.6h.5V459.2h.5V458.9h.5V459.4h.5V459.1h.5V458.5h.5V458.9h.5V457.8h.5V459.4h.5V459.4h.5V459.7h.5V459.7h.5V459.1h.5V458.2h.5V457.8h.5V459.5h.5V458.6h.5V459.1h.5V457.6h.5V459.5h.5V458.4h.5V459.3h.5V459.4h.5V458.1h.5V459.6h.5V459.3h.5V459.7h.5V459.1h.5V459.4h.5V459.4h.5V458.5h.5V458.8h.5V459.1h.5V457.4h.5V458.9h.5V458.8h.5V457.6h.5V458.1h.5V458.1h.5V459.5h.5V459.7h.5V459.7h.5V457.2h.5V457.6h.5V459.6h.5V457.2h.5V459.4h.5V457.5h.5V459.4h.5V457.7h.5V458.9h.5V459.4h.5V459.3h.5V459.7h.5V459.2h.5V459.5h.5V459.6h.5V459.2h.5V459.6h.5V459.7h.5V459.6h.5V459.6h.5V458.4h.5V459.6h.5V459.6h.5V463.7Z" fill="#6a6a6a"/>
<path d="M569.8 463.7V461.7M654.8 463.7V461.9M568.4 463.7V461.4M581.0 463.7V461.5M619.6 463.7V461.8M604.1 463.7V461.0M556.9 463.7V461.8M626.7 463.7V461.9M613.9 463.7V459.9M570.1 463.7V461.8M629.4 463.7V461.7M623.8 463.7V461.9M639.0 463.7V461.6M676.7 463.7V460.4M577.0 463.7V461.9M571.5 463.7V460.7M598.0 463.7V461.8M563.6 463.7V461.7M634.9 463.7V459.9M596.4 463.7V460.6M680.5 463.7V461.6M578.8 463.7V461.9M587.8 463.7V461.8M631.2 463.7V461.7M648.5 463.7V461.3M632.1 463.7V461.1M608.2 463.7V461.1M564.5 463.7V461.5M614.5 463.7V461.5M653.4 463.7V461.2M563.3 463.7V461.5M658.2 463.7V460.2M596.9 463.7V460.1M598.5 463.7V460.5M664.7 463.7V461.8M637.3 463.7V461.5M647.8 463.7V460.0M577.6 463.7V459.8M559.3 463.7V461.9M625.8 463.7V461.9M597.6 463.7V461.4M624.3 463.7V461.8M571.6 463.7V460.4M644.5 463.7V460.5M674.8 463.7V460.3M619.7 463.7V461.9M671.8 463.7V461.7M637.9 463.7V461.9M606.0 463.7V461.0M614.0 463.7V461.9M602.8 463.7V461.6M676.7 463.7V460.3M664.5 463.7V461.9M676.4 463.7V460.9M560.8 463.7V461.5M672.9 463.7V461.6M628.0 463.7V461.8" stroke="#6a6a6a" stroke-width="0.6" stroke-opacity="0.5"/>
<path d="M556.9 463.7V427.7" stroke="#6a6a6a" stroke-width="0.8" stroke-opacity="0.9"/>
<path d="M683.4 463.7V427.7" stroke="#6a6a6a" stroke-width="0.8" stroke-opacity="0.9"/>
<line x1="632.5" y1="473.6" x2="684.4" y2="473.6" stroke="#333" stroke-width="1"/>
<line x1="632.5" y1="470.2" x2="632.5" y2="477.3" stroke="#333" stroke-width="1"/>
<line x1="684.4" y1="470.2" x2="684.4" y2="477.3" stroke="#333" stroke-width="1"/>
<text transform="translate(658.8,471.8) scale(1,1.08)" text-anchor="middle">1Mb</text>
<line x1="47.7" y1="484" x2="47.7" y2="668.5" stroke="#8a8a8a" stroke-width="1"/>
<line x1="47.2" y1="668" x2="116.8" y2="668" stroke="#8a8a8a" stroke-width="1"/>
<line x1="44.8" y1="484" x2="47.7" y2="484" stroke="#8a8a8a" stroke-width="1"/>
<text transform="translate(44.2,486.7) scale(1,1.08)" text-anchor="end" font-size="7.1">1000</text>
<line x1="44.8" y1="529.88" x2="47.7" y2="529.88" stroke="#8a8a8a" stroke-width="1"/>
<text transform="translate(44.2,532.57) scale(1,1.08)" text-anchor="end" font-size="7.1">750</text>
<line x1="44.8" y1="575.75" x2="47.7" y2="575.75" stroke="#8a8a8a" stroke-width="1"/>
<text transform="translate(44.2,578.45) scale(1,1.08)" text-anchor="end" font-size="7.1">500</text>
<line x1="44.8" y1="621.62" x2="47.7" y2="621.62" stroke="#8a8a8a" stroke-width="1"/>
<text transform="translate(44.2,624.32) scale(1,1.08)" text-anchor="end" font-size="7.1">250</text>
<line x1="44.8" y1="667.5" x2="47.7" y2="667.5" stroke="#8a8a8a" stroke-width="1"/>
<text transform="translate(44.2,670.2) scale(1,1.08)" text-anchor="end" font-size="7.1">0</text>
<rect x="54" y="490.1" width="25.2" height="62.2" fill="#c9c9c9"/>
<rect x="54" y="552.3" width="25.2" height="30.9" fill="#6aa4cd"/>
<rect x="54" y="583.2" width="25.2" height="11.7" fill="#0b8a4c"/>
<rect x="54" y="594.9" width="25.2" height="28.2" fill="#4b3d96"/>
<rect x="54" y="623.1" width="25.2" height="5.4" fill="#f17474"/>
<rect x="54" y="628.5" width="25.2" height="39" fill="#d4c97c"/>
<rect x="85.3" y="504.6" width="24.7" height="58.4" fill="#c9c9c9"/>
<rect x="85.3" y="563" width="24.7" height="25.2" fill="#6aa4cd"/>
<rect x="85.3" y="588.2" width="24.7" height="10.1" fill="#0b8a4c"/>
<rect x="85.3" y="598.3" width="24.7" height="28.9" fill="#4b3d96"/>
<rect x="85.3" y="627.2" width="24.7" height="6" fill="#f17474"/>
<rect x="85.3" y="633.2" width="24.7" height="34.3" fill="#d4c97c"/>
<text transform="translate(22.3,575.3) rotate(-90) scale(1,1.08)" text-anchor="middle" font-size="9.6">Number of binding sites</text>
<text transform="translate(116.9,537.5) scale(1,1.08)">Other Pol II genes</text>
<text transform="translate(116.9,573.4) scale(1,1.08)">Highly transcribed</text>
<text transform="translate(116.9,582.8) scale(1,1.08)">Pol II genes</text>
<text transform="translate(116.9,596.9) scale(1,1.08)">LTRs</text>
<text transform="translate(116.9,614.7) scale(1,1.08)">tRNA</text>
<text transform="translate(116.9,632.5) scale(1,1.08)">5S rRNA</text>
<text transform="translate(116.9,654) scale(1,1.08)">ncRNA</text>
<text transform="translate(52,680.5) scale(1,1.08)" text-anchor="middle" font-size="8.8">Co-occupied</text>
<text transform="translate(52,690.5) scale(1,1.08)" text-anchor="middle" font-size="8.8">by Cnd1-Pk</text>
<text transform="translate(52,700.1) scale(1,1.08)" text-anchor="middle" font-size="8.8">&amp; Pmc4-Pk</text>
<text transform="translate(112.5,680.5) scale(1,1.08)" text-anchor="middle" font-size="8.8">Co-occupied</text>
<text transform="translate(112.5,690.5) scale(1,1.08)" text-anchor="middle" font-size="8.8">by Cut14-Pk</text>
<text transform="translate(112.5,700.1) scale(1,1.08)" text-anchor="middle" font-size="8.8">&amp; Pmc4-Pk</text>
<text transform="translate(289.2,495.8) scale(1,1.08)" text-anchor="middle" font-size="9.4">Binding sites</text>
<text transform="translate(377.7,495.8) scale(1,1.08)" text-anchor="middle" font-size="9.4">Pol II genes</text>
<circle cx="289.1" cy="561.7" r="34.1" fill="#aab1dc"/>
<circle cx="271.5" cy="561.8" r="28" fill="#e98a8a"/>
<circle cx="289.1" cy="561.7" r="34.1" fill="#9f7598" clip-path="url(#v1)"/>
<text transform="translate(300,515.6) scale(1,1.08)" text-anchor="middle" font-size="9.4" fill="#2a2a2a">Pmc4-Pk</text>
<text transform="translate(255,525.2) scale(1,1.08)" text-anchor="middle" font-size="9.4" fill="#2a2a2a">Cnd1-Pk</text>
<text transform="translate(244.6,566) scale(1,1.08)" text-anchor="middle" font-size="9.8" fill="#111">179</text>
<text transform="translate(271.3,566) scale(1,1.08)" text-anchor="middle" font-size="9.8" fill="#24244e">677</text>
<text transform="translate(312.5,566) scale(1,1.08)" text-anchor="middle" font-size="9.8" fill="#24244e">580</text>
<circle cx="386" cy="561.7" r="34.2" fill="#aab1dc"/>
<circle cx="370.5" cy="561.9" r="25.6" fill="#e98a8a"/>
<circle cx="386" cy="561.7" r="34.2" fill="#c06878" clip-path="url(#v2)"/>
<text transform="translate(399.6,515.6) scale(1,1.08)" text-anchor="middle" font-size="9.4" fill="#2a2a2a">Pmc4-Pk</text>
<text transform="translate(360.9,525.2) scale(1,1.08)" text-anchor="middle" font-size="9.4" fill="#2a2a2a">Cnd1-Pk</text>
<text transform="translate(346.6,566) scale(1,1.08)" text-anchor="middle" font-size="9.8" fill="#111">75</text>
<text transform="translate(371.4,566) scale(1,1.08)" text-anchor="middle" font-size="9.8" fill="#111">502</text>
<text transform="translate(407.6,566) scale(1,1.08)" text-anchor="middle" font-size="9.8" fill="#111">532</text>
<circle cx="290" cy="659.5" r="34.2" fill="#aab1dc"/>
<circle cx="265.2" cy="659.6" r="25.4" fill="#80d0a9"/>
<circle cx="290" cy="659.5" r="34.2" fill="#56a991" clip-path="url(#v3)"/>
<text transform="translate(300,615.7) scale(1,1.08)" text-anchor="middle" font-size="9.4" fill="#2a2a2a">Pmc4-Pk</text>
<text transform="translate(255.3,622.7) scale(1,1.08)" text-anchor="middle" font-size="9.4" fill="#2a2a2a">Cut14-Pk</text>
<text transform="translate(241.5,664.8) scale(1,1.08)" text-anchor="middle" font-size="9.8" fill="#111">152</text>
<text transform="translate(272.6,664.8) scale(1,1.08)" text-anchor="middle" font-size="9.8" fill="#111">600</text>
<text transform="translate(308.1,664.8) scale(1,1.08)" text-anchor="middle" font-size="9.8" fill="#111">657</text>
<circle cx="386" cy="660.1" r="34" fill="#aab1dc"/>
<circle cx="368.5" cy="660" r="24" fill="#80d0a9"/>
<circle cx="386" cy="660.1" r="34" fill="#56a991" clip-path="url(#v4)"/>
<text transform="translate(399.6,615.7) scale(1,1.08)" text-anchor="middle" font-size="9.4" fill="#2a2a2a">Pmc4-Pk</text>
<text transform="translate(361,622.7) scale(1,1.08)" text-anchor="middle" font-size="9.4" fill="#2a2a2a">Cut14-Pk</text>
<text transform="translate(347,664.8) scale(1,1.08)" text-anchor="middle" font-size="9.8" fill="#111">64</text>
<text transform="translate(371,664.8) scale(1,1.08)" text-anchor="middle" font-size="9.8" fill="#111">440</text>
<text transform="translate(402.6,664.8) scale(1,1.08)" text-anchor="middle" font-size="9.8" fill="#111">594</text>
<text transform="translate(498.2,513.1) scale(1,1.08)">Co-occupied Pol II genes</text>
<text transform="translate(509,524.2) scale(1,1.08)" text-anchor="middle">Cnd1-Pk</text>
<text transform="translate(554.8,524.2) scale(1,1.08)" text-anchor="middle">Cut14-Pk</text>
<text transform="translate(600.8,524.2) scale(1,1.08)" text-anchor="middle">Pmc4-Pk</text>
<text transform="translate(629,512.2) scale(1,1.08)">Number</text>
<text transform="translate(629,522.7) scale(1,1.08)">of genes</text>
<rect x="488.2" y="531.6" width="40.8" height="121.7" fill="#ebe7f6"/>
<g filter="url(#hb)">
<rect x="501.05" y="531.6" width="16.12" height="121.7" fill="url(#midg)"/>
<path d="M501.05,531.6 L518.17,531.6 L517.17,544.6 L511.53,542.6 L505.89,538.6 L501.05,536.6Z" fill="#f0603e" opacity="0.75"/>
<path d="M506.69,531.6 L517.17,531.6 L517.17,542.6 L510.72,540.6Z" fill="#ec4a2a" opacity="0.55"/>
<rect x="501.05" y="531.6" width="27.95" height="1.8" fill="#ee5030" opacity="0.85"/>
<rect x="517.17" y="533.6" width="11.83" height="1.2" fill="#f07050" opacity="0.4"/>
<rect x="488.2" y="531.6" width="12.85" height="1" fill="#f4a490" opacity="0.5"/>
</g>
<g filter="url(#hs)">
<rect x="521.04" y="578.19" width="7.75" height="0.85" fill="#ea4c2e" opacity="0.2"/>
<rect x="518.64" y="547.5" width="10.36" height="0.68" fill="#ea4c2e" opacity="0.08"/>
<rect x="512.25" y="538.37" width="2.43" height="1.08" fill="#ea4c2e" opacity="0.48"/>
<rect x="514.78" y="604.1" width="3.15" height="0.54" fill="#ea4c2e" opacity="0.21"/>
<rect x="488.45" y="548.07" width="6.79" height="1.01" fill="#ea4c2e" opacity="0.17"/>
<rect x="517.57" y="586.56" width="9.76" height="0.67" fill="#ea4c2e" opacity="0.18"/>
<rect x="517.34" y="651.96" width="9.22" height="0.64" fill="#ea4c2e" opacity="0.13"/>
<rect x="494.45" y="558.82" width="6.27" height="0.73" fill="#ea4c2e" opacity="0.39"/>
<rect x="488.22" y="646.25" width="4.14" height="0.78" fill="#ea4c2e" opacity="0.43"/>
<rect x="514.09" y="649.46" width="9.42" height="0.66" fill="#ea4c2e" opacity="0.34"/>
<rect x="496.07" y="538.06" width="9.19" height="0.65" fill="#ea4c2e" opacity="0.08"/>
<rect x="494.7" y="539.31" width="4.45" height="0.77" fill="#ea4c2e" opacity="0.23"/>
<rect x="492.74" y="548.12" width="8.57" height="0.75" fill="#ea4c2e" opacity="0.08"/>
<rect x="496.12" y="550.46" width="9.56" height="1.03" fill="#ea4c2e" opacity="0.13"/>
<rect x="520.47" y="550.23" width="8.53" height="1.09" fill="#ea4c2e" opacity="0.08"/>
<rect x="494.51" y="550.5" width="5.68" height="0.54" fill="#ea4c2e" opacity="0.12"/>
<rect x="515.48" y="538.32" width="9.13" height="0.77" fill="#ea4c2e" opacity="0.15"/>
<rect x="518.18" y="646.41" width="10.82" height="0.59" fill="#ea4c2e" opacity="0.09"/>
<rect x="496.85" y="639.16" width="3.94" height="1.06" fill="#ea4c2e" opacity="0.32"/>
<rect x="518.79" y="548.74" width="8.16" height="0.56" fill="#ea4c2e" opacity="0.17"/>
<rect x="496.47" y="534.04" width="9.19" height="0.99" fill="#ea4c2e" opacity="0.11"/>
<rect x="489.63" y="596.52" width="8.88" height="0.64" fill="#ea4c2e" opacity="0.07"/>
<rect x="509.5" y="591.71" width="4.86" height="0.62" fill="#ea4c2e" opacity="0.43"/>
<rect x="491.84" y="532.48" width="3.49" height="0.72" fill="#ea4c2e" opacity="0.09"/>
<rect x="491.16" y="593.36" width="10.27" height="0.89" fill="#ea4c2e" opacity="0.48"/>
<rect x="514.64" y="609.09" width="3.36" height="1.05" fill="#ea4c2e" opacity="0.07"/>
<rect x="488.94" y="610.4" width="8.49" height="0.94" fill="#ea4c2e" opacity="0.19"/>
<rect x="490.81" y="562.23" width="7.57" height="1.04" fill="#ea4c2e" opacity="0.32"/>
<rect x="515.71" y="615.3" width="11.33" height="0.91" fill="#ea4c2e" opacity="0.14"/>
<rect x="502.67" y="638.08" width="10.06" height="0.84" fill="#ea4c2e" opacity="0.4"/>
<rect x="518.25" y="600.26" width="9.21" height="0.88" fill="#ea4c2e" opacity="0.08"/>
<rect x="513.45" y="651.33" width="5.96" height="0.85" fill="#ea4c2e" opacity="0.32"/>
<rect x="491.11" y="576.73" width="9.65" height="0.86" fill="#ea4c2e" opacity="0.07"/>
<rect x="493.9" y="581.75" width="7.06" height="1.05" fill="#ea4c2e" opacity="0.25"/>
<rect x="490.66" y="555.11" width="8.53" height="0.6" fill="#ea4c2e" opacity="0.1"/>
<rect x="503.53" y="638.78" width="11.1" height="0.9" fill="#ea4c2e" opacity="0.13"/>
<rect x="520.07" y="548.94" width="8.93" height="0.73" fill="#ea4c2e" opacity="0.41"/>
<rect x="489.31" y="594.78" width="7.05" height="1.01" fill="#ea4c2e" opacity="0.38"/>
<rect x="497.8" y="611.79" width="3.73" height="0.67" fill="#ea4c2e" opacity="0.18"/>
<rect x="518.6" y="550.58" width="8.04" height="1" fill="#ea4c2e" opacity="0.13"/>
<rect x="514.11" y="649.7" width="3.32" height="0.52" fill="#ea4c2e" opacity="0.4"/>
<rect x="516.02" y="611.44" width="11.07" height="0.58" fill="#ea4c2e" opacity="0.07"/>
<rect x="494.97" y="578.5" width="4.94" height="0.53" fill="#ea4c2e" opacity="0.09"/>
<rect x="518.64" y="600.82" width="9.68" height="1.08" fill="#ea4c2e" opacity="0.36"/>
<rect x="492.08" y="608.19" width="4.46" height="0.78" fill="#ea4c2e" opacity="0.07"/>
<rect x="490.42" y="612.19" width="5.82" height="0.81" fill="#ea4c2e" opacity="0.3"/>
<rect x="501.85" y="598.88" width="10.08" height="0.55" fill="#ea4c2e" opacity="0.43"/>
<rect x="492.71" y="642.61" width="6.63" height="1.05" fill="#ea4c2e" opacity="0.26"/>
<rect x="520.67" y="569.01" width="8.33" height="0.78" fill="#ea4c2e" opacity="0.45"/>
<rect x="494.09" y="603.75" width="9.68" height="0.93" fill="#ea4c2e" opacity="0.27"/>
<rect x="522.2" y="550.5" width="6.8" height="0.97" fill="#ea4c2e" opacity="0.22"/>
<rect x="517.88" y="562.4" width="5.55" height="0.76" fill="#ea4c2e" opacity="0.08"/>
<rect x="505.1" y="590.54" width="2.29" height="0.54" fill="#ea4c2e" opacity="0.36"/>
<rect x="490.93" y="623.93" width="9.43" height="0.59" fill="#ea4c2e" opacity="0.08"/>
<rect x="517.33" y="586.23" width="9.03" height="0.8" fill="#ea4c2e" opacity="0.45"/>
<rect x="490.01" y="644.97" width="7.3" height="0.94" fill="#ea4c2e" opacity="0.12"/>
<rect x="520.38" y="602.1" width="8.62" height="0.73" fill="#ea4c2e" opacity="0.13"/>
<rect x="495.42" y="630.25" width="10.68" height="0.81" fill="#ea4c2e" opacity="0.47"/>
<rect x="492.57" y="593.47" width="7.11" height="0.52" fill="#ea4c2e" opacity="0.25"/>
<rect x="516.76" y="647.88" width="11.17" height="0.79" fill="#ea4c2e" opacity="0.23"/>
<rect x="492.6" y="609.06" width="6.38" height="1.05" fill="#ea4c2e" opacity="0.46"/>
<rect x="514.53" y="556.59" width="7.42" height="1.04" fill="#ea4c2e" opacity="0.37"/>
<rect x="489.76" y="581.19" width="8.04" height="0.58" fill="#ea4c2e" opacity="0.44"/>
<rect x="489.78" y="621.08" width="4.85" height="0.69" fill="#ea4c2e" opacity="0.29"/>
<rect x="514.35" y="566.47" width="10.46" height="0.81" fill="#ea4c2e" opacity="0.08"/>
<rect x="492.53" y="554.53" width="6.56" height="0.75" fill="#ea4c2e" opacity="0.15"/>
<rect x="489.87" y="587.86" width="8.15" height="0.82" fill="#ea4c2e" opacity="0.27"/>
<rect x="520.49" y="631.09" width="5.37" height="0.99" fill="#ea4c2e" opacity="0.32"/>
<rect x="490.77" y="638.34" width="10.53" height="1.1" fill="#ea4c2e" opacity="0.1"/>
<rect x="490.15" y="636.2" width="8.93" height="0.56" fill="#ea4c2e" opacity="0.11"/>
<rect x="519.94" y="628.42" width="4.29" height="0.91" fill="#ea4c2e" opacity="0.16"/>
<rect x="493.77" y="532.56" width="10.44" height="0.57" fill="#ea4c2e" opacity="0.47"/>
<rect x="505.64" y="584.85" width="8.99" height="0.54" fill="#ea4c2e" opacity="0.09"/>
<rect x="492.7" y="539.78" width="7.2" height="0.59" fill="#ea4c2e" opacity="0.23"/>
<rect x="495.06" y="547.49" width="11.08" height="0.56" fill="#ea4c2e" opacity="0.44"/>
<rect x="504.22" y="535.89" width="9.8" height="0.78" fill="#ea4c2e" opacity="0.13"/>
<rect x="518.4" y="586.07" width="3.14" height="1.01" fill="#ea4c2e" opacity="0.3"/>
<rect x="519.53" y="547.15" width="7.13" height="0.6" fill="#ea4c2e" opacity="0.1"/>
<rect x="495.49" y="585.73" width="9.54" height="1.02" fill="#ea4c2e" opacity="0.3"/>
<rect x="518.39" y="600.85" width="8.14" height="0.98" fill="#ea4c2e" opacity="0.48"/>
<rect x="514.02" y="555.38" width="9.94" height="0.74" fill="#ea4c2e" opacity="0.37"/>
<rect x="512.3" y="637.48" width="9.83" height="0.74" fill="#ea4c2e" opacity="0.34"/>
<rect x="490.99" y="613.34" width="6.83" height="0.71" fill="#ea4c2e" opacity="0.07"/>
<rect x="515.39" y="602.08" width="12.64" height="0.7" fill="#ea4c2e" opacity="0.28"/>
<rect x="517.85" y="604.88" width="6.97" height="0.89" fill="#ea4c2e" opacity="0.49"/>
<rect x="522.19" y="610.44" width="2.23" height="0.94" fill="#ea4c2e" opacity="0.25"/>
<rect x="513.91" y="555.2" width="4.99" height="0.56" fill="#ea4c2e" opacity="0.15"/>
<rect x="507.28" y="554.57" width="7.18" height="0.84" fill="#ea4c2e" opacity="0.47"/>
<rect x="520.1" y="651.59" width="3.78" height="0.96" fill="#ea4c2e" opacity="0.25"/>
<rect x="493.75" y="534.53" width="6.81" height="0.8" fill="#ea4c2e" opacity="0.09"/>
<rect x="495.91" y="598.45" width="6.43" height="0.86" fill="#ea4c2e" opacity="0.21"/>
<rect x="493.55" y="567.68" width="7.57" height="0.93" fill="#ea4c2e" opacity="0.12"/>
<rect x="490.2" y="559.61" width="3.35" height="0.95" fill="#ea4c2e" opacity="0.09"/>
<rect x="514.15" y="570.59" width="2.51" height="1.07" fill="#ea4c2e" opacity="0.48"/>
<rect x="503.1" y="536.86" width="6.87" height="0.65" fill="#ea4c2e" opacity="0.47"/>
<rect x="513.26" y="587.1" width="6.78" height="0.99" fill="#ea4c2e" opacity="0.47"/>
<rect x="493.29" y="597.46" width="6.72" height="0.53" fill="#ea4c2e" opacity="0.1"/>
<rect x="491.81" y="587.7" width="8.45" height="0.66" fill="#ea4c2e" opacity="0.18"/>
<rect x="519.84" y="594.67" width="8.41" height="1.07" fill="#ea4c2e" opacity="0.49"/>
<rect x="489.13" y="614.92" width="10.28" height="0.87" fill="#ea4c2e" opacity="0.35"/>
<rect x="493.79" y="566.93" width="7.61" height="0.88" fill="#ea4c2e" opacity="0.24"/>
<rect x="490.23" y="617.52" width="10.99" height="1.03" fill="#ea4c2e" opacity="0.43"/>
<rect x="490.41" y="534.1" width="6.47" height="0.56" fill="#ea4c2e" opacity="0.26"/>
<rect x="488.91" y="589.43" width="8.52" height="0.88" fill="#ea4c2e" opacity="0.22"/>
<rect x="515.21" y="568.58" width="6.51" height="1" fill="#ea4c2e" opacity="0.32"/>
<rect x="494.8" y="536.94" width="8.09" height="0.63" fill="#ea4c2e" opacity="0.34"/>
<rect x="494.81" y="574.75" width="6.01" height="1.09" fill="#ea4c2e" opacity="0.27"/>
<rect x="519.58" y="562.98" width="9.42" height="0.72" fill="#ea4c2e" opacity="0.17"/>
<rect x="490.92" y="538.94" width="2.85" height="0.79" fill="#ea4c2e" opacity="0.23"/>
<rect x="494.53" y="608.3" width="3.62" height="0.9" fill="#ea4c2e" opacity="0.1"/>
<rect x="494.12" y="537.58" width="8.66" height="0.59" fill="#ea4c2e" opacity="0.12"/>
<rect x="500.91" y="566.76" width="3.2" height="0.84" fill="#ea4c2e" opacity="0.3"/>
<rect x="519.88" y="640.6" width="6.47" height="0.68" fill="#ea4c2e" opacity="0.36"/>
<rect x="521.12" y="562.08" width="7.88" height="0.72" fill="#ea4c2e" opacity="0.11"/>
<rect x="516.72" y="567.68" width="6.95" height="0.84" fill="#ea4c2e" opacity="0.1"/>
<rect x="520.32" y="623.54" width="8.68" height="0.96" fill="#ea4c2e" opacity="0.09"/>
<rect x="488.38" y="635.26" width="7.21" height="0.84" fill="#ea4c2e" opacity="0.22"/>
<rect x="516.09" y="647.45" width="2.65" height="0.97" fill="#ea4c2e" opacity="0.22"/>
<rect x="494.21" y="537.78" width="10.34" height="0.88" fill="#ea4c2e" opacity="0.08"/>
<rect x="510.71" y="543.38" width="4.5" height="0.96" fill="#ea4c2e" opacity="0.1"/>
<rect x="501.88" y="586.87" width="5.45" height="0.9" fill="#ea4c2e" opacity="0.47"/>
<rect x="519.38" y="583.34" width="9.62" height="0.75" fill="#ea4c2e" opacity="0.43"/>
<rect x="517.8" y="627.59" width="10.22" height="1.03" fill="#ea4c2e" opacity="0.38"/>
<rect x="517.77" y="646.21" width="10.24" height="0.75" fill="#ea4c2e" opacity="0.36"/>
<rect x="494.25" y="574.27" width="11.09" height="0.6" fill="#ea4c2e" opacity="0.15"/>
<rect x="515.88" y="549.56" width="12.89" height="0.69" fill="#ea4c2e" opacity="0.07"/>
<rect x="519.83" y="540.59" width="4.83" height="0.78" fill="#ea4c2e" opacity="0.07"/>
<rect x="489.46" y="594.91" width="3.11" height="0.63" fill="#ea4c2e" opacity="0.09"/>
<rect x="508.83" y="552.88" width="4.28" height="0.67" fill="#ea4c2e" opacity="0.09"/>
<rect x="499.01" y="546.25" width="7.59" height="0.79" fill="#ea4c2e" opacity="0.37"/>
<rect x="519.91" y="555.62" width="5.49" height="1.07" fill="#ea4c2e" opacity="0.22"/>
<rect x="488.61" y="581.95" width="10.73" height="0.73" fill="#ea4c2e" opacity="0.36"/>
<rect x="515.74" y="587.64" width="13.1" height="0.64" fill="#ea4c2e" opacity="0.28"/>
<rect x="516.53" y="532.13" width="11.13" height="0.86" fill="#ea4c2e" opacity="0.31"/>
<rect x="490.83" y="544.71" width="5.12" height="0.81" fill="#ea4c2e" opacity="0.4"/>
<rect x="497.44" y="601.85" width="7.45" height="0.96" fill="#ea4c2e" opacity="0.09"/>
<rect x="517.55" y="531.64" width="10.39" height="0.66" fill="#ea4c2e" opacity="0.08"/>
<rect x="492.12" y="612.51" width="6.82" height="0.85" fill="#ea4c2e" opacity="0.46"/>
<rect x="494.64" y="631.94" width="6.4" height="0.55" fill="#ea4c2e" opacity="0.43"/>
<rect x="492.63" y="627.6" width="7.29" height="1" fill="#ea4c2e" opacity="0.09"/>
<rect x="488.82" y="561.36" width="5.49" height="0.93" fill="#ea4c2e" opacity="0.19"/>
<rect x="491.87" y="566.99" width="6.02" height="1.08" fill="#ea4c2e" opacity="0.18"/>
<rect x="488.63" y="628.08" width="5.85" height="0.64" fill="#ea4c2e" opacity="0.3"/>
<rect x="513.58" y="592.32" width="13.11" height="0.62" fill="#ea4c2e" opacity="0.36"/>
<rect x="491.27" y="599.09" width="7.4" height="0.7" fill="#ea4c2e" opacity="0.12"/>
<rect x="497.09" y="570.86" width="4.04" height="0.7" fill="#ea4c2e" opacity="0.32"/>
<rect x="519.4" y="644.38" width="6.38" height="0.56" fill="#ea4c2e" opacity="0.37"/>
<rect x="493.73" y="543.08" width="8.78" height="0.74" fill="#ea4c2e" opacity="0.09"/>
<rect x="514.23" y="629.08" width="5.31" height="0.57" fill="#ea4c2e" opacity="0.09"/>
<rect x="495.71" y="572.62" width="6.48" height="0.89" fill="#ea4c2e" opacity="0.2"/>
<rect x="501.27" y="546.6" width="1.2" height="101.7" fill="#f29070" opacity="0.12"/>
<rect x="515.75" y="546.6" width="1.2" height="101.7" fill="#f29070" opacity="0.12"/>
</g>
<rect x="488.2" y="624.93" width="40.8" height="0.5" fill="#ffffff" opacity="0.36"/>
<rect x="488.2" y="578.57" width="40.8" height="0.5" fill="#ffffff" opacity="0.23"/>
<rect x="488.2" y="581.76" width="40.8" height="0.5" fill="#ffffff" opacity="0.15"/>
<rect x="488.2" y="580.37" width="40.8" height="0.5" fill="#ffffff" opacity="0.32"/>
<rect x="488.2" y="651.1" width="40.8" height="0.5" fill="#ffffff" opacity="0.35"/>
<rect x="488.2" y="611.95" width="40.8" height="0.5" fill="#ffffff" opacity="0.3"/>
<rect x="488.2" y="533.86" width="40.8" height="0.5" fill="#ffffff" opacity="0.23"/>
<rect x="488.2" y="573.25" width="40.8" height="0.5" fill="#ffffff" opacity="0.31"/>
<rect x="488.2" y="544.53" width="40.8" height="0.5" fill="#ffffff" opacity="0.24"/>
<rect x="488.2" y="593.59" width="40.8" height="0.5" fill="#ffffff" opacity="0.35"/>
<rect x="488.2" y="632.03" width="40.8" height="0.5" fill="#ffffff" opacity="0.3"/>
<rect x="488.2" y="550.87" width="40.8" height="0.5" fill="#ffffff" opacity="0.34"/>
<rect x="488.2" y="641.49" width="40.8" height="0.5" fill="#ffffff" opacity="0.29"/>
<rect x="488.2" y="574.51" width="40.8" height="0.5" fill="#ffffff" opacity="0.28"/>
<rect x="488.2" y="548.85" width="40.8" height="0.5" fill="#ffffff" opacity="0.33"/>
<rect x="488.2" y="651.69" width="40.8" height="0.5" fill="#ffffff" opacity="0.28"/>
<rect x="488.2" y="618.66" width="40.8" height="0.5" fill="#ffffff" opacity="0.36"/>
<rect x="488.2" y="555.6" width="40.8" height="0.5" fill="#ffffff" opacity="0.39"/>
<rect x="488.2" y="607.92" width="40.8" height="0.5" fill="#ffffff" opacity="0.2"/>
<rect x="488.2" y="541.73" width="40.8" height="0.5" fill="#ffffff" opacity="0.21"/>
<rect x="488.2" y="601.76" width="40.8" height="0.5" fill="#ffffff" opacity="0.32"/>
<rect x="488.2" y="571.66" width="40.8" height="0.5" fill="#ffffff" opacity="0.38"/>
<rect x="488.2" y="575.56" width="40.8" height="0.5" fill="#ffffff" opacity="0.27"/>
<rect x="488.2" y="546.69" width="40.8" height="0.5" fill="#ffffff" opacity="0.39"/>
<rect x="488.2" y="548.1" width="40.8" height="0.5" fill="#ffffff" opacity="0.38"/>
<rect x="488.2" y="597.73" width="40.8" height="0.5" fill="#ffffff" opacity="0.29"/>
<rect x="488.2" y="599.79" width="40.8" height="0.5" fill="#ffffff" opacity="0.22"/>
<rect x="488.2" y="642.27" width="40.8" height="0.5" fill="#ffffff" opacity="0.4"/>
<rect x="488.2" y="631.09" width="40.8" height="0.5" fill="#ffffff" opacity="0.3"/>
<rect x="488.2" y="546.53" width="40.8" height="0.5" fill="#ffffff" opacity="0.36"/>
<line x1="488.2" y1="655.8" x2="529" y2="655.8" stroke="#333" stroke-width="0.9"/>
<line x1="488.2" y1="655.4" x2="488.2" y2="658.2" stroke="#333" stroke-width="0.9"/>
<line x1="501.87" y1="655.4" x2="501.87" y2="658.2" stroke="#333" stroke-width="0.9"/>
<line x1="515.54" y1="655.4" x2="515.54" y2="658.2" stroke="#333" stroke-width="0.9"/>
<line x1="529" y1="655.4" x2="529" y2="658.2" stroke="#333" stroke-width="0.9"/>
<rect x="488.2" y="669" width="40.8" height="3.3" fill="url(#cbar)"/>
<rect x="534.6" y="531.6" width="40.3" height="121.7" fill="#ebe7f6"/>
<g filter="url(#hb)">
<rect x="547.29" y="531.6" width="15.92" height="121.7" fill="url(#midg)"/>
<path d="M547.29,531.6 L564.21,531.6 L563.21,544.6 L557.64,542.6 L552.07,538.6 L547.29,536.6Z" fill="#f0603e" opacity="0.75"/>
<path d="M552.87,531.6 L563.21,531.6 L563.21,542.6 L556.85,540.6Z" fill="#ec4a2a" opacity="0.55"/>
<rect x="547.29" y="531.6" width="27.61" height="1.8" fill="#ee5030" opacity="0.85"/>
<rect x="563.21" y="533.6" width="11.69" height="1.2" fill="#f07050" opacity="0.4"/>
<rect x="534.6" y="531.6" width="12.69" height="1" fill="#f4a490" opacity="0.5"/>
</g>
<g filter="url(#hs)">
<rect x="542.85" y="558.77" width="7.78" height="0.61" fill="#ea4c2e" opacity="0.38"/>
<rect x="534.86" y="590.23" width="4.45" height="1.06" fill="#ea4c2e" opacity="0.48"/>
<rect x="540.01" y="604.69" width="8.95" height="0.86" fill="#ea4c2e" opacity="0.15"/>
<rect x="536.21" y="624.47" width="6.77" height="0.73" fill="#ea4c2e" opacity="0.09"/>
<rect x="538.79" y="593.02" width="5.13" height="0.7" fill="#ea4c2e" opacity="0.23"/>
<rect x="540.01" y="602.48" width="4.17" height="0.86" fill="#ea4c2e" opacity="0.46"/>
<rect x="564.61" y="580.37" width="9.94" height="0.95" fill="#ea4c2e" opacity="0.33"/>
<rect x="563.31" y="582.35" width="10.61" height="0.76" fill="#ea4c2e" opacity="0.16"/>
<rect x="552.62" y="592.56" width="7.29" height="1.04" fill="#ea4c2e" opacity="0.17"/>
<rect x="540.45" y="562.43" width="10.26" height="0.86" fill="#ea4c2e" opacity="0.32"/>
<rect x="539.38" y="617.32" width="3.56" height="0.77" fill="#ea4c2e" opacity="0.08"/>
<rect x="560" y="584.47" width="10" height="0.64" fill="#ea4c2e" opacity="0.21"/>
<rect x="561.49" y="560.78" width="3.69" height="1.08" fill="#ea4c2e" opacity="0.43"/>
<rect x="549.04" y="605.67" width="10.11" height="0.95" fill="#ea4c2e" opacity="0.1"/>
<rect x="537.98" y="592.67" width="9.98" height="0.82" fill="#ea4c2e" opacity="0.08"/>
<rect x="536.57" y="645.23" width="5.41" height="0.54" fill="#ea4c2e" opacity="0.13"/>
<rect x="548.21" y="637.27" width="5.59" height="0.53" fill="#ea4c2e" opacity="0.24"/>
<rect x="545.15" y="533.48" width="7.02" height="1.09" fill="#ea4c2e" opacity="0.44"/>
<rect x="536.98" y="580.71" width="10.44" height="0.62" fill="#ea4c2e" opacity="0.42"/>
<rect x="563.39" y="629.22" width="4.73" height="1.1" fill="#ea4c2e" opacity="0.41"/>
<rect x="561.13" y="549.31" width="11.87" height="0.56" fill="#ea4c2e" opacity="0.07"/>
<rect x="541.86" y="613.76" width="10.01" height="0.58" fill="#ea4c2e" opacity="0.31"/>
<rect x="549.85" y="609.73" width="2.8" height="0.68" fill="#ea4c2e" opacity="0.1"/>
<rect x="536.06" y="611.7" width="4.9" height="0.97" fill="#ea4c2e" opacity="0.28"/>
<rect x="564.9" y="568.5" width="7.94" height="0.68" fill="#ea4c2e" opacity="0.1"/>
<rect x="544.08" y="641.77" width="8.45" height="1.09" fill="#ea4c2e" opacity="0.08"/>
<rect x="563.86" y="576.71" width="3.46" height="0.67" fill="#ea4c2e" opacity="0.25"/>
<rect x="537.59" y="554.57" width="4.87" height="0.65" fill="#ea4c2e" opacity="0.33"/>
<rect x="561.09" y="557.7" width="12.04" height="0.52" fill="#ea4c2e" opacity="0.48"/>
<rect x="547.78" y="579.34" width="11.36" height="0.61" fill="#ea4c2e" opacity="0.2"/>
<rect x="562.48" y="591.28" width="9.63" height="0.81" fill="#ea4c2e" opacity="0.35"/>
<rect x="558.04" y="584.85" width="7.24" height="0.6" fill="#ea4c2e" opacity="0.46"/>
<rect x="539.5" y="621.13" width="4.9" height="0.96" fill="#ea4c2e" opacity="0.17"/>
<rect x="542.68" y="622.09" width="6.93" height="0.85" fill="#ea4c2e" opacity="0.1"/>
<rect x="539.41" y="584.01" width="8.76" height="1.02" fill="#ea4c2e" opacity="0.23"/>
<rect x="534.74" y="547.02" width="7" height="0.77" fill="#ea4c2e" opacity="0.17"/>
<rect x="537.08" y="555.9" width="11.14" height="0.83" fill="#ea4c2e" opacity="0.23"/>
<rect x="535.78" y="622.78" width="5.51" height="0.69" fill="#ea4c2e" opacity="0.07"/>
<rect x="561.72" y="599.77" width="8.93" height="0.99" fill="#ea4c2e" opacity="0.08"/>
<rect x="535.89" y="546.16" width="8.57" height="0.97" fill="#ea4c2e" opacity="0.38"/>
<rect x="562.52" y="535.82" width="5.18" height="0.53" fill="#ea4c2e" opacity="0.47"/>
<rect x="568.38" y="582.82" width="3.46" height="0.95" fill="#ea4c2e" opacity="0.18"/>
<rect x="541.77" y="534.08" width="4.14" height="0.68" fill="#ea4c2e" opacity="0.16"/>
<rect x="534.88" y="574.76" width="11.03" height="0.94" fill="#ea4c2e" opacity="0.34"/>
<rect x="539.05" y="552.28" width="4.95" height="1.06" fill="#ea4c2e" opacity="0.18"/>
<rect x="542.51" y="567.49" width="7.92" height="0.74" fill="#ea4c2e" opacity="0.07"/>
<rect x="537.37" y="603.55" width="8.6" height="0.85" fill="#ea4c2e" opacity="0.4"/>
<rect x="562.75" y="636.04" width="11.49" height="0.97" fill="#ea4c2e" opacity="0.15"/>
<rect x="536.08" y="550.72" width="7.43" height="0.62" fill="#ea4c2e" opacity="0.09"/>
<rect x="562.07" y="550.62" width="7.5" height="0.91" fill="#ea4c2e" opacity="0.49"/>
<rect x="537.69" y="632.7" width="3.59" height="0.72" fill="#ea4c2e" opacity="0.29"/>
<rect x="536.07" y="557.19" width="5.11" height="1.05" fill="#ea4c2e" opacity="0.16"/>
<rect x="537.51" y="612.33" width="4.24" height="0.72" fill="#ea4c2e" opacity="0.45"/>
<rect x="565.67" y="619.21" width="2.21" height="0.73" fill="#ea4c2e" opacity="0.13"/>
<rect x="545.74" y="537.7" width="9.76" height="0.53" fill="#ea4c2e" opacity="0.21"/>
<rect x="534.93" y="571.07" width="4.22" height="0.52" fill="#ea4c2e" opacity="0.24"/>
<rect x="563.97" y="561.46" width="4.37" height="0.66" fill="#ea4c2e" opacity="0.3"/>
<rect x="539.64" y="613.72" width="4.06" height="0.93" fill="#ea4c2e" opacity="0.12"/>
<rect x="566.57" y="572.44" width="5.28" height="0.71" fill="#ea4c2e" opacity="0.12"/>
<rect x="534.8" y="550.76" width="8.08" height="0.99" fill="#ea4c2e" opacity="0.23"/>
<rect x="540" y="648.77" width="10.41" height="0.91" fill="#ea4c2e" opacity="0.1"/>
<rect x="564.35" y="605.79" width="4.36" height="0.55" fill="#ea4c2e" opacity="0.26"/>
<rect x="560.07" y="575.16" width="6.86" height="0.8" fill="#ea4c2e" opacity="0.13"/>
<rect x="537.84" y="557.78" width="6.83" height="0.9" fill="#ea4c2e" opacity="0.09"/>
<rect x="537.36" y="553.35" width="6.4" height="0.85" fill="#ea4c2e" opacity="0.09"/>
<rect x="565.23" y="610.46" width="3.23" height="0.72" fill="#ea4c2e" opacity="0.16"/>
<rect x="560.03" y="535.97" width="7.99" height="0.78" fill="#ea4c2e" opacity="0.24"/>
<rect x="534.79" y="562.99" width="5.8" height="0.84" fill="#ea4c2e" opacity="0.42"/>
<rect x="540.97" y="555.78" width="6.73" height="1.07" fill="#ea4c2e" opacity="0.25"/>
<rect x="567.18" y="567.33" width="7.72" height="0.87" fill="#ea4c2e" opacity="0.26"/>
<rect x="561.81" y="573.12" width="11.36" height="0.73" fill="#ea4c2e" opacity="0.41"/>
<rect x="535.69" y="639.33" width="7.09" height="0.72" fill="#ea4c2e" opacity="0.13"/>
<rect x="536.15" y="648.97" width="4.84" height="0.64" fill="#ea4c2e" opacity="0.29"/>
<rect x="562.76" y="531.63" width="5.41" height="0.89" fill="#ea4c2e" opacity="0.2"/>
<rect x="564.11" y="590.26" width="10.79" height="0.7" fill="#ea4c2e" opacity="0.47"/>
<rect x="545.33" y="565.45" width="9.21" height="0.91" fill="#ea4c2e" opacity="0.3"/>
<rect x="540.06" y="647.09" width="8.26" height="0.84" fill="#ea4c2e" opacity="0.2"/>
<rect x="540.64" y="568.15" width="7.3" height="0.65" fill="#ea4c2e" opacity="0.11"/>
<rect x="538.74" y="562.93" width="4.02" height="0.54" fill="#ea4c2e" opacity="0.07"/>
<rect x="538.46" y="539.42" width="6.55" height="0.79" fill="#ea4c2e" opacity="0.34"/>
<rect x="564.4" y="545.24" width="2.54" height="0.8" fill="#ea4c2e" opacity="0.11"/>
<rect x="565.36" y="623.45" width="5.54" height="0.7" fill="#ea4c2e" opacity="0.31"/>
<rect x="563.47" y="563.96" width="10.35" height="0.75" fill="#ea4c2e" opacity="0.23"/>
<rect x="566.28" y="611.21" width="8.62" height="0.73" fill="#ea4c2e" opacity="0.08"/>
<rect x="536.09" y="606.16" width="3.11" height="1.06" fill="#ea4c2e" opacity="0.24"/>
<rect x="540.14" y="648.03" width="6.38" height="0.74" fill="#ea4c2e" opacity="0.26"/>
<rect x="536.27" y="642.72" width="9.19" height="0.53" fill="#ea4c2e" opacity="0.08"/>
<rect x="568.64" y="558.48" width="3.21" height="0.52" fill="#ea4c2e" opacity="0.13"/>
<rect x="562.6" y="589.55" width="6.12" height="1" fill="#ea4c2e" opacity="0.36"/>
<rect x="564.57" y="558.22" width="10.33" height="0.73" fill="#ea4c2e" opacity="0.48"/>
<rect x="566.04" y="609.47" width="4.48" height="0.56" fill="#ea4c2e" opacity="0.09"/>
<rect x="538.54" y="642.74" width="3.97" height="0.51" fill="#ea4c2e" opacity="0.13"/>
<rect x="539.64" y="592.56" width="5.21" height="0.79" fill="#ea4c2e" opacity="0.1"/>
<rect x="535.01" y="567.71" width="3.52" height="0.69" fill="#ea4c2e" opacity="0.42"/>
<rect x="538.5" y="537.29" width="11.04" height="1.02" fill="#ea4c2e" opacity="0.1"/>
<rect x="566.09" y="582.16" width="6.99" height="0.83" fill="#ea4c2e" opacity="0.07"/>
<rect x="561.82" y="604.49" width="12.46" height="1.1" fill="#ea4c2e" opacity="0.4"/>
<rect x="559.43" y="577.06" width="3.77" height="0.6" fill="#ea4c2e" opacity="0.07"/>
<rect x="537.49" y="540.96" width="9.07" height="0.81" fill="#ea4c2e" opacity="0.13"/>
<rect x="542.33" y="532.11" width="3.09" height="0.99" fill="#ea4c2e" opacity="0.21"/>
<rect x="548.28" y="622.88" width="10.09" height="0.96" fill="#ea4c2e" opacity="0.37"/>
<rect x="542.26" y="650.27" width="6.24" height="0.65" fill="#ea4c2e" opacity="0.3"/>
<rect x="539.25" y="639.33" width="4.83" height="0.72" fill="#ea4c2e" opacity="0.15"/>
<rect x="547.09" y="604.51" width="8.43" height="0.67" fill="#ea4c2e" opacity="0.14"/>
<rect x="535.36" y="638.7" width="5.7" height="0.63" fill="#ea4c2e" opacity="0.32"/>
<rect x="565.07" y="616.13" width="4.79" height="0.59" fill="#ea4c2e" opacity="0.08"/>
<rect x="559.66" y="565.88" width="8.06" height="0.69" fill="#ea4c2e" opacity="0.16"/>
<rect x="541.61" y="588.85" width="10.87" height="0.95" fill="#ea4c2e" opacity="0.13"/>
<rect x="549.33" y="539.99" width="11.7" height="0.74" fill="#ea4c2e" opacity="0.1"/>
<rect x="536.8" y="611.09" width="8.46" height="0.69" fill="#ea4c2e" opacity="0.45"/>
<rect x="567.56" y="547.37" width="4.49" height="0.73" fill="#ea4c2e" opacity="0.26"/>
<rect x="539.57" y="602.77" width="10.15" height="0.88" fill="#ea4c2e" opacity="0.39"/>
<rect x="560.51" y="584.75" width="11.44" height="0.77" fill="#ea4c2e" opacity="0.29"/>
<rect x="562.69" y="605.64" width="5.32" height="0.84" fill="#ea4c2e" opacity="0.25"/>
<rect x="539.66" y="586.06" width="6.6" height="0.86" fill="#ea4c2e" opacity="0.24"/>
<rect x="538.38" y="642.46" width="11" height="0.69" fill="#ea4c2e" opacity="0.32"/>
<rect x="548.37" y="615.25" width="10.74" height="1.09" fill="#ea4c2e" opacity="0.08"/>
<rect x="541.37" y="583.02" width="8.23" height="1" fill="#ea4c2e" opacity="0.45"/>
<rect x="567.6" y="623.62" width="3.65" height="0.93" fill="#ea4c2e" opacity="0.4"/>
<rect x="550.15" y="554.55" width="7.4" height="0.62" fill="#ea4c2e" opacity="0.4"/>
<rect x="560.18" y="557.76" width="8.59" height="0.79" fill="#ea4c2e" opacity="0.35"/>
<rect x="563.89" y="553.57" width="9.77" height="1.04" fill="#ea4c2e" opacity="0.22"/>
<rect x="537.55" y="623.5" width="3.81" height="0.71" fill="#ea4c2e" opacity="0.07"/>
<rect x="538.62" y="633" width="3.83" height="1.01" fill="#ea4c2e" opacity="0.15"/>
<rect x="537.06" y="599.22" width="11.95" height="0.88" fill="#ea4c2e" opacity="0.1"/>
<rect x="541.35" y="634.65" width="8.73" height="0.51" fill="#ea4c2e" opacity="0.17"/>
<rect x="539.68" y="564.62" width="5.24" height="0.92" fill="#ea4c2e" opacity="0.25"/>
<rect x="540.19" y="547.09" width="6.76" height="0.57" fill="#ea4c2e" opacity="0.08"/>
<rect x="562.47" y="643.81" width="4.98" height="0.91" fill="#ea4c2e" opacity="0.49"/>
<rect x="562.09" y="615.19" width="7.11" height="0.88" fill="#ea4c2e" opacity="0.09"/>
<rect x="548.61" y="574.79" width="6.6" height="1.06" fill="#ea4c2e" opacity="0.2"/>
<rect x="542.65" y="565.42" width="7.84" height="1.02" fill="#ea4c2e" opacity="0.12"/>
<rect x="557.78" y="558.53" width="6.58" height="0.73" fill="#ea4c2e" opacity="0.44"/>
<rect x="563.2" y="616.15" width="3.65" height="0.67" fill="#ea4c2e" opacity="0.17"/>
<rect x="544.64" y="576.78" width="9" height="0.65" fill="#ea4c2e" opacity="0.28"/>
<rect x="541.82" y="573.19" width="5.03" height="0.7" fill="#ea4c2e" opacity="0.17"/>
<rect x="554.83" y="626.79" width="7.5" height="1.04" fill="#ea4c2e" opacity="0.08"/>
<rect x="562.6" y="538.17" width="10.28" height="0.71" fill="#ea4c2e" opacity="0.28"/>
<rect x="535.4" y="637.67" width="8.38" height="0.72" fill="#ea4c2e" opacity="0.19"/>
<rect x="540.01" y="579.74" width="7.88" height="1.09" fill="#ea4c2e" opacity="0.47"/>
<rect x="566.27" y="651.23" width="8.63" height="1.1" fill="#ea4c2e" opacity="0.3"/>
<rect x="562.82" y="536.27" width="9.61" height="1.09" fill="#ea4c2e" opacity="0.1"/>
<rect x="560.74" y="550.09" width="6.98" height="0.55" fill="#ea4c2e" opacity="0.32"/>
<rect x="564.61" y="545.68" width="10.29" height="0.99" fill="#ea4c2e" opacity="0.11"/>
<rect x="538.7" y="614.45" width="6.72" height="1.02" fill="#ea4c2e" opacity="0.07"/>
<rect x="535.43" y="644.31" width="5.54" height="0.82" fill="#ea4c2e" opacity="0.22"/>
<rect x="544.93" y="540.25" width="7.11" height="0.84" fill="#ea4c2e" opacity="0.08"/>
<rect x="538.73" y="542.01" width="5.37" height="0.65" fill="#ea4c2e" opacity="0.34"/>
<rect x="536.35" y="573.48" width="6.64" height="0.78" fill="#ea4c2e" opacity="0.23"/>
<rect x="541.45" y="631.02" width="4.25" height="0.81" fill="#ea4c2e" opacity="0.47"/>
<rect x="547.5" y="546.6" width="1.2" height="101.7" fill="#f29070" opacity="0.12"/>
<rect x="561.81" y="546.6" width="1.2" height="101.7" fill="#f29070" opacity="0.12"/>
</g>
<rect x="534.6" y="581.06" width="40.3" height="0.5" fill="#ffffff" opacity="0.3"/>
<rect x="534.6" y="636.73" width="40.3" height="0.5" fill="#ffffff" opacity="0.39"/>
<rect x="534.6" y="581.91" width="40.3" height="0.5" fill="#ffffff" opacity="0.15"/>
<rect x="534.6" y="550.31" width="40.3" height="0.5" fill="#ffffff" opacity="0.35"/>
<rect x="534.6" y="620.98" width="40.3" height="0.5" fill="#ffffff" opacity="0.33"/>
<rect x="534.6" y="550.65" width="40.3" height="0.5" fill="#ffffff" opacity="0.28"/>
<rect x="534.6" y="535.07" width="40.3" height="0.5" fill="#ffffff" opacity="0.18"/>
<rect x="534.6" y="568.2" width="40.3" height="0.5" fill="#ffffff" opacity="0.39"/>
<rect x="534.6" y="609.86" width="40.3" height="0.5" fill="#ffffff" opacity="0.36"/>
<rect x="534.6" y="537.21" width="40.3" height="0.5" fill="#ffffff" opacity="0.25"/>
<rect x="534.6" y="541.14" width="40.3" height="0.5" fill="#ffffff" opacity="0.22"/>
<rect x="534.6" y="545.2" width="40.3" height="0.5" fill="#ffffff" opacity="0.38"/>
<rect x="534.6" y="571.61" width="40.3" height="0.5" fill="#ffffff" opacity="0.27"/>
<rect x="534.6" y="611.19" width="40.3" height="0.5" fill="#ffffff" opacity="0.37"/>
<rect x="534.6" y="646.78" width="40.3" height="0.5" fill="#ffffff" opacity="0.29"/>
<rect x="534.6" y="592.57" width="40.3" height="0.5" fill="#ffffff" opacity="0.38"/>
<rect x="534.6" y="579.6" width="40.3" height="0.5" fill="#ffffff" opacity="0.22"/>
<rect x="534.6" y="621.58" width="40.3" height="0.5" fill="#ffffff" opacity="0.21"/>
<rect x="534.6" y="576.37" width="40.3" height="0.5" fill="#ffffff" opacity="0.26"/>
<rect x="534.6" y="589.64" width="40.3" height="0.5" fill="#ffffff" opacity="0.24"/>
<rect x="534.6" y="583.99" width="40.3" height="0.5" fill="#ffffff" opacity="0.26"/>
<rect x="534.6" y="537.63" width="40.3" height="0.5" fill="#ffffff" opacity="0.36"/>
<rect x="534.6" y="539.11" width="40.3" height="0.5" fill="#ffffff" opacity="0.28"/>
<rect x="534.6" y="598.24" width="40.3" height="0.5" fill="#ffffff" opacity="0.25"/>
<rect x="534.6" y="558.7" width="40.3" height="0.5" fill="#ffffff" opacity="0.17"/>
<rect x="534.6" y="576.86" width="40.3" height="0.5" fill="#ffffff" opacity="0.23"/>
<rect x="534.6" y="590.5" width="40.3" height="0.5" fill="#ffffff" opacity="0.21"/>
<rect x="534.6" y="622.81" width="40.3" height="0.5" fill="#ffffff" opacity="0.27"/>
<rect x="534.6" y="532.69" width="40.3" height="0.5" fill="#ffffff" opacity="0.25"/>
<rect x="534.6" y="649.2" width="40.3" height="0.5" fill="#ffffff" opacity="0.15"/>
<line x1="534.6" y1="655.8" x2="574.9" y2="655.8" stroke="#333" stroke-width="0.9"/>
<line x1="534.6" y1="655.4" x2="534.6" y2="658.2" stroke="#333" stroke-width="0.9"/>
<line x1="548.1" y1="655.4" x2="548.1" y2="658.2" stroke="#333" stroke-width="0.9"/>
<line x1="561.6" y1="655.4" x2="561.6" y2="658.2" stroke="#333" stroke-width="0.9"/>
<line x1="574.9" y1="655.4" x2="574.9" y2="658.2" stroke="#333" stroke-width="0.9"/>
<rect x="534.6" y="669" width="40.3" height="3.3" fill="url(#cbar)"/>
<rect x="580.3" y="531.6" width="41" height="121.7" fill="#ebe7f6"/>
<g filter="url(#hb)">
<rect x="593.21" y="531.6" width="16.2" height="121.7" fill="url(#midg3)"/>
<rect x="590.96" y="533.1" width="4.92" height="4" fill="#ec4a2c" opacity="0.9"/>
<rect x="590.96" y="537.6" width="4.92" height="2" fill="#ec4a2c" opacity="0.75"/>
<rect x="590.96" y="540.6" width="4.92" height="3" fill="#ec4a2c" opacity="0.85"/>
<rect x="590.96" y="545.6" width="4.92" height="3" fill="#ec4a2c" opacity="0.75"/>
<rect x="590.96" y="551.6" width="4.92" height="2.5" fill="#ec4a2c" opacity="0.7"/>
<rect x="590.96" y="558.6" width="4.92" height="2" fill="#ec4a2c" opacity="0.6"/>
<rect x="590.96" y="565.6" width="4.92" height="1.5" fill="#ec4a2c" opacity="0.55"/>
<rect x="590.96" y="571.6" width="4.92" height="1.5" fill="#ec4a2c" opacity="0.5"/>
<rect x="590.96" y="578.6" width="4.92" height="1.2" fill="#ec4a2c" opacity="0.45"/>
<rect x="590.96" y="586.6" width="4.92" height="1.2" fill="#ec4a2c" opacity="0.4"/>
<rect x="592.6" y="534.6" width="10.25" height="1.2" fill="#ee6a4a" opacity="0.45"/>
<rect x="588.5" y="537.8" width="15.58" height="1.2" fill="#ee6a4a" opacity="0.5"/>
<rect x="592.6" y="541.6" width="8.2" height="1.2" fill="#ee6a4a" opacity="0.3"/>
<rect x="592.6" y="546.1" width="10.25" height="1.2" fill="#ee6a4a" opacity="0.3"/>
</g>
<g filter="url(#hs)">
<rect x="593.04" y="596.12" width="8.13" height="0.68" fill="#ea4c2e" opacity="0.15"/>
<rect x="608.3" y="598.19" width="8.1" height="0.95" fill="#ea4c2e" opacity="0.21"/>
<rect x="582.37" y="535.16" width="5.21" height="0.76" fill="#ea4c2e" opacity="0.35"/>
<rect x="608.06" y="632.32" width="9.97" height="1.09" fill="#ea4c2e" opacity="0.08"/>
<rect x="582.9" y="628.33" width="9.72" height="0.89" fill="#ea4c2e" opacity="0.35"/>
<rect x="581.97" y="535.46" width="8.4" height="1.06" fill="#ea4c2e" opacity="0.22"/>
<rect x="587.96" y="602.08" width="9.17" height="0.5" fill="#ea4c2e" opacity="0.24"/>
<rect x="611.29" y="615.28" width="10.01" height="0.54" fill="#ea4c2e" opacity="0.43"/>
<rect x="611.88" y="621.37" width="6.87" height="0.76" fill="#ea4c2e" opacity="0.18"/>
<rect x="586.32" y="540.89" width="3.59" height="1" fill="#ea4c2e" opacity="0.08"/>
<rect x="606.65" y="605.74" width="4.21" height="1.07" fill="#ea4c2e" opacity="0.13"/>
<rect x="587.66" y="591.82" width="6.25" height="1" fill="#ea4c2e" opacity="0.22"/>
<rect x="596.76" y="541.4" width="2.32" height="0.73" fill="#ea4c2e" opacity="0.17"/>
<rect x="597.5" y="606.83" width="9.07" height="0.97" fill="#ea4c2e" opacity="0.15"/>
<rect x="586.1" y="539.7" width="8" height="0.71" fill="#ea4c2e" opacity="0.1"/>
<rect x="585.15" y="545.37" width="7.26" height="0.84" fill="#ea4c2e" opacity="0.15"/>
<rect x="610.51" y="629.84" width="7.92" height="0.7" fill="#ea4c2e" opacity="0.48"/>
<rect x="582.44" y="609.93" width="8.99" height="0.65" fill="#ea4c2e" opacity="0.23"/>
<rect x="593.46" y="536.07" width="9.34" height="0.87" fill="#ea4c2e" opacity="0.17"/>
<rect x="612" y="591.73" width="6.67" height="0.64" fill="#ea4c2e" opacity="0.19"/>
<rect x="582.81" y="617.49" width="9.95" height="0.92" fill="#ea4c2e" opacity="0.07"/>
<rect x="608.45" y="592.83" width="4.55" height="0.96" fill="#ea4c2e" opacity="0.46"/>
<rect x="586.73" y="624.74" width="4.79" height="0.82" fill="#ea4c2e" opacity="0.1"/>
<rect x="586.57" y="598.27" width="7.78" height="1.05" fill="#ea4c2e" opacity="0.42"/>
<rect x="613.52" y="608.83" width="7.78" height="1.01" fill="#ea4c2e" opacity="0.12"/>
<rect x="582.34" y="613.91" width="3.17" height="0.65" fill="#ea4c2e" opacity="0.22"/>
<rect x="581.38" y="559.27" width="6.98" height="0.67" fill="#ea4c2e" opacity="0.12"/>
<rect x="612.89" y="557.53" width="4.64" height="1.01" fill="#ea4c2e" opacity="0.39"/>
<rect x="611.74" y="598.22" width="8.48" height="1.05" fill="#ea4c2e" opacity="0.28"/>
<rect x="580.75" y="620.52" width="10.68" height="0.97" fill="#ea4c2e" opacity="0.14"/>
<rect x="608.76" y="552.66" width="10.47" height="0.8" fill="#ea4c2e" opacity="0.45"/>
<rect x="582.2" y="592.57" width="10.79" height="1.06" fill="#ea4c2e" opacity="0.08"/>
<rect x="587.69" y="604.53" width="3.84" height="0.57" fill="#ea4c2e" opacity="0.23"/>
<rect x="587.45" y="650.68" width="3.5" height="0.54" fill="#ea4c2e" opacity="0.28"/>
<rect x="613.78" y="533.37" width="7.52" height="0.97" fill="#ea4c2e" opacity="0.39"/>
<rect x="584.62" y="586.82" width="4.51" height="0.71" fill="#ea4c2e" opacity="0.21"/>
<rect x="586.08" y="584.01" width="6.42" height="0.55" fill="#ea4c2e" opacity="0.19"/>
<rect x="613.69" y="582.5" width="7.61" height="0.68" fill="#ea4c2e" opacity="0.08"/>
<rect x="613.02" y="564.16" width="8.28" height="1.06" fill="#ea4c2e" opacity="0.45"/>
<rect x="581" y="632.13" width="7.02" height="0.91" fill="#ea4c2e" opacity="0.24"/>
<rect x="613.37" y="598.66" width="3.89" height="1.08" fill="#ea4c2e" opacity="0.21"/>
<rect x="587.43" y="533.53" width="10.85" height="0.52" fill="#ea4c2e" opacity="0.07"/>
<rect x="598.41" y="628.08" width="7.95" height="0.98" fill="#ea4c2e" opacity="0.33"/>
<rect x="586.81" y="531.62" width="11" height="0.74" fill="#ea4c2e" opacity="0.38"/>
<rect x="580.42" y="564.15" width="9.32" height="0.85" fill="#ea4c2e" opacity="0.11"/>
<rect x="585.83" y="587.45" width="6.73" height="1.03" fill="#ea4c2e" opacity="0.11"/>
<rect x="582.38" y="546.58" width="6.93" height="0.7" fill="#ea4c2e" opacity="0.35"/>
<rect x="589.37" y="553.18" width="7.36" height="1.03" fill="#ea4c2e" opacity="0.11"/>
<rect x="582.77" y="547.48" width="5.7" height="0.9" fill="#ea4c2e" opacity="0.31"/>
<rect x="606.36" y="622.61" width="10.83" height="0.63" fill="#ea4c2e" opacity="0.11"/>
<rect x="593.22" y="573.53" width="5.65" height="1.09" fill="#ea4c2e" opacity="0.43"/>
<rect x="586.77" y="570.25" width="9.41" height="0.97" fill="#ea4c2e" opacity="0.14"/>
<rect x="585.17" y="569.33" width="9.08" height="0.99" fill="#ea4c2e" opacity="0.19"/>
<rect x="608.84" y="532.31" width="3.67" height="0.59" fill="#ea4c2e" opacity="0.43"/>
<rect x="613.77" y="549.68" width="7.53" height="1.06" fill="#ea4c2e" opacity="0.14"/>
<rect x="613.25" y="543.18" width="3.97" height="0.91" fill="#ea4c2e" opacity="0.08"/>
<rect x="613.38" y="635.49" width="6.65" height="0.57" fill="#ea4c2e" opacity="0.15"/>
<rect x="582.8" y="557.02" width="3.89" height="0.53" fill="#ea4c2e" opacity="0.14"/>
<rect x="581.31" y="560.86" width="7.32" height="0.84" fill="#ea4c2e" opacity="0.22"/>
<rect x="613.49" y="618.74" width="3.84" height="0.55" fill="#ea4c2e" opacity="0.1"/>
<rect x="612.51" y="561.14" width="7.16" height="0.7" fill="#ea4c2e" opacity="0.09"/>
<rect x="586.8" y="592.88" width="10.98" height="0.86" fill="#ea4c2e" opacity="0.18"/>
<rect x="607.28" y="630.35" width="12.68" height="0.51" fill="#ea4c2e" opacity="0.47"/>
<rect x="606.15" y="618.8" width="4.67" height="0.94" fill="#ea4c2e" opacity="0.09"/>
<rect x="582.1" y="550.32" width="9.55" height="0.89" fill="#ea4c2e" opacity="0.2"/>
<rect x="580.42" y="579.77" width="5.5" height="0.66" fill="#ea4c2e" opacity="0.07"/>
<rect x="609.6" y="599.45" width="9.4" height="0.71" fill="#ea4c2e" opacity="0.13"/>
<rect x="609.14" y="635.68" width="8.54" height="0.7" fill="#ea4c2e" opacity="0.18"/>
<rect x="587.97" y="639.91" width="9.99" height="0.6" fill="#ea4c2e" opacity="0.41"/>
<rect x="590.36" y="585.26" width="3.75" height="0.64" fill="#ea4c2e" opacity="0.31"/>
<rect x="588.07" y="594.85" width="5.33" height="0.91" fill="#ea4c2e" opacity="0.08"/>
<rect x="609.8" y="565.5" width="11.5" height="0.73" fill="#ea4c2e" opacity="0.21"/>
<rect x="607.93" y="531.66" width="8.89" height="0.78" fill="#ea4c2e" opacity="0.26"/>
<rect x="609.67" y="538.31" width="9.57" height="0.67" fill="#ea4c2e" opacity="0.47"/>
<rect x="586.86" y="577" width="4.92" height="0.98" fill="#ea4c2e" opacity="0.38"/>
<rect x="597.86" y="554.98" width="6.37" height="1.07" fill="#ea4c2e" opacity="0.22"/>
<rect x="608.1" y="582.86" width="11.62" height="0.71" fill="#ea4c2e" opacity="0.2"/>
<rect x="587.14" y="548.73" width="9.59" height="1.05" fill="#ea4c2e" opacity="0.47"/>
<rect x="605.1" y="608.27" width="10.3" height="0.61" fill="#ea4c2e" opacity="0.36"/>
<rect x="582.3" y="625.99" width="10.54" height="0.81" fill="#ea4c2e" opacity="0.07"/>
<rect x="601.58" y="565.04" width="11.34" height="0.89" fill="#ea4c2e" opacity="0.44"/>
<rect x="584.11" y="536.1" width="12.07" height="0.69" fill="#ea4c2e" opacity="0.4"/>
<rect x="606.72" y="547.63" width="12.1" height="0.58" fill="#ea4c2e" opacity="0.26"/>
<rect x="587.42" y="613.89" width="9.3" height="1.02" fill="#ea4c2e" opacity="0.35"/>
<rect x="602.57" y="592.97" width="7.04" height="0.71" fill="#ea4c2e" opacity="0.15"/>
<rect x="586.82" y="532.9" width="4.88" height="0.97" fill="#ea4c2e" opacity="0.27"/>
<rect x="608.31" y="609.52" width="5.8" height="0.89" fill="#ea4c2e" opacity="0.09"/>
<rect x="591.82" y="608.43" width="11.5" height="0.67" fill="#ea4c2e" opacity="0.43"/>
<rect x="613.61" y="645.39" width="7.69" height="0.67" fill="#ea4c2e" opacity="0.13"/>
<rect x="606.01" y="586.99" width="11.84" height="0.78" fill="#ea4c2e" opacity="0.22"/>
<rect x="581.93" y="616.32" width="7.76" height="0.7" fill="#ea4c2e" opacity="0.11"/>
<rect x="583.21" y="536.56" width="7.32" height="0.88" fill="#ea4c2e" opacity="0.45"/>
<rect x="607.65" y="573.54" width="7.86" height="0.57" fill="#ea4c2e" opacity="0.46"/>
<rect x="606.87" y="575.81" width="7.69" height="1.06" fill="#ea4c2e" opacity="0.27"/>
<rect x="584.74" y="638.33" width="11.18" height="0.61" fill="#ea4c2e" opacity="0.21"/>
<rect x="581.53" y="619.27" width="7.52" height="0.93" fill="#ea4c2e" opacity="0.12"/>
<rect x="586.59" y="613.9" width="8.31" height="0.77" fill="#ea4c2e" opacity="0.3"/>
<rect x="584.19" y="575.74" width="10.83" height="0.53" fill="#ea4c2e" opacity="0.41"/>
<rect x="585.99" y="536.65" width="6.59" height="0.76" fill="#ea4c2e" opacity="0.08"/>
<rect x="594.35" y="593.49" width="8.66" height="0.87" fill="#ea4c2e" opacity="0.29"/>
<rect x="584.78" y="534.63" width="2.56" height="0.51" fill="#ea4c2e" opacity="0.19"/>
<rect x="609.56" y="536.81" width="4.08" height="1.01" fill="#ea4c2e" opacity="0.46"/>
<rect x="608.31" y="582.46" width="12.99" height="0.68" fill="#ea4c2e" opacity="0.08"/>
<rect x="598.03" y="551.32" width="6.21" height="1.03" fill="#ea4c2e" opacity="0.16"/>
<rect x="604.98" y="555.29" width="6.6" height="0.76" fill="#ea4c2e" opacity="0.15"/>
<rect x="585.42" y="578.27" width="6.37" height="0.96" fill="#ea4c2e" opacity="0.13"/>
<rect x="612.93" y="578.53" width="7.66" height="1.04" fill="#ea4c2e" opacity="0.15"/>
<rect x="594.29" y="648.89" width="8.88" height="0.68" fill="#ea4c2e" opacity="0.32"/>
<rect x="603.15" y="613.52" width="8.86" height="0.89" fill="#ea4c2e" opacity="0.17"/>
<rect x="599.09" y="551.86" width="12.04" height="0.93" fill="#ea4c2e" opacity="0.14"/>
<rect x="612" y="532.49" width="5.66" height="0.63" fill="#ea4c2e" opacity="0.25"/>
<rect x="587.15" y="571.6" width="11.36" height="0.85" fill="#ea4c2e" opacity="0.07"/>
<rect x="593.94" y="626.9" width="8.05" height="0.96" fill="#ea4c2e" opacity="0.31"/>
<rect x="607.78" y="616.6" width="10.23" height="0.83" fill="#ea4c2e" opacity="0.23"/>
<rect x="586.7" y="650.43" width="5.66" height="1.07" fill="#ea4c2e" opacity="0.31"/>
<rect x="610.05" y="557.18" width="8.08" height="0.88" fill="#ea4c2e" opacity="0.09"/>
<rect x="590.38" y="637.04" width="10.26" height="0.59" fill="#ea4c2e" opacity="0.17"/>
<rect x="610.06" y="597.75" width="11.24" height="1.07" fill="#ea4c2e" opacity="0.23"/>
<rect x="582.93" y="566.15" width="5.08" height="0.91" fill="#ea4c2e" opacity="0.29"/>
<rect x="607.96" y="627.9" width="6.67" height="0.51" fill="#ea4c2e" opacity="0.22"/>
<rect x="585.48" y="568.74" width="5.19" height="1.06" fill="#ea4c2e" opacity="0.4"/>
<rect x="581.27" y="554.44" width="3.7" height="0.94" fill="#ea4c2e" opacity="0.35"/>
<rect x="611.42" y="556.06" width="3.29" height="1.02" fill="#ea4c2e" opacity="0.37"/>
<rect x="604.67" y="550.29" width="5.45" height="0.63" fill="#ea4c2e" opacity="0.41"/>
<rect x="583.92" y="580.87" width="9.66" height="0.87" fill="#ea4c2e" opacity="0.23"/>
<rect x="582.13" y="650.42" width="8.08" height="1.08" fill="#ea4c2e" opacity="0.09"/>
<rect x="609.26" y="564.82" width="11.48" height="0.91" fill="#ea4c2e" opacity="0.43"/>
<rect x="611.51" y="546.14" width="5.21" height="1.02" fill="#ea4c2e" opacity="0.41"/>
<rect x="607.6" y="551.91" width="10.37" height="0.92" fill="#ea4c2e" opacity="0.07"/>
<rect x="599.23" y="535.94" width="7.98" height="0.53" fill="#ea4c2e" opacity="0.08"/>
<rect x="601.21" y="566.21" width="10.84" height="0.56" fill="#ea4c2e" opacity="0.07"/>
<rect x="586.45" y="532.76" width="4.79" height="0.92" fill="#ea4c2e" opacity="0.28"/>
<rect x="608.09" y="562.63" width="8.75" height="0.72" fill="#ea4c2e" opacity="0.14"/>
<rect x="582.44" y="554.35" width="3.13" height="0.86" fill="#ea4c2e" opacity="0.13"/>
<rect x="587.24" y="556.53" width="6.85" height="0.69" fill="#ea4c2e" opacity="0.2"/>
<rect x="602" y="636.14" width="8.76" height="0.8" fill="#ea4c2e" opacity="0.29"/>
<rect x="609.85" y="573.39" width="7.8" height="0.82" fill="#ea4c2e" opacity="0.21"/>
<rect x="588.11" y="622.37" width="2.23" height="0.52" fill="#ea4c2e" opacity="0.12"/>
<rect x="608.06" y="623.44" width="4.96" height="1" fill="#ea4c2e" opacity="0.4"/>
<rect x="606.25" y="608.07" width="6.66" height="0.83" fill="#ea4c2e" opacity="0.16"/>
<rect x="612.26" y="635.2" width="9.04" height="0.65" fill="#ea4c2e" opacity="0.08"/>
<rect x="609.94" y="648.11" width="6.18" height="0.81" fill="#ea4c2e" opacity="0.4"/>
<rect x="588.44" y="650.9" width="3.11" height="0.73" fill="#ea4c2e" opacity="0.09"/>
<rect x="584.91" y="602.19" width="10.7" height="0.96" fill="#ea4c2e" opacity="0.17"/>
<rect x="607.14" y="595.93" width="7.76" height="0.9" fill="#ea4c2e" opacity="0.42"/>
<rect x="610.18" y="550.87" width="6.45" height="0.88" fill="#ea4c2e" opacity="0.24"/>
<rect x="585.68" y="532.56" width="4.76" height="0.96" fill="#ea4c2e" opacity="0.07"/>
<rect x="599.77" y="563.96" width="3.04" height="0.66" fill="#ea4c2e" opacity="0.27"/>
<rect x="606.73" y="625.95" width="2.59" height="0.98" fill="#ea4c2e" opacity="0.07"/>
<rect x="580.55" y="543.05" width="4.34" height="1.07" fill="#ea4c2e" opacity="0.19"/>
<rect x="587.09" y="562.5" width="4.51" height="0.87" fill="#ea4c2e" opacity="0.26"/>
<rect x="584.92" y="642.99" width="6.14" height="0.65" fill="#ea4c2e" opacity="0.37"/>
<rect x="584.36" y="612.3" width="10.94" height="0.67" fill="#ea4c2e" opacity="0.11"/>
<rect x="582.6" y="640.45" width="3.91" height="0.67" fill="#ea4c2e" opacity="0.11"/>
<rect x="614.44" y="630.16" width="6.86" height="0.73" fill="#ea4c2e" opacity="0.26"/>
<rect x="606.2" y="612.62" width="8.04" height="0.82" fill="#ea4c2e" opacity="0.15"/>
<rect x="588.36" y="534.82" width="6.04" height="0.59" fill="#ea4c2e" opacity="0.13"/>
<rect x="586.59" y="596.01" width="7.13" height="0.96" fill="#ea4c2e" opacity="0.2"/>
<rect x="581.86" y="592.45" width="8.94" height="1.02" fill="#ea4c2e" opacity="0.08"/>
<rect x="584.14" y="533.65" width="9.92" height="0.95" fill="#ea4c2e" opacity="0.26"/>
<rect x="582.1" y="618.57" width="10.46" height="0.6" fill="#ea4c2e" opacity="0.09"/>
<rect x="587.49" y="533.95" width="6.12" height="0.53" fill="#ea4c2e" opacity="0.08"/>
<rect x="613.23" y="630.41" width="3.38" height="0.67" fill="#ea4c2e" opacity="0.08"/>
<rect x="581.94" y="548.16" width="8.25" height="0.6" fill="#ea4c2e" opacity="0.09"/>
<rect x="606.95" y="588.65" width="8.82" height="0.73" fill="#ea4c2e" opacity="0.2"/>
<rect x="585.34" y="580.91" width="4.59" height="0.51" fill="#ea4c2e" opacity="0.14"/>
<rect x="608.94" y="636.22" width="8.55" height="0.58" fill="#ea4c2e" opacity="0.45"/>
<rect x="593.27" y="569.81" width="9.24" height="0.52" fill="#ea4c2e" opacity="0.43"/>
<rect x="586.45" y="558.31" width="9.43" height="1.05" fill="#ea4c2e" opacity="0.3"/>
<rect x="612.71" y="547.61" width="8.59" height="1.09" fill="#ea4c2e" opacity="0.08"/>
<rect x="592.92" y="615.76" width="8.21" height="1.04" fill="#ea4c2e" opacity="0.46"/>
<rect x="615.11" y="594" width="6.19" height="1.08" fill="#ea4c2e" opacity="0.28"/>
<rect x="610.35" y="543.37" width="4.35" height="0.54" fill="#ea4c2e" opacity="0.35"/>
<rect x="582.95" y="600.76" width="7.98" height="0.77" fill="#ea4c2e" opacity="0.1"/>
<rect x="589.45" y="631.93" width="5.75" height="0.61" fill="#ea4c2e" opacity="0.3"/>
<rect x="584.87" y="630.79" width="5.78" height="0.5" fill="#ea4c2e" opacity="0.07"/>
<rect x="582.56" y="531.67" width="11.13" height="0.54" fill="#ea4c2e" opacity="0.27"/>
<rect x="584.25" y="612.44" width="8.93" height="1.06" fill="#ea4c2e" opacity="0.39"/>
<rect x="583.56" y="574.33" width="5.56" height="0.78" fill="#ea4c2e" opacity="0.32"/>
<rect x="586.72" y="608.32" width="10.93" height="0.87" fill="#ea4c2e" opacity="0.1"/>
<rect x="592.82" y="546.6" width="1.2" height="101.7" fill="#f29070" opacity="0.12"/>
</g>
<rect x="580.3" y="551.33" width="41" height="0.5" fill="#ffffff" opacity="0.16"/>
<rect x="580.3" y="581.98" width="41" height="0.5" fill="#ffffff" opacity="0.2"/>
<rect x="580.3" y="620.53" width="41" height="0.5" fill="#ffffff" opacity="0.29"/>
<rect x="580.3" y="613.69" width="41" height="0.5" fill="#ffffff" opacity="0.39"/>
<rect x="580.3" y="538.69" width="41" height="0.5" fill="#ffffff" opacity="0.17"/>
<rect x="580.3" y="535.95" width="41" height="0.5" fill="#ffffff" opacity="0.26"/>
<rect x="580.3" y="631.94" width="41" height="0.5" fill="#ffffff" opacity="0.32"/>
<rect x="580.3" y="598.27" width="41" height="0.5" fill="#ffffff" opacity="0.36"/>
<rect x="580.3" y="576.89" width="41" height="0.5" fill="#ffffff" opacity="0.18"/>
<rect x="580.3" y="609.68" width="41" height="0.5" fill="#ffffff" opacity="0.16"/>
<rect x="580.3" y="559.51" width="41" height="0.5" fill="#ffffff" opacity="0.16"/>
<rect x="580.3" y="551.27" width="41" height="0.5" fill="#ffffff" opacity="0.17"/>
<rect x="580.3" y="596.29" width="41" height="0.5" fill="#ffffff" opacity="0.18"/>
<rect x="580.3" y="605.04" width="41" height="0.5" fill="#ffffff" opacity="0.36"/>
<rect x="580.3" y="573.51" width="41" height="0.5" fill="#ffffff" opacity="0.18"/>
<rect x="580.3" y="613.29" width="41" height="0.5" fill="#ffffff" opacity="0.33"/>
<rect x="580.3" y="639.18" width="41" height="0.5" fill="#ffffff" opacity="0.29"/>
<rect x="580.3" y="602.44" width="41" height="0.5" fill="#ffffff" opacity="0.37"/>
<rect x="580.3" y="614.02" width="41" height="0.5" fill="#ffffff" opacity="0.39"/>
<rect x="580.3" y="566.53" width="41" height="0.5" fill="#ffffff" opacity="0.34"/>
<rect x="580.3" y="608.62" width="41" height="0.5" fill="#ffffff" opacity="0.27"/>
<rect x="580.3" y="532.91" width="41" height="0.5" fill="#ffffff" opacity="0.27"/>
<rect x="580.3" y="563.65" width="41" height="0.5" fill="#ffffff" opacity="0.3"/>
<rect x="580.3" y="593.6" width="41" height="0.5" fill="#ffffff" opacity="0.28"/>
<rect x="580.3" y="538.75" width="41" height="0.5" fill="#ffffff" opacity="0.18"/>
<rect x="580.3" y="605.47" width="41" height="0.5" fill="#ffffff" opacity="0.32"/>
<rect x="580.3" y="652.15" width="41" height="0.5" fill="#ffffff" opacity="0.35"/>
<rect x="580.3" y="566.9" width="41" height="0.5" fill="#ffffff" opacity="0.26"/>
<rect x="580.3" y="593.15" width="41" height="0.5" fill="#ffffff" opacity="0.35"/>
<rect x="580.3" y="579.61" width="41" height="0.5" fill="#ffffff" opacity="0.38"/>
<line x1="580.3" y1="655.8" x2="621.3" y2="655.8" stroke="#333" stroke-width="0.9"/>
<line x1="580.3" y1="655.4" x2="580.3" y2="658.2" stroke="#333" stroke-width="0.9"/>
<line x1="594.03" y1="655.4" x2="594.03" y2="658.2" stroke="#333" stroke-width="0.9"/>
<line x1="607.77" y1="655.4" x2="607.77" y2="658.2" stroke="#333" stroke-width="0.9"/>
<line x1="621.3" y1="655.4" x2="621.3" y2="658.2" stroke="#333" stroke-width="0.9"/>
<rect x="580.3" y="669" width="41" height="3.3" fill="url(#cbar)"/>
<text transform="translate(479.6,665.1) scale(1,1.08)" font-size="7.3">-2 kb</text>
<text transform="translate(499.8,665.1) scale(1,1.08)" font-size="7.3">0</text>
<text transform="translate(504,665.1) scale(1,1.08)" font-size="7.3">100%</text>
<text transform="translate(523.3,665.1) scale(1,1.08)" font-size="7.3">+2 kb</text>
<text transform="translate(488.4,678.9) scale(1,1.08)" font-size="7.3">0</text>
<text transform="translate(529.2,678.9) scale(1,1.08)" text-anchor="end" font-size="7.3">9</text>
<text transform="translate(534.8,678.9) scale(1,1.08)" font-size="7.3">0</text>
<text transform="translate(575.1,678.9) scale(1,1.08)" text-anchor="end" font-size="7.3">9</text>
<text transform="translate(580.5,678.9) scale(1,1.08)" font-size="7.3">0</text>
<text transform="translate(621.5,678.9) scale(1,1.08)" text-anchor="end" font-size="7.3">12</text>
<line x1="486.8" y1="531.6" x2="486.8" y2="654.3" stroke="#333" stroke-width="0.9"/>
<line x1="484.8" y1="532.58" x2="486.8" y2="532.58" stroke="#444" stroke-width="0.5"/>
<line x1="484.8" y1="535.56" x2="486.8" y2="535.56" stroke="#444" stroke-width="0.5"/>
<line x1="484.8" y1="538.54" x2="486.8" y2="538.54" stroke="#444" stroke-width="0.5"/>
<line x1="484.8" y1="541.52" x2="486.8" y2="541.52" stroke="#444" stroke-width="0.5"/>
<line x1="484.8" y1="544.5" x2="486.8" y2="544.5" stroke="#444" stroke-width="0.5"/>
<line x1="484.8" y1="547.48" x2="486.8" y2="547.48" stroke="#444" stroke-width="0.5"/>
<line x1="484.8" y1="550.46" x2="486.8" y2="550.46" stroke="#444" stroke-width="0.5"/>
<line x1="484.8" y1="553.44" x2="486.8" y2="553.44" stroke="#444" stroke-width="0.5"/>
<line x1="484.8" y1="556.42" x2="486.8" y2="556.42" stroke="#444" stroke-width="0.5"/>
<line x1="484.8" y1="559.4" x2="486.8" y2="559.4" stroke="#444" stroke-width="0.5"/>
<line x1="484.8" y1="562.38" x2="486.8" y2="562.38" stroke="#444" stroke-width="0.5"/>
<line x1="484.8" y1="565.36" x2="486.8" y2="565.36" stroke="#444" stroke-width="0.5"/>
<line x1="484.8" y1="568.34" x2="486.8" y2="568.34" stroke="#444" stroke-width="0.5"/>
<line x1="484.8" y1="571.32" x2="486.8" y2="571.32" stroke="#444" stroke-width="0.5"/>
<line x1="484.8" y1="574.3" x2="486.8" y2="574.3" stroke="#444" stroke-width="0.5"/>
<line x1="484.8" y1="577.28" x2="486.8" y2="577.28" stroke="#444" stroke-width="0.5"/>
<line x1="484.8" y1="580.26" x2="486.8" y2="580.26" stroke="#444" stroke-width="0.5"/>
<line x1="484.8" y1="583.24" x2="486.8" y2="583.24" stroke="#444" stroke-width="0.5"/>
<line x1="484.8" y1="586.22" x2="486.8" y2="586.22" stroke="#444" stroke-width="0.5"/>
<line x1="484.8" y1="589.2" x2="486.8" y2="589.2" stroke="#444" stroke-width="0.5"/>
<line x1="484.8" y1="592.18" x2="486.8" y2="592.18" stroke="#444" stroke-width="0.5"/>
<line x1="484.8" y1="595.16" x2="486.8" y2="595.16" stroke="#444" stroke-width="0.5"/>
<line x1="484.8" y1="598.14" x2="486.8" y2="598.14" stroke="#444" stroke-width="0.5"/>
<line x1="484.8" y1="601.12" x2="486.8" y2="601.12" stroke="#444" stroke-width="0.5"/>
<line x1="484.8" y1="604.1" x2="486.8" y2="604.1" stroke="#444" stroke-width="0.5"/>
<line x1="484.8" y1="607.08" x2="486.8" y2="607.08" stroke="#444" stroke-width="0.5"/>
<line x1="484.8" y1="610.06" x2="486.8" y2="610.06" stroke="#444" stroke-width="0.5"/>
<line x1="484.8" y1="613.04" x2="486.8" y2="613.04" stroke="#444" stroke-width="0.5"/>
<line x1="484.8" y1="616.02" x2="486.8" y2="616.02" stroke="#444" stroke-width="0.5"/>
<line x1="484.8" y1="619" x2="486.8" y2="619" stroke="#444" stroke-width="0.5"/>
<line x1="484.8" y1="621.98" x2="486.8" y2="621.98" stroke="#444" stroke-width="0.5"/>
<line x1="484.8" y1="624.96" x2="486.8" y2="624.96" stroke="#444" stroke-width="0.5"/>
<line x1="484.8" y1="627.94" x2="486.8" y2="627.94" stroke="#444" stroke-width="0.5"/>
<line x1="484.8" y1="630.92" x2="486.8" y2="630.92" stroke="#444" stroke-width="0.5"/>
<line x1="484.8" y1="633.9" x2="486.8" y2="633.9" stroke="#444" stroke-width="0.5"/>
<line x1="484.8" y1="636.88" x2="486.8" y2="636.88" stroke="#444" stroke-width="0.5"/>
<line x1="484.8" y1="639.86" x2="486.8" y2="639.86" stroke="#444" stroke-width="0.5"/>
<line x1="484.8" y1="642.84" x2="486.8" y2="642.84" stroke="#444" stroke-width="0.5"/>
<line x1="484.8" y1="645.82" x2="486.8" y2="645.82" stroke="#444" stroke-width="0.5"/>
<line x1="484.8" y1="648.8" x2="486.8" y2="648.8" stroke="#444" stroke-width="0.5"/>
<line x1="483.6" y1="544.5" x2="486.8" y2="544.5" stroke="#333" stroke-width="0.8"/>
<text transform="translate(482.6,547.4) scale(1,1.08)" text-anchor="end" font-size="7.3">50</text>
<line x1="483.6" y1="559.4" x2="486.8" y2="559.4" stroke="#333" stroke-width="0.8"/>
<text transform="translate(482.6,562.3) scale(1,1.08)" text-anchor="end" font-size="7.3">100</text>
<line x1="483.6" y1="574.3" x2="486.8" y2="574.3" stroke="#333" stroke-width="0.8"/>
<text transform="translate(482.6,577.2) scale(1,1.08)" text-anchor="end" font-size="7.3">150</text>
<line x1="483.6" y1="589.2" x2="486.8" y2="589.2" stroke="#333" stroke-width="0.8"/>
<text transform="translate(482.6,592.1) scale(1,1.08)" text-anchor="end" font-size="7.3">200</text>
<line x1="483.6" y1="604.1" x2="486.8" y2="604.1" stroke="#333" stroke-width="0.8"/>
<text transform="translate(482.6,607) scale(1,1.08)" text-anchor="end" font-size="7.3">250</text>
<line x1="483.6" y1="619" x2="486.8" y2="619" stroke="#333" stroke-width="0.8"/>
<text transform="translate(482.6,621.9) scale(1,1.08)" text-anchor="end" font-size="7.3">300</text>
<line x1="483.6" y1="633.9" x2="486.8" y2="633.9" stroke="#333" stroke-width="0.8"/>
<text transform="translate(482.6,636.8) scale(1,1.08)" text-anchor="end" font-size="7.3">350</text>
<line x1="483.6" y1="648.8" x2="486.8" y2="648.8" stroke="#333" stroke-width="0.8"/>
<text transform="translate(482.6,651.7) scale(1,1.08)" text-anchor="end" font-size="7.3">400</text>
<text transform="translate(482.6,658.6) scale(1,1.08)" text-anchor="end" font-size="7.3">407</text>
<line x1="628.7" y1="531.6" x2="628.7" y2="653.8" stroke="#222" stroke-width="0.9"/>
<line x1="628.2" y1="653.4" x2="659.6" y2="653.4" stroke="#222" stroke-width="0.9"/>
<text transform="translate(630.6,660.8) scale(1,1.08)" text-anchor="middle" font-size="7.3">0</text>
<text transform="translate(656.3,660.8) scale(1,1.08)" text-anchor="middle" font-size="7.3">10</text>
<rect x="629.2" y="531.8" width="8.6" height="2.2" fill="#ea8d8d"/>
<rect x="629.2" y="534" width="6.8" height="5.6" fill="#ea8d8d"/>
<rect x="629.2" y="542.6" width="3" height="2.6" fill="#ea8d8d"/>
<rect x="629.2" y="548.6" width="2.6" height="2.4" fill="#ea8d8d"/>
<path d="M642.07,531.95 C641.91,532.14 641.65,532.04 641.11,533.1 C640.56,534.16 638.89,537.12 638.8,538.3 C638.7,539.49 639.18,539.49 640.53,540.23 C641.88,540.97 644.87,541.77 646.89,542.74 C648.91,543.7 651.48,545.05 652.67,546.01 C653.86,546.97 655.14,547.65 654.02,548.52 C652.89,549.38 647.66,550.44 645.92,551.21 C644.19,551.98 642.81,552.5 643.61,553.14 C644.42,553.78 648.27,554.55 650.74,555.07 C653.21,555.58 657.65,555.71 658.45,556.22 C659.25,556.74 658.29,557.6 655.56,558.15 C652.83,558.7 645.03,559.05 642.07,559.5 C639.12,559.95 637.83,560.37 637.83,560.85 C637.83,561.33 639.76,561.55 642.07,562.39 C644.38,563.22 649.46,564.73 651.71,565.86 C653.95,566.98 655.4,567.94 655.56,569.13 C655.72,570.32 654.43,571.93 652.67,572.99 C650.9,574.05 646.41,574.69 644.96,575.49 C643.52,576.29 643.2,577.1 644,577.8 C644.8,578.51 648.11,579.02 649.78,579.73 C651.45,580.44 653.7,581.24 654.02,582.04 C654.34,582.85 653.38,583.9 651.71,584.55 C650.04,585.19 645.67,585.35 644,585.9 C642.33,586.44 642.65,586.86 641.69,587.82 C640.72,588.79 640.24,590.62 638.22,591.68 C636.19,592.74 631.31,593.67 629.55,594.18 C627.78,594.69 627.3,594.37 627.62,594.76 C627.94,595.14 629.96,595.79 631.47,596.49 C632.98,597.2 636.68,597.94 636.68,599 C636.68,600.06 632.82,601.89 631.47,602.85 C630.13,603.82 628.58,603.98 628.58,604.78 C628.58,605.58 630.45,606.38 631.47,607.67 C632.5,608.95 634.59,611.3 634.75,612.49 C634.91,613.67 633.46,614.16 632.44,614.8 C631.41,615.44 629.26,615.76 628.58,616.34 C627.91,616.92 628.42,615.86 628.39,618.27 C628.36,620.67 628.04,628.22 628.39,630.79 C628.74,633.36 629.9,632.88 630.51,633.68 C631.12,634.48 632.21,634.9 632.05,635.61 C631.89,636.31 629.64,637.12 629.55,637.92 C629.45,638.72 631.31,639.69 631.47,640.42 C631.63,641.16 631.02,641.71 630.51,642.35 C630,642.99 628.74,642.51 628.39,644.28 C628.04,646.04 628.39,651.5 628.39,652.95" fill="none" stroke="#111" stroke-width="0.9"/>
<rect x="677.9" y="529" width="3.3" height="8.2" fill="#ea8d8d"/>
<line x1="668.1" y1="529.4" x2="668.1" y2="537.4" stroke="#444" stroke-width="0.9"/>
<text transform="translate(676.7,539.5) rotate(90) scale(1,1.08)" font-size="8.4">Ace2 targets</text>
<text transform="translate(665.4,540.3) rotate(90) scale(1,1.08)" font-size="8.4">Highly transcribed genes</text>
<text transform="translate(31.2,751.1) scale(1,1.08)" text-anchor="middle" fill="#262626">Cnd1-Pk</text>
<text transform="translate(72.6,735.3) scale(1,1.08)" text-anchor="end" font-size="7.1">20</text>
<text transform="translate(72.6,765.8) scale(1,1.08)" text-anchor="end" font-size="7.1">0</text>
<line x1="74.5" y1="729.4" x2="74.5" y2="765.2" stroke="#555" stroke-width="0.9"/>
<text transform="translate(31.2,790.8) scale(1,1.08)" text-anchor="middle" fill="#262626">Cut14-Pk</text>
<text transform="translate(72.6,775.1) scale(1,1.08)" text-anchor="end" font-size="7.1">20</text>
<text transform="translate(72.6,805.5) scale(1,1.08)" text-anchor="end" font-size="7.1">0</text>
<line x1="74.5" y1="769.2" x2="74.5" y2="804.9" stroke="#555" stroke-width="0.9"/>
<text transform="translate(31.2,831.6) scale(1,1.08)" text-anchor="middle" fill="#262626">Pmc4-Pk</text>
<text transform="translate(72.6,815.5) scale(1,1.08)" text-anchor="end" font-size="7.1">15</text>
<text transform="translate(72.6,846.3) scale(1,1.08)" text-anchor="end" font-size="7.1">0</text>
<line x1="74.5" y1="809.6" x2="74.5" y2="845.7" stroke="#555" stroke-width="0.9"/>
<polygon points="74.5,765.2 74.5,763.34 75,763.23 75.5,762.87 76,763.4 76.5,762.81 77,763.49 77.5,762.2 78,762.41 78.5,762.75 79,763.45 79.5,762.72 80,762.98 80.5,763.5 81,762.77 81.5,763.46 82,762.26 82.5,762.45 83,762.04 83.5,763.48 84,763.19 84.5,762.06 85,762.43 85.5,762.08 86,761.38 86.5,761.11 87,759.78 87.5,759.12 88,757.76 88.5,753.75 89,756.11 89.5,754.67 90,758.55 90.5,760.5 91,761.37 91.5,762.26 92,762.13 92.5,762.77 93,763.38 93.5,762.99 94,762.54 94.5,762.89 95,762.45 95.5,762.1 96,762.24 96.5,763.08 97,763.46 97.5,762.06 98,763.1 98.5,762.5 99,762.4 99.5,762.05 100,762.11 100.5,763.06 101,762.29 101.5,763.06 102,763.09 102.5,762.33 103,763.46 103.5,762.59 104,763.27 104.5,762.26 105,762.46 105.5,762.76 106,763.25 106.5,763.23 107,763.29 107.5,762.29 108,762.88 108.5,762.75 109,762.73 109.5,763.26 110,762.5 110.5,761.58 111,761.77 111.5,760.89 112,760.49 112.5,759.19 113,756.61 113.5,749.91 114,757.81 114.5,760.43 115,762.36 115.5,762.9 116,763.32 116.5,762.58 117,763.2 117.5,762.7 118,762.75 118.5,762.65 119,763.34 119.5,762.17 120,763.05 120.5,763.33 121,762.84 121.5,763.13 122,762.52 122.5,762.06 123,762.16 123.5,762.45 124,763.03 124.5,762.53 125,762.96 125.5,762.68 126,762.68 126.5,762.31 127,762.77 127.5,762.64 128,762.26 128.5,762.83 129,763.25 129.5,762.13 130,762.64 130.5,762.78 131,763.16 131.5,762.83 132,762.87 132.5,762.36 133,763.2 133.5,763.52 134,763.39 134.5,762.92 135,762.13 135.5,763.38 136,763.5 136.5,762.36 137,763.3 137.5,762.56 138,762.05 138.5,762.31 139,762.76 139.5,762.74 140,762.62 140.5,762.81 141,762.5 141.5,762.88 142,762.42 142.5,762.24 143,762.22 143.5,762.83 144,762.68 144.5,762.58 145,763.01 145.5,761.76 146,761.76 146.5,762.1 147,762.83 147.5,761.44 148,762.93 148.5,762.52 149,762.21 149.5,762.12 150,761.18 150.5,761.84 151,761.74 151.5,761.2 152,761.67 152.5,762.08 153,761.67 153.5,761.21 154,760.98 154.5,756.89 155,760.06 155.5,762.21 156,761.79 156.5,761.83 157,762.48 157.5,763.29 158,762.84 158.5,762.26 159,761.97 159.5,763.12 160,763.27 160.5,763.34 161,763.12 161.5,761.95 162,763.33 162.5,763.3 163,762.94 163.5,762.2 164,763.26 164.5,763.22 165,762.09 165.5,762.68 166,762.74 166.5,762.49 167,763.5 167.5,762.37 168,762.58 168.5,762.14 169,762.1 169.5,763.06 170,762.64 170.5,763.31 171,762.35 171.5,762.42 172,762.39 172.5,762.21 173,763.5 173.5,762.46 174,763.48 174.5,762.12 175,762.31 175.5,762.79 176,762.12 176.5,763.06 177,762.34 177.5,762.33 178,762.28 178.5,763.5 179,762.61 179.5,762.78 180,762.03 180.5,762.93 181,762.66 181.5,761.69 182,761.92 182.5,762.97 183,761.7 183.5,762.55 184,762.44 184.5,762.56 185,761.18 185.5,762.3 186,762.72 186.5,762.87 187,762.49 187.5,761.98 188,762.59 188.5,763.16 189,762.33 189.5,762.54 190,762.71 190.5,763.05 191,763.16 191.5,763.41 192,762.48 192.5,762.45 193,762.46 193.5,761.49 194,760.18 194.5,751.96 195,760.34 195.5,761.16 196,763.19 196.5,762.88 197,762.22 197.5,761.87 198,756.03 198.5,744.96 199,757.55 199.5,759.34 200,759.11 200.5,754.54 201,760.15 201.5,761.81 202,762.43 202.5,762.3 203,762.61 203.5,763.37 204,763.56 204.5,762.89 205,763.09 205.5,762.36 206,763.56 206.5,762.47 207,763.19 207.5,763.03 208,762.83 208.5,762.2 209,763.2 209.5,763.08 210,763.07 210.5,762.18 211,762.37 211.5,761.35 212,761.69 212.5,761.78 213,759.43 213.5,760.7 214,759.81 214.5,759.83 215,759.49 215.5,758.05 216,757.43 216.5,758.01 217,760.7 217.5,758.26 218,762.29 218.5,761.64 219,761.08 219.5,761.87 220,761.87 220.5,762.25 221,762.58 221.5,761.85 222,762.15 222.5,763.31 223,763.24 223.5,762.82 224,762.86 224.5,763.47 225,763.04 225.5,762.21 226,762.91 226.5,763.57 227,762.75 227.5,763.46 228,763.06 228.5,763.49 229,763.31 229.5,763.31 230,762.12 230.5,763.14 231,762.37 231.5,762.64 232,762.18 232.5,762.47 233,762.08 233.5,762.57 234,763.11 234.5,762.49 235,762.85 235.5,763.41 236,762.78 236.5,763.24 237,763.15 237.5,763.26 238,762.91 238.5,762.08 239,762.77 239.5,762.93 240,762.7 240.5,762.28 241,762.33 241.5,762.72 242,762.11 242.5,762.23 243,762.1 243.5,762.7 244,762.01 244.5,763.25 245,763.12 245.5,763.49 246,763.55 246.5,763.39 247,762.7 247.5,762.98 248,762.43 248.5,760.76 249,757.6 249.5,748.45 250,757.99 250.5,761.63 251,762.32 251.5,762.04 252,762.74 252.5,762.27 253,763.15 253.5,763.43 254,762.3 254.5,762.72 255,763.09 255.5,762.49 256,762.38 256.5,762.61 257,762.87 257.5,762.8 258,762.51 258.5,760.7 259,761.7 259.5,760.46 260,759.06 260.5,758.57 261,755.56 261.5,752.72 262,747.9 262.5,746.99 263,741.18 263.5,729.59 264,742.92 264.5,750.56 265,754.83 265.5,759.16 266,759.51 266.5,760.46 267,761.67 267.5,759.2 268,759.2 268.5,759.2 269,759.2 269.5,759.2 270,759.2 270.5,729.4 271,729.4 271.5,729.4 272,729.4 272.5,729.4 273,729.4 273.5,729.4 274,729.4 274.5,729.4 275,729.4 275.5,729.4 276,729.4 276.5,729.4 277,729.4 277.5,729.4 278,734.59 278.5,740.15 279,745.44 279.5,750.41 280,755.03 280.5,759.19 281,762.03 281.5,762.28 282,762.69 282.5,763.5 283,762.1 283.5,762.46 284,763 284.5,763.57 285,762.1 285.5,762.24 286,763.26 286.5,762.95 287,762.18 287.5,763.3 288,763.11 288.5,762.11 289,762.93 289.5,763.07 290,762.11 290.5,763.17 291,762.39 291.5,763.37 292,762.97 292.5,762.01 293,762.29 293.5,762.56 294,763.22 294.5,762.54 295,763.16 295.5,763.18 296,763.21 296.5,763 297,762.04 297.5,762.25 298,762.24 298.5,763.2 299,763.57 299.5,763.4 300,762.93 300.5,762.19 301,762.6 301.5,762.27 302,763.15 302.5,762.46 303,762.46 303.5,763.24 304,762.05 304.5,762.78 305,762.45 305.5,762.52 306,763.09 306.5,762.69 307,763.34 307.5,762.66 308,763.21 308,765.2" fill="#e0311f"/>
<polygon points="74.5,804.9 74.5,801.77 75,802.2 75.5,802.18 76,803.25 76.5,802.22 77,802.43 77.5,801.83 78,802.33 78.5,802.95 79,801.94 79.5,801.88 80,802.44 80.5,802.48 81,802.25 81.5,803.25 82,802.76 82.5,802.76 83,803.14 83.5,802.39 84,803.12 84.5,801.9 85,802.03 85.5,801.6 86,801.17 86.5,800.68 87,799.15 87.5,799.12 88,796.02 88.5,792.25 89,797.35 89.5,799.25 90,799.13 90.5,799.95 91,801.58 91.5,801.74 92,802.11 92.5,802.38 93,801.83 93.5,801.67 94,801.7 94.5,802.62 95,803.07 95.5,802.98 96,802.66 96.5,802.45 97,802.93 97.5,801.86 98,803.01 98.5,802.61 99,802.53 99.5,802.78 100,801.85 100.5,802.53 101,802.23 101.5,801.82 102,801.95 102.5,803.19 103,803.29 103.5,803.23 104,801.86 104.5,802.01 105,802.17 105.5,802.15 106,803.1 106.5,802.98 107,802.8 107.5,802.63 108,801.89 108.5,803.25 109,802.03 109.5,802.35 110,801.94 110.5,802.91 111,801.6 111.5,802.12 112,800.7 112.5,797.14 113,796.82 113.5,789.22 114,799.45 114.5,800.51 115,802.91 115.5,802.61 116,801.77 116.5,801.76 117,802.78 117.5,801.91 118,801.84 118.5,802.41 119,803.19 119.5,802.21 120,801.78 120.5,802.96 121,801.77 121.5,802.07 122,802.73 122.5,802.92 123,801.99 123.5,802.8 124,802.09 124.5,802.47 125,802.69 125.5,802.32 126,802.48 126.5,803.09 127,802.47 127.5,801.83 128,802.35 128.5,802.47 129,801.95 129.5,803.27 130,802.26 130.5,803.22 131,802.45 131.5,802.87 132,802.6 132.5,803.18 133,802.63 133.5,803 134,802.32 134.5,802.06 135,802.96 135.5,802 136,803.29 136.5,802.08 137,802.67 137.5,802.72 138,801.88 138.5,802.22 139,802.83 139.5,802.12 140,801.97 140.5,803.04 141,802 141.5,802.24 142,802.31 142.5,801.82 143,802.74 143.5,802.41 144,802.22 144.5,801.87 145,802.77 145.5,801.92 146,803.17 146.5,803.23 147,801.89 147.5,802.37 148,803.1 148.5,802.7 149,802.79 149.5,801.86 150,802.15 150.5,802.4 151,801.92 151.5,802.83 152,801.97 152.5,802.58 153,802.75 153.5,801.63 154,799.26 154.5,791.45 155,799.11 155.5,802.37 156,802.26 156.5,802.38 157,803.12 157.5,801.94 158,802.37 158.5,803.04 159,801.99 159.5,802.38 160,802.45 160.5,803.06 161,801.68 161.5,801.72 162,802.5 162.5,802.42 163,802.9 163.5,801.71 164,801.95 164.5,802.48 165,802.18 165.5,801.84 166,803.2 166.5,802.39 167,802.72 167.5,802.43 168,802.34 168.5,802.17 169,801.88 169.5,802.34 170,801.94 170.5,802.11 171,802.55 171.5,802.24 172,801.93 172.5,801.24 173,802.62 173.5,801.05 174,802.57 174.5,802.13 175,801.75 175.5,801.85 176,800.84 176.5,800.62 177,801.05 177.5,802.02 178,801.43 178.5,801.64 179,801.82 179.5,802.3 180,802.71 180.5,802.04 181,802.52 181.5,802.36 182,802.93 182.5,801.58 183,801.85 183.5,802.93 184,801.73 184.5,802.18 185,802.04 185.5,802.02 186,802.14 186.5,802.35 187,802.2 187.5,801.9 188,803.06 188.5,803.23 189,803.16 189.5,801.69 190,802.14 190.5,802.34 191,802.07 191.5,803.11 192,802.9 192.5,803.15 193,802.42 193.5,801.07 194,799.59 194.5,793.01 195,799.71 195.5,801.53 196,802.64 196.5,801.67 197,802 197.5,800.34 198,796.78 198.5,784.34 199,797.11 199.5,798.98 200,799.47 200.5,792.6 201,798.78 201.5,800.78 202,801.69 202.5,802.25 203,802.35 203.5,801.95 204,803.28 204.5,803.22 205,802.42 205.5,803.03 206,802.97 206.5,801.79 207,803.1 207.5,803.27 208,802.11 208.5,801.68 209,802.79 209.5,802.31 210,802.77 210.5,801.64 211,800.92 211.5,801.66 212,801.64 212.5,799.71 213,802.12 213.5,799.71 214,799.58 214.5,801.47 215,800.63 215.5,800.14 216,800.41 216.5,798.42 217,800.96 217.5,799.46 218,799.78 218.5,800.75 219,800.81 219.5,802.5 220,801.5 220.5,801.4 221,802.48 221.5,802.67 222,801.88 222.5,802.36 223,802.38 223.5,802.64 224,801.91 224.5,802.19 225,802.02 225.5,802 226,803 226.5,802.98 227,803.14 227.5,801.85 228,803.02 228.5,803.19 229,802.93 229.5,801.79 230,801.91 230.5,803.21 231,803.06 231.5,802.94 232,801.98 232.5,802.05 233,802.29 233.5,803.07 234,802.92 234.5,803.2 235,802.63 235.5,801.98 236,802.22 236.5,803.23 237,802.89 237.5,802.86 238,802.36 238.5,801.73 239,801.85 239.5,803.12 240,802.85 240.5,801.81 241,802.36 241.5,802.64 242,803.3 242.5,801.9 243,803.01 243.5,802.93 244,802.98 244.5,802.57 245,802.55 245.5,802.93 246,801.79 246.5,802.36 247,801.96 247.5,802.99 248,802.6 248.5,801.29 249,797.97 249.5,787.72 250,797.4 250.5,800.42 251,802.65 251.5,802.27 252,801.67 252.5,802.13 253,803.15 253.5,802.19 254,802.08 254.5,802.7 255,802.66 255.5,801.76 256,802.53 256.5,802.85 257,801.84 257.5,801.45 258,800.9 258.5,801.51 259,800.77 259.5,800.66 260,798.68 260.5,797.78 261,794.58 261.5,792.72 262,786.03 262.5,785.85 263,779.73 263.5,773.24 264,782.08 264.5,789.24 265,793.24 265.5,797.72 266,799.85 266.5,799.8 267,801.48 267.5,796.9 268,796.9 268.5,796.9 269,796.9 269.5,796.9 270,796.9 270.5,796.9 271,796.9 271.5,769.2 272,769.2 272.5,769.2 273,769.2 273.5,769.2 274,769.2 274.5,769.2 275,769.2 275.5,769.2 276,769.2 276.5,769.2 277,769.2 277.5,769.2 278,774.29 278.5,779.85 279,785.14 279.5,790.11 280,794.73 280.5,798.89 281,802.46 281.5,802.53 282,802.62 282.5,801.84 283,802.56 283.5,802.37 284,802.42 284.5,802.91 285,802.92 285.5,802.62 286,802.1 286.5,802.23 287,802.41 287.5,802.09 288,802.24 288.5,802.14 289,802.7 289.5,803.18 290,803.24 290.5,802.95 291,801.91 291.5,802.29 292,802.05 292.5,803.15 293,801.81 293.5,801.83 294,802.55 294.5,802.83 295,802.83 295.5,803.26 296,803.14 296.5,803.06 297,802.25 297.5,802.44 298,802.41 298.5,802.38 299,801.93 299.5,802.29 300,802.39 300.5,803.13 301,802.67 301.5,801.89 302,803.28 302.5,803.23 303,803.12 303.5,803.01 304,801.91 304.5,802.62 305,801.78 305.5,802.46 306,802.39 306.5,801.81 307,801.89 307.5,802.68 308,801.97 308,804.9" fill="#117a11"/>
<polygon points="74.5,845.7 74.5,842.05 75,843.47 75.5,842.53 76,842.2 76.5,842.06 77,842.59 77.5,842.07 78,841.53 78.5,841.15 79,839.74 79.5,837.64 80,837.24 80.5,835.48 81,834.45 81.5,835.82 82,829.06 82.5,816.71 83,830.85 83.5,837.21 84,838.89 84.5,836.26 85,839.77 85.5,838.82 86,839.23 86.5,834.98 87,839.01 87.5,836 88,835.09 88.5,834.41 89,827.46 89.5,823.14 90,828.57 90.5,835.05 91,837.68 91.5,836.67 92,839.56 92.5,838.57 93,841.51 93.5,841.43 94,842.54 94.5,842.02 95,843.28 95.5,842.77 96,843.34 96.5,843.23 97,842.65 97.5,843.57 98,843.26 98.5,842.16 99,842.89 99.5,842.7 100,842.98 100.5,843.52 101,842.45 101.5,842.32 102,842.27 102.5,843.27 103,843.19 103.5,842.71 104,843.59 104.5,842.85 105,843.08 105.5,843.08 106,842.73 106.5,842.47 107,842.8 107.5,842.89 108,842.4 108.5,842.01 109,843.15 109.5,842.49 110,842.76 110.5,842.45 111,840.2 111.5,841.44 112,840.28 112.5,837.98 113,834.33 113.5,823.06 114,830.44 114.5,836.47 115,838.04 115.5,839.24 116,840.15 116.5,841.53 117,841.3 117.5,840.24 118,840.25 118.5,841.19 119,841.34 119.5,842.86 120,841.5 120.5,841.25 121,842.9 121.5,841.88 122,840.52 122.5,842.08 123,841.56 123.5,841.63 124,843.2 124.5,842.23 125,841.57 125.5,843.04 126,843.24 126.5,842.79 127,842.01 127.5,843.41 128,842.04 128.5,843.28 129,842.82 129.5,843.07 130,842.87 130.5,842.13 131,843.48 131.5,842.66 132,843.47 132.5,842.16 133,842.88 133.5,843.33 134,843.35 134.5,842.63 135,842.84 135.5,842.21 136,841.56 136.5,841.63 137,842.54 137.5,841.98 138,842.5 138.5,840.88 139,841.46 139.5,842.44 140,841.52 140.5,840.81 141,840.43 141.5,841.64 142,842.5 142.5,842.51 143,842.01 143.5,842.39 144,841.84 144.5,842.03 145,842.82 145.5,843.17 146,842.51 146.5,842.77 147,842 147.5,842.9 148,842.32 148.5,842.25 149,842.89 149.5,842.06 150,842.66 150.5,841.33 151,841.98 151.5,840 152,838.39 152.5,840.71 153,835.84 153.5,830.3 154,820.99 154.5,833.87 155,837.67 155.5,837.6 156,840.74 156.5,839.28 157,840.73 157.5,840.66 158,840.89 158.5,841.48 159,841.46 159.5,839.78 160,839.17 160.5,841.36 161,841.53 161.5,840.03 162,840.97 162.5,839.68 163,839.55 163.5,840.6 164,839.54 164.5,840.44 165,840.97 165.5,842.46 166,840.05 166.5,842.56 167,840.89 167.5,841.04 168,842.53 168.5,841.41 169,841.63 169.5,839.95 170,840.75 170.5,840.6 171,839.42 171.5,841.18 172,841.74 172.5,841.62 173,842.2 173.5,841.41 174,841.95 174.5,843.02 175,843.33 175.5,842.61 176,843.06 176.5,842.73 177,842.06 177.5,842.22 178,842.63 178.5,842.44 179,843.33 179.5,842.17 180,840.25 180.5,837.54 181,840.03 181.5,842.72 182,842.98 182.5,842.29 183,843.72 183.5,842.75 184,842.64 184.5,842.73 185,842.26 185.5,843 186,842.37 186.5,842.92 187,842.49 187.5,843.67 188,842.72 188.5,842.52 189,842.88 189.5,843.7 190,842.87 190.5,842.38 191,842.51 191.5,842.56 192,843.26 192.5,841.67 193,841.92 193.5,840.41 194,837.31 194.5,826.68 195,836.19 195.5,837.86 196,838.83 196.5,834.91 197,833.38 197.5,826.49 198,820.91 198.5,809.6 199,822.27 199.5,832.95 200,832.27 200.5,836.67 201,840.13 201.5,841.32 202,841.69 202.5,842.67 203,842.65 203.5,842.09 204,841.44 204.5,842.3 205,842.29 205.5,842.55 206,842.32 206.5,842.63 207,842.58 207.5,841.71 208,841.86 208.5,842.02 209,841.16 209.5,840.61 210,840.02 210.5,837.86 211,837.09 211.5,829.83 212,837.57 212.5,837.27 213,840.05 213.5,836.74 214,837.82 214.5,840.63 215,840.33 215.5,838.23 216,840.56 216.5,839.83 217,840.64 217.5,840.28 218,838.04 218.5,830.47 219,837.92 219.5,840.88 220,841.87 220.5,843.17 221,842.61 221.5,843.54 222,842 222.5,843.19 223,842.47 223.5,843.68 224,842.31 224.5,843.18 225,843.36 225.5,843.05 226,842.33 226.5,842.62 227,842.62 227.5,842.35 228,841.79 228.5,842.83 229,841.06 229.5,841.33 230,840.1 230.5,841.23 231,842.55 231.5,843 232,842.83 232.5,842.51 233,843.47 233.5,842.55 234,842.08 234.5,843.39 235,843.14 235.5,843.7 236,842.33 236.5,843.67 237,843.42 237.5,842.57 238,843.12 238.5,843.31 239,842.98 239.5,842.44 240,842.74 240.5,842.77 241,843.34 241.5,842.12 242,843.06 242.5,843.78 243,843.21 243.5,842.76 244,843.33 244.5,843.46 245,842.27 245.5,842.12 246,842.58 246.5,840.87 247,839.28 247.5,838.73 248,837.53 248.5,836.17 249,834.41 249.5,821.51 250,809.6 250.5,823.8 251,834.01 251.5,833.73 252,838.48 252.5,841.5 253,842.81 253.5,841.45 254,843.32 254.5,842.99 255,843.11 255.5,842.61 256,842.41 256.5,842.17 257,843.36 257.5,843.46 258,843.13 258.5,842.8 259,842.57 259.5,842.69 260,843.46 260.5,843.05 261,842.97 261.5,842.38 262,843.45 262.5,842.35 263,842.61 263.5,840.44 264,841.51 264.5,839.89 265,839.25 265.5,840.27 266,836.82 266.5,835.43 267,836.56 267.5,827.81 268,809.6 268.5,820.64 269,824.74 269.5,809.6 270,822.07 270.5,829.56 271,834.74 271.5,835.31 272,836.64 272.5,838.3 273,840.19 273.5,840.45 274,838.23 274.5,839.17 275,840.1 275.5,839.54 276,836.6 276.5,835.18 277,833.68 277.5,824.31 278,817.93 278.5,830.95 279,831.13 279.5,825.78 280,826.57 280.5,817.47 281,824.21 281.5,834.48 282,833.01 282.5,835.39 283,837.44 283.5,838.02 284,840.44 284.5,840.02 285,839.92 285.5,841.44 286,841.74 286.5,842.83 287,843.32 287.5,842.89 288,842.72 288.5,843.79 289,842.88 289.5,843.62 290,842.42 290.5,843.74 291,843.53 291.5,842.9 292,842.08 292.5,842.49 293,842.14 293.5,842.28 294,842.51 294.5,841.89 295,842.99 295.5,841.43 296,841.35 296.5,842.4 297,840.94 297.5,841.54 298,842.29 298.5,840.66 299,840.77 299.5,842.12 300,840.1 300.5,841.58 301,840.76 301.5,843.27 302,841.41 302.5,841.52 303,840.49 303.5,842.39 304,841.74 304.5,842.74 305,842.8 305.5,842.45 306,842.23 306.5,842.51 307,843.5 307.5,842.75 308,843.51 308,845.7" fill="#3535a2"/>
<line x1="114.2" y1="847.2" x2="114.2" y2="851.4" stroke="#333" stroke-width="0.8"/>
<text transform="translate(118.3,859.6) scale(1,1.08)" text-anchor="middle" font-size="8.7" font-style="italic">5SrRNA</text>
<line x1="154.4" y1="847.2" x2="154.4" y2="851.4" stroke="#333" stroke-width="0.8"/>
<text transform="translate(156.3,859.6) scale(1,1.08)" text-anchor="middle" font-size="8.7" font-style="italic">tRNA</text>
<line x1="194.9" y1="847.2" x2="194.9" y2="851.4" stroke="#333" stroke-width="0.8"/>
<text transform="translate(197.2,859.6) scale(1,1.08)" text-anchor="middle" font-size="8.7" font-style="italic">tRNA</text>
<path d="M270.2,847.4 H273.2 V846 L276.2,848.9 L273.2,851.8 V850.4 H270.2Z" fill="#111"/>
<text transform="translate(273.4,859.6) scale(1,1.08)" text-anchor="middle" font-size="8.9" font-style="italic">eng1</text>
<line x1="73.6" y1="863.3" x2="308.2" y2="863.3" stroke="#333" stroke-width="0.9"/>
<line x1="92.4" y1="863.3" x2="92.4" y2="866.1" stroke="#333" stroke-width="0.9"/>
<text transform="translate(92.4,873.6) scale(1,1.08)" text-anchor="middle" font-size="7.4">900</text>
<line x1="182.2" y1="863.3" x2="182.2" y2="866.1" stroke="#333" stroke-width="0.9"/>
<text transform="translate(182.2,873.6) scale(1,1.08)" text-anchor="middle" font-size="7.4">950</text>
<line x1="272" y1="863.3" x2="272" y2="866.1" stroke="#333" stroke-width="0.9"/>
<text transform="translate(272,873.6) scale(1,1.08)" text-anchor="middle" font-size="7.4">1000</text>
<text transform="translate(180.2,881.1) scale(1,1.08)" text-anchor="middle" font-size="7.4" fill="#2a2a2a">Chromosome I position (kb)</text>
<text transform="translate(362.8,735) scale(1,1.08)" text-anchor="end" font-size="7.1">55</text>
<text transform="translate(362.8,765.4) scale(1,1.08)" text-anchor="end" font-size="7.1">0</text>
<line x1="364.7" y1="728.9" x2="364.7" y2="764.9" stroke="#444" stroke-width="0.9"/>
<text transform="translate(362.8,775.1) scale(1,1.08)" text-anchor="end" font-size="7.1">85</text>
<text transform="translate(362.8,805.5) scale(1,1.08)" text-anchor="end" font-size="7.1">0</text>
<line x1="364.7" y1="769" x2="364.7" y2="805" stroke="#444" stroke-width="0.9"/>
<text transform="translate(362.8,815.5) scale(1,1.08)" text-anchor="end" font-size="7.1">20</text>
<text transform="translate(362.8,846.1) scale(1,1.08)" text-anchor="end" font-size="7.1">0</text>
<line x1="364.7" y1="809.4" x2="364.7" y2="845.6" stroke="#444" stroke-width="0.9"/>
<polygon points="364.2,764.9 364.2,753.75 365.2,753.75 365.2,754.72 366.2,754.72 366.2,756.23 367.2,756.23 367.2,757.77 368.2,757.77 368.2,756.78 369.2,756.78 369.2,757.11 370.2,757.11 370.2,757.86 371.2,757.86 371.2,759.84 372.2,759.84 372.2,758.41 373.2,758.41 373.2,760.59 374.2,760.59 374.2,760.75 375.2,760.75 375.2,759.58 376.2,759.58 376.2,761.17 377.2,761.17 377.2,761.31 378.2,761.31 378.2,761.73 379.2,761.73 379.2,764.1 380.2,764.1 380.2,762.75 381.2,762.75 381.2,762.45 382.2,762.45 382.2,764.1 383.2,764.1 383.2,763.43 384.2,763.43 384.2,762.73 385.2,762.73 385.2,763.04 386.2,763.04 386.2,763.05 387.2,763.05 387.2,764.1 388.2,764.1 388.2,762.43 389.2,762.43 389.2,762.39 390.2,762.39 390.2,763.43 391.2,763.43 391.2,763.26 392.2,763.26 392.2,764.1 393.2,764.1 393.2,764.01 394.2,764.01 394.2,762.5 395.2,762.5 395.2,761.99 396.2,761.99 396.2,763.83 397.2,763.83 397.2,764.1 398.2,764.1 398.2,761.29 399.2,761.29 399.2,763.3 400.2,763.3 400.2,763.54 401.2,763.54 401.2,762.73 402.2,762.73 402.2,761.27 403.2,761.27 403.2,762.85 404.2,762.85 404.2,762.49 405.2,762.49 405.2,761.3 406.2,761.3 406.2,763.11 407.2,763.11 407.2,762.31 408.2,762.31 408.2,758.07 409.2,758.07 409.2,755.71 410.2,755.71 410.2,754.7 411.2,754.7 411.2,753.89 412.2,753.89 412.2,753.82 413.2,753.82 413.2,754.05 414.2,754.05 414.2,754.09 415.2,754.09 415.2,753.81 416.2,753.81 416.2,753.52 417.2,753.52 417.2,752.58 418.2,752.58 418.2,750.8 419.2,750.8 419.2,749.96 420.2,749.96 420.2,750.8 421.2,750.8 421.2,750.57 422.2,750.57 422.2,751.46 423.2,751.46 423.2,750.22 424.2,750.22 424.2,751.01 425.2,751.01 425.2,753.57 426.2,753.57 426.2,752.11 427.2,752.11 427.2,751.89 428.2,751.89 428.2,749.59 429.2,749.59 429.2,750 430.2,750 430.2,751.15 431.2,751.15 431.2,750.02 432.2,750.02 432.2,750.69 433.2,750.69 433.2,747.96 434.2,747.96 434.2,748.55 435.2,748.55 435.2,749.69 436.2,749.69 436.2,748.72 437.2,748.72 437.2,749.85 438.2,749.85 438.2,749.27 439.2,749.27 439.2,747.84 440.2,747.84 440.2,747.68 441.2,747.68 441.2,750.24 442.2,750.24 442.2,747.54 443.2,747.54 443.2,747.49 444.2,747.49 444.2,747.51 445.2,747.51 445.2,748.24 446.2,748.24 446.2,748.27 447.2,748.27 447.2,746.71 448.2,746.71 448.2,746.27 449.2,746.27 449.2,746.65 450.2,746.65 450.2,744.61 451.2,744.61 451.2,744.4 452.2,744.4 452.2,744.83 453.2,744.83 453.2,744.65 454.2,744.65 454.2,742.61 455.2,742.61 455.2,742.58 456.2,742.58 456.2,743.24 457.2,743.24 457.2,746.5 458.2,746.5 458.2,747.3 459.2,747.3 459.2,747.51 460.2,747.51 460.2,743.94 461.2,743.94 461.2,737.4 462.2,737.4 462.2,736.18 463.2,736.18 463.2,734.92 464.2,734.92 464.2,733.58 465.2,733.58 465.2,737.02 466.2,737.02 466.2,744.11 467.2,744.11 467.2,755.04 468.2,755.04 468.2,755.17 469.2,755.17 469.2,755.22 470.2,755.22 470.2,755.9 471.2,755.9 471.2,758.59 472.2,758.59 472.2,756.74 473.2,756.74 473.2,759.04 474.2,759.04 474.2,758.41 475.2,758.41 475.2,758.97 476.2,758.97 476.2,761.3 477.2,761.3 477.2,760.14 478.2,760.14 478.2,760.19 479.2,760.19 479.2,761.41 480.2,761.41 480.2,762.42 481.2,762.42 481.2,762.04 482.2,762.04 482.2,763.18 483.2,763.18 483.2,761.94 484.2,761.94 484.2,762.44 485.2,762.44 485.2,763.16 486.2,763.16 486.2,762.52 487.2,762.52 487.2,763.37 488.2,763.37 488.2,762.7 489.2,762.7 489.2,761.77 490.2,761.77 490.2,761.82 491.2,761.82 491.2,763.87 492.2,763.87 492.2,763.83 493.2,763.83 493.2,764.1 494.2,764.1 494.2,763.82 495.2,763.82 495.2,763.55 496.2,763.55 496.2,762.1 497.2,762.1 497.2,763.97 498.2,763.97 498.2,761.56 499.08,761.56 499.08,764.9" fill="#e0311f"/>
<polygon points="364.2,805 364.2,800.12 365.2,800.12 365.2,800.64 366.2,800.64 366.2,801.12 367.2,801.12 367.2,802.11 368.2,802.11 368.2,802.08 369.2,802.08 369.2,802.4 370.2,802.4 370.2,801.88 371.2,801.88 371.2,802.39 372.2,802.39 372.2,802.82 373.2,802.82 373.2,802.6 374.2,802.6 374.2,803.13 375.2,803.13 375.2,803.16 376.2,803.16 376.2,802.75 377.2,802.75 377.2,802.45 378.2,802.45 378.2,803.18 379.2,803.18 379.2,802.53 380.2,802.53 380.2,802.39 381.2,802.39 381.2,803.1 382.2,803.1 382.2,803.19 383.2,803.19 383.2,803.16 384.2,803.16 384.2,803.26 385.2,803.26 385.2,802.49 386.2,802.49 386.2,802.35 387.2,802.35 387.2,802.37 388.2,802.37 388.2,803.14 389.2,803.14 389.2,802.07 390.2,802.07 390.2,801.92 391.2,801.92 391.2,801.58 392.2,801.58 392.2,801.41 393.2,801.41 393.2,801.2 394.2,801.2 394.2,801.84 395.2,801.84 395.2,802.05 396.2,802.05 396.2,802.6 397.2,802.6 397.2,803.62 398.2,803.62 398.2,803.26 399.2,803.26 399.2,804.2 400.2,804.2 400.2,804.2 401.2,804.2 401.2,803.7 402.2,803.7 402.2,803.23 403.2,803.23 403.2,802.95 404.2,802.95 404.2,802.28 405.2,802.28 405.2,801.45 406.2,801.45 406.2,801.33 407.2,801.33 407.2,801.07 408.2,801.07 408.2,801.06 409.2,801.06 409.2,801.48 410.2,801.48 410.2,800.76 411.2,800.76 411.2,800.23 412.2,800.23 412.2,800.5 413.2,800.5 413.2,800.76 414.2,800.76 414.2,800.32 415.2,800.32 415.2,800.5 416.2,800.5 416.2,799.81 417.2,799.81 417.2,799.71 418.2,799.71 418.2,800.23 419.2,800.23 419.2,799.55 420.2,799.55 420.2,799.72 421.2,799.72 421.2,799.72 422.2,799.72 422.2,799.43 423.2,799.43 423.2,799.17 424.2,799.17 424.2,799.04 425.2,799.04 425.2,799.89 426.2,799.89 426.2,799.52 427.2,799.52 427.2,799.69 428.2,799.69 428.2,799.13 429.2,799.13 429.2,799.49 430.2,799.49 430.2,799.22 431.2,799.22 431.2,798.78 432.2,798.78 432.2,798.48 433.2,798.48 433.2,798.27 434.2,798.27 434.2,797.78 435.2,797.78 435.2,797.74 436.2,797.74 436.2,797.88 437.2,797.88 437.2,797.15 438.2,797.15 438.2,797.61 439.2,797.61 439.2,797.14 440.2,797.14 440.2,797.11 441.2,797.11 441.2,797.21 442.2,797.21 442.2,796.9 443.2,796.9 443.2,796.27 444.2,796.27 444.2,796.26 445.2,796.26 445.2,795.88 446.2,795.88 446.2,795.79 447.2,795.79 447.2,796.53 448.2,796.53 448.2,795.82 449.2,795.82 449.2,795.85 450.2,795.85 450.2,795.31 451.2,795.31 451.2,794.5 452.2,794.5 452.2,794.33 453.2,794.33 453.2,793.38 454.2,793.38 454.2,792.02 455.2,792.02 455.2,790.75 456.2,790.75 456.2,789.56 457.2,789.56 457.2,787.41 458.2,787.41 458.2,785.61 459.2,785.61 459.2,782.62 460.2,782.62 460.2,777.54 461.2,777.54 461.2,772.95 462.2,772.95 462.2,771.8 463.2,771.8 463.2,775.12 464.2,775.12 464.2,778.69 465.2,778.69 465.2,782.58 466.2,782.58 466.2,787.01 467.2,787.01 467.2,790.48 468.2,790.48 468.2,793.92 469.2,793.92 469.2,794.8 470.2,794.8 470.2,797.4 471.2,797.4 471.2,798.11 472.2,798.11 472.2,798.43 473.2,798.43 473.2,799.81 474.2,799.81 474.2,800.15 475.2,800.15 475.2,800.6 476.2,800.6 476.2,801.19 477.2,801.19 477.2,801.3 478.2,801.3 478.2,801.4 479.2,801.4 479.2,801.85 480.2,801.85 480.2,802.73 481.2,802.73 481.2,803.01 482.2,803.01 482.2,802.51 483.2,802.51 483.2,802.97 484.2,802.97 484.2,803.23 485.2,803.23 485.2,803.94 486.2,803.94 486.2,803.29 487.2,803.29 487.2,804.2 488.2,804.2 488.2,803.67 489.2,803.67 489.2,804.02 490.2,804.02 490.2,803.65 491.2,803.65 491.2,803.65 492.2,803.65 492.2,804.2 493.2,804.2 493.2,804.17 494.2,804.17 494.2,804.2 495.2,804.2 495.2,804.2 496.2,804.2 496.2,804.2 497.2,804.2 497.2,803.38 498.2,803.38 498.2,803.67 499.08,803.67 499.08,805" fill="#117a11"/>
<polygon points="364.2,845.6 364.2,841.15 365.2,841.15 365.2,841.18 366.2,841.18 366.2,841.39 367.2,841.39 367.2,840.58 368.2,840.58 368.2,841.05 369.2,841.05 369.2,841.33 370.2,841.33 370.2,841.31 371.2,841.31 371.2,840.24 372.2,840.24 372.2,840.84 373.2,840.84 373.2,840.64 374.2,840.64 374.2,840.28 375.2,840.28 375.2,840.73 376.2,840.73 376.2,839.92 377.2,839.92 377.2,839.6 378.2,839.6 378.2,840.1 379.2,840.1 379.2,839.39 380.2,839.39 380.2,838.08 381.2,838.08 381.2,837.24 382.2,837.24 382.2,836.65 383.2,836.65 383.2,835.18 384.2,835.18 384.2,834.26 385.2,834.26 385.2,832.44 386.2,832.44 386.2,830.01 387.2,830.01 387.2,828.02 388.2,828.02 388.2,824.85 389.2,824.85 389.2,826.11 390.2,826.11 390.2,828.55 391.2,828.55 391.2,830.09 392.2,830.09 392.2,832.34 393.2,832.34 393.2,835.96 394.2,835.96 394.2,835.86 395.2,835.86 395.2,836.43 396.2,836.43 396.2,838.05 397.2,838.05 397.2,835.44 398.2,835.44 398.2,830.07 399.2,830.07 399.2,826.25 400.2,826.25 400.2,822.64 401.2,822.64 401.2,819.58 402.2,819.58 402.2,817.58 403.2,817.58 403.2,818.63 404.2,818.63 404.2,820.89 405.2,820.89 405.2,827.24 406.2,827.24 406.2,833.45 407.2,833.45 407.2,835.77 408.2,835.77 408.2,836.66 409.2,836.66 409.2,838.84 410.2,838.84 410.2,839.32 411.2,839.32 411.2,839.31 412.2,839.31 412.2,838.95 413.2,838.95 413.2,839.23 414.2,839.23 414.2,839.44 415.2,839.44 415.2,839.97 416.2,839.97 416.2,839.85 417.2,839.85 417.2,840.41 418.2,840.41 418.2,840.56 419.2,840.56 419.2,840.68 420.2,840.68 420.2,841.41 421.2,841.41 421.2,841.22 422.2,841.22 422.2,841.32 423.2,841.32 423.2,841.24 424.2,841.24 424.2,841.58 425.2,841.58 425.2,842.01 426.2,842.01 426.2,841.42 427.2,841.42 427.2,841.17 428.2,841.17 428.2,841.83 429.2,841.83 429.2,841.77 430.2,841.77 430.2,842.42 431.2,842.42 431.2,841.56 432.2,841.56 432.2,842.67 433.2,842.67 433.2,841.47 434.2,841.47 434.2,842.2 435.2,842.2 435.2,842.07 436.2,842.07 436.2,841.89 437.2,841.89 437.2,842.69 438.2,842.69 438.2,842.43 439.2,842.43 439.2,841.67 440.2,841.67 440.2,842.14 441.2,842.14 441.2,842.3 442.2,842.3 442.2,841.49 443.2,841.49 443.2,841.57 444.2,841.57 444.2,842.29 445.2,842.29 445.2,842.47 446.2,842.47 446.2,842.09 447.2,842.09 447.2,842.01 448.2,842.01 448.2,842.03 449.2,842.03 449.2,841.59 450.2,841.59 450.2,842.35 451.2,842.35 451.2,842.37 452.2,842.37 452.2,841.6 453.2,841.6 453.2,840.85 454.2,840.85 454.2,841.28 455.2,841.28 455.2,841.75 456.2,841.75 456.2,840.98 457.2,840.98 457.2,840.57 458.2,840.57 458.2,840.35 459.2,840.35 459.2,840.19 460.2,840.19 460.2,839.16 461.2,839.16 461.2,837.79 462.2,837.79 462.2,837.37 463.2,837.37 463.2,836.7 464.2,836.7 464.2,836.14 465.2,836.14 465.2,835.1 466.2,835.1 466.2,833.7 467.2,833.7 467.2,833.82 468.2,833.82 468.2,833.98 469.2,833.98 469.2,833.9 470.2,833.9 470.2,833.74 471.2,833.74 471.2,833.4 472.2,833.4 472.2,832.54 473.2,832.54 473.2,832.27 474.2,832.27 474.2,831.2 475.2,831.2 475.2,830.59 476.2,830.59 476.2,828.95 477.2,828.95 477.2,827.76 478.2,827.76 478.2,827.01 479.2,827.01 479.2,827 480.2,827 480.2,827.12 481.2,827.12 481.2,826.73 482.2,826.73 482.2,827.08 483.2,827.08 483.2,829.44 484.2,829.44 484.2,829.52 485.2,829.52 485.2,832.41 486.2,832.41 486.2,833.9 487.2,833.9 487.2,833 488.2,833 488.2,832.46 489.2,832.46 489.2,830.88 490.2,830.88 490.2,828.52 491.2,828.52 491.2,828.16 492.2,828.16 492.2,825.76 493.2,825.76 493.2,825.04 494.2,825.04 494.2,824.19 495.2,824.19 495.2,822.63 496.2,822.63 496.2,823.19 497.2,823.19 497.2,823.87 498.2,823.87 498.2,827.74 499.08,827.74 499.08,845.6" fill="#3535a2"/>
<line x1="403.6" y1="852.6" x2="459" y2="852.6" stroke="#222" stroke-width="0.9"/>
<path d="M408.2,848.1 H447.6 L454.2,852.7 L447.6,857.3 H408.2Z" fill="#1a1a1a"/>
<text transform="translate(428.4,856.1) scale(1,1.08)" text-anchor="middle" font-size="8.6" fill="#fff" font-style="italic">eng1</text>
<line x1="466.7" y1="852.6" x2="479.8" y2="852.6" stroke="#222" stroke-width="0.9"/>
<path d="M466.9,852.6 L473.2,847.9 V857.3Z" fill="#1a1a1a"/>
<rect x="473" y="850.2" width="4.4" height="4.8" fill="#1a1a1a"/>
<line x1="364.2" y1="863.3" x2="499.5" y2="863.3" stroke="#333" stroke-width="0.9"/>
<line x1="364.5" y1="863.3" x2="364.5" y2="865.6" stroke="#333" stroke-width="0.9"/>
<line x1="379.5" y1="863.3" x2="379.5" y2="865.6" stroke="#333" stroke-width="0.9"/>
<line x1="394.5" y1="863.3" x2="394.5" y2="865.6" stroke="#333" stroke-width="0.9"/>
<line x1="409.5" y1="863.3" x2="409.5" y2="865.6" stroke="#333" stroke-width="0.9"/>
<line x1="424.5" y1="863.3" x2="424.5" y2="865.6" stroke="#333" stroke-width="0.9"/>
<line x1="439.5" y1="863.3" x2="439.5" y2="865.6" stroke="#333" stroke-width="0.9"/>
<line x1="454.5" y1="863.3" x2="454.5" y2="865.6" stroke="#333" stroke-width="0.9"/>
<line x1="469.5" y1="863.3" x2="469.5" y2="865.6" stroke="#333" stroke-width="0.9"/>
<line x1="484.5" y1="863.3" x2="484.5" y2="865.6" stroke="#333" stroke-width="0.9"/>
<line x1="499.5" y1="863.3" x2="499.5" y2="865.6" stroke="#333" stroke-width="0.9"/>
<text transform="translate(379.5,873.1) scale(1,1.08)" text-anchor="middle" font-size="7.4">997</text>
<text transform="translate(424.5,873.1) scale(1,1.08)" text-anchor="middle" font-size="7.4">1000</text>
<text transform="translate(484.5,873.1) scale(1,1.08)" text-anchor="middle" font-size="7.4">1004</text>
<text transform="translate(432.7,880.8) scale(1,1.08)" text-anchor="middle" font-size="7.4" fill="#2a2a2a">Chromosome I position (kb)</text>
<text transform="translate(544.8,734.9) scale(1,1.08)" text-anchor="end" font-size="7.1">7</text>
<text transform="translate(544.8,765.7) scale(1,1.08)" text-anchor="end" font-size="7.1">0</text>
<line x1="547.8" y1="729.4" x2="547.8" y2="765.2" stroke="#222" stroke-width="0.9"/>
<text transform="translate(544.8,774.5) scale(1,1.08)" text-anchor="end" font-size="7.1">7</text>
<text transform="translate(544.8,805.5) scale(1,1.08)" text-anchor="end" font-size="7.1">0</text>
<line x1="547.8" y1="769" x2="547.8" y2="805" stroke="#222" stroke-width="0.9"/>
<text transform="translate(544.8,815.1) scale(1,1.08)" text-anchor="end" font-size="7.1">7</text>
<text transform="translate(544.8,846.1) scale(1,1.08)" text-anchor="end" font-size="7.1">0</text>
<line x1="547.8" y1="809.6" x2="547.8" y2="845.6" stroke="#222" stroke-width="0.9"/>
<polygon points="547.83,765.2 547.83,755.38 548.83,755.38 548.83,755.21 549.83,755.21 549.83,755.26 550.83,755.26 550.83,757.42 551.83,757.42 551.83,756.77 552.83,756.77 552.83,757.27 553.83,757.27 553.83,757.08 554.83,757.08 554.83,756.81 555.83,756.81 555.83,757.88 556.83,757.88 556.83,757.64 557.83,757.64 557.83,758.34 558.83,758.34 558.83,758.19 559.83,758.19 559.83,758.43 560.83,758.43 560.83,757.06 561.83,757.06 561.83,755.99 562.83,755.99 562.83,755.64 563.83,755.64 563.83,756.8 564.83,756.8 564.83,755.02 565.83,755.02 565.83,756 566.83,756 566.83,755.67 567.83,755.67 567.83,753.98 568.83,753.98 568.83,755.63 569.83,755.63 569.83,753.45 570.83,753.45 570.83,755.38 571.83,755.38 571.83,755.16 572.83,755.16 572.83,754.34 573.83,754.34 573.83,756.46 574.83,756.46 574.83,757.28 575.83,757.28 575.83,756.46 576.83,756.46 576.83,758.62 577.83,758.62 577.83,757.95 578.83,757.95 578.83,760.76 579.83,760.76 579.83,759.97 580.83,759.97 580.83,760.06 581.83,760.06 581.83,756.99 582.83,756.99 582.83,757.42 583.83,757.42 583.83,758.37 584.83,758.37 584.83,758.51 585.83,758.51 585.83,757.57 586.83,757.57 586.83,759.57 587.83,759.57 587.83,759.63 588.83,759.63 588.83,758.31 589.83,758.31 589.83,757.57 590.83,757.57 590.83,758.59 591.83,758.59 591.83,757.58 592.83,757.58 592.83,757.91 593.83,757.91 593.83,757.14 594.83,757.14 594.83,756.55 595.83,756.55 595.83,755.61 596.83,755.61 596.83,756.03 597.83,756.03 597.83,756.99 598.83,756.99 598.83,757.82 599.83,757.82 599.83,757.16 600.83,757.16 600.83,758.11 601.83,758.11 601.83,757.71 602.83,757.71 602.83,758.72 603.83,758.72 603.83,758.16 604.83,758.16 604.83,757.13 605.83,757.13 605.83,756.48 606.83,756.48 606.83,756.13 607.83,756.13 607.83,755.89 608.83,755.89 608.83,757.87 609.83,757.87 609.83,757.73 610.83,757.73 610.83,756.76 611.83,756.76 611.83,754.42 612.83,754.42 612.83,755.19 613.83,755.19 613.83,752.07 614.83,752.07 614.83,752.05 615.83,752.05 615.83,749.44 616.83,749.44 616.83,747.47 617.83,747.47 617.83,744.78 618.83,744.78 618.83,741.95 619.83,741.95 619.83,742.23 620.83,742.23 620.83,743.53 621.83,743.53 621.83,742.66 622.83,742.66 622.83,744.16 623.83,744.16 623.83,745.72 624.83,745.72 624.83,745.58 625.83,745.58 625.83,745.23 626.83,745.23 626.83,748.83 627.83,748.83 627.83,753.68 628.83,753.68 628.83,753.9 629.83,753.9 629.83,755.74 630.83,755.74 630.83,757.19 631.83,757.19 631.83,756.07 632.83,756.07 632.83,757.62 633.83,757.62 633.83,756.08 634.83,756.08 634.83,757.58 635.83,757.58 635.83,756.11 636.83,756.11 636.83,757.36 637.83,757.36 637.83,756.91 638.83,756.91 638.83,756.7 639.83,756.7 639.83,755.19 640.83,755.19 640.83,754.9 641.83,754.9 641.83,754.4 642.83,754.4 642.83,754.63 643.83,754.63 643.83,755.73 644.83,755.73 644.83,754 645.83,754 645.83,754.29 646.83,754.29 646.83,754.99 647.83,754.99 647.83,753.76 648.83,753.76 648.83,754.34 649.83,754.34 649.83,754.24 650.83,754.24 650.83,755.57 651.83,755.57 651.83,754.29 652.83,754.29 652.83,756.74 653.83,756.74 653.83,755.87 654.83,755.87 654.83,756.34 655.83,756.34 655.83,756.08 656.83,756.08 656.83,756.11 657.83,756.11 657.83,757.51 658.83,757.51 658.83,757.47 659.83,757.47 659.83,757.45 660.83,757.45 660.83,755.62 661.83,755.62 661.83,757.57 662.83,757.57 662.83,758.99 663.83,758.99 663.83,758.7 664.83,758.7 664.83,758.87 665.83,758.87 665.83,759.2 666.83,759.2 666.83,757.9 667.83,757.9 667.83,759.27 668.83,759.27 668.83,759.34 669.83,759.34 669.83,757.43 670.83,757.43 670.83,758.5 671.83,758.5 671.83,758.77 672.83,758.77 672.83,758.27 673.83,758.27 673.83,759.26 674.83,759.26 674.83,760.02 675.83,760.02 675.83,760.11 676.83,760.11 676.83,758.69 677.83,758.69 677.83,758.62 678.83,758.62 678.83,761.45 679.83,761.45 679.83,761.72 680.83,761.72 680.83,762.43 681.83,762.43 681.83,762.69 682.83,762.69 682.83,761.3 683.83,761.3 683.83,762.26 683.95,762.26 683.95,765.2" fill="#e0311f"/>
<polygon points="547.83,805 547.83,797.34 548.83,797.34 548.83,795.89 549.83,795.89 549.83,796.69 550.83,796.69 550.83,796.71 551.83,796.71 551.83,798.19 552.83,798.19 552.83,798.19 553.83,798.19 553.83,798.9 554.83,798.9 554.83,796.95 555.83,796.95 555.83,797.66 556.83,797.66 556.83,796.47 557.83,796.47 557.83,796.8 558.83,796.8 558.83,797.38 559.83,797.38 559.83,795.96 560.83,795.96 560.83,796.25 561.83,796.25 561.83,797.28 562.83,797.28 562.83,796.88 563.83,796.88 563.83,795.91 564.83,795.91 564.83,796.75 565.83,796.75 565.83,797.19 566.83,797.19 566.83,794.98 567.83,794.98 567.83,796.94 568.83,796.94 568.83,796.53 569.83,796.53 569.83,795.56 570.83,795.56 570.83,795.42 571.83,795.42 571.83,797.84 572.83,797.84 572.83,796.56 573.83,796.56 573.83,796.25 574.83,796.25 574.83,796.6 575.83,796.6 575.83,798.88 576.83,798.88 576.83,798.3 577.83,798.3 577.83,798.83 578.83,798.83 578.83,798.63 579.83,798.63 579.83,798.13 580.83,798.13 580.83,799.26 581.83,799.26 581.83,797.72 582.83,797.72 582.83,798.12 583.83,798.12 583.83,798.74 584.83,798.74 584.83,798.09 585.83,798.09 585.83,798.62 586.83,798.62 586.83,797.78 587.83,797.78 587.83,798.01 588.83,798.01 588.83,796.17 589.83,796.17 589.83,796.35 590.83,796.35 590.83,796.21 591.83,796.21 591.83,795.36 592.83,795.36 592.83,795.46 593.83,795.46 593.83,794.82 594.83,794.82 594.83,794.98 595.83,794.98 595.83,796.03 596.83,796.03 596.83,795.56 597.83,795.56 597.83,795.81 598.83,795.81 598.83,795.62 599.83,795.62 599.83,796 600.83,796 600.83,797.98 601.83,797.98 601.83,797.36 602.83,797.36 602.83,797.26 603.83,797.26 603.83,796.12 604.83,796.12 604.83,797.57 605.83,797.57 605.83,796.1 606.83,796.1 606.83,796.66 607.83,796.66 607.83,798.18 608.83,798.18 608.83,796.52 609.83,796.52 609.83,795.55 610.83,795.55 610.83,795.13 611.83,795.13 611.83,794.79 612.83,794.79 612.83,792.51 613.83,792.51 613.83,788.75 614.83,788.75 614.83,785.91 615.83,785.91 615.83,783.51 616.83,783.51 616.83,779.89 617.83,779.89 617.83,775.96 618.83,775.96 618.83,776.56 619.83,776.56 619.83,777.69 620.83,777.69 620.83,777.68 621.83,777.68 621.83,780.27 622.83,780.27 622.83,780.83 623.83,780.83 623.83,782.17 624.83,782.17 624.83,781.46 625.83,781.46 625.83,783.96 626.83,783.96 626.83,786.91 627.83,786.91 627.83,790.73 628.83,790.73 628.83,792.95 629.83,792.95 629.83,794.48 630.83,794.48 630.83,795.79 631.83,795.79 631.83,795 632.83,795 632.83,795.03 633.83,795.03 633.83,797.38 634.83,797.38 634.83,796.36 635.83,796.36 635.83,795.52 636.83,795.52 636.83,795.66 637.83,795.66 637.83,796.07 638.83,796.07 638.83,797.67 639.83,797.67 639.83,798.35 640.83,798.35 640.83,797.63 641.83,797.63 641.83,796.84 642.83,796.84 642.83,797.42 643.83,797.42 643.83,798.77 644.83,798.77 644.83,797.3 645.83,797.3 645.83,798.2 646.83,798.2 646.83,797.66 647.83,797.66 647.83,795.21 648.83,795.21 648.83,796.8 649.83,796.8 649.83,796.45 650.83,796.45 650.83,795.76 651.83,795.76 651.83,794.72 652.83,794.72 652.83,795.36 653.83,795.36 653.83,793.65 654.83,793.65 654.83,794.16 655.83,794.16 655.83,793.88 656.83,793.88 656.83,795.18 657.83,795.18 657.83,795.48 658.83,795.48 658.83,794.39 659.83,794.39 659.83,795.5 660.83,795.5 660.83,795.16 661.83,795.16 661.83,797.57 662.83,797.57 662.83,797.96 663.83,797.96 663.83,796.98 664.83,796.98 664.83,798.36 665.83,798.36 665.83,798.47 666.83,798.47 666.83,797.45 667.83,797.45 667.83,799.2 668.83,799.2 668.83,798.79 669.83,798.79 669.83,799.58 670.83,799.58 670.83,799.1 671.83,799.1 671.83,797.5 672.83,797.5 672.83,797.84 673.83,797.84 673.83,796.55 674.83,796.55 674.83,798.41 675.83,798.41 675.83,797.78 676.83,797.78 676.83,797.16 677.83,797.16 677.83,795.31 678.83,795.31 678.83,794.23 679.83,794.23 679.83,795.93 680.83,795.93 680.83,795.67 681.83,795.67 681.83,793 682.83,793 682.83,793.61 683.83,793.61 683.83,792.09 683.95,792.09 683.95,805" fill="#117a11"/>
<polygon points="547.83,845.6 547.83,839.17 548.83,839.17 548.83,840.88 549.83,840.88 549.83,839.44 550.83,839.44 550.83,840.27 551.83,840.27 551.83,840.81 552.83,840.81 552.83,841.13 553.83,841.13 553.83,840.25 554.83,840.25 554.83,840.36 555.83,840.36 555.83,839.12 556.83,839.12 556.83,840.19 557.83,840.19 557.83,839.92 558.83,839.92 558.83,841.05 559.83,841.05 559.83,840.13 560.83,840.13 560.83,840.54 561.83,840.54 561.83,839.58 562.83,839.58 562.83,838.79 563.83,838.79 563.83,840.42 564.83,840.42 564.83,840.21 565.83,840.21 565.83,839.01 566.83,839.01 566.83,838.33 567.83,838.33 567.83,839.46 568.83,839.46 568.83,839.47 569.83,839.47 569.83,840.24 570.83,840.24 570.83,839.83 571.83,839.83 571.83,839.65 572.83,839.65 572.83,839.88 573.83,839.88 573.83,839.41 574.83,839.41 574.83,838.7 575.83,838.7 575.83,838.89 576.83,838.89 576.83,841.33 577.83,841.33 577.83,841.21 578.83,841.21 578.83,839.95 579.83,839.95 579.83,841.64 580.83,841.64 580.83,840.84 581.83,840.84 581.83,839.9 582.83,839.9 582.83,841.83 583.83,841.83 583.83,840.92 584.83,840.92 584.83,841.63 585.83,841.63 585.83,840.77 586.83,840.77 586.83,839.05 587.83,839.05 587.83,840.22 588.83,840.22 588.83,840.45 589.83,840.45 589.83,840.54 590.83,840.54 590.83,838.85 591.83,838.85 591.83,838.45 592.83,838.45 592.83,837.99 593.83,837.99 593.83,835.69 594.83,835.69 594.83,836.55 595.83,836.55 595.83,836.12 596.83,836.12 596.83,835.05 597.83,835.05 597.83,837.29 598.83,837.29 598.83,837.54 599.83,837.54 599.83,837.34 600.83,837.34 600.83,838.25 601.83,838.25 601.83,839.02 602.83,839.02 602.83,837.76 603.83,837.76 603.83,836.45 604.83,836.45 604.83,837.27 605.83,837.27 605.83,837.83 606.83,837.83 606.83,838.11 607.83,838.11 607.83,837.34 608.83,837.34 608.83,835.66 609.83,835.66 609.83,838.15 610.83,838.15 610.83,837.28 611.83,837.28 611.83,836.01 612.83,836.01 612.83,836.21 613.83,836.21 613.83,834.52 614.83,834.52 614.83,834.02 615.83,834.02 615.83,830.69 616.83,830.69 616.83,829.76 617.83,829.76 617.83,824.95 618.83,824.95 618.83,824.33 619.83,824.33 619.83,823.59 620.83,823.59 620.83,822.82 621.83,822.82 621.83,824.23 622.83,824.23 622.83,826.97 623.83,826.97 623.83,824.66 624.83,824.66 624.83,820.31 625.83,820.31 625.83,821.69 626.83,821.69 626.83,822.36 627.83,822.36 627.83,826.84 628.83,826.84 628.83,831.49 629.83,831.49 629.83,832.73 630.83,832.73 630.83,836.22 631.83,836.22 631.83,837.34 632.83,837.34 632.83,839.98 633.83,839.98 633.83,839.84 634.83,839.84 634.83,840.2 635.83,840.2 635.83,840.24 636.83,840.24 636.83,839.01 637.83,839.01 637.83,839.86 638.83,839.86 638.83,838.25 639.83,838.25 639.83,838.55 640.83,838.55 640.83,840.44 641.83,840.44 641.83,839.05 642.83,839.05 642.83,839.73 643.83,839.73 643.83,839.4 644.83,839.4 644.83,838.53 645.83,838.53 645.83,839.32 646.83,839.32 646.83,840.12 647.83,840.12 647.83,838.55 648.83,838.55 648.83,838.55 649.83,838.55 649.83,838.08 650.83,838.08 650.83,838.09 651.83,838.09 651.83,839.83 652.83,839.83 652.83,839.56 653.83,839.56 653.83,840.28 654.83,840.28 654.83,839.57 655.83,839.57 655.83,840.37 656.83,840.37 656.83,838.5 657.83,838.5 657.83,838.46 658.83,838.46 658.83,838.65 659.83,838.65 659.83,839.33 660.83,839.33 660.83,841.16 661.83,841.16 661.83,839.42 662.83,839.42 662.83,840.27 663.83,840.27 663.83,839.49 664.83,839.49 664.83,839.65 665.83,839.65 665.83,841.25 666.83,841.25 666.83,841.68 667.83,841.68 667.83,841.25 668.83,841.25 668.83,842.05 669.83,842.05 669.83,841.66 670.83,841.66 670.83,841.64 671.83,841.64 671.83,840.43 672.83,840.43 672.83,839.36 673.83,839.36 673.83,838.76 674.83,838.76 674.83,840.16 675.83,840.16 675.83,838.28 676.83,838.28 676.83,837.52 677.83,837.52 677.83,838.95 678.83,838.95 678.83,837.08 679.83,837.08 679.83,838 680.83,838 680.83,836.52 681.83,836.52 681.83,836.73 682.83,836.73 682.83,835.29 683.83,835.29 683.83,835.86 683.95,835.86 683.95,845.6" fill="#3535a2"/>
<path d="M619.4,852.3 L626.6,847.6 L624.4,852.3 L626.6,857Z" fill="#111"/>
<text transform="translate(628.8,859.5) scale(1,1.08)" font-size="9" font-style="italic">rps23</text>
<line x1="547.8" y1="863.5" x2="684" y2="863.5" stroke="#333" stroke-width="0.9"/>
<line x1="561.2" y1="863.5" x2="561.2" y2="865.8" stroke="#333" stroke-width="0.9"/>
<line x1="574.9" y1="863.5" x2="574.9" y2="865.8" stroke="#333" stroke-width="0.9"/>
<line x1="588.6" y1="863.5" x2="588.6" y2="865.8" stroke="#333" stroke-width="0.9"/>
<line x1="602.3" y1="863.5" x2="602.3" y2="865.8" stroke="#333" stroke-width="0.9"/>
<line x1="616" y1="863.5" x2="616" y2="865.8" stroke="#333" stroke-width="0.9"/>
<line x1="629.7" y1="863.5" x2="629.7" y2="865.8" stroke="#333" stroke-width="0.9"/>
<line x1="643.4" y1="863.5" x2="643.4" y2="865.8" stroke="#333" stroke-width="0.9"/>
<line x1="657.1" y1="863.5" x2="657.1" y2="865.8" stroke="#333" stroke-width="0.9"/>
<line x1="670.8" y1="863.5" x2="670.8" y2="865.8" stroke="#333" stroke-width="0.9"/>
<text transform="translate(561.2,872.5) scale(1,1.08)" text-anchor="middle" font-size="7.4">2131</text>
<text transform="translate(616,872.5) scale(1,1.08)" text-anchor="middle" font-size="7.4">2135</text>
<text transform="translate(670.8,872.5) scale(1,1.08)" text-anchor="middle" font-size="7.4">2139</text>
<text transform="translate(616.2,880.8) scale(1,1.08)" text-anchor="middle" font-size="7.4" fill="#2a2a2a">Chromosome I position (kb)</text>
</svg></body></html>
